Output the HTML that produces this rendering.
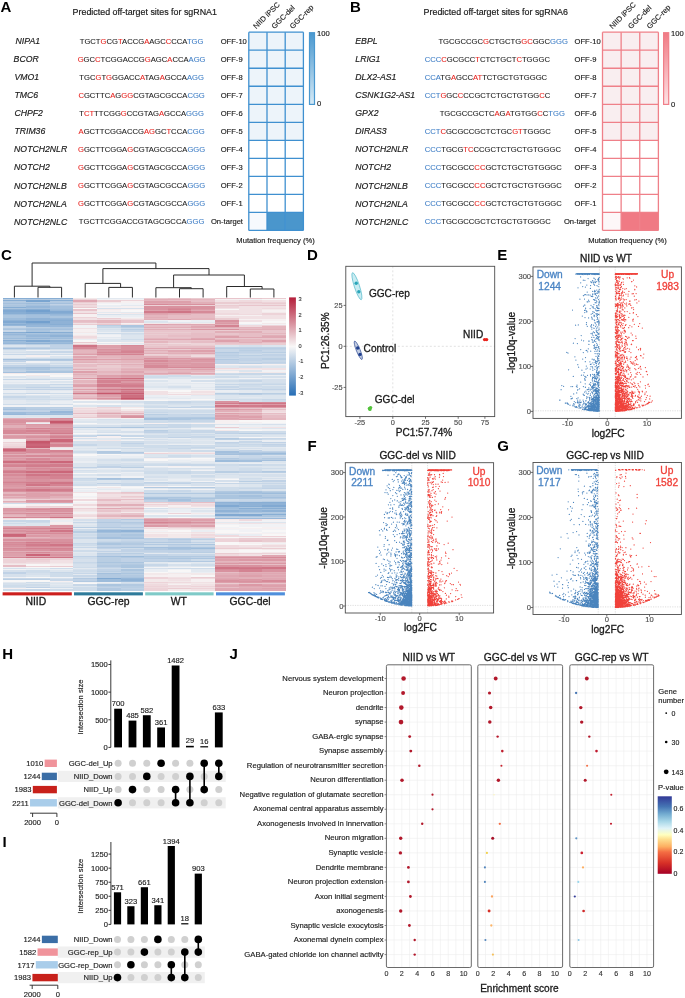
<!DOCTYPE html>
<html><head><meta charset="utf-8"><style>
html,body{margin:0;padding:0;background:#fff;}
svg{display:block;filter:blur(0.3px);font-family:"Liberation Sans", sans-serif;}
</style></head><body>
<svg width="685" height="998" viewBox="0 0 685 998">
<rect width="685" height="998" fill="#fff"/>
<text x="0.40" y="11.90" font-size="15.0" font-weight="bold" fill="#000">A</text>
<text x="72.60" y="14.84" font-size="8.9" fill="#1a1a1a" stroke="#1a1a1a" stroke-width="0.18">Predicted off-target sites for sgRNA1</text>
<text x="15.60" y="44.27" font-size="8.7" font-style="italic" fill="#1a1a1a" stroke="#1a1a1a" stroke-width="0.17">NIPA1</text>
<text x="141.60" y="43.89" font-size="7.65" stroke-width="0.09" text-anchor="middle"><tspan fill="#1a1a1a" stroke="#1a1a1a">TGCT</tspan><tspan fill="#e8231f" stroke="#e8231f">G</tspan><tspan fill="#1a1a1a" stroke="#1a1a1a">CG</tspan><tspan fill="#e8231f" stroke="#e8231f">T</tspan><tspan fill="#1a1a1a" stroke="#1a1a1a">ACCG</tspan><tspan fill="#e8231f" stroke="#e8231f">A</tspan><tspan fill="#1a1a1a" stroke="#1a1a1a">AGC</tspan><tspan fill="#e8231f" stroke="#e8231f">C</tspan><tspan fill="#1a1a1a" stroke="#1a1a1a">CCA</tspan><tspan fill="#3f7fc6" stroke="#3f7fc6">TGG</tspan></text>
<text x="220.70" y="43.87" font-size="7.6" fill="#1a1a1a" stroke="#1a1a1a" stroke-width="0.15">OFF-10</text>
<text x="13.60" y="62.30" font-size="8.7" font-style="italic" fill="#1a1a1a" stroke="#1a1a1a" stroke-width="0.17">BCOR</text>
<text x="141.60" y="61.92" font-size="7.65" stroke-width="0.09" text-anchor="middle"><tspan fill="#e8231f" stroke="#e8231f">G</tspan><tspan fill="#1a1a1a" stroke="#1a1a1a">GC</tspan><tspan fill="#e8231f" stroke="#e8231f">C</tspan><tspan fill="#1a1a1a" stroke="#1a1a1a">TCGGACCG</tspan><tspan fill="#e8231f" stroke="#e8231f">G</tspan><tspan fill="#1a1a1a" stroke="#1a1a1a">AGC</tspan><tspan fill="#e8231f" stroke="#e8231f">A</tspan><tspan fill="#1a1a1a" stroke="#1a1a1a">CCA</tspan><tspan fill="#3f7fc6" stroke="#3f7fc6">AGG</tspan></text>
<text x="220.70" y="61.90" font-size="7.6" fill="#1a1a1a" stroke="#1a1a1a" stroke-width="0.15">OFF-9</text>
<text x="14.40" y="80.33" font-size="8.7" font-style="italic" fill="#1a1a1a" stroke="#1a1a1a" stroke-width="0.17">VMO1</text>
<text x="141.60" y="79.95" font-size="7.65" stroke-width="0.09" text-anchor="middle"><tspan fill="#1a1a1a" stroke="#1a1a1a">TGC</tspan><tspan fill="#e8231f" stroke="#e8231f">G</tspan><tspan fill="#1a1a1a" stroke="#1a1a1a">T</tspan><tspan fill="#e8231f" stroke="#e8231f">G</tspan><tspan fill="#1a1a1a" stroke="#1a1a1a">GGACC</tspan><tspan fill="#e8231f" stroke="#e8231f">A</tspan><tspan fill="#1a1a1a" stroke="#1a1a1a">TAG</tspan><tspan fill="#e8231f" stroke="#e8231f">A</tspan><tspan fill="#1a1a1a" stroke="#1a1a1a">GCCA</tspan><tspan fill="#3f7fc6" stroke="#3f7fc6">AGG</tspan></text>
<text x="220.70" y="79.93" font-size="7.6" fill="#1a1a1a" stroke="#1a1a1a" stroke-width="0.15">OFF-8</text>
<text x="14.40" y="98.36" font-size="8.7" font-style="italic" fill="#1a1a1a" stroke="#1a1a1a" stroke-width="0.17">TMC6</text>
<text x="141.60" y="97.98" font-size="7.65" stroke-width="0.09" text-anchor="middle"><tspan fill="#e8231f" stroke="#e8231f">C</tspan><tspan fill="#1a1a1a" stroke="#1a1a1a">GCTTC</tspan><tspan fill="#e8231f" stroke="#e8231f">A</tspan><tspan fill="#1a1a1a" stroke="#1a1a1a">G</tspan><tspan fill="#e8231f" stroke="#e8231f">GG</tspan><tspan fill="#1a1a1a" stroke="#1a1a1a">CGTAGCGCCA</tspan><tspan fill="#3f7fc6" stroke="#3f7fc6">CGG</tspan></text>
<text x="220.70" y="97.96" font-size="7.6" fill="#1a1a1a" stroke="#1a1a1a" stroke-width="0.15">OFF-7</text>
<text x="14.40" y="116.39" font-size="8.7" font-style="italic" fill="#1a1a1a" stroke="#1a1a1a" stroke-width="0.17">CHPF2</text>
<text x="141.60" y="116.01" font-size="7.65" stroke-width="0.09" text-anchor="middle"><tspan fill="#1a1a1a" stroke="#1a1a1a">T</tspan><tspan fill="#e8231f" stroke="#e8231f">CT</tspan><tspan fill="#1a1a1a" stroke="#1a1a1a">TTCGG</tspan><tspan fill="#e8231f" stroke="#e8231f">G</tspan><tspan fill="#1a1a1a" stroke="#1a1a1a">CCGTAG</tspan><tspan fill="#e8231f" stroke="#e8231f">A</tspan><tspan fill="#1a1a1a" stroke="#1a1a1a">GCCA</tspan><tspan fill="#3f7fc6" stroke="#3f7fc6">GGG</tspan></text>
<text x="220.70" y="115.99" font-size="7.6" fill="#1a1a1a" stroke="#1a1a1a" stroke-width="0.15">OFF-6</text>
<text x="14.40" y="134.42" font-size="8.7" font-style="italic" fill="#1a1a1a" stroke="#1a1a1a" stroke-width="0.17">TRIM36</text>
<text x="141.60" y="134.04" font-size="7.65" stroke-width="0.09" text-anchor="middle"><tspan fill="#e8231f" stroke="#e8231f">A</tspan><tspan fill="#1a1a1a" stroke="#1a1a1a">GCTTCGGACCG</tspan><tspan fill="#e8231f" stroke="#e8231f">AG</tspan><tspan fill="#1a1a1a" stroke="#1a1a1a">GC</tspan><tspan fill="#e8231f" stroke="#e8231f">T</tspan><tspan fill="#1a1a1a" stroke="#1a1a1a">CCA</tspan><tspan fill="#3f7fc6" stroke="#3f7fc6">CGG</tspan></text>
<text x="220.70" y="134.02" font-size="7.6" fill="#1a1a1a" stroke="#1a1a1a" stroke-width="0.15">OFF-5</text>
<text x="14.10" y="152.45" font-size="8.7" font-style="italic" fill="#1a1a1a" stroke="#1a1a1a" stroke-width="0.17">NOTCH2NLR</text>
<text x="141.60" y="152.07" font-size="7.65" stroke-width="0.09" text-anchor="middle"><tspan fill="#e8231f" stroke="#e8231f">G</tspan><tspan fill="#1a1a1a" stroke="#1a1a1a">GCTTCGGA</tspan><tspan fill="#e8231f" stroke="#e8231f">G</tspan><tspan fill="#1a1a1a" stroke="#1a1a1a">CGTAGCGCCA</tspan><tspan fill="#3f7fc6" stroke="#3f7fc6">GGG</tspan></text>
<text x="220.70" y="152.05" font-size="7.6" fill="#1a1a1a" stroke="#1a1a1a" stroke-width="0.15">OFF-4</text>
<text x="14.10" y="170.48" font-size="8.7" font-style="italic" fill="#1a1a1a" stroke="#1a1a1a" stroke-width="0.17">NOTCH2</text>
<text x="141.60" y="170.10" font-size="7.65" stroke-width="0.09" text-anchor="middle"><tspan fill="#e8231f" stroke="#e8231f">G</tspan><tspan fill="#1a1a1a" stroke="#1a1a1a">GCTTCGGA</tspan><tspan fill="#e8231f" stroke="#e8231f">G</tspan><tspan fill="#1a1a1a" stroke="#1a1a1a">CGTAGCGCCA</tspan><tspan fill="#3f7fc6" stroke="#3f7fc6">GGG</tspan></text>
<text x="220.70" y="170.08" font-size="7.6" fill="#1a1a1a" stroke="#1a1a1a" stroke-width="0.15">OFF-3</text>
<text x="14.10" y="188.51" font-size="8.7" font-style="italic" fill="#1a1a1a" stroke="#1a1a1a" stroke-width="0.17">NOTCH2NLB</text>
<text x="141.60" y="188.13" font-size="7.65" stroke-width="0.09" text-anchor="middle"><tspan fill="#e8231f" stroke="#e8231f">G</tspan><tspan fill="#1a1a1a" stroke="#1a1a1a">GCTTCGGA</tspan><tspan fill="#e8231f" stroke="#e8231f">G</tspan><tspan fill="#1a1a1a" stroke="#1a1a1a">CGTAGCGCCA</tspan><tspan fill="#3f7fc6" stroke="#3f7fc6">GGG</tspan></text>
<text x="220.70" y="188.11" font-size="7.6" fill="#1a1a1a" stroke="#1a1a1a" stroke-width="0.15">OFF-2</text>
<text x="14.10" y="206.54" font-size="8.7" font-style="italic" fill="#1a1a1a" stroke="#1a1a1a" stroke-width="0.17">NOTCH2NLA</text>
<text x="141.60" y="206.16" font-size="7.65" stroke-width="0.09" text-anchor="middle"><tspan fill="#e8231f" stroke="#e8231f">G</tspan><tspan fill="#1a1a1a" stroke="#1a1a1a">GCTTCGGA</tspan><tspan fill="#e8231f" stroke="#e8231f">G</tspan><tspan fill="#1a1a1a" stroke="#1a1a1a">CGTAGCGCCA</tspan><tspan fill="#3f7fc6" stroke="#3f7fc6">GGG</tspan></text>
<text x="220.70" y="206.14" font-size="7.6" fill="#1a1a1a" stroke="#1a1a1a" stroke-width="0.15">OFF-1</text>
<text x="14.10" y="224.57" font-size="8.7" font-style="italic" fill="#1a1a1a" stroke="#1a1a1a" stroke-width="0.17">NOTCH2NLC</text>
<text x="141.60" y="224.19" font-size="7.65" stroke-width="0.09" text-anchor="middle"><tspan fill="#1a1a1a" stroke="#1a1a1a">TGCTTCGGACCGTAGCGCCA</tspan><tspan fill="#3f7fc6" stroke="#3f7fc6">GGG</tspan></text>
<text x="210.90" y="224.17" font-size="7.6" fill="#1a1a1a" stroke="#1a1a1a" stroke-width="0.15">On-target</text>
<rect x="248.80" y="32.20" width="18.20" height="18.02" fill="#edf4fa"/>
<rect x="267.00" y="32.20" width="18.20" height="18.02" fill="#edf4fa"/>
<rect x="285.20" y="32.20" width="18.20" height="18.02" fill="#edf4fa"/>
<rect x="248.80" y="50.22" width="18.20" height="18.02" fill="#edf4fa"/>
<rect x="267.00" y="50.22" width="18.20" height="18.02" fill="#edf4fa"/>
<rect x="285.20" y="50.22" width="18.20" height="18.02" fill="#edf4fa"/>
<rect x="248.80" y="68.24" width="18.20" height="18.02" fill="#edf4fa"/>
<rect x="267.00" y="68.24" width="18.20" height="18.02" fill="#edf4fa"/>
<rect x="285.20" y="68.24" width="18.20" height="18.02" fill="#edf4fa"/>
<rect x="248.80" y="86.26" width="18.20" height="18.02" fill="#edf4fa"/>
<rect x="267.00" y="86.26" width="18.20" height="18.02" fill="#edf4fa"/>
<rect x="285.20" y="86.26" width="18.20" height="18.02" fill="#edf4fa"/>
<rect x="248.80" y="104.28" width="18.20" height="18.02" fill="#edf4fa"/>
<rect x="267.00" y="104.28" width="18.20" height="18.02" fill="#edf4fa"/>
<rect x="285.20" y="104.28" width="18.20" height="18.02" fill="#edf4fa"/>
<rect x="248.80" y="122.30" width="18.20" height="18.02" fill="#edf4fa"/>
<rect x="267.00" y="122.30" width="18.20" height="18.02" fill="#edf4fa"/>
<rect x="285.20" y="122.30" width="18.20" height="18.02" fill="#edf4fa"/>
<rect x="248.80" y="140.32" width="18.20" height="18.02" fill="#ffffff"/>
<rect x="267.00" y="140.32" width="18.20" height="18.02" fill="#ffffff"/>
<rect x="285.20" y="140.32" width="18.20" height="18.02" fill="#ffffff"/>
<rect x="248.80" y="158.34" width="18.20" height="18.02" fill="#ffffff"/>
<rect x="267.00" y="158.34" width="18.20" height="18.02" fill="#ffffff"/>
<rect x="285.20" y="158.34" width="18.20" height="18.02" fill="#ffffff"/>
<rect x="248.80" y="176.36" width="18.20" height="18.02" fill="#ffffff"/>
<rect x="267.00" y="176.36" width="18.20" height="18.02" fill="#ffffff"/>
<rect x="285.20" y="176.36" width="18.20" height="18.02" fill="#ffffff"/>
<rect x="248.80" y="194.38" width="18.20" height="18.02" fill="#ffffff"/>
<rect x="267.00" y="194.38" width="18.20" height="18.02" fill="#ffffff"/>
<rect x="285.20" y="194.38" width="18.20" height="18.02" fill="#ffffff"/>
<rect x="248.80" y="212.40" width="18.20" height="18.02" fill="#f6f9fd"/>
<rect x="267.00" y="212.40" width="18.20" height="18.02" fill="#4a96cc"/>
<rect x="285.20" y="212.40" width="18.20" height="18.02" fill="#4a96cc"/>
<line x1="248.80" y1="32.20" x2="303.40" y2="32.20" stroke="#3f90d0" stroke-width="1.3"/>
<line x1="248.80" y1="50.22" x2="303.40" y2="50.22" stroke="#3f90d0" stroke-width="1.3"/>
<line x1="248.80" y1="68.24" x2="303.40" y2="68.24" stroke="#3f90d0" stroke-width="1.3"/>
<line x1="248.80" y1="86.26" x2="303.40" y2="86.26" stroke="#3f90d0" stroke-width="1.3"/>
<line x1="248.80" y1="104.28" x2="303.40" y2="104.28" stroke="#3f90d0" stroke-width="1.3"/>
<line x1="248.80" y1="122.30" x2="303.40" y2="122.30" stroke="#3f90d0" stroke-width="1.3"/>
<line x1="248.80" y1="140.32" x2="303.40" y2="140.32" stroke="#3f90d0" stroke-width="1.3"/>
<line x1="248.80" y1="158.34" x2="303.40" y2="158.34" stroke="#3f90d0" stroke-width="1.3"/>
<line x1="248.80" y1="176.36" x2="303.40" y2="176.36" stroke="#3f90d0" stroke-width="1.3"/>
<line x1="248.80" y1="194.38" x2="303.40" y2="194.38" stroke="#3f90d0" stroke-width="1.3"/>
<line x1="248.80" y1="212.40" x2="303.40" y2="212.40" stroke="#3f90d0" stroke-width="1.3"/>
<line x1="248.80" y1="230.42" x2="303.40" y2="230.42" stroke="#3f90d0" stroke-width="1.3"/>
<line x1="248.80" y1="32.20" x2="248.80" y2="230.42" stroke="#3f90d0" stroke-width="1.3"/>
<line x1="267.00" y1="32.20" x2="267.00" y2="230.42" stroke="#3f90d0" stroke-width="1.3"/>
<line x1="285.20" y1="32.20" x2="285.20" y2="230.42" stroke="#3f90d0" stroke-width="1.3"/>
<line x1="303.40" y1="32.20" x2="303.40" y2="230.42" stroke="#3f90d0" stroke-width="1.3"/>
<text x="0" y="0" font-size="7.45" fill="#222" stroke="#222" stroke-width="0.15" transform="translate(256.30,29.20) rotate(-45)">NIID iPSC</text>
<text x="0" y="0" font-size="7.45" fill="#222" stroke="#222" stroke-width="0.15" transform="translate(274.50,29.20) rotate(-45)">GGC-del</text>
<text x="0" y="0" font-size="7.45" fill="#222" stroke="#222" stroke-width="0.15" transform="translate(292.70,29.20) rotate(-45)">GGC-rep</text>
<defs><linearGradient id="cbA" x1="0" y1="0" x2="0" y2="1"><stop offset="0" stop-color="#4a98cf"/><stop offset="1" stop-color="#d6eaf6"/></linearGradient></defs>
<rect x="309.50" y="32.70" width="5.00" height="71.70" fill="url(#cbA)" stroke="#4a98cf" stroke-width="1.2"/>
<text x="317.00" y="35.57" font-size="7.6" fill="#1a1a1a" stroke="#1a1a1a" stroke-width="0.15">100</text>
<text x="317.00" y="106.07" font-size="7.6" fill="#1a1a1a" stroke="#1a1a1a" stroke-width="0.15">0</text>
<text x="275.60" y="243.37" font-size="7.6" text-anchor="middle" fill="#1a1a1a" stroke="#1a1a1a" stroke-width="0.15">Mutation frequency (%)</text>
<text x="350.00" y="11.80" font-size="15.0" font-weight="bold" fill="#000">B</text>
<text x="423.60" y="15.24" font-size="8.9" fill="#1a1a1a" stroke="#1a1a1a" stroke-width="0.18">Predicted off-target sites for sgRNA6</text>
<text x="355.30" y="44.27" font-size="8.7" font-style="italic" fill="#1a1a1a" stroke="#1a1a1a" stroke-width="0.17">EBPL</text>
<text x="438.40" y="43.89" font-size="7.65" stroke-width="0.09"><tspan fill="#1a1a1a" stroke="#1a1a1a">TGCGCCGC</tspan><tspan fill="#e8231f" stroke="#e8231f">G</tspan><tspan fill="#1a1a1a" stroke="#1a1a1a">CTGCTG</tspan><tspan fill="#e8231f" stroke="#e8231f">GC</tspan><tspan fill="#1a1a1a" stroke="#1a1a1a">GGC</tspan><tspan fill="#3f7fc6" stroke="#3f7fc6">GGG</tspan></text>
<text x="574.50" y="43.87" font-size="7.6" fill="#1a1a1a" stroke="#1a1a1a" stroke-width="0.15">OFF-10</text>
<text x="355.30" y="62.30" font-size="8.7" font-style="italic" fill="#1a1a1a" stroke="#1a1a1a" stroke-width="0.17">LRIG1</text>
<text x="424.70" y="61.92" font-size="7.65" stroke-width="0.09"><tspan fill="#3f7fc6" stroke="#3f7fc6">CCC</tspan><tspan fill="#e8231f" stroke="#e8231f">C</tspan><tspan fill="#1a1a1a" stroke="#1a1a1a">GCGCC</tspan><tspan fill="#e8231f" stroke="#e8231f">T</tspan><tspan fill="#1a1a1a" stroke="#1a1a1a">CTCTGCT</tspan><tspan fill="#e8231f" stroke="#e8231f">C</tspan><tspan fill="#1a1a1a" stroke="#1a1a1a">TGGGC</tspan></text>
<text x="574.50" y="61.90" font-size="7.6" fill="#1a1a1a" stroke="#1a1a1a" stroke-width="0.15">OFF-9</text>
<text x="355.30" y="80.33" font-size="8.7" font-style="italic" fill="#1a1a1a" stroke="#1a1a1a" stroke-width="0.17">DLX2-AS1</text>
<text x="424.70" y="79.95" font-size="7.65" stroke-width="0.09"><tspan fill="#3f7fc6" stroke="#3f7fc6">CCA</tspan><tspan fill="#1a1a1a" stroke="#1a1a1a">TG</tspan><tspan fill="#e8231f" stroke="#e8231f">A</tspan><tspan fill="#1a1a1a" stroke="#1a1a1a">GCC</tspan><tspan fill="#e8231f" stroke="#e8231f">AT</tspan><tspan fill="#1a1a1a" stroke="#1a1a1a">TCTGCTGTGGGC</tspan></text>
<text x="574.50" y="79.93" font-size="7.6" fill="#1a1a1a" stroke="#1a1a1a" stroke-width="0.15">OFF-8</text>
<text x="355.30" y="98.36" font-size="8.7" font-style="italic" fill="#1a1a1a" stroke="#1a1a1a" stroke-width="0.17">CSNK1G2-AS1</text>
<text x="424.70" y="97.98" font-size="7.65" stroke-width="0.09"><tspan fill="#3f7fc6" stroke="#3f7fc6">CCT</tspan><tspan fill="#e8231f" stroke="#e8231f">G</tspan><tspan fill="#1a1a1a" stroke="#1a1a1a">GC</tspan><tspan fill="#e8231f" stroke="#e8231f">C</tspan><tspan fill="#1a1a1a" stroke="#1a1a1a">CCGCTCTGCTGTGG</tspan><tspan fill="#e8231f" stroke="#e8231f">C</tspan><tspan fill="#1a1a1a" stroke="#1a1a1a">C</tspan></text>
<text x="574.50" y="97.96" font-size="7.6" fill="#1a1a1a" stroke="#1a1a1a" stroke-width="0.15">OFF-7</text>
<text x="355.30" y="116.39" font-size="8.7" font-style="italic" fill="#1a1a1a" stroke="#1a1a1a" stroke-width="0.17">GPX2</text>
<text x="439.70" y="116.01" font-size="7.65" stroke-width="0.09"><tspan fill="#1a1a1a" stroke="#1a1a1a">TGCGCCGCTC</tspan><tspan fill="#e8231f" stroke="#e8231f">A</tspan><tspan fill="#1a1a1a" stroke="#1a1a1a">G</tspan><tspan fill="#e8231f" stroke="#e8231f">A</tspan><tspan fill="#1a1a1a" stroke="#1a1a1a">TGTGG</tspan><tspan fill="#e8231f" stroke="#e8231f">C</tspan><tspan fill="#1a1a1a" stroke="#1a1a1a">C</tspan><tspan fill="#3f7fc6" stroke="#3f7fc6">TGG</tspan></text>
<text x="574.50" y="115.99" font-size="7.6" fill="#1a1a1a" stroke="#1a1a1a" stroke-width="0.15">OFF-6</text>
<text x="355.30" y="134.42" font-size="8.7" font-style="italic" fill="#1a1a1a" stroke="#1a1a1a" stroke-width="0.17">DIRAS3</text>
<text x="424.70" y="134.04" font-size="7.65" stroke-width="0.09"><tspan fill="#3f7fc6" stroke="#3f7fc6">CCT</tspan><tspan fill="#e8231f" stroke="#e8231f">C</tspan><tspan fill="#1a1a1a" stroke="#1a1a1a">GCGCCGCTCTGC</tspan><tspan fill="#e8231f" stroke="#e8231f">GT</tspan><tspan fill="#1a1a1a" stroke="#1a1a1a">TGGGC</tspan></text>
<text x="574.50" y="134.02" font-size="7.6" fill="#1a1a1a" stroke="#1a1a1a" stroke-width="0.15">OFF-5</text>
<text x="355.30" y="152.45" font-size="8.7" font-style="italic" fill="#1a1a1a" stroke="#1a1a1a" stroke-width="0.17">NOTCH2NLR</text>
<text x="424.70" y="152.07" font-size="7.65" stroke-width="0.09"><tspan fill="#3f7fc6" stroke="#3f7fc6">CCC</tspan><tspan fill="#1a1a1a" stroke="#1a1a1a">TGCG</tspan><tspan fill="#e8231f" stroke="#e8231f">TC</tspan><tspan fill="#1a1a1a" stroke="#1a1a1a">CCGCTCTGCTGTGGGC</tspan></text>
<text x="574.50" y="152.05" font-size="7.6" fill="#1a1a1a" stroke="#1a1a1a" stroke-width="0.15">OFF-4</text>
<text x="355.30" y="170.48" font-size="8.7" font-style="italic" fill="#1a1a1a" stroke="#1a1a1a" stroke-width="0.17">NOTCH2</text>
<text x="424.70" y="170.10" font-size="7.65" stroke-width="0.09"><tspan fill="#3f7fc6" stroke="#3f7fc6">CCC</tspan><tspan fill="#1a1a1a" stroke="#1a1a1a">TGCGCC</tspan><tspan fill="#e8231f" stroke="#e8231f">CC</tspan><tspan fill="#1a1a1a" stroke="#1a1a1a">GCTCTGCTGTGGGC</tspan></text>
<text x="574.50" y="170.08" font-size="7.6" fill="#1a1a1a" stroke="#1a1a1a" stroke-width="0.15">OFF-3</text>
<text x="355.30" y="188.51" font-size="8.7" font-style="italic" fill="#1a1a1a" stroke="#1a1a1a" stroke-width="0.17">NOTCH2NLB</text>
<text x="424.70" y="188.13" font-size="7.65" stroke-width="0.09"><tspan fill="#3f7fc6" stroke="#3f7fc6">CCC</tspan><tspan fill="#1a1a1a" stroke="#1a1a1a">TGCGCC</tspan><tspan fill="#e8231f" stroke="#e8231f">CC</tspan><tspan fill="#1a1a1a" stroke="#1a1a1a">GCTCTGCTGTGGGC</tspan></text>
<text x="574.50" y="188.11" font-size="7.6" fill="#1a1a1a" stroke="#1a1a1a" stroke-width="0.15">OFF-2</text>
<text x="355.30" y="206.54" font-size="8.7" font-style="italic" fill="#1a1a1a" stroke="#1a1a1a" stroke-width="0.17">NOTCH2NLA</text>
<text x="424.70" y="206.16" font-size="7.65" stroke-width="0.09"><tspan fill="#3f7fc6" stroke="#3f7fc6">CCC</tspan><tspan fill="#1a1a1a" stroke="#1a1a1a">TGCGCC</tspan><tspan fill="#e8231f" stroke="#e8231f">CC</tspan><tspan fill="#1a1a1a" stroke="#1a1a1a">GCTCTGCTGTGGGC</tspan></text>
<text x="574.50" y="206.14" font-size="7.6" fill="#1a1a1a" stroke="#1a1a1a" stroke-width="0.15">OFF-1</text>
<text x="355.30" y="224.57" font-size="8.7" font-style="italic" fill="#1a1a1a" stroke="#1a1a1a" stroke-width="0.17">NOTCH2NLC</text>
<text x="424.70" y="224.19" font-size="7.65" stroke-width="0.09"><tspan fill="#3f7fc6" stroke="#3f7fc6">CCC</tspan><tspan fill="#1a1a1a" stroke="#1a1a1a">TGCGCCGCTCTGCTGTGGGC</tspan></text>
<text x="563.90" y="224.17" font-size="7.6" fill="#1a1a1a" stroke="#1a1a1a" stroke-width="0.15">On-target</text>
<rect x="602.50" y="32.20" width="18.63" height="18.02" fill="#f9eef0"/>
<rect x="621.13" y="32.20" width="18.63" height="18.02" fill="#f9eef0"/>
<rect x="639.76" y="32.20" width="18.63" height="18.02" fill="#f9eef0"/>
<rect x="602.50" y="50.22" width="18.63" height="18.02" fill="#f9eef0"/>
<rect x="621.13" y="50.22" width="18.63" height="18.02" fill="#f9eef0"/>
<rect x="639.76" y="50.22" width="18.63" height="18.02" fill="#f9eef0"/>
<rect x="602.50" y="68.24" width="18.63" height="18.02" fill="#f9eef0"/>
<rect x="621.13" y="68.24" width="18.63" height="18.02" fill="#f9eef0"/>
<rect x="639.76" y="68.24" width="18.63" height="18.02" fill="#f9eef0"/>
<rect x="602.50" y="86.26" width="18.63" height="18.02" fill="#f9eef0"/>
<rect x="621.13" y="86.26" width="18.63" height="18.02" fill="#f9eef0"/>
<rect x="639.76" y="86.26" width="18.63" height="18.02" fill="#f9eef0"/>
<rect x="602.50" y="104.28" width="18.63" height="18.02" fill="#f9eef0"/>
<rect x="621.13" y="104.28" width="18.63" height="18.02" fill="#f9eef0"/>
<rect x="639.76" y="104.28" width="18.63" height="18.02" fill="#f9eef0"/>
<rect x="602.50" y="122.30" width="18.63" height="18.02" fill="#f9eef0"/>
<rect x="621.13" y="122.30" width="18.63" height="18.02" fill="#f9eef0"/>
<rect x="639.76" y="122.30" width="18.63" height="18.02" fill="#f9eef0"/>
<rect x="602.50" y="140.32" width="18.63" height="18.02" fill="#ffffff"/>
<rect x="621.13" y="140.32" width="18.63" height="18.02" fill="#ffffff"/>
<rect x="639.76" y="140.32" width="18.63" height="18.02" fill="#ffffff"/>
<rect x="602.50" y="158.34" width="18.63" height="18.02" fill="#ffffff"/>
<rect x="621.13" y="158.34" width="18.63" height="18.02" fill="#ffffff"/>
<rect x="639.76" y="158.34" width="18.63" height="18.02" fill="#ffffff"/>
<rect x="602.50" y="176.36" width="18.63" height="18.02" fill="#ffffff"/>
<rect x="621.13" y="176.36" width="18.63" height="18.02" fill="#ffffff"/>
<rect x="639.76" y="176.36" width="18.63" height="18.02" fill="#ffffff"/>
<rect x="602.50" y="194.38" width="18.63" height="18.02" fill="#ffffff"/>
<rect x="621.13" y="194.38" width="18.63" height="18.02" fill="#ffffff"/>
<rect x="639.76" y="194.38" width="18.63" height="18.02" fill="#ffffff"/>
<rect x="602.50" y="212.40" width="18.63" height="18.02" fill="#fdf7f8"/>
<rect x="621.13" y="212.40" width="18.63" height="18.02" fill="#f07a84"/>
<rect x="639.76" y="212.40" width="18.63" height="18.02" fill="#f07a84"/>
<line x1="602.50" y1="32.20" x2="658.39" y2="32.20" stroke="#ef8089" stroke-width="1.3"/>
<line x1="602.50" y1="50.22" x2="658.39" y2="50.22" stroke="#ef8089" stroke-width="1.3"/>
<line x1="602.50" y1="68.24" x2="658.39" y2="68.24" stroke="#ef8089" stroke-width="1.3"/>
<line x1="602.50" y1="86.26" x2="658.39" y2="86.26" stroke="#ef8089" stroke-width="1.3"/>
<line x1="602.50" y1="104.28" x2="658.39" y2="104.28" stroke="#ef8089" stroke-width="1.3"/>
<line x1="602.50" y1="122.30" x2="658.39" y2="122.30" stroke="#ef8089" stroke-width="1.3"/>
<line x1="602.50" y1="140.32" x2="658.39" y2="140.32" stroke="#ef8089" stroke-width="1.3"/>
<line x1="602.50" y1="158.34" x2="658.39" y2="158.34" stroke="#ef8089" stroke-width="1.3"/>
<line x1="602.50" y1="176.36" x2="658.39" y2="176.36" stroke="#ef8089" stroke-width="1.3"/>
<line x1="602.50" y1="194.38" x2="658.39" y2="194.38" stroke="#ef8089" stroke-width="1.3"/>
<line x1="602.50" y1="212.40" x2="658.39" y2="212.40" stroke="#ef8089" stroke-width="1.3"/>
<line x1="602.50" y1="230.42" x2="658.39" y2="230.42" stroke="#ef8089" stroke-width="1.3"/>
<line x1="602.50" y1="32.20" x2="602.50" y2="230.42" stroke="#ef8089" stroke-width="1.3"/>
<line x1="621.13" y1="32.20" x2="621.13" y2="230.42" stroke="#ef8089" stroke-width="1.3"/>
<line x1="639.76" y1="32.20" x2="639.76" y2="230.42" stroke="#ef8089" stroke-width="1.3"/>
<line x1="658.39" y1="32.20" x2="658.39" y2="230.42" stroke="#ef8089" stroke-width="1.3"/>
<text x="0" y="0" font-size="7.45" fill="#222" stroke="#222" stroke-width="0.15" transform="translate(612.42,29.20) rotate(-45)">NIID iPSC</text>
<text x="0" y="0" font-size="7.45" fill="#222" stroke="#222" stroke-width="0.15" transform="translate(631.05,29.20) rotate(-45)">GGC-del</text>
<text x="0" y="0" font-size="7.45" fill="#222" stroke="#222" stroke-width="0.15" transform="translate(649.68,29.20) rotate(-45)">GGC-rep</text>
<defs><linearGradient id="cbB" x1="0" y1="0" x2="0" y2="1"><stop offset="0" stop-color="#f07a84"/><stop offset="1" stop-color="#fde3e6"/></linearGradient></defs>
<rect x="663.60" y="32.70" width="5.10" height="71.70" fill="url(#cbB)" stroke="#f07f89" stroke-width="1.2"/>
<text x="671.10" y="36.07" font-size="7.6" fill="#1a1a1a" stroke="#1a1a1a" stroke-width="0.15">100</text>
<text x="671.10" y="107.27" font-size="7.6" fill="#1a1a1a" stroke="#1a1a1a" stroke-width="0.15">0</text>
<text x="627.50" y="243.37" font-size="7.6" text-anchor="middle" fill="#1a1a1a" stroke="#1a1a1a" stroke-width="0.15">Mutation frequency (%)</text>
<text x="1.00" y="260.00" font-size="15.0" font-weight="bold" fill="#000">C</text>
<g shape-rendering="crispEdges">
<path fill="#88aed4" d="M2.6 297.50h70.8v1.55h-70.8zM2.6 300.00h23.6v1.55h-23.6zM49.8 300.00h23.6v1.55h-23.6zM2.6 306.26h23.6v1.55h-23.6zM26.2 308.77h23.6v1.55h-23.6zM2.6 311.27h23.6v1.55h-23.6zM2.6 312.52h23.6v1.55h-23.6zM49.8 312.52h23.6v1.55h-23.6zM49.8 320.03h23.6v1.55h-23.6zM26.2 322.53h23.6v1.55h-23.6zM2.6 323.79h23.6v1.55h-23.6zM49.8 323.79h23.6v1.55h-23.6zM2.6 331.30h23.6v1.55h-23.6zM49.8 331.30h23.6v1.55h-23.6zM2.6 340.06h23.6v1.55h-23.6zM238.5 501.53h47.2v1.55h-47.2zM238.5 505.28h23.6v1.55h-23.6zM238.5 507.79h47.2v1.55h-47.2zM262.1 514.05h23.6v1.55h-23.6z"/>
<path fill="#f3e9ea" d="M73.4 297.50h23.6v1.55h-23.6zM97.0 301.26h23.6v1.55h-23.6zM97.0 308.77h23.6v1.55h-23.6zM262.1 308.77h23.6v1.55h-23.6zM262.1 311.27h23.6v1.55h-23.6zM120.6 312.52h23.6v1.55h-23.6zM120.6 317.53h23.6v1.55h-23.6zM144.1 322.53h23.6v1.55h-23.6zM191.3 322.53h23.6v1.55h-23.6zM262.1 322.53h23.6v1.55h-23.6zM73.4 331.30h23.6v1.55h-23.6zM73.4 335.05h23.6v1.55h-23.6zM73.4 342.56h23.6v1.55h-23.6zM214.9 368.85h47.2v1.55h-47.2zM238.5 371.35h47.2v1.55h-47.2zM2.6 372.60h23.6v1.55h-23.6zM26.2 375.11h23.6v1.55h-23.6zM167.7 391.38h23.6v1.55h-23.6zM191.3 392.63h23.6v1.55h-23.6zM73.4 406.40h23.6v1.55h-23.6zM120.6 406.40h23.6v1.55h-23.6zM120.6 408.90h23.6v1.55h-23.6zM120.6 410.15h23.6v1.55h-23.6zM238.5 426.43h23.6v1.55h-23.6zM214.9 430.18h23.6v1.55h-23.6zM97.0 440.19h23.6v1.55h-23.6zM49.8 448.96h23.6v1.55h-23.6zM167.7 451.46h47.2v1.55h-47.2zM97.0 486.51h23.6v1.55h-23.6zM144.1 502.78h23.6v1.55h-23.6zM2.6 506.54h23.6v1.55h-23.6zM167.7 506.54h23.6v1.55h-23.6zM73.4 510.29h23.6v1.55h-23.6zM120.6 511.54h23.6v1.55h-23.6zM191.3 512.79h23.6v1.55h-23.6zM26.2 517.80h23.6v1.55h-23.6zM73.4 517.80h23.6v1.55h-23.6zM2.6 519.05h23.6v1.55h-23.6zM49.8 519.05h23.6v1.55h-23.6zM214.9 519.05h23.6v1.55h-23.6zM262.1 519.05h23.6v1.55h-23.6zM214.9 522.81h23.6v1.55h-23.6zM262.1 522.81h23.6v1.55h-23.6zM49.8 524.06h23.6v1.55h-23.6zM167.7 529.07h47.2v1.55h-47.2zM144.1 531.57h47.2v1.55h-47.2zM191.3 532.82h23.6v1.55h-23.6zM167.7 534.07h23.6v1.55h-23.6zM167.7 535.32h23.6v1.55h-23.6zM144.1 536.58h47.2v1.55h-47.2zM262.1 541.58h23.6v1.55h-23.6zM262.1 544.09h23.6v1.55h-23.6zM262.1 546.59h23.6v1.55h-23.6zM214.9 549.09h23.6v1.55h-23.6zM262.1 549.09h23.6v1.55h-23.6zM262.1 551.60h23.6v1.55h-23.6zM262.1 554.10h23.6v1.55h-23.6zM49.8 562.86h23.6v1.55h-23.6zM2.6 564.11h23.6v1.55h-23.6zM144.1 572.88h70.8v1.55h-70.8zM144.1 574.13h23.6v1.55h-23.6zM191.3 574.13h23.6v1.55h-23.6zM144.1 579.13h23.6v1.55h-23.6zM144.1 580.39h47.2v1.55h-47.2zM167.7 582.89h47.2v1.55h-47.2zM167.7 589.15h23.6v1.55h-23.6z"/>
<path fill="#e3e9f0" d="M97.0 297.50h47.2v1.55h-47.2zM120.6 305.01h23.6v1.55h-23.6zM97.0 311.27h47.2v1.55h-47.2zM167.7 321.28h47.2v1.55h-47.2zM120.6 331.30h23.6v1.55h-23.6zM97.0 336.30h23.6v1.55h-23.6zM97.0 342.56h47.2v1.55h-47.2zM49.8 350.07h23.6v1.55h-23.6zM2.6 352.58h23.6v1.55h-23.6zM49.8 352.58h23.6v1.55h-23.6zM26.2 356.33h23.6v1.55h-23.6zM2.6 361.34h23.6v1.55h-23.6zM214.9 365.09h70.8v1.55h-70.8zM214.9 370.10h23.6v1.55h-23.6zM191.3 375.11h23.6v1.55h-23.6zM26.2 376.36h47.2v1.55h-47.2zM49.8 377.61h23.6v1.55h-23.6zM2.6 381.36h47.2v1.55h-47.2zM144.1 382.62h70.8v1.55h-70.8zM144.1 383.87h23.6v1.55h-23.6zM144.1 385.12h47.2v1.55h-47.2zM191.3 386.37h23.6v1.55h-23.6zM167.7 387.62h23.6v1.55h-23.6zM191.3 388.87h23.6v1.55h-23.6zM26.2 390.13h47.2v1.55h-47.2zM238.5 390.13h23.6v1.55h-23.6zM26.2 391.38h23.6v1.55h-23.6zM214.9 391.38h47.2v1.55h-47.2zM2.6 393.88h23.6v1.55h-23.6zM191.3 395.13h23.6v1.55h-23.6zM144.1 396.39h23.6v1.55h-23.6zM238.5 396.39h23.6v1.55h-23.6zM167.7 397.64h23.6v1.55h-23.6zM2.6 400.14h23.6v1.55h-23.6zM49.8 400.14h23.6v1.55h-23.6zM214.9 400.14h23.6v1.55h-23.6zM2.6 401.39h47.2v1.55h-47.2zM2.6 402.64h23.6v1.55h-23.6zM120.6 402.64h23.6v1.55h-23.6zM26.2 416.41h23.6v1.55h-23.6zM73.4 418.92h23.6v1.55h-23.6zM73.4 420.17h23.6v1.55h-23.6zM97.0 422.67h23.6v1.55h-23.6zM120.6 423.92h23.6v1.55h-23.6zM73.4 427.68h70.8v1.55h-70.8zM167.7 427.68h23.6v1.55h-23.6zM238.5 427.68h23.6v1.55h-23.6zM97.0 428.93h23.6v1.55h-23.6zM191.3 428.93h23.6v1.55h-23.6zM73.4 431.43h23.6v1.55h-23.6zM214.9 436.44h23.6v1.55h-23.6zM97.0 437.69h23.6v1.55h-23.6zM144.1 437.69h23.6v1.55h-23.6zM97.0 438.94h47.2v1.55h-47.2zM144.1 440.19h23.6v1.55h-23.6zM191.3 440.19h23.6v1.55h-23.6zM238.5 440.19h23.6v1.55h-23.6zM144.1 443.95h23.6v1.55h-23.6zM73.4 446.45h23.6v1.55h-23.6zM120.6 446.45h23.6v1.55h-23.6zM214.9 446.45h70.8v1.55h-70.8zM73.4 448.96h23.6v1.55h-23.6zM238.5 448.96h23.6v1.55h-23.6zM97.0 450.21h23.6v1.55h-23.6zM73.4 452.71h23.6v1.55h-23.6zM191.3 453.96h23.6v1.55h-23.6zM120.6 455.22h23.6v1.55h-23.6zM191.3 456.47h23.6v1.55h-23.6zM73.4 457.72h47.2v1.55h-47.2zM73.4 458.97h23.6v1.55h-23.6zM73.4 460.22h23.6v1.55h-23.6zM144.1 460.22h23.6v1.55h-23.6zM191.3 460.22h23.6v1.55h-23.6zM120.6 461.47h141.5v1.55h-141.5zM214.9 462.73h23.6v1.55h-23.6zM262.1 462.73h23.6v1.55h-23.6zM97.0 465.23h23.6v1.55h-23.6zM214.9 465.23h23.6v1.55h-23.6zM144.1 466.48h23.6v1.55h-23.6zM120.6 467.73h23.6v1.55h-23.6zM97.0 468.98h47.2v1.55h-47.2zM191.3 468.98h23.6v1.55h-23.6zM97.0 471.49h23.6v1.55h-23.6zM120.6 472.74h23.6v1.55h-23.6zM238.5 472.74h47.2v1.55h-47.2zM120.6 473.99h23.6v1.55h-23.6zM191.3 473.99h23.6v1.55h-23.6zM97.0 475.24h47.2v1.55h-47.2zM73.4 476.49h23.6v1.55h-23.6zM262.1 476.49h23.6v1.55h-23.6zM144.1 477.75h70.8v1.55h-70.8zM262.1 479.00h23.6v1.55h-23.6zM167.7 480.25h23.6v1.55h-23.6zM214.9 484.00h23.6v1.55h-23.6zM214.9 485.26h23.6v1.55h-23.6zM73.4 487.76h23.6v1.55h-23.6zM144.1 487.76h23.6v1.55h-23.6zM97.0 489.01h23.6v1.55h-23.6zM120.6 490.26h23.6v1.55h-23.6zM167.7 507.79h23.6v1.55h-23.6zM73.4 520.30h23.6v1.55h-23.6zM214.9 521.56h23.6v1.55h-23.6zM73.4 524.06h23.6v1.55h-23.6zM214.9 534.07h23.6v1.55h-23.6zM73.4 547.84h23.6v1.55h-23.6zM73.4 549.09h23.6v1.55h-23.6zM73.4 551.60h23.6v1.55h-23.6zM144.1 552.85h23.6v1.55h-23.6zM144.1 561.61h70.8v1.55h-70.8zM167.7 565.37h23.6v1.55h-23.6zM73.4 567.87h23.6v1.55h-23.6zM191.3 569.12h23.6v1.55h-23.6zM191.3 570.37h23.6v1.55h-23.6zM73.4 574.13h23.6v1.55h-23.6zM2.6 581.64h23.6v1.55h-23.6zM49.8 581.64h23.6v1.55h-23.6zM49.8 584.14h23.6v1.55h-23.6z"/>
<path fill="#eaccd1" d="M144.1 297.50h23.6v1.55h-23.6zM191.3 297.50h23.6v1.55h-23.6zM262.1 297.50h23.6v1.55h-23.6zM97.0 300.00h23.6v1.55h-23.6zM73.4 301.26h23.6v1.55h-23.6zM214.9 301.26h47.2v1.55h-47.2zM214.9 302.51h23.6v1.55h-23.6zM262.1 302.51h23.6v1.55h-23.6zM73.4 303.76h23.6v1.55h-23.6zM167.7 305.01h23.6v1.55h-23.6zM214.9 305.01h23.6v1.55h-23.6zM73.4 306.26h23.6v1.55h-23.6zM97.0 317.53h23.6v1.55h-23.6zM214.9 317.53h23.6v1.55h-23.6zM214.9 318.78h23.6v1.55h-23.6zM73.4 323.79h23.6v1.55h-23.6zM167.7 327.54h23.6v1.55h-23.6zM214.9 330.04h23.6v1.55h-23.6zM144.1 331.30h47.2v1.55h-47.2zM144.1 333.80h23.6v1.55h-23.6zM73.4 341.31h23.6v1.55h-23.6zM262.1 342.56h23.6v1.55h-23.6zM73.4 343.81h23.6v1.55h-23.6zM167.7 343.81h23.6v1.55h-23.6zM214.9 343.81h70.8v1.55h-70.8zM144.1 345.06h70.8v1.55h-70.8zM167.7 348.82h23.6v1.55h-23.6zM191.3 353.83h23.6v1.55h-23.6zM73.4 355.08h23.6v1.55h-23.6zM144.1 355.08h47.2v1.55h-47.2zM97.0 362.59h23.6v1.55h-23.6zM97.0 365.09h23.6v1.55h-23.6zM73.4 366.34h47.2v1.55h-47.2zM73.4 370.10h23.6v1.55h-23.6zM214.9 411.41h47.2v1.55h-47.2zM97.0 413.91h23.6v1.55h-23.6zM262.1 413.91h23.6v1.55h-23.6zM73.4 416.41h23.6v1.55h-23.6zM214.9 426.43h23.6v1.55h-23.6zM120.6 492.77h23.6v1.55h-23.6zM120.6 495.27h23.6v1.55h-23.6zM26.2 499.03h23.6v1.55h-23.6zM144.1 501.53h47.2v1.55h-47.2zM97.0 505.28h23.6v1.55h-23.6zM120.6 506.54h23.6v1.55h-23.6zM97.0 509.04h47.2v1.55h-47.2zM97.0 517.80h23.6v1.55h-23.6zM167.7 526.56h47.2v1.55h-47.2zM238.5 537.83h47.2v1.55h-47.2zM238.5 539.08h47.2v1.55h-47.2zM262.1 540.33h23.6v1.55h-23.6zM214.9 547.84h70.8v1.55h-70.8zM214.9 552.85h23.6v1.55h-23.6zM26.2 559.11h23.6v1.55h-23.6zM49.8 565.37h23.6v1.55h-23.6zM191.3 576.63h23.6v1.55h-23.6zM214.9 582.89h23.6v1.55h-23.6zM167.7 587.90h23.6v1.55h-23.6z"/>
<path fill="#e8c4cb" d="M167.7 297.50h23.6v1.55h-23.6zM214.9 297.50h47.2v1.55h-47.2zM238.5 305.01h47.2v1.55h-47.2zM73.4 308.77h23.6v1.55h-23.6zM73.4 310.02h23.6v1.55h-23.6zM73.4 312.52h23.6v1.55h-23.6zM120.6 320.03h23.6v1.55h-23.6zM73.4 321.28h23.6v1.55h-23.6zM120.6 321.28h23.6v1.55h-23.6zM97.0 323.79h23.6v1.55h-23.6zM144.1 327.54h23.6v1.55h-23.6zM144.1 330.04h70.8v1.55h-70.8zM238.5 330.04h47.2v1.55h-47.2zM191.3 331.30h23.6v1.55h-23.6zM262.1 331.30h23.6v1.55h-23.6zM144.1 332.55h47.2v1.55h-47.2zM214.9 332.55h23.6v1.55h-23.6zM167.7 333.80h23.6v1.55h-23.6zM214.9 333.80h23.6v1.55h-23.6zM262.1 333.80h23.6v1.55h-23.6zM144.1 335.05h23.6v1.55h-23.6zM144.1 336.30h47.2v1.55h-47.2zM214.9 337.55h70.8v1.55h-70.8zM144.1 340.06h70.8v1.55h-70.8zM167.7 341.31h23.6v1.55h-23.6zM214.9 342.56h47.2v1.55h-47.2zM144.1 343.81h23.6v1.55h-23.6zM144.1 346.32h23.6v1.55h-23.6zM144.1 348.82h23.6v1.55h-23.6zM167.7 353.83h23.6v1.55h-23.6zM120.6 362.59h23.6v1.55h-23.6zM120.6 366.34h23.6v1.55h-23.6zM73.4 367.60h47.2v1.55h-47.2zM97.0 368.85h23.6v1.55h-23.6zM97.0 370.10h23.6v1.55h-23.6zM191.3 371.35h23.6v1.55h-23.6zM167.7 373.85h23.6v1.55h-23.6zM73.4 376.36h23.6v1.55h-23.6zM73.4 382.62h23.6v1.55h-23.6zM73.4 386.37h23.6v1.55h-23.6zM73.4 387.62h23.6v1.55h-23.6zM73.4 390.13h23.6v1.55h-23.6zM73.4 395.13h23.6v1.55h-23.6zM238.5 407.65h23.6v1.55h-23.6zM97.0 411.41h23.6v1.55h-23.6zM97.0 416.41h23.6v1.55h-23.6zM120.6 491.51h23.6v1.55h-23.6zM49.8 499.03h23.6v1.55h-23.6zM2.6 501.53h23.6v1.55h-23.6zM97.0 510.29h23.6v1.55h-23.6zM120.6 512.79h23.6v1.55h-23.6zM97.0 514.05h47.2v1.55h-47.2zM238.5 540.33h23.6v1.55h-23.6zM238.5 582.89h47.2v1.55h-47.2z"/>
<path fill="#b9cee3" d="M2.6 298.75h23.6v1.55h-23.6zM49.8 298.75h23.6v1.55h-23.6zM97.0 325.04h23.6v1.55h-23.6zM26.2 326.29h23.6v1.55h-23.6zM120.6 326.29h23.6v1.55h-23.6zM120.6 328.79h23.6v1.55h-23.6zM49.8 330.04h23.6v1.55h-23.6zM26.2 343.81h47.2v1.55h-47.2zM49.8 347.57h23.6v1.55h-23.6zM214.9 347.57h70.8v1.55h-70.8zM238.5 350.07h23.6v1.55h-23.6zM262.1 351.32h23.6v1.55h-23.6zM214.9 355.08h47.2v1.55h-47.2zM262.1 357.58h23.6v1.55h-23.6zM262.1 358.83h23.6v1.55h-23.6zM26.2 360.09h23.6v1.55h-23.6zM238.5 362.59h23.6v1.55h-23.6zM49.8 367.60h23.6v1.55h-23.6zM2.6 368.85h23.6v1.55h-23.6zM26.2 370.10h47.2v1.55h-47.2zM214.9 392.63h23.6v1.55h-23.6zM262.1 392.63h23.6v1.55h-23.6zM238.5 393.88h23.6v1.55h-23.6zM26.2 406.40h47.2v1.55h-47.2zM26.2 407.65h23.6v1.55h-23.6zM49.8 410.15h23.6v1.55h-23.6zM144.1 413.91h23.6v1.55h-23.6zM144.1 416.41h23.6v1.55h-23.6zM191.3 418.92h23.6v1.55h-23.6zM73.4 426.43h23.6v1.55h-23.6zM144.1 430.18h23.6v1.55h-23.6zM238.5 432.68h23.6v1.55h-23.6zM97.0 435.19h23.6v1.55h-23.6zM214.9 438.94h23.6v1.55h-23.6zM97.0 452.71h23.6v1.55h-23.6zM214.9 458.97h70.8v1.55h-70.8zM120.6 466.48h23.6v1.55h-23.6zM214.9 470.24h23.6v1.55h-23.6zM214.9 471.49h23.6v1.55h-23.6zM262.1 471.49h23.6v1.55h-23.6zM238.5 480.25h23.6v1.55h-23.6zM262.1 490.26h23.6v1.55h-23.6zM214.9 494.02h70.8v1.55h-70.8zM191.3 496.52h23.6v1.55h-23.6zM191.3 499.03h23.6v1.55h-23.6zM191.3 500.28h23.6v1.55h-23.6zM262.1 500.28h23.6v1.55h-23.6zM238.5 512.79h23.6v1.55h-23.6zM120.6 522.81h23.6v1.55h-23.6zM73.4 526.56h23.6v1.55h-23.6zM120.6 529.07h23.6v1.55h-23.6zM73.4 530.32h23.6v1.55h-23.6zM73.4 531.57h23.6v1.55h-23.6zM97.0 532.82h47.2v1.55h-47.2zM191.3 539.08h23.6v1.55h-23.6zM97.0 541.58h47.2v1.55h-47.2zM191.3 549.09h23.6v1.55h-23.6zM191.3 551.60h23.6v1.55h-23.6zM97.0 552.85h47.2v1.55h-47.2zM97.0 556.60h23.6v1.55h-23.6zM144.1 556.60h47.2v1.55h-47.2zM97.0 557.86h23.6v1.55h-23.6zM97.0 559.11h23.6v1.55h-23.6zM97.0 560.36h23.6v1.55h-23.6zM144.1 560.36h23.6v1.55h-23.6zM97.0 562.86h47.2v1.55h-47.2zM97.0 564.11h23.6v1.55h-23.6zM97.0 570.37h47.2v1.55h-47.2zM120.6 571.62h23.6v1.55h-23.6zM120.6 574.13h23.6v1.55h-23.6zM2.6 579.13h47.2v1.55h-47.2zM97.0 585.39h47.2v1.55h-47.2zM120.6 586.64h23.6v1.55h-23.6zM120.6 589.15h23.6v1.55h-23.6z"/>
<path fill="#b2c9e1" d="M26.2 298.75h23.6v1.55h-23.6zM2.6 301.26h70.8v1.55h-70.8zM2.6 303.76h23.6v1.55h-23.6zM49.8 305.01h23.6v1.55h-23.6zM49.8 326.29h23.6v1.55h-23.6zM2.6 327.54h23.6v1.55h-23.6zM2.6 338.81h23.6v1.55h-23.6zM49.8 338.81h23.6v1.55h-23.6zM26.2 347.57h23.6v1.55h-23.6zM214.9 351.32h23.6v1.55h-23.6zM214.9 358.83h23.6v1.55h-23.6zM49.8 360.09h23.6v1.55h-23.6zM2.6 367.60h23.6v1.55h-23.6zM238.5 392.63h23.6v1.55h-23.6zM2.6 406.40h23.6v1.55h-23.6zM2.6 407.65h23.6v1.55h-23.6zM26.2 408.90h47.2v1.55h-47.2zM167.7 416.41h47.2v1.55h-47.2zM97.0 426.43h23.6v1.55h-23.6zM214.9 437.69h23.6v1.55h-23.6zM214.9 450.21h23.6v1.55h-23.6zM97.0 451.46h47.2v1.55h-47.2zM238.5 451.46h47.2v1.55h-47.2zM214.9 457.72h23.6v1.55h-23.6zM262.1 457.72h23.6v1.55h-23.6zM262.1 470.24h23.6v1.55h-23.6zM120.6 479.00h23.6v1.55h-23.6zM144.1 486.51h70.8v1.55h-70.8zM214.9 490.26h23.6v1.55h-23.6zM144.1 492.77h70.8v1.55h-70.8zM262.1 495.27h23.6v1.55h-23.6zM167.7 497.77h23.6v1.55h-23.6zM262.1 497.77h23.6v1.55h-23.6zM144.1 499.03h23.6v1.55h-23.6zM167.7 500.28h23.6v1.55h-23.6zM262.1 511.54h23.6v1.55h-23.6zM214.9 512.79h23.6v1.55h-23.6zM214.9 515.30h23.6v1.55h-23.6zM120.6 519.05h23.6v1.55h-23.6zM97.0 521.56h47.2v1.55h-47.2zM97.0 526.56h47.2v1.55h-47.2zM97.0 529.07h23.6v1.55h-23.6zM97.0 534.07h23.6v1.55h-23.6zM97.0 535.32h47.2v1.55h-47.2zM167.7 539.08h23.6v1.55h-23.6zM144.1 541.58h47.2v1.55h-47.2zM120.6 542.84h23.6v1.55h-23.6zM120.6 544.09h70.8v1.55h-70.8zM97.0 546.59h23.6v1.55h-23.6zM144.1 547.84h23.6v1.55h-23.6zM144.1 549.09h23.6v1.55h-23.6zM144.1 555.35h70.8v1.55h-70.8zM120.6 556.60h23.6v1.55h-23.6zM144.1 557.86h23.6v1.55h-23.6zM167.7 560.36h47.2v1.55h-47.2zM120.6 564.11h23.6v1.55h-23.6zM97.0 565.37h23.6v1.55h-23.6zM97.0 574.13h23.6v1.55h-23.6zM97.0 575.38h47.2v1.55h-47.2zM97.0 576.63h23.6v1.55h-23.6zM73.4 577.88h23.6v1.55h-23.6zM73.4 580.39h23.6v1.55h-23.6zM120.6 584.14h23.6v1.55h-23.6zM97.0 587.90h23.6v1.55h-23.6zM97.0 589.15h23.6v1.55h-23.6z"/>
<path fill="#edd3d8" d="M73.4 298.75h23.6v1.55h-23.6zM120.6 300.00h23.6v1.55h-23.6zM262.1 301.26h23.6v1.55h-23.6zM238.5 302.51h23.6v1.55h-23.6zM144.1 305.01h23.6v1.55h-23.6zM191.3 305.01h23.6v1.55h-23.6zM214.9 306.26h23.6v1.55h-23.6zM262.1 312.52h23.6v1.55h-23.6zM262.1 313.77h23.6v1.55h-23.6zM73.4 316.28h23.6v1.55h-23.6zM97.0 322.53h23.6v1.55h-23.6zM262.1 325.04h23.6v1.55h-23.6zM144.1 342.56h23.6v1.55h-23.6zM191.3 342.56h23.6v1.55h-23.6zM191.3 343.81h23.6v1.55h-23.6zM144.1 353.83h23.6v1.55h-23.6zM73.4 362.59h23.6v1.55h-23.6zM73.4 378.86h23.6v1.55h-23.6zM73.4 398.89h23.6v1.55h-23.6zM97.0 406.40h23.6v1.55h-23.6zM262.1 407.65h23.6v1.55h-23.6zM97.0 410.15h23.6v1.55h-23.6zM120.6 411.41h23.6v1.55h-23.6zM120.6 413.91h23.6v1.55h-23.6zM2.6 441.45h23.6v1.55h-23.6zM2.6 445.20h23.6v1.55h-23.6zM2.6 446.45h23.6v1.55h-23.6zM144.1 452.71h23.6v1.55h-23.6zM97.0 491.51h23.6v1.55h-23.6zM97.0 492.77h23.6v1.55h-23.6zM120.6 496.52h23.6v1.55h-23.6zM97.0 500.28h23.6v1.55h-23.6zM97.0 501.53h47.2v1.55h-47.2zM97.0 502.78h47.2v1.55h-47.2zM144.1 504.03h47.2v1.55h-47.2zM26.2 505.28h47.2v1.55h-47.2zM120.6 505.28h23.6v1.55h-23.6zM73.4 507.79h23.6v1.55h-23.6zM120.6 510.29h23.6v1.55h-23.6zM97.0 512.79h23.6v1.55h-23.6zM167.7 512.79h23.6v1.55h-23.6zM97.0 516.55h47.2v1.55h-47.2zM120.6 517.80h23.6v1.55h-23.6zM262.1 535.32h23.6v1.55h-23.6zM214.9 539.08h23.6v1.55h-23.6zM214.9 540.33h23.6v1.55h-23.6zM238.5 552.85h47.2v1.55h-47.2zM26.2 557.86h47.2v1.55h-47.2zM2.6 559.11h23.6v1.55h-23.6zM49.8 559.11h23.6v1.55h-23.6zM2.6 560.36h47.2v1.55h-47.2zM2.6 561.61h23.6v1.55h-23.6zM26.2 565.37h23.6v1.55h-23.6zM144.1 576.63h23.6v1.55h-23.6zM144.1 577.88h23.6v1.55h-23.6zM144.1 581.64h23.6v1.55h-23.6zM144.1 585.39h23.6v1.55h-23.6zM191.3 585.39h23.6v1.55h-23.6zM144.1 587.90h23.6v1.55h-23.6zM191.3 587.90h23.6v1.55h-23.6zM144.1 589.15h23.6v1.55h-23.6z"/>
<path fill="#f1f2f5" d="M97.0 298.75h47.2v1.55h-47.2zM238.5 298.75h23.6v1.55h-23.6zM97.0 302.51h47.2v1.55h-47.2zM120.6 303.76h23.6v1.55h-23.6zM97.0 316.28h47.2v1.55h-47.2zM167.7 320.03h23.6v1.55h-23.6zM262.1 323.79h23.6v1.55h-23.6zM73.4 325.04h23.6v1.55h-23.6zM73.4 326.29h23.6v1.55h-23.6zM73.4 332.55h23.6v1.55h-23.6zM97.0 335.05h23.6v1.55h-23.6zM26.2 350.07h23.6v1.55h-23.6zM49.8 355.08h23.6v1.55h-23.6zM26.2 361.34h23.6v1.55h-23.6zM262.1 370.10h23.6v1.55h-23.6zM49.8 373.85h23.6v1.55h-23.6zM238.5 377.61h23.6v1.55h-23.6zM144.1 378.86h23.6v1.55h-23.6zM191.3 378.86h23.6v1.55h-23.6zM49.8 380.11h23.6v1.55h-23.6zM191.3 381.36h23.6v1.55h-23.6zM26.2 382.62h23.6v1.55h-23.6zM26.2 393.88h23.6v1.55h-23.6zM167.7 395.13h23.6v1.55h-23.6zM144.1 398.89h47.2v1.55h-47.2zM97.0 400.14h47.2v1.55h-47.2zM167.7 400.14h23.6v1.55h-23.6zM97.0 402.64h23.6v1.55h-23.6zM73.4 403.90h23.6v1.55h-23.6zM2.6 405.15h70.8v1.55h-70.8zM167.7 407.65h47.2v1.55h-47.2zM73.4 417.66h47.2v1.55h-47.2zM238.5 422.67h47.2v1.55h-47.2zM214.9 425.17h23.6v1.55h-23.6zM191.3 427.68h23.6v1.55h-23.6zM238.5 428.93h47.2v1.55h-47.2zM262.1 430.18h23.6v1.55h-23.6zM97.0 432.68h23.6v1.55h-23.6zM262.1 436.44h23.6v1.55h-23.6zM120.6 440.19h23.6v1.55h-23.6zM120.6 453.96h23.6v1.55h-23.6zM73.4 455.22h23.6v1.55h-23.6zM167.7 458.97h47.2v1.55h-47.2zM144.1 465.23h23.6v1.55h-23.6zM167.7 466.48h47.2v1.55h-47.2zM144.1 470.24h23.6v1.55h-23.6zM191.3 470.24h23.6v1.55h-23.6zM97.0 472.74h23.6v1.55h-23.6zM120.6 476.49h23.6v1.55h-23.6zM191.3 480.25h23.6v1.55h-23.6zM214.9 481.50h23.6v1.55h-23.6zM73.4 485.26h23.6v1.55h-23.6zM120.6 485.26h23.6v1.55h-23.6zM191.3 485.26h23.6v1.55h-23.6zM120.6 487.76h23.6v1.55h-23.6zM73.4 489.01h23.6v1.55h-23.6zM144.1 489.01h23.6v1.55h-23.6zM191.3 489.01h23.6v1.55h-23.6zM97.0 490.26h23.6v1.55h-23.6zM73.4 495.27h23.6v1.55h-23.6zM73.4 501.53h23.6v1.55h-23.6zM73.4 511.54h23.6v1.55h-23.6zM167.7 511.54h23.6v1.55h-23.6zM191.3 514.05h23.6v1.55h-23.6zM191.3 516.55h23.6v1.55h-23.6zM238.5 520.30h47.2v1.55h-47.2zM214.9 524.06h70.8v1.55h-70.8zM238.5 525.31h47.2v1.55h-47.2zM214.9 526.56h23.6v1.55h-23.6zM214.9 529.07h70.8v1.55h-70.8zM144.1 530.32h23.6v1.55h-23.6zM238.5 530.32h23.6v1.55h-23.6zM262.1 531.57h23.6v1.55h-23.6zM262.1 542.84h23.6v1.55h-23.6zM2.6 566.62h23.6v1.55h-23.6zM144.1 566.62h47.2v1.55h-47.2zM2.6 569.12h23.6v1.55h-23.6zM167.7 569.12h23.6v1.55h-23.6zM167.7 571.62h23.6v1.55h-23.6zM2.6 576.63h23.6v1.55h-23.6zM49.8 576.63h23.6v1.55h-23.6zM73.4 581.64h23.6v1.55h-23.6z"/>
<path fill="#e1afb8" d="M144.1 298.75h47.2v1.55h-47.2zM191.3 301.26h23.6v1.55h-23.6zM191.3 302.51h23.6v1.55h-23.6zM167.7 313.77h23.6v1.55h-23.6zM144.1 316.28h23.6v1.55h-23.6zM144.1 318.78h23.6v1.55h-23.6zM214.9 323.79h23.6v1.55h-23.6zM144.1 326.29h47.2v1.55h-47.2zM214.9 326.29h23.6v1.55h-23.6zM144.1 328.79h47.2v1.55h-47.2zM238.5 328.79h47.2v1.55h-47.2zM214.9 331.30h47.2v1.55h-47.2zM262.1 335.05h23.6v1.55h-23.6zM238.5 341.31h23.6v1.55h-23.6zM144.1 350.07h23.6v1.55h-23.6zM73.4 352.58h23.6v1.55h-23.6zM144.1 352.58h47.2v1.55h-47.2zM97.0 355.08h47.2v1.55h-47.2zM120.6 356.33h47.2v1.55h-47.2zM120.6 357.58h23.6v1.55h-23.6zM73.4 361.34h23.6v1.55h-23.6zM120.6 363.84h23.6v1.55h-23.6zM144.1 367.60h23.6v1.55h-23.6zM191.3 367.60h23.6v1.55h-23.6zM73.4 368.85h23.6v1.55h-23.6zM120.6 368.85h47.2v1.55h-47.2zM167.7 371.35h23.6v1.55h-23.6zM73.4 373.85h23.6v1.55h-23.6zM73.4 391.38h23.6v1.55h-23.6zM97.0 396.39h23.6v1.55h-23.6zM97.0 398.89h23.6v1.55h-23.6zM214.9 403.90h23.6v1.55h-23.6zM214.9 410.15h23.6v1.55h-23.6zM238.5 415.16h23.6v1.55h-23.6zM2.6 417.66h23.6v1.55h-23.6zM238.5 417.66h23.6v1.55h-23.6zM2.6 425.17h23.6v1.55h-23.6zM2.6 426.43h23.6v1.55h-23.6zM2.6 453.96h47.2v1.55h-47.2zM26.2 456.47h23.6v1.55h-23.6zM49.8 491.51h23.6v1.55h-23.6zM49.8 492.77h23.6v1.55h-23.6zM49.8 495.27h23.6v1.55h-23.6zM49.8 496.52h23.6v1.55h-23.6zM26.2 497.77h23.6v1.55h-23.6zM2.6 500.28h23.6v1.55h-23.6zM97.0 504.03h47.2v1.55h-47.2zM120.6 507.79h23.6v1.55h-23.6zM26.2 511.54h23.6v1.55h-23.6zM2.6 514.05h23.6v1.55h-23.6zM120.6 515.30h23.6v1.55h-23.6zM191.3 520.30h23.6v1.55h-23.6zM144.1 524.06h47.2v1.55h-47.2zM2.6 537.83h23.6v1.55h-23.6zM2.6 550.35h70.8v1.55h-70.8zM214.9 561.61h23.6v1.55h-23.6zM262.1 561.61h23.6v1.55h-23.6zM238.5 571.62h47.2v1.55h-47.2zM214.9 572.88h23.6v1.55h-23.6zM214.9 574.13h23.6v1.55h-23.6zM262.1 574.13h23.6v1.55h-23.6zM214.9 576.63h70.8v1.55h-70.8zM238.5 577.88h23.6v1.55h-23.6zM214.9 584.14h23.6v1.55h-23.6zM238.5 586.64h47.2v1.55h-47.2z"/>
<path fill="#e4b6be" d="M191.3 298.75h23.6v1.55h-23.6zM144.1 300.00h23.6v1.55h-23.6zM144.1 315.02h23.6v1.55h-23.6zM144.1 317.53h23.6v1.55h-23.6zM191.3 317.53h23.6v1.55h-23.6zM191.3 318.78h23.6v1.55h-23.6zM97.0 320.03h23.6v1.55h-23.6zM97.0 321.28h23.6v1.55h-23.6zM191.3 325.04h23.6v1.55h-23.6zM238.5 326.29h47.2v1.55h-47.2zM262.1 327.54h23.6v1.55h-23.6zM262.1 332.55h23.6v1.55h-23.6zM214.9 335.05h23.6v1.55h-23.6zM144.1 337.55h23.6v1.55h-23.6zM214.9 338.81h47.2v1.55h-47.2zM238.5 340.06h23.6v1.55h-23.6zM144.1 341.31h23.6v1.55h-23.6zM73.4 350.07h23.6v1.55h-23.6zM73.4 351.32h23.6v1.55h-23.6zM167.7 351.32h47.2v1.55h-47.2zM97.0 356.33h23.6v1.55h-23.6zM73.4 357.58h23.6v1.55h-23.6zM73.4 360.09h23.6v1.55h-23.6zM120.6 360.09h23.6v1.55h-23.6zM97.0 361.34h47.2v1.55h-47.2zM97.0 363.84h23.6v1.55h-23.6zM120.6 367.60h23.6v1.55h-23.6zM120.6 370.10h94.4v1.55h-94.4zM97.0 371.35h23.6v1.55h-23.6zM120.6 372.60h23.6v1.55h-23.6zM120.6 373.85h47.2v1.55h-47.2zM191.3 373.85h23.6v1.55h-23.6zM73.4 380.11h23.6v1.55h-23.6zM73.4 381.36h23.6v1.55h-23.6zM73.4 393.88h23.6v1.55h-23.6zM238.5 410.15h23.6v1.55h-23.6zM120.6 412.66h23.6v1.55h-23.6zM214.9 413.91h47.2v1.55h-47.2zM262.1 417.66h23.6v1.55h-23.6zM262.1 418.92h23.6v1.55h-23.6zM26.2 447.71h23.6v1.55h-23.6zM2.6 491.51h23.6v1.55h-23.6zM2.6 492.77h23.6v1.55h-23.6zM2.6 495.27h23.6v1.55h-23.6zM2.6 515.30h23.6v1.55h-23.6zM97.0 515.30h23.6v1.55h-23.6zM144.1 517.80h47.2v1.55h-47.2zM191.3 524.06h23.6v1.55h-23.6zM2.6 536.58h47.2v1.55h-47.2zM214.9 560.36h23.6v1.55h-23.6zM262.1 560.36h23.6v1.55h-23.6zM214.9 564.11h23.6v1.55h-23.6z"/>
<path fill="#f6f0f1" d="M214.9 298.75h23.6v1.55h-23.6zM120.6 301.26h23.6v1.55h-23.6zM97.0 306.26h47.2v1.55h-47.2zM120.6 308.77h23.6v1.55h-23.6zM97.0 310.02h23.6v1.55h-23.6zM262.1 310.02h23.6v1.55h-23.6zM97.0 312.52h23.6v1.55h-23.6zM73.4 313.77h23.6v1.55h-23.6zM73.4 315.02h23.6v1.55h-23.6zM214.9 315.02h47.2v1.55h-47.2zM238.5 318.78h47.2v1.55h-47.2zM262.1 320.03h23.6v1.55h-23.6zM120.6 322.53h23.6v1.55h-23.6zM73.4 328.79h23.6v1.55h-23.6zM73.4 330.04h23.6v1.55h-23.6zM73.4 333.80h23.6v1.55h-23.6zM120.6 341.31h23.6v1.55h-23.6zM97.0 343.81h23.6v1.55h-23.6zM26.2 355.08h23.6v1.55h-23.6zM214.9 363.84h70.8v1.55h-70.8zM214.9 371.35h23.6v1.55h-23.6zM26.2 372.60h47.2v1.55h-47.2zM191.3 390.13h23.6v1.55h-23.6zM167.7 392.63h23.6v1.55h-23.6zM120.6 417.66h23.6v1.55h-23.6zM214.9 420.17h23.6v1.55h-23.6zM214.9 421.42h47.2v1.55h-47.2zM144.1 422.67h23.6v1.55h-23.6zM191.3 422.67h47.2v1.55h-47.2zM73.4 436.44h47.2v1.55h-47.2zM2.6 438.94h23.6v1.55h-23.6zM2.6 440.19h23.6v1.55h-23.6zM73.4 440.19h23.6v1.55h-23.6zM144.1 451.46h23.6v1.55h-23.6zM144.1 457.72h23.6v1.55h-23.6zM167.7 465.23h23.6v1.55h-23.6zM144.1 485.26h23.6v1.55h-23.6zM73.4 496.52h23.6v1.55h-23.6zM73.4 502.78h23.6v1.55h-23.6zM26.2 504.03h23.6v1.55h-23.6zM2.6 505.28h23.6v1.55h-23.6zM73.4 505.28h23.6v1.55h-23.6zM167.7 505.28h23.6v1.55h-23.6zM73.4 506.54h23.6v1.55h-23.6zM191.3 506.54h23.6v1.55h-23.6zM73.4 512.79h23.6v1.55h-23.6zM144.1 512.79h23.6v1.55h-23.6zM73.4 516.55h23.6v1.55h-23.6zM214.9 520.30h23.6v1.55h-23.6zM49.8 521.56h23.6v1.55h-23.6zM49.8 522.81h23.6v1.55h-23.6zM262.1 526.56h23.6v1.55h-23.6zM214.9 527.81h70.8v1.55h-70.8zM144.1 529.07h23.6v1.55h-23.6zM144.1 532.82h47.2v1.55h-47.2zM214.9 532.82h70.8v1.55h-70.8zM238.5 536.58h47.2v1.55h-47.2zM238.5 541.58h23.6v1.55h-23.6zM238.5 542.84h23.6v1.55h-23.6zM238.5 549.09h23.6v1.55h-23.6zM214.9 550.35h23.6v1.55h-23.6zM214.9 551.60h47.2v1.55h-47.2zM49.8 564.11h23.6v1.55h-23.6zM167.7 574.13h23.6v1.55h-23.6zM144.1 575.38h47.2v1.55h-47.2zM191.3 579.13h23.6v1.55h-23.6zM49.8 580.39h23.6v1.55h-23.6zM191.3 580.39h23.6v1.55h-23.6zM167.7 584.14h23.6v1.55h-23.6zM2.6 587.90h23.6v1.55h-23.6z"/>
<path fill="#f8f7f7" d="M262.1 298.75h23.6v1.55h-23.6zM97.0 303.76h23.6v1.55h-23.6zM73.4 307.51h23.6v1.55h-23.6zM214.9 308.77h23.6v1.55h-23.6zM120.6 310.02h23.6v1.55h-23.6zM238.5 321.28h47.2v1.55h-47.2zM238.5 322.53h23.6v1.55h-23.6zM73.4 340.06h23.6v1.55h-23.6zM97.0 341.31h23.6v1.55h-23.6zM2.6 373.85h47.2v1.55h-47.2zM2.6 375.11h23.6v1.55h-23.6zM49.8 375.11h23.6v1.55h-23.6zM144.1 390.13h47.2v1.55h-47.2zM191.3 398.89h23.6v1.55h-23.6zM73.4 400.14h23.6v1.55h-23.6zM144.1 400.14h23.6v1.55h-23.6zM73.4 402.64h23.6v1.55h-23.6zM97.0 403.90h23.6v1.55h-23.6zM120.6 407.65h23.6v1.55h-23.6zM238.5 420.17h47.2v1.55h-47.2zM262.1 421.42h23.6v1.55h-23.6zM73.4 422.67h23.6v1.55h-23.6zM214.9 428.93h23.6v1.55h-23.6zM238.5 430.18h23.6v1.55h-23.6zM73.4 432.68h23.6v1.55h-23.6zM120.6 436.44h23.6v1.55h-23.6zM238.5 436.44h23.6v1.55h-23.6zM73.4 453.96h47.2v1.55h-47.2zM167.7 457.72h47.2v1.55h-47.2zM144.1 458.97h23.6v1.55h-23.6zM73.4 472.74h23.6v1.55h-23.6zM214.9 479.00h23.6v1.55h-23.6zM97.0 485.26h23.6v1.55h-23.6zM167.7 485.26h23.6v1.55h-23.6zM73.4 486.51h23.6v1.55h-23.6zM120.6 486.51h23.6v1.55h-23.6zM73.4 492.77h23.6v1.55h-23.6zM73.4 494.02h23.6v1.55h-23.6zM73.4 497.77h23.6v1.55h-23.6zM73.4 500.28h23.6v1.55h-23.6zM2.6 504.03h23.6v1.55h-23.6zM49.8 504.03h23.6v1.55h-23.6zM144.1 506.54h23.6v1.55h-23.6zM144.1 514.05h47.2v1.55h-47.2zM167.7 516.55h23.6v1.55h-23.6zM26.2 519.05h23.6v1.55h-23.6zM214.9 525.31h23.6v1.55h-23.6zM238.5 526.56h23.6v1.55h-23.6zM167.7 530.32h23.6v1.55h-23.6zM214.9 530.32h23.6v1.55h-23.6zM262.1 530.32h23.6v1.55h-23.6zM214.9 531.57h47.2v1.55h-47.2zM262.1 534.07h23.6v1.55h-23.6zM214.9 536.58h23.6v1.55h-23.6zM214.9 541.58h23.6v1.55h-23.6zM214.9 542.84h23.6v1.55h-23.6zM214.9 544.09h47.2v1.55h-47.2zM238.5 550.35h47.2v1.55h-47.2zM26.2 564.11h23.6v1.55h-23.6zM26.2 566.62h47.2v1.55h-47.2zM191.3 566.62h23.6v1.55h-23.6zM167.7 570.37h23.6v1.55h-23.6zM144.1 571.62h23.6v1.55h-23.6zM191.3 575.38h23.6v1.55h-23.6zM26.2 576.63h23.6v1.55h-23.6zM2.6 580.39h47.2v1.55h-47.2zM73.4 582.89h23.6v1.55h-23.6zM26.2 587.90h23.6v1.55h-23.6z"/>
<path fill="#7aa5d0" d="M26.2 300.00h23.6v1.55h-23.6zM26.2 331.30h23.6v1.55h-23.6z"/>
<path fill="#dfa7b2" d="M73.4 300.00h23.6v1.55h-23.6zM144.1 302.51h47.2v1.55h-47.2zM191.3 310.02h23.6v1.55h-23.6zM167.7 312.52h47.2v1.55h-47.2zM144.1 313.77h23.6v1.55h-23.6zM167.7 318.78h23.6v1.55h-23.6zM167.7 323.79h47.2v1.55h-47.2zM191.3 326.29h23.6v1.55h-23.6zM238.5 336.30h47.2v1.55h-47.2zM191.3 337.55h23.6v1.55h-23.6zM144.1 338.81h47.2v1.55h-47.2zM97.0 347.57h23.6v1.55h-23.6zM144.1 347.57h70.8v1.55h-70.8zM73.4 348.82h23.6v1.55h-23.6zM167.7 350.07h23.6v1.55h-23.6zM191.3 352.58h23.6v1.55h-23.6zM73.4 356.33h23.6v1.55h-23.6zM167.7 358.83h23.6v1.55h-23.6zM191.3 361.34h23.6v1.55h-23.6zM167.7 368.85h23.6v1.55h-23.6zM120.6 371.35h23.6v1.55h-23.6zM144.1 372.60h23.6v1.55h-23.6zM191.3 372.60h23.6v1.55h-23.6zM97.0 376.36h23.6v1.55h-23.6zM73.4 383.87h23.6v1.55h-23.6zM73.4 397.64h23.6v1.55h-23.6zM97.0 412.66h23.6v1.55h-23.6zM238.5 412.66h23.6v1.55h-23.6zM214.9 416.41h23.6v1.55h-23.6zM26.2 417.66h23.6v1.55h-23.6zM214.9 418.92h23.6v1.55h-23.6zM26.2 426.43h23.6v1.55h-23.6zM49.8 433.94h23.6v1.55h-23.6zM2.6 437.69h47.2v1.55h-47.2zM26.2 452.71h23.6v1.55h-23.6zM2.6 456.47h23.6v1.55h-23.6zM49.8 456.47h23.6v1.55h-23.6zM2.6 466.48h23.6v1.55h-23.6zM2.6 475.24h23.6v1.55h-23.6zM49.8 475.24h23.6v1.55h-23.6zM26.2 485.26h47.2v1.55h-47.2zM26.2 491.51h23.6v1.55h-23.6zM2.6 496.52h47.2v1.55h-47.2zM26.2 501.53h23.6v1.55h-23.6zM97.0 507.79h23.6v1.55h-23.6zM2.6 511.54h23.6v1.55h-23.6zM49.8 511.54h23.6v1.55h-23.6zM49.8 514.05h23.6v1.55h-23.6zM26.2 515.30h23.6v1.55h-23.6zM191.3 522.81h23.6v1.55h-23.6zM2.6 525.31h23.6v1.55h-23.6zM167.7 525.31h23.6v1.55h-23.6zM26.2 534.07h23.6v1.55h-23.6zM49.8 536.58h23.6v1.55h-23.6zM26.2 537.83h47.2v1.55h-47.2zM2.6 540.33h23.6v1.55h-23.6zM2.6 555.35h47.2v1.55h-47.2zM214.9 555.35h70.8v1.55h-70.8zM214.9 557.86h70.8v1.55h-70.8zM238.5 561.61h23.6v1.55h-23.6zM238.5 572.88h47.2v1.55h-47.2zM238.5 574.13h23.6v1.55h-23.6zM214.9 575.38h23.6v1.55h-23.6zM262.1 575.38h23.6v1.55h-23.6zM214.9 577.88h23.6v1.55h-23.6zM262.1 577.88h23.6v1.55h-23.6zM262.1 579.13h23.6v1.55h-23.6zM262.1 584.14h23.6v1.55h-23.6zM214.9 585.39h47.2v1.55h-47.2zM214.9 587.90h47.2v1.55h-47.2zM214.9 589.15h70.8v1.55h-70.8z"/>
<path fill="#e6bdc5" d="M167.7 300.00h47.2v1.55h-47.2zM191.3 313.77h23.6v1.55h-23.6zM167.7 315.02h47.2v1.55h-47.2zM167.7 316.28h47.2v1.55h-47.2zM167.7 317.53h23.6v1.55h-23.6zM73.4 320.03h23.6v1.55h-23.6zM144.1 325.04h47.2v1.55h-47.2zM191.3 327.54h70.8v1.55h-70.8zM191.3 332.55h23.6v1.55h-23.6zM238.5 332.55h23.6v1.55h-23.6zM191.3 333.80h23.6v1.55h-23.6zM238.5 333.80h23.6v1.55h-23.6zM167.7 335.05h47.2v1.55h-47.2zM238.5 335.05h23.6v1.55h-23.6zM191.3 336.30h23.6v1.55h-23.6zM167.7 337.55h23.6v1.55h-23.6zM262.1 338.81h23.6v1.55h-23.6zM191.3 341.31h47.2v1.55h-47.2zM262.1 341.31h23.6v1.55h-23.6zM167.7 346.32h47.2v1.55h-47.2zM191.3 348.82h23.6v1.55h-23.6zM144.1 351.32h23.6v1.55h-23.6zM167.7 356.33h47.2v1.55h-47.2zM97.0 357.58h23.6v1.55h-23.6zM97.0 360.09h23.6v1.55h-23.6zM73.4 363.84h23.6v1.55h-23.6zM73.4 365.09h23.6v1.55h-23.6zM120.6 365.09h23.6v1.55h-23.6zM167.7 367.60h23.6v1.55h-23.6zM144.1 371.35h23.6v1.55h-23.6zM73.4 372.60h47.2v1.55h-47.2zM97.0 373.85h23.6v1.55h-23.6zM73.4 375.11h23.6v1.55h-23.6zM73.4 396.39h23.6v1.55h-23.6zM214.9 407.65h23.6v1.55h-23.6zM262.1 408.90h23.6v1.55h-23.6zM73.4 412.66h23.6v1.55h-23.6zM262.1 412.66h23.6v1.55h-23.6zM97.0 415.16h23.6v1.55h-23.6zM262.1 415.16h23.6v1.55h-23.6zM262.1 416.41h23.6v1.55h-23.6zM2.6 433.94h47.2v1.55h-47.2zM2.6 497.77h23.6v1.55h-23.6zM49.8 497.77h23.6v1.55h-23.6zM97.0 499.03h47.2v1.55h-47.2zM191.3 501.53h23.6v1.55h-23.6zM191.3 517.80h23.6v1.55h-23.6zM238.5 560.36h23.6v1.55h-23.6zM238.5 564.11h47.2v1.55h-47.2zM2.6 565.37h23.6v1.55h-23.6zM214.9 571.62h23.6v1.55h-23.6zM214.9 586.64h23.6v1.55h-23.6z"/>
<path fill="#f1e1e4" d="M214.9 300.00h23.6v1.55h-23.6zM262.1 300.00h23.6v1.55h-23.6zM214.9 303.76h23.6v1.55h-23.6zM238.5 306.26h47.2v1.55h-47.2zM214.9 307.51h47.2v1.55h-47.2zM238.5 308.77h23.6v1.55h-23.6zM214.9 310.02h47.2v1.55h-47.2zM73.4 311.27h23.6v1.55h-23.6zM214.9 311.27h47.2v1.55h-47.2zM238.5 312.52h23.6v1.55h-23.6zM262.1 315.02h23.6v1.55h-23.6zM214.9 316.28h70.8v1.55h-70.8zM73.4 317.53h23.6v1.55h-23.6zM238.5 317.53h47.2v1.55h-47.2zM73.4 318.78h23.6v1.55h-23.6zM238.5 320.03h23.6v1.55h-23.6zM73.4 322.53h23.6v1.55h-23.6zM167.7 322.53h23.6v1.55h-23.6zM120.6 323.79h23.6v1.55h-23.6zM73.4 327.54h23.6v1.55h-23.6zM73.4 337.55h23.6v1.55h-23.6zM238.5 367.60h47.2v1.55h-47.2zM262.1 368.85h23.6v1.55h-23.6zM144.1 391.38h23.6v1.55h-23.6zM191.3 391.38h23.6v1.55h-23.6zM144.1 392.63h23.6v1.55h-23.6zM144.1 393.88h23.6v1.55h-23.6zM191.3 393.88h23.6v1.55h-23.6zM97.0 407.65h23.6v1.55h-23.6zM73.4 408.90h23.6v1.55h-23.6zM262.1 411.41h23.6v1.55h-23.6zM73.4 413.91h23.6v1.55h-23.6zM262.1 426.43h23.6v1.55h-23.6zM2.6 442.70h23.6v1.55h-23.6zM49.8 446.45h23.6v1.55h-23.6zM73.4 491.51h23.6v1.55h-23.6zM97.0 494.02h47.2v1.55h-47.2zM97.0 495.27h23.6v1.55h-23.6zM120.6 497.77h23.6v1.55h-23.6zM191.3 502.78h23.6v1.55h-23.6zM144.1 505.28h23.6v1.55h-23.6zM191.3 505.28h23.6v1.55h-23.6zM73.4 509.04h23.6v1.55h-23.6zM73.4 514.05h23.6v1.55h-23.6zM238.5 522.81h23.6v1.55h-23.6zM144.1 526.56h23.6v1.55h-23.6zM167.7 527.81h23.6v1.55h-23.6zM191.3 531.57h23.6v1.55h-23.6zM144.1 534.07h23.6v1.55h-23.6zM144.1 535.32h23.6v1.55h-23.6zM191.3 535.32h23.6v1.55h-23.6zM238.5 545.34h23.6v1.55h-23.6zM238.5 554.10h23.6v1.55h-23.6zM49.8 560.36h23.6v1.55h-23.6zM49.8 561.61h23.6v1.55h-23.6zM2.6 562.86h47.2v1.55h-47.2zM167.7 576.63h23.6v1.55h-23.6zM167.7 579.13h23.6v1.55h-23.6zM191.3 581.64h23.6v1.55h-23.6zM144.1 582.89h23.6v1.55h-23.6zM191.3 584.14h23.6v1.55h-23.6zM167.7 586.64h47.2v1.55h-47.2zM191.3 589.15h23.6v1.55h-23.6z"/>
<path fill="#efdade" d="M238.5 300.00h23.6v1.55h-23.6zM73.4 302.51h23.6v1.55h-23.6zM238.5 303.76h47.2v1.55h-47.2zM73.4 305.01h23.6v1.55h-23.6zM262.1 307.51h23.6v1.55h-23.6zM214.9 312.52h23.6v1.55h-23.6zM214.9 313.77h47.2v1.55h-47.2zM97.0 318.78h47.2v1.55h-47.2zM238.5 325.04h23.6v1.55h-23.6zM73.4 336.30h23.6v1.55h-23.6zM167.7 342.56h23.6v1.55h-23.6zM191.3 355.08h23.6v1.55h-23.6zM214.9 367.60h23.6v1.55h-23.6zM167.7 393.88h23.6v1.55h-23.6zM73.4 407.65h23.6v1.55h-23.6zM97.0 408.90h23.6v1.55h-23.6zM73.4 410.15h23.6v1.55h-23.6zM262.1 410.15h23.6v1.55h-23.6zM73.4 411.41h23.6v1.55h-23.6zM73.4 415.16h23.6v1.55h-23.6zM26.2 421.42h23.6v1.55h-23.6zM2.6 443.95h23.6v1.55h-23.6zM167.7 452.71h47.2v1.55h-47.2zM97.0 496.52h23.6v1.55h-23.6zM97.0 497.77h23.6v1.55h-23.6zM2.6 499.03h23.6v1.55h-23.6zM73.4 499.03h23.6v1.55h-23.6zM120.6 500.28h23.6v1.55h-23.6zM167.7 502.78h23.6v1.55h-23.6zM73.4 504.03h23.6v1.55h-23.6zM191.3 504.03h23.6v1.55h-23.6zM26.2 506.54h47.2v1.55h-47.2zM97.0 506.54h23.6v1.55h-23.6zM97.0 511.54h23.6v1.55h-23.6zM73.4 515.30h23.6v1.55h-23.6zM2.6 517.80h23.6v1.55h-23.6zM49.8 517.80h23.6v1.55h-23.6zM238.5 519.05h23.6v1.55h-23.6zM144.1 527.81h23.6v1.55h-23.6zM191.3 527.81h23.6v1.55h-23.6zM191.3 534.07h23.6v1.55h-23.6zM214.9 535.32h47.2v1.55h-47.2zM191.3 536.58h23.6v1.55h-23.6zM214.9 537.83h23.6v1.55h-23.6zM214.9 545.34h23.6v1.55h-23.6zM262.1 545.34h23.6v1.55h-23.6zM214.9 546.59h47.2v1.55h-47.2zM214.9 554.10h23.6v1.55h-23.6zM2.6 557.86h23.6v1.55h-23.6zM26.2 561.61h23.6v1.55h-23.6zM167.7 577.88h47.2v1.55h-47.2zM167.7 581.64h23.6v1.55h-23.6zM144.1 584.14h23.6v1.55h-23.6zM167.7 585.39h23.6v1.55h-23.6zM144.1 586.64h23.6v1.55h-23.6z"/>
<path fill="#dda0ab" d="M144.1 301.26h47.2v1.55h-47.2zM144.1 310.02h23.6v1.55h-23.6zM144.1 312.52h23.6v1.55h-23.6zM214.9 321.28h23.6v1.55h-23.6zM144.1 323.79h23.6v1.55h-23.6zM214.9 336.30h23.6v1.55h-23.6zM191.3 338.81h23.6v1.55h-23.6zM214.9 340.06h23.6v1.55h-23.6zM262.1 340.06h23.6v1.55h-23.6zM97.0 345.06h23.6v1.55h-23.6zM97.0 346.32h23.6v1.55h-23.6zM191.3 350.07h23.6v1.55h-23.6zM73.4 353.83h23.6v1.55h-23.6zM191.3 357.58h23.6v1.55h-23.6zM97.0 358.83h70.8v1.55h-70.8zM144.1 361.34h47.2v1.55h-47.2zM167.7 363.84h23.6v1.55h-23.6zM191.3 368.85h23.6v1.55h-23.6zM73.4 371.35h23.6v1.55h-23.6zM167.7 372.60h23.6v1.55h-23.6zM97.0 375.11h23.6v1.55h-23.6zM120.6 376.36h23.6v1.55h-23.6zM73.4 385.12h23.6v1.55h-23.6zM97.0 386.37h23.6v1.55h-23.6zM97.0 387.62h47.2v1.55h-47.2zM73.4 388.87h23.6v1.55h-23.6zM97.0 395.13h23.6v1.55h-23.6zM238.5 403.90h23.6v1.55h-23.6zM214.9 406.40h47.2v1.55h-47.2zM238.5 408.90h23.6v1.55h-23.6zM214.9 412.66h23.6v1.55h-23.6zM120.6 415.16h23.6v1.55h-23.6zM214.9 415.16h23.6v1.55h-23.6zM238.5 416.41h23.6v1.55h-23.6zM214.9 417.66h23.6v1.55h-23.6zM26.2 418.92h23.6v1.55h-23.6zM238.5 418.92h23.6v1.55h-23.6zM2.6 422.67h23.6v1.55h-23.6zM26.2 425.17h23.6v1.55h-23.6zM49.8 426.43h23.6v1.55h-23.6zM2.6 435.19h47.2v1.55h-47.2zM26.2 438.94h23.6v1.55h-23.6zM49.8 452.71h23.6v1.55h-23.6zM49.8 453.96h23.6v1.55h-23.6zM2.6 458.97h23.6v1.55h-23.6zM49.8 466.48h23.6v1.55h-23.6zM2.6 467.73h23.6v1.55h-23.6zM2.6 468.98h23.6v1.55h-23.6zM26.2 475.24h23.6v1.55h-23.6zM2.6 486.51h23.6v1.55h-23.6zM26.2 492.77h23.6v1.55h-23.6zM2.6 494.02h70.8v1.55h-70.8zM26.2 495.27h23.6v1.55h-23.6zM49.8 501.53h23.6v1.55h-23.6zM2.6 510.29h23.6v1.55h-23.6zM26.2 514.05h23.6v1.55h-23.6zM49.8 515.30h23.6v1.55h-23.6zM167.7 519.05h47.2v1.55h-47.2zM144.1 520.30h47.2v1.55h-47.2zM167.7 522.81h23.6v1.55h-23.6zM26.2 525.31h23.6v1.55h-23.6zM191.3 525.31h23.6v1.55h-23.6zM49.8 526.56h23.6v1.55h-23.6zM2.6 529.07h23.6v1.55h-23.6zM2.6 531.57h23.6v1.55h-23.6zM49.8 534.07h23.6v1.55h-23.6zM49.8 535.32h23.6v1.55h-23.6zM26.2 540.33h23.6v1.55h-23.6zM2.6 546.59h23.6v1.55h-23.6zM2.6 552.85h70.8v1.55h-70.8zM2.6 554.10h23.6v1.55h-23.6zM49.8 555.35h23.6v1.55h-23.6zM214.9 559.11h23.6v1.55h-23.6zM238.5 575.38h23.6v1.55h-23.6zM214.9 579.13h23.6v1.55h-23.6zM214.9 581.64h23.6v1.55h-23.6zM262.1 581.64h23.6v1.55h-23.6zM262.1 585.39h23.6v1.55h-23.6zM262.1 587.90h23.6v1.55h-23.6z"/>
<path fill="#a4c0dd" d="M2.6 302.51h23.6v1.55h-23.6zM49.8 302.51h23.6v1.55h-23.6zM26.2 305.01h23.6v1.55h-23.6zM49.8 306.26h23.6v1.55h-23.6zM26.2 307.51h47.2v1.55h-47.2zM26.2 315.02h23.6v1.55h-23.6zM26.2 316.28h23.6v1.55h-23.6zM26.2 328.79h47.2v1.55h-47.2zM2.6 332.55h23.6v1.55h-23.6zM49.8 332.55h23.6v1.55h-23.6zM2.6 335.05h23.6v1.55h-23.6zM26.2 336.30h47.2v1.55h-47.2zM26.2 341.31h23.6v1.55h-23.6zM2.6 347.57h23.6v1.55h-23.6zM2.6 358.83h23.6v1.55h-23.6zM26.2 366.34h23.6v1.55h-23.6zM2.6 371.35h47.2v1.55h-47.2zM2.6 408.90h23.6v1.55h-23.6zM26.2 411.41h23.6v1.55h-23.6zM49.8 412.66h23.6v1.55h-23.6zM144.1 417.66h23.6v1.55h-23.6zM144.1 418.92h23.6v1.55h-23.6zM214.9 451.46h23.6v1.55h-23.6zM238.5 452.71h23.6v1.55h-23.6zM214.9 453.96h47.2v1.55h-47.2zM238.5 460.22h47.2v1.55h-47.2zM97.0 477.75h23.6v1.55h-23.6zM238.5 491.51h23.6v1.55h-23.6zM214.9 492.77h47.2v1.55h-47.2zM238.5 495.27h23.6v1.55h-23.6zM262.1 496.52h23.6v1.55h-23.6zM144.1 497.77h23.6v1.55h-23.6zM167.7 499.03h23.6v1.55h-23.6zM214.9 509.04h23.6v1.55h-23.6zM262.1 509.04h23.6v1.55h-23.6zM214.9 511.54h23.6v1.55h-23.6zM97.0 531.57h23.6v1.55h-23.6zM97.0 536.58h23.6v1.55h-23.6zM97.0 537.83h47.2v1.55h-47.2zM144.1 546.59h47.2v1.55h-47.2zM167.7 547.84h23.6v1.55h-23.6zM97.0 555.35h23.6v1.55h-23.6zM97.0 572.88h23.6v1.55h-23.6z"/>
<path fill="#9dbcdb" d="M26.2 302.51h23.6v1.55h-23.6zM49.8 308.77h23.6v1.55h-23.6zM2.6 313.77h47.2v1.55h-47.2zM49.8 315.02h23.6v1.55h-23.6zM2.6 317.53h23.6v1.55h-23.6zM2.6 318.78h23.6v1.55h-23.6zM26.2 333.80h47.2v1.55h-47.2zM2.6 337.55h23.6v1.55h-23.6zM49.8 337.55h23.6v1.55h-23.6zM2.6 341.31h23.6v1.55h-23.6zM49.8 341.31h23.6v1.55h-23.6zM2.6 411.41h23.6v1.55h-23.6zM2.6 412.66h23.6v1.55h-23.6zM26.2 413.91h47.2v1.55h-47.2zM262.1 452.71h23.6v1.55h-23.6zM214.9 460.22h23.6v1.55h-23.6zM262.1 492.77h23.6v1.55h-23.6zM214.9 506.54h23.6v1.55h-23.6zM262.1 506.54h23.6v1.55h-23.6zM214.9 507.79h23.6v1.55h-23.6zM238.5 509.04h23.6v1.55h-23.6zM238.5 517.80h23.6v1.55h-23.6zM191.3 547.84h23.6v1.55h-23.6zM120.6 555.35h23.6v1.55h-23.6zM97.0 579.13h23.6v1.55h-23.6zM97.0 580.39h47.2v1.55h-47.2z"/>
<path fill="#abc5df" d="M26.2 303.76h23.6v1.55h-23.6zM2.6 305.01h23.6v1.55h-23.6zM2.6 307.51h23.6v1.55h-23.6zM2.6 315.02h23.6v1.55h-23.6zM2.6 316.28h23.6v1.55h-23.6zM49.8 316.28h23.6v1.55h-23.6zM120.6 325.04h23.6v1.55h-23.6zM26.2 327.54h47.2v1.55h-47.2zM2.6 328.79h23.6v1.55h-23.6zM26.2 330.04h23.6v1.55h-23.6zM26.2 332.55h23.6v1.55h-23.6zM2.6 336.30h23.6v1.55h-23.6zM26.2 338.81h23.6v1.55h-23.6zM26.2 358.83h47.2v1.55h-47.2zM2.6 366.34h23.6v1.55h-23.6zM49.8 366.34h23.6v1.55h-23.6zM26.2 367.60h23.6v1.55h-23.6zM26.2 368.85h23.6v1.55h-23.6zM49.8 371.35h23.6v1.55h-23.6zM26.2 412.66h23.6v1.55h-23.6zM167.7 417.66h47.2v1.55h-47.2zM167.7 418.92h23.6v1.55h-23.6zM120.6 426.43h23.6v1.55h-23.6zM214.9 452.71h23.6v1.55h-23.6zM262.1 453.96h23.6v1.55h-23.6zM238.5 470.24h23.6v1.55h-23.6zM120.6 477.75h23.6v1.55h-23.6zM97.0 479.00h23.6v1.55h-23.6zM238.5 490.26h23.6v1.55h-23.6zM214.9 491.51h23.6v1.55h-23.6zM262.1 491.51h23.6v1.55h-23.6zM214.9 495.27h23.6v1.55h-23.6zM144.1 496.52h47.2v1.55h-47.2zM214.9 496.52h47.2v1.55h-47.2zM191.3 497.77h70.8v1.55h-70.8zM238.5 506.54h23.6v1.55h-23.6zM238.5 511.54h23.6v1.55h-23.6zM262.1 512.79h23.6v1.55h-23.6zM238.5 515.30h47.2v1.55h-47.2zM120.6 531.57h23.6v1.55h-23.6zM120.6 534.07h23.6v1.55h-23.6zM120.6 536.58h23.6v1.55h-23.6zM97.0 542.84h23.6v1.55h-23.6zM97.0 544.09h23.6v1.55h-23.6zM191.3 544.09h23.6v1.55h-23.6zM120.6 546.59h23.6v1.55h-23.6zM191.3 546.59h23.6v1.55h-23.6zM167.7 549.09h23.6v1.55h-23.6zM167.7 557.86h47.2v1.55h-47.2zM97.0 561.61h47.2v1.55h-47.2zM120.6 565.37h23.6v1.55h-23.6zM120.6 566.62h23.6v1.55h-23.6zM120.6 569.12h23.6v1.55h-23.6zM120.6 572.88h23.6v1.55h-23.6zM120.6 576.63h23.6v1.55h-23.6zM97.0 584.14h23.6v1.55h-23.6z"/>
<path fill="#c0d2e6" d="M49.8 303.76h23.6v1.55h-23.6zM2.6 343.81h23.6v1.55h-23.6zM49.8 345.06h23.6v1.55h-23.6zM2.6 346.32h70.8v1.55h-70.8zM214.9 346.32h70.8v1.55h-70.8zM238.5 348.82h47.2v1.55h-47.2zM238.5 351.32h23.6v1.55h-23.6zM214.9 352.58h23.6v1.55h-23.6zM214.9 353.83h23.6v1.55h-23.6zM262.1 353.83h23.6v1.55h-23.6zM262.1 355.08h23.6v1.55h-23.6zM214.9 356.33h23.6v1.55h-23.6zM238.5 357.58h23.6v1.55h-23.6zM238.5 358.83h23.6v1.55h-23.6zM2.6 360.09h23.6v1.55h-23.6zM214.9 360.09h47.2v1.55h-47.2zM214.9 361.34h23.6v1.55h-23.6zM262.1 361.34h23.6v1.55h-23.6zM214.9 362.59h23.6v1.55h-23.6zM2.6 365.09h47.2v1.55h-47.2zM49.8 368.85h23.6v1.55h-23.6zM2.6 370.10h23.6v1.55h-23.6zM26.2 386.37h47.2v1.55h-47.2zM2.6 388.87h70.8v1.55h-70.8zM214.9 388.87h23.6v1.55h-23.6zM262.1 388.87h23.6v1.55h-23.6zM167.7 406.40h23.6v1.55h-23.6zM49.8 407.65h23.6v1.55h-23.6zM2.6 410.15h47.2v1.55h-47.2zM191.3 413.91h23.6v1.55h-23.6zM144.1 426.43h23.6v1.55h-23.6zM144.1 431.43h23.6v1.55h-23.6zM214.9 432.68h23.6v1.55h-23.6zM262.1 432.68h23.6v1.55h-23.6zM167.7 436.44h23.6v1.55h-23.6zM238.5 438.94h23.6v1.55h-23.6zM214.9 441.45h23.6v1.55h-23.6zM262.1 441.45h23.6v1.55h-23.6zM120.6 442.70h23.6v1.55h-23.6zM262.1 443.95h23.6v1.55h-23.6zM238.5 450.21h47.2v1.55h-47.2zM120.6 452.71h23.6v1.55h-23.6zM238.5 457.72h23.6v1.55h-23.6zM73.4 466.48h47.2v1.55h-47.2zM238.5 471.49h23.6v1.55h-23.6zM262.1 480.25h23.6v1.55h-23.6zM144.1 481.50h23.6v1.55h-23.6zM97.0 482.75h23.6v1.55h-23.6zM167.7 482.75h23.6v1.55h-23.6zM262.1 487.76h23.6v1.55h-23.6zM144.1 500.28h23.6v1.55h-23.6zM214.9 500.28h47.2v1.55h-47.2zM214.9 516.55h70.8v1.55h-70.8zM97.0 519.05h23.6v1.55h-23.6zM97.0 520.30h23.6v1.55h-23.6zM97.0 522.81h23.6v1.55h-23.6zM97.0 524.06h47.2v1.55h-47.2zM97.0 525.31h23.6v1.55h-23.6zM144.1 537.83h47.2v1.55h-47.2zM144.1 539.08h23.6v1.55h-23.6zM120.6 540.33h23.6v1.55h-23.6zM167.7 540.33h23.6v1.55h-23.6zM191.3 541.58h23.6v1.55h-23.6zM97.0 545.34h47.2v1.55h-47.2zM167.7 545.34h23.6v1.55h-23.6zM97.0 547.84h23.6v1.55h-23.6zM120.6 549.09h23.6v1.55h-23.6zM97.0 550.35h118.0v1.55h-118.0zM167.7 551.60h23.6v1.55h-23.6zM97.0 554.10h23.6v1.55h-23.6zM144.1 554.10h23.6v1.55h-23.6zM73.4 555.35h23.6v1.55h-23.6zM191.3 556.60h23.6v1.55h-23.6zM120.6 557.86h23.6v1.55h-23.6zM120.6 559.11h70.8v1.55h-70.8zM120.6 560.36h23.6v1.55h-23.6zM97.0 566.62h23.6v1.55h-23.6zM97.0 569.12h23.6v1.55h-23.6zM2.6 571.62h23.6v1.55h-23.6zM2.6 572.88h23.6v1.55h-23.6zM73.4 579.13h23.6v1.55h-23.6zM26.2 586.64h23.6v1.55h-23.6zM97.0 586.64h23.6v1.55h-23.6zM120.6 587.90h23.6v1.55h-23.6z"/>
<path fill="#d68a98" d="M144.1 303.76h23.6v1.55h-23.6zM167.7 307.51h23.6v1.55h-23.6zM191.3 311.27h23.6v1.55h-23.6zM120.6 345.06h23.6v1.55h-23.6zM73.4 346.32h23.6v1.55h-23.6zM73.4 347.57h23.6v1.55h-23.6zM120.6 350.07h23.6v1.55h-23.6zM97.0 351.32h23.6v1.55h-23.6zM97.0 353.83h23.6v1.55h-23.6zM144.1 360.09h23.6v1.55h-23.6zM144.1 365.09h23.6v1.55h-23.6zM144.1 366.34h70.8v1.55h-70.8zM120.6 382.62h23.6v1.55h-23.6zM120.6 390.13h23.6v1.55h-23.6zM97.0 391.38h23.6v1.55h-23.6zM238.5 401.39h47.2v1.55h-47.2zM49.8 417.66h23.6v1.55h-23.6zM49.8 427.68h23.6v1.55h-23.6zM2.6 430.18h23.6v1.55h-23.6zM49.8 430.18h23.6v1.55h-23.6zM2.6 431.43h23.6v1.55h-23.6zM49.8 431.43h23.6v1.55h-23.6zM2.6 432.68h47.2v1.55h-47.2zM49.8 441.45h23.6v1.55h-23.6zM49.8 445.20h23.6v1.55h-23.6zM2.6 447.71h23.6v1.55h-23.6zM26.2 448.96h23.6v1.55h-23.6zM26.2 450.21h23.6v1.55h-23.6zM26.2 451.46h23.6v1.55h-23.6zM26.2 455.22h47.2v1.55h-47.2zM26.2 457.72h23.6v1.55h-23.6zM26.2 458.97h23.6v1.55h-23.6zM49.8 460.22h23.6v1.55h-23.6zM2.6 463.98h23.6v1.55h-23.6zM26.2 467.73h47.2v1.55h-47.2zM49.8 468.98h23.6v1.55h-23.6zM2.6 470.24h47.2v1.55h-47.2zM2.6 473.99h23.6v1.55h-23.6zM26.2 476.49h23.6v1.55h-23.6zM26.2 477.75h23.6v1.55h-23.6zM26.2 490.26h47.2v1.55h-47.2zM49.8 507.79h23.6v1.55h-23.6zM26.2 509.04h23.6v1.55h-23.6zM26.2 512.79h47.2v1.55h-47.2zM26.2 516.55h23.6v1.55h-23.6zM167.7 521.56h23.6v1.55h-23.6zM26.2 530.32h23.6v1.55h-23.6zM26.2 532.82h47.2v1.55h-47.2zM2.6 541.58h23.6v1.55h-23.6zM49.8 541.58h23.6v1.55h-23.6zM26.2 542.84h23.6v1.55h-23.6zM2.6 544.09h23.6v1.55h-23.6zM26.2 545.34h47.2v1.55h-47.2zM2.6 547.84h23.6v1.55h-23.6zM49.8 549.09h23.6v1.55h-23.6zM26.2 551.60h23.6v1.55h-23.6zM262.1 556.60h23.6v1.55h-23.6zM214.9 569.12h23.6v1.55h-23.6zM262.1 580.39h23.6v1.55h-23.6z"/>
<path fill="#d8929f" d="M167.7 303.76h47.2v1.55h-47.2zM144.1 306.26h70.8v1.55h-70.8zM144.1 307.51h23.6v1.55h-23.6zM191.3 307.51h23.6v1.55h-23.6zM144.1 308.77h23.6v1.55h-23.6zM167.7 310.02h23.6v1.55h-23.6zM214.9 320.03h23.6v1.55h-23.6zM214.9 328.79h23.6v1.55h-23.6zM120.6 346.32h23.6v1.55h-23.6zM120.6 347.57h23.6v1.55h-23.6zM97.0 348.82h47.2v1.55h-47.2zM144.1 357.58h23.6v1.55h-23.6zM191.3 358.83h23.6v1.55h-23.6zM144.1 362.59h23.6v1.55h-23.6zM120.6 386.37h23.6v1.55h-23.6zM97.0 393.88h23.6v1.55h-23.6zM97.0 397.64h23.6v1.55h-23.6zM214.9 401.39h23.6v1.55h-23.6zM120.6 416.41h23.6v1.55h-23.6zM49.8 418.92h23.6v1.55h-23.6zM2.6 420.17h47.2v1.55h-47.2zM2.6 421.42h23.6v1.55h-23.6zM49.8 423.92h23.6v1.55h-23.6zM49.8 428.93h23.6v1.55h-23.6zM26.2 431.43h23.6v1.55h-23.6zM49.8 435.19h23.6v1.55h-23.6zM26.2 436.44h23.6v1.55h-23.6zM26.2 440.19h23.6v1.55h-23.6zM49.8 451.46h23.6v1.55h-23.6zM2.6 452.71h23.6v1.55h-23.6zM2.6 455.22h23.6v1.55h-23.6zM2.6 460.22h47.2v1.55h-47.2zM26.2 462.73h47.2v1.55h-47.2zM26.2 468.98h23.6v1.55h-23.6zM26.2 472.74h47.2v1.55h-47.2zM2.6 477.75h23.6v1.55h-23.6zM26.2 479.00h23.6v1.55h-23.6zM2.6 480.25h70.8v1.55h-70.8zM2.6 482.75h23.6v1.55h-23.6zM2.6 484.00h23.6v1.55h-23.6zM26.2 486.51h23.6v1.55h-23.6zM26.2 487.76h47.2v1.55h-47.2zM2.6 490.26h23.6v1.55h-23.6zM49.8 500.28h23.6v1.55h-23.6zM49.8 509.04h23.6v1.55h-23.6zM49.8 510.29h23.6v1.55h-23.6zM2.6 512.79h23.6v1.55h-23.6zM191.3 521.56h23.6v1.55h-23.6zM2.6 530.32h23.6v1.55h-23.6zM2.6 532.82h23.6v1.55h-23.6zM2.6 539.08h70.8v1.55h-70.8zM49.8 540.33h23.6v1.55h-23.6zM2.6 542.84h23.6v1.55h-23.6zM49.8 542.84h23.6v1.55h-23.6zM2.6 545.34h23.6v1.55h-23.6zM2.6 549.09h47.2v1.55h-47.2zM49.8 554.10h23.6v1.55h-23.6zM214.9 556.60h47.2v1.55h-47.2zM214.9 565.37h47.2v1.55h-47.2zM262.1 569.12h23.6v1.55h-23.6zM214.9 570.37h23.6v1.55h-23.6zM262.1 570.37h23.6v1.55h-23.6zM214.9 580.39h47.2v1.55h-47.2z"/>
<path fill="#eaeef3" d="M97.0 305.01h23.6v1.55h-23.6zM97.0 315.02h47.2v1.55h-47.2zM144.1 320.03h23.6v1.55h-23.6zM191.3 320.03h23.6v1.55h-23.6zM238.5 323.79h23.6v1.55h-23.6zM97.0 331.30h23.6v1.55h-23.6zM97.0 333.80h23.6v1.55h-23.6zM97.0 337.55h23.6v1.55h-23.6zM73.4 338.81h23.6v1.55h-23.6zM120.6 343.81h23.6v1.55h-23.6zM2.6 355.08h23.6v1.55h-23.6zM2.6 356.33h23.6v1.55h-23.6zM262.1 375.11h23.6v1.55h-23.6zM2.6 377.61h23.6v1.55h-23.6zM214.9 377.61h23.6v1.55h-23.6zM262.1 377.61h23.6v1.55h-23.6zM167.7 378.86h23.6v1.55h-23.6zM2.6 380.11h47.2v1.55h-47.2zM167.7 380.11h23.6v1.55h-23.6zM144.1 381.36h47.2v1.55h-47.2zM2.6 382.62h23.6v1.55h-23.6zM49.8 382.62h23.6v1.55h-23.6zM167.7 383.87h47.2v1.55h-47.2zM191.3 385.12h23.6v1.55h-23.6zM144.1 387.62h23.6v1.55h-23.6zM191.3 387.62h23.6v1.55h-23.6zM144.1 388.87h47.2v1.55h-47.2zM2.6 390.13h23.6v1.55h-23.6zM214.9 390.13h23.6v1.55h-23.6zM2.6 391.38h23.6v1.55h-23.6zM49.8 391.38h23.6v1.55h-23.6zM49.8 393.88h23.6v1.55h-23.6zM144.1 395.13h23.6v1.55h-23.6zM167.7 396.39h47.2v1.55h-47.2zM144.1 397.64h23.6v1.55h-23.6zM191.3 397.64h23.6v1.55h-23.6zM191.3 400.14h23.6v1.55h-23.6zM49.8 401.39h23.6v1.55h-23.6zM49.8 402.64h23.6v1.55h-23.6zM120.6 403.90h23.6v1.55h-23.6zM144.1 407.65h23.6v1.55h-23.6zM26.2 422.67h23.6v1.55h-23.6zM120.6 422.67h23.6v1.55h-23.6zM167.7 422.67h23.6v1.55h-23.6zM73.4 423.92h47.2v1.55h-47.2zM238.5 425.17h47.2v1.55h-47.2zM214.9 427.68h23.6v1.55h-23.6zM120.6 428.93h23.6v1.55h-23.6zM73.4 430.18h23.6v1.55h-23.6zM120.6 430.18h23.6v1.55h-23.6zM120.6 432.68h23.6v1.55h-23.6zM73.4 433.94h23.6v1.55h-23.6zM120.6 433.94h23.6v1.55h-23.6zM167.7 437.69h23.6v1.55h-23.6zM73.4 438.94h23.6v1.55h-23.6zM214.9 440.19h23.6v1.55h-23.6zM262.1 440.19h23.6v1.55h-23.6zM167.7 443.95h47.2v1.55h-47.2zM49.8 447.71h23.6v1.55h-23.6zM97.0 448.96h23.6v1.55h-23.6zM191.3 448.96h23.6v1.55h-23.6zM97.0 455.22h23.6v1.55h-23.6zM73.4 456.47h70.8v1.55h-70.8zM97.0 460.22h23.6v1.55h-23.6zM167.7 460.22h23.6v1.55h-23.6zM73.4 461.47h23.6v1.55h-23.6zM238.5 462.73h23.6v1.55h-23.6zM191.3 465.23h23.6v1.55h-23.6zM97.0 467.73h23.6v1.55h-23.6zM73.4 468.98h23.6v1.55h-23.6zM167.7 470.24h23.6v1.55h-23.6zM120.6 471.49h23.6v1.55h-23.6zM73.4 475.24h23.6v1.55h-23.6zM97.0 476.49h23.6v1.55h-23.6zM214.9 477.75h23.6v1.55h-23.6zM167.7 479.00h23.6v1.55h-23.6zM144.1 480.25h23.6v1.55h-23.6zM97.0 487.76h23.6v1.55h-23.6zM120.6 489.01h23.6v1.55h-23.6zM167.7 489.01h23.6v1.55h-23.6zM73.4 490.26h23.6v1.55h-23.6zM144.1 509.04h70.8v1.55h-70.8zM167.7 510.29h23.6v1.55h-23.6zM144.1 511.54h23.6v1.55h-23.6zM191.3 511.54h23.6v1.55h-23.6zM144.1 516.55h23.6v1.55h-23.6zM49.8 520.30h23.6v1.55h-23.6zM73.4 527.81h23.6v1.55h-23.6zM191.3 530.32h23.6v1.55h-23.6zM238.5 534.07h23.6v1.55h-23.6zM167.7 562.86h23.6v1.55h-23.6zM26.2 569.12h47.2v1.55h-47.2zM144.1 569.12h23.6v1.55h-23.6zM144.1 570.37h23.6v1.55h-23.6zM191.3 571.62h23.6v1.55h-23.6zM97.0 581.64h23.6v1.55h-23.6zM49.8 587.90h23.6v1.55h-23.6z"/>
<path fill="#96b7d9" d="M26.2 306.26h23.6v1.55h-23.6zM49.8 310.02h23.6v1.55h-23.6zM49.8 313.77h23.6v1.55h-23.6zM49.8 317.53h23.6v1.55h-23.6zM2.6 322.53h23.6v1.55h-23.6zM2.6 325.04h70.8v1.55h-70.8zM2.6 333.80h23.6v1.55h-23.6zM26.2 335.05h23.6v1.55h-23.6zM26.2 337.55h23.6v1.55h-23.6zM2.6 342.56h23.6v1.55h-23.6zM49.8 342.56h23.6v1.55h-23.6zM49.8 411.41h23.6v1.55h-23.6zM2.6 413.91h23.6v1.55h-23.6zM214.9 502.78h23.6v1.55h-23.6zM214.9 504.03h23.6v1.55h-23.6zM238.5 510.29h23.6v1.55h-23.6zM214.9 517.80h23.6v1.55h-23.6zM262.1 517.80h23.6v1.55h-23.6zM97.0 530.32h23.6v1.55h-23.6zM120.6 577.88h23.6v1.55h-23.6z"/>
<path fill="#d5e0ec" d="M97.0 307.51h47.2v1.55h-47.2zM97.0 313.77h23.6v1.55h-23.6zM97.0 328.79h23.6v1.55h-23.6zM120.6 333.80h23.6v1.55h-23.6zM26.2 345.06h23.6v1.55h-23.6zM238.5 345.06h23.6v1.55h-23.6zM49.8 348.82h23.6v1.55h-23.6zM2.6 351.32h47.2v1.55h-47.2zM2.6 357.58h23.6v1.55h-23.6zM26.2 362.59h23.6v1.55h-23.6zM238.5 366.34h23.6v1.55h-23.6zM144.1 375.11h23.6v1.55h-23.6zM191.3 376.36h23.6v1.55h-23.6zM238.5 376.36h47.2v1.55h-47.2zM238.5 378.86h47.2v1.55h-47.2zM191.3 380.11h23.6v1.55h-23.6zM262.1 380.11h23.6v1.55h-23.6zM262.1 381.36h23.6v1.55h-23.6zM238.5 382.62h23.6v1.55h-23.6zM2.6 383.87h23.6v1.55h-23.6zM167.7 386.37h23.6v1.55h-23.6zM238.5 386.37h23.6v1.55h-23.6zM26.2 387.62h47.2v1.55h-47.2zM214.9 387.62h23.6v1.55h-23.6zM262.1 390.13h23.6v1.55h-23.6zM49.8 396.39h23.6v1.55h-23.6zM2.6 397.64h47.2v1.55h-47.2zM2.6 398.89h23.6v1.55h-23.6zM238.5 400.14h23.6v1.55h-23.6zM120.6 401.39h23.6v1.55h-23.6zM191.3 402.64h23.6v1.55h-23.6zM49.8 403.90h23.6v1.55h-23.6zM167.7 403.90h47.2v1.55h-47.2zM97.0 405.15h23.6v1.55h-23.6zM144.1 405.15h23.6v1.55h-23.6zM144.1 408.90h23.6v1.55h-23.6zM144.1 412.66h47.2v1.55h-47.2zM97.0 418.92h23.6v1.55h-23.6zM120.6 421.42h23.6v1.55h-23.6zM167.7 421.42h47.2v1.55h-47.2zM262.1 423.92h23.6v1.55h-23.6zM73.4 425.17h47.2v1.55h-47.2zM167.7 428.93h23.6v1.55h-23.6zM97.0 431.43h47.2v1.55h-47.2zM144.1 432.68h47.2v1.55h-47.2zM262.1 433.94h23.6v1.55h-23.6zM191.3 435.19h70.8v1.55h-70.8zM73.4 437.69h23.6v1.55h-23.6zM144.1 438.94h23.6v1.55h-23.6zM73.4 441.45h47.2v1.55h-47.2zM144.1 441.45h47.2v1.55h-47.2zM73.4 442.70h47.2v1.55h-47.2zM144.1 442.70h23.6v1.55h-23.6zM238.5 442.70h47.2v1.55h-47.2zM97.0 443.95h23.6v1.55h-23.6zM97.0 445.20h23.6v1.55h-23.6zM144.1 447.71h23.6v1.55h-23.6zM238.5 447.71h23.6v1.55h-23.6zM144.1 448.96h47.2v1.55h-47.2zM120.6 450.21h70.8v1.55h-70.8zM191.3 455.22h47.2v1.55h-47.2zM262.1 455.22h23.6v1.55h-23.6zM144.1 456.47h47.2v1.55h-47.2zM97.0 458.97h23.6v1.55h-23.6zM120.6 462.73h70.8v1.55h-70.8zM120.6 463.98h23.6v1.55h-23.6zM214.9 466.48h47.2v1.55h-47.2zM144.1 467.73h94.4v1.55h-94.4zM144.1 468.98h23.6v1.55h-23.6zM214.9 468.98h23.6v1.55h-23.6zM73.4 470.24h23.6v1.55h-23.6zM120.6 470.24h23.6v1.55h-23.6zM97.0 473.99h23.6v1.55h-23.6zM214.9 473.99h70.8v1.55h-70.8zM144.1 475.24h47.2v1.55h-47.2zM238.5 475.24h47.2v1.55h-47.2zM144.1 476.49h23.6v1.55h-23.6zM191.3 476.49h23.6v1.55h-23.6zM262.1 477.75h23.6v1.55h-23.6zM238.5 479.00h23.6v1.55h-23.6zM120.6 480.25h23.6v1.55h-23.6zM214.9 480.25h23.6v1.55h-23.6zM73.4 481.50h23.6v1.55h-23.6zM120.6 481.50h23.6v1.55h-23.6zM262.1 481.50h23.6v1.55h-23.6zM73.4 482.75h23.6v1.55h-23.6zM191.3 482.75h23.6v1.55h-23.6zM97.0 484.00h23.6v1.55h-23.6zM144.1 484.00h23.6v1.55h-23.6zM191.3 484.00h23.6v1.55h-23.6zM262.1 484.00h23.6v1.55h-23.6zM167.7 487.76h47.2v1.55h-47.2zM238.5 489.01h23.6v1.55h-23.6zM191.3 490.26h23.6v1.55h-23.6zM26.2 502.78h47.2v1.55h-47.2zM144.1 507.79h23.6v1.55h-23.6zM73.4 519.05h23.6v1.55h-23.6zM73.4 532.82h23.6v1.55h-23.6zM73.4 535.32h23.6v1.55h-23.6zM191.3 540.33h23.6v1.55h-23.6zM191.3 542.84h23.6v1.55h-23.6zM97.0 549.09h23.6v1.55h-23.6zM97.0 551.60h23.6v1.55h-23.6zM73.4 559.11h23.6v1.55h-23.6zM73.4 560.36h23.6v1.55h-23.6zM73.4 564.11h23.6v1.55h-23.6zM167.7 564.11h23.6v1.55h-23.6zM73.4 565.37h23.6v1.55h-23.6zM144.1 565.37h23.6v1.55h-23.6zM2.6 567.87h23.6v1.55h-23.6zM144.1 567.87h23.6v1.55h-23.6zM73.4 569.12h23.6v1.55h-23.6zM2.6 570.37h23.6v1.55h-23.6zM73.4 571.62h23.6v1.55h-23.6zM26.2 572.88h23.6v1.55h-23.6zM2.6 574.13h47.2v1.55h-47.2zM2.6 575.38h23.6v1.55h-23.6zM73.4 576.63h23.6v1.55h-23.6zM49.8 577.88h23.6v1.55h-23.6zM120.6 581.64h23.6v1.55h-23.6zM2.6 582.89h23.6v1.55h-23.6zM2.6 584.14h23.6v1.55h-23.6zM26.2 585.39h23.6v1.55h-23.6zM2.6 586.64h23.6v1.55h-23.6z"/>
<path fill="#8fb2d6" d="M2.6 308.77h23.6v1.55h-23.6zM26.2 317.53h23.6v1.55h-23.6zM26.2 318.78h47.2v1.55h-47.2zM2.6 320.03h47.2v1.55h-47.2zM49.8 321.28h23.6v1.55h-23.6zM49.8 322.53h23.6v1.55h-23.6zM26.2 323.79h23.6v1.55h-23.6zM49.8 335.05h23.6v1.55h-23.6zM49.8 340.06h23.6v1.55h-23.6zM26.2 342.56h23.6v1.55h-23.6zM214.9 501.53h23.6v1.55h-23.6zM238.5 502.78h47.2v1.55h-47.2zM238.5 504.03h47.2v1.55h-47.2zM214.9 510.29h23.6v1.55h-23.6zM262.1 510.29h23.6v1.55h-23.6zM120.6 530.32h23.6v1.55h-23.6zM120.6 579.13h23.6v1.55h-23.6z"/>
<path fill="#d48392" d="M167.7 308.77h23.6v1.55h-23.6zM214.9 325.04h23.6v1.55h-23.6zM120.6 351.32h23.6v1.55h-23.6zM120.6 353.83h23.6v1.55h-23.6zM97.0 380.11h47.2v1.55h-47.2zM97.0 381.36h23.6v1.55h-23.6zM120.6 383.87h23.6v1.55h-23.6zM120.6 398.89h23.6v1.55h-23.6zM49.8 420.17h23.6v1.55h-23.6zM26.2 427.68h23.6v1.55h-23.6zM26.2 430.18h23.6v1.55h-23.6zM49.8 436.44h23.6v1.55h-23.6zM49.8 443.95h23.6v1.55h-23.6zM49.8 450.21h23.6v1.55h-23.6zM26.2 463.98h23.6v1.55h-23.6zM2.6 465.23h23.6v1.55h-23.6zM49.8 470.24h23.6v1.55h-23.6zM49.8 476.49h23.6v1.55h-23.6zM49.8 477.75h23.6v1.55h-23.6zM2.6 481.50h23.6v1.55h-23.6zM26.2 482.75h23.6v1.55h-23.6zM49.8 484.00h23.6v1.55h-23.6zM2.6 489.01h23.6v1.55h-23.6zM2.6 516.55h23.6v1.55h-23.6zM144.1 521.56h23.6v1.55h-23.6zM2.6 527.81h47.2v1.55h-47.2zM26.2 547.84h47.2v1.55h-47.2zM2.6 556.60h23.6v1.55h-23.6zM238.5 569.12h23.6v1.55h-23.6zM238.5 570.37h23.6v1.55h-23.6z"/>
<path fill="#db99a5" d="M191.3 308.77h23.6v1.55h-23.6zM214.9 322.53h23.6v1.55h-23.6zM191.3 328.79h23.6v1.55h-23.6zM97.0 350.07h23.6v1.55h-23.6zM97.0 352.58h47.2v1.55h-47.2zM167.7 357.58h23.6v1.55h-23.6zM73.4 358.83h23.6v1.55h-23.6zM167.7 360.09h47.2v1.55h-47.2zM167.7 362.59h47.2v1.55h-47.2zM144.1 363.84h23.6v1.55h-23.6zM191.3 363.84h23.6v1.55h-23.6zM167.7 365.09h47.2v1.55h-47.2zM120.6 375.11h23.6v1.55h-23.6zM73.4 377.61h23.6v1.55h-23.6zM97.0 378.86h47.2v1.55h-47.2zM120.6 381.36h23.6v1.55h-23.6zM97.0 382.62h23.6v1.55h-23.6zM97.0 390.13h23.6v1.55h-23.6zM262.1 403.90h23.6v1.55h-23.6zM262.1 406.40h23.6v1.55h-23.6zM214.9 408.90h23.6v1.55h-23.6zM2.6 418.92h23.6v1.55h-23.6zM2.6 423.92h47.2v1.55h-47.2zM49.8 425.17h23.6v1.55h-23.6zM2.6 427.68h23.6v1.55h-23.6zM2.6 428.93h47.2v1.55h-47.2zM2.6 436.44h23.6v1.55h-23.6zM49.8 437.69h23.6v1.55h-23.6zM49.8 442.70h23.6v1.55h-23.6zM2.6 451.46h23.6v1.55h-23.6zM2.6 457.72h23.6v1.55h-23.6zM49.8 457.72h23.6v1.55h-23.6zM49.8 458.97h23.6v1.55h-23.6zM2.6 462.73h23.6v1.55h-23.6zM26.2 466.48h23.6v1.55h-23.6zM2.6 472.74h23.6v1.55h-23.6zM2.6 476.49h23.6v1.55h-23.6zM2.6 479.00h23.6v1.55h-23.6zM49.8 479.00h23.6v1.55h-23.6zM2.6 485.26h23.6v1.55h-23.6zM49.8 486.51h23.6v1.55h-23.6zM2.6 487.76h23.6v1.55h-23.6zM26.2 500.28h23.6v1.55h-23.6zM2.6 507.79h47.2v1.55h-47.2zM2.6 509.04h23.6v1.55h-23.6zM26.2 510.29h23.6v1.55h-23.6zM144.1 519.05h23.6v1.55h-23.6zM144.1 522.81h23.6v1.55h-23.6zM49.8 525.31h23.6v1.55h-23.6zM144.1 525.31h23.6v1.55h-23.6zM2.6 526.56h47.2v1.55h-47.2zM26.2 529.07h47.2v1.55h-47.2zM26.2 531.57h47.2v1.55h-47.2zM26.2 535.32h23.6v1.55h-23.6zM26.2 546.59h47.2v1.55h-47.2zM2.6 551.60h23.6v1.55h-23.6zM49.8 551.60h23.6v1.55h-23.6zM238.5 559.11h47.2v1.55h-47.2zM214.9 562.86h70.8v1.55h-70.8zM262.1 565.37h23.6v1.55h-23.6zM238.5 579.13h23.6v1.55h-23.6zM238.5 581.64h23.6v1.55h-23.6zM238.5 584.14h23.6v1.55h-23.6z"/>
<path fill="#81a9d2" d="M2.6 310.02h23.6v1.55h-23.6zM26.2 311.27h47.2v1.55h-47.2zM26.2 312.52h23.6v1.55h-23.6zM2.6 321.28h23.6v1.55h-23.6zM26.2 340.06h23.6v1.55h-23.6zM214.9 505.28h23.6v1.55h-23.6zM262.1 505.28h23.6v1.55h-23.6zM214.9 514.05h47.2v1.55h-47.2zM97.0 577.88h23.6v1.55h-23.6z"/>
<path fill="#73a0ce" d="M26.2 310.02h23.6v1.55h-23.6zM26.2 321.28h23.6v1.55h-23.6z"/>
<path fill="#d17c8c" d="M144.1 311.27h23.6v1.55h-23.6zM97.0 383.87h23.6v1.55h-23.6zM97.0 385.12h47.2v1.55h-47.2zM97.0 388.87h23.6v1.55h-23.6zM120.6 391.38h23.6v1.55h-23.6zM73.4 392.63h23.6v1.55h-23.6zM120.6 393.88h23.6v1.55h-23.6zM214.9 402.64h23.6v1.55h-23.6zM238.5 405.15h23.6v1.55h-23.6zM49.8 432.68h23.6v1.55h-23.6zM2.6 450.21h23.6v1.55h-23.6zM49.8 463.98h23.6v1.55h-23.6zM26.2 465.23h47.2v1.55h-47.2zM2.6 471.49h23.6v1.55h-23.6zM49.8 473.99h23.6v1.55h-23.6zM26.2 481.50h23.6v1.55h-23.6zM49.8 489.01h23.6v1.55h-23.6zM49.8 527.81h23.6v1.55h-23.6zM26.2 541.58h23.6v1.55h-23.6zM26.2 544.09h23.6v1.55h-23.6zM238.5 566.62h23.6v1.55h-23.6z"/>
<path fill="#cf7586" d="M167.7 311.27h23.6v1.55h-23.6zM73.4 345.06h23.6v1.55h-23.6zM97.0 377.61h23.6v1.55h-23.6zM262.1 402.64h23.6v1.55h-23.6zM214.9 405.15h23.6v1.55h-23.6zM262.1 405.15h23.6v1.55h-23.6zM49.8 422.67h23.6v1.55h-23.6zM26.2 461.47h23.6v1.55h-23.6zM26.2 473.99h23.6v1.55h-23.6zM49.8 481.50h23.6v1.55h-23.6zM49.8 482.75h23.6v1.55h-23.6zM26.2 484.00h23.6v1.55h-23.6zM26.2 489.01h23.6v1.55h-23.6zM49.8 516.55h23.6v1.55h-23.6zM49.8 530.32h23.6v1.55h-23.6zM49.8 544.09h23.6v1.55h-23.6zM26.2 556.60h47.2v1.55h-47.2zM214.9 566.62h23.6v1.55h-23.6zM262.1 566.62h23.6v1.55h-23.6zM214.9 567.87h70.8v1.55h-70.8z"/>
<path fill="#dce5ee" d="M120.6 313.77h23.6v1.55h-23.6zM144.1 321.28h23.6v1.55h-23.6zM97.0 327.54h23.6v1.55h-23.6zM97.0 330.04h23.6v1.55h-23.6zM120.6 335.05h23.6v1.55h-23.6zM120.6 336.30h23.6v1.55h-23.6zM120.6 337.55h23.6v1.55h-23.6zM97.0 338.81h23.6v1.55h-23.6zM97.0 340.06h47.2v1.55h-47.2zM2.6 345.06h23.6v1.55h-23.6zM214.9 345.06h23.6v1.55h-23.6zM262.1 345.06h23.6v1.55h-23.6zM2.6 350.07h23.6v1.55h-23.6zM26.2 352.58h23.6v1.55h-23.6zM49.8 356.33h23.6v1.55h-23.6zM49.8 361.34h23.6v1.55h-23.6zM2.6 363.84h23.6v1.55h-23.6zM49.8 363.84h23.6v1.55h-23.6zM214.9 366.34h23.6v1.55h-23.6zM262.1 366.34h23.6v1.55h-23.6zM238.5 370.10h23.6v1.55h-23.6zM214.9 375.11h47.2v1.55h-47.2zM2.6 376.36h23.6v1.55h-23.6zM167.7 376.36h23.6v1.55h-23.6zM26.2 377.61h23.6v1.55h-23.6zM144.1 377.61h70.8v1.55h-70.8zM214.9 378.86h23.6v1.55h-23.6zM144.1 380.11h23.6v1.55h-23.6zM49.8 381.36h23.6v1.55h-23.6zM214.9 381.36h47.2v1.55h-47.2zM214.9 382.62h23.6v1.55h-23.6zM49.8 385.12h23.6v1.55h-23.6zM214.9 385.12h23.6v1.55h-23.6zM262.1 385.12h23.6v1.55h-23.6zM144.1 386.37h23.6v1.55h-23.6zM2.6 387.62h23.6v1.55h-23.6zM262.1 391.38h23.6v1.55h-23.6zM2.6 395.13h70.8v1.55h-70.8zM214.9 395.13h70.8v1.55h-70.8zM214.9 396.39h23.6v1.55h-23.6zM262.1 396.39h23.6v1.55h-23.6zM49.8 397.64h23.6v1.55h-23.6zM214.9 397.64h70.8v1.55h-70.8zM26.2 400.14h23.6v1.55h-23.6zM73.4 401.39h47.2v1.55h-47.2zM26.2 402.64h23.6v1.55h-23.6zM144.1 403.90h23.6v1.55h-23.6zM73.4 405.15h23.6v1.55h-23.6zM120.6 405.15h23.6v1.55h-23.6zM167.7 405.15h47.2v1.55h-47.2zM167.7 408.90h47.2v1.55h-47.2zM191.3 412.66h23.6v1.55h-23.6zM2.6 415.16h70.8v1.55h-70.8zM2.6 416.41h23.6v1.55h-23.6zM49.8 416.41h23.6v1.55h-23.6zM120.6 418.92h23.6v1.55h-23.6zM97.0 420.17h47.2v1.55h-47.2zM73.4 421.42h47.2v1.55h-47.2zM214.9 423.92h47.2v1.55h-47.2zM191.3 426.43h23.6v1.55h-23.6zM144.1 427.68h23.6v1.55h-23.6zM262.1 427.68h23.6v1.55h-23.6zM73.4 428.93h23.6v1.55h-23.6zM144.1 428.93h23.6v1.55h-23.6zM97.0 430.18h23.6v1.55h-23.6zM191.3 432.68h23.6v1.55h-23.6zM97.0 433.94h23.6v1.55h-23.6zM144.1 433.94h23.6v1.55h-23.6zM214.9 433.94h47.2v1.55h-47.2zM262.1 435.19h23.6v1.55h-23.6zM191.3 437.69h23.6v1.55h-23.6zM167.7 438.94h47.2v1.55h-47.2zM167.7 440.19h23.6v1.55h-23.6zM191.3 441.45h23.6v1.55h-23.6zM167.7 442.70h47.2v1.55h-47.2zM73.4 445.20h23.6v1.55h-23.6zM97.0 446.45h23.6v1.55h-23.6zM73.4 447.71h23.6v1.55h-23.6zM214.9 447.71h23.6v1.55h-23.6zM262.1 447.71h23.6v1.55h-23.6zM120.6 448.96h23.6v1.55h-23.6zM262.1 448.96h23.6v1.55h-23.6zM73.4 450.21h23.6v1.55h-23.6zM144.1 453.96h47.2v1.55h-47.2zM144.1 455.22h23.6v1.55h-23.6zM120.6 457.72h23.6v1.55h-23.6zM120.6 460.22h23.6v1.55h-23.6zM97.0 461.47h23.6v1.55h-23.6zM262.1 461.47h23.6v1.55h-23.6zM73.4 462.73h47.2v1.55h-47.2zM191.3 462.73h23.6v1.55h-23.6zM73.4 463.98h23.6v1.55h-23.6zM73.4 465.23h23.6v1.55h-23.6zM238.5 465.23h47.2v1.55h-47.2zM262.1 466.48h23.6v1.55h-23.6zM73.4 467.73h23.6v1.55h-23.6zM167.7 468.98h23.6v1.55h-23.6zM262.1 468.98h23.6v1.55h-23.6zM97.0 470.24h23.6v1.55h-23.6zM73.4 471.49h23.6v1.55h-23.6zM214.9 472.74h23.6v1.55h-23.6zM73.4 473.99h23.6v1.55h-23.6zM144.1 473.99h47.2v1.55h-47.2zM214.9 475.24h23.6v1.55h-23.6zM167.7 476.49h23.6v1.55h-23.6zM214.9 476.49h47.2v1.55h-47.2zM144.1 479.00h23.6v1.55h-23.6zM191.3 479.00h23.6v1.55h-23.6zM73.4 480.25h47.2v1.55h-47.2zM97.0 481.50h23.6v1.55h-23.6zM238.5 481.50h23.6v1.55h-23.6zM167.7 484.00h23.6v1.55h-23.6zM238.5 484.00h23.6v1.55h-23.6zM238.5 485.26h23.6v1.55h-23.6zM262.1 489.01h23.6v1.55h-23.6zM191.3 507.79h23.6v1.55h-23.6zM144.1 510.29h23.6v1.55h-23.6zM191.3 510.29h23.6v1.55h-23.6zM144.1 515.30h70.8v1.55h-70.8zM2.6 521.56h23.6v1.55h-23.6zM238.5 521.56h47.2v1.55h-47.2zM26.2 522.81h23.6v1.55h-23.6zM73.4 522.81h23.6v1.55h-23.6zM2.6 524.06h47.2v1.55h-47.2zM73.4 525.31h23.6v1.55h-23.6zM73.4 539.08h23.6v1.55h-23.6zM73.4 540.33h23.6v1.55h-23.6zM73.4 541.58h23.6v1.55h-23.6zM73.4 545.34h23.6v1.55h-23.6zM73.4 552.85h23.6v1.55h-23.6zM167.7 552.85h47.2v1.55h-47.2zM73.4 554.10h23.6v1.55h-23.6zM144.1 562.86h23.6v1.55h-23.6zM191.3 562.86h23.6v1.55h-23.6zM191.3 565.37h23.6v1.55h-23.6zM26.2 567.87h23.6v1.55h-23.6zM49.8 570.37h23.6v1.55h-23.6zM26.2 575.38h23.6v1.55h-23.6zM26.2 582.89h47.2v1.55h-47.2zM97.0 582.89h23.6v1.55h-23.6zM49.8 585.39h47.2v1.55h-47.2z"/>
<path fill="#c7d7e8" d="M2.6 326.29h23.6v1.55h-23.6zM97.0 326.29h23.6v1.55h-23.6zM2.6 330.04h23.6v1.55h-23.6zM120.6 330.04h23.6v1.55h-23.6zM2.6 348.82h23.6v1.55h-23.6zM214.9 348.82h23.6v1.55h-23.6zM214.9 350.07h23.6v1.55h-23.6zM262.1 350.07h23.6v1.55h-23.6zM49.8 351.32h23.6v1.55h-23.6zM238.5 352.58h23.6v1.55h-23.6zM2.6 353.83h47.2v1.55h-47.2zM238.5 356.33h47.2v1.55h-47.2zM214.9 357.58h23.6v1.55h-23.6zM262.1 360.09h23.6v1.55h-23.6zM238.5 361.34h23.6v1.55h-23.6zM262.1 362.59h23.6v1.55h-23.6zM49.8 365.09h23.6v1.55h-23.6zM238.5 372.60h47.2v1.55h-47.2zM214.9 373.85h70.8v1.55h-70.8zM2.6 378.86h47.2v1.55h-47.2zM238.5 380.11h23.6v1.55h-23.6zM49.8 383.87h23.6v1.55h-23.6zM214.9 383.87h70.8v1.55h-70.8zM214.9 386.37h23.6v1.55h-23.6zM238.5 387.62h23.6v1.55h-23.6zM238.5 388.87h23.6v1.55h-23.6zM26.2 392.63h23.6v1.55h-23.6zM214.9 393.88h23.6v1.55h-23.6zM262.1 393.88h23.6v1.55h-23.6zM2.6 396.39h23.6v1.55h-23.6zM262.1 398.89h23.6v1.55h-23.6zM167.7 401.39h23.6v1.55h-23.6zM191.3 406.40h23.6v1.55h-23.6zM144.1 411.41h23.6v1.55h-23.6zM167.7 413.91h23.6v1.55h-23.6zM144.1 415.16h70.8v1.55h-70.8zM167.7 420.17h47.2v1.55h-47.2zM144.1 423.92h47.2v1.55h-47.2zM167.7 425.17h23.6v1.55h-23.6zM167.7 426.43h23.6v1.55h-23.6zM191.3 430.18h23.6v1.55h-23.6zM167.7 431.43h70.8v1.55h-70.8zM73.4 435.19h23.6v1.55h-23.6zM120.6 435.19h23.6v1.55h-23.6zM191.3 436.44h23.6v1.55h-23.6zM238.5 437.69h47.2v1.55h-47.2zM238.5 441.45h23.6v1.55h-23.6zM214.9 442.70h23.6v1.55h-23.6zM73.4 443.95h23.6v1.55h-23.6zM238.5 443.95h23.6v1.55h-23.6zM167.7 445.20h23.6v1.55h-23.6zM214.9 445.20h23.6v1.55h-23.6zM262.1 445.20h23.6v1.55h-23.6zM191.3 446.45h23.6v1.55h-23.6zM167.7 447.71h23.6v1.55h-23.6zM238.5 455.22h23.6v1.55h-23.6zM238.5 456.47h47.2v1.55h-47.2zM167.7 463.98h47.2v1.55h-47.2zM238.5 463.98h23.6v1.55h-23.6zM167.7 471.49h23.6v1.55h-23.6zM167.7 472.74h23.6v1.55h-23.6zM73.4 477.75h23.6v1.55h-23.6zM167.7 481.50h47.2v1.55h-47.2zM120.6 482.75h47.2v1.55h-47.2zM214.9 482.75h70.8v1.55h-70.8zM120.6 484.00h23.6v1.55h-23.6zM262.1 485.26h23.6v1.55h-23.6zM262.1 486.51h23.6v1.55h-23.6zM238.5 487.76h23.6v1.55h-23.6zM167.7 490.26h23.6v1.55h-23.6zM144.1 495.27h47.2v1.55h-47.2zM238.5 499.03h47.2v1.55h-47.2zM2.6 520.30h47.2v1.55h-47.2zM120.6 520.30h23.6v1.55h-23.6zM73.4 521.56h23.6v1.55h-23.6zM120.6 525.31h23.6v1.55h-23.6zM120.6 527.81h23.6v1.55h-23.6zM73.4 536.58h23.6v1.55h-23.6zM73.4 537.83h23.6v1.55h-23.6zM191.3 537.83h23.6v1.55h-23.6zM120.6 539.08h23.6v1.55h-23.6zM97.0 540.33h23.6v1.55h-23.6zM144.1 540.33h23.6v1.55h-23.6zM73.4 542.84h23.6v1.55h-23.6zM191.3 545.34h23.6v1.55h-23.6zM73.4 546.59h23.6v1.55h-23.6zM144.1 551.60h23.6v1.55h-23.6zM120.6 554.10h23.6v1.55h-23.6zM167.7 554.10h47.2v1.55h-47.2zM73.4 561.61h23.6v1.55h-23.6zM144.1 564.11h23.6v1.55h-23.6zM49.8 571.62h23.6v1.55h-23.6zM97.0 571.62h23.6v1.55h-23.6zM73.4 572.88h23.6v1.55h-23.6zM73.4 575.38h23.6v1.55h-23.6zM2.6 577.88h47.2v1.55h-47.2zM49.8 579.13h23.6v1.55h-23.6zM73.4 584.14h23.6v1.55h-23.6zM26.2 589.15h23.6v1.55h-23.6z"/>
<path fill="#cedcea" d="M120.6 327.54h23.6v1.55h-23.6zM97.0 332.55h47.2v1.55h-47.2zM120.6 338.81h23.6v1.55h-23.6zM26.2 348.82h23.6v1.55h-23.6zM262.1 352.58h23.6v1.55h-23.6zM49.8 353.83h23.6v1.55h-23.6zM238.5 353.83h23.6v1.55h-23.6zM26.2 357.58h47.2v1.55h-47.2zM2.6 362.59h23.6v1.55h-23.6zM49.8 362.59h23.6v1.55h-23.6zM26.2 363.84h23.6v1.55h-23.6zM214.9 372.60h23.6v1.55h-23.6zM167.7 375.11h23.6v1.55h-23.6zM144.1 376.36h23.6v1.55h-23.6zM214.9 376.36h23.6v1.55h-23.6zM49.8 378.86h23.6v1.55h-23.6zM214.9 380.11h23.6v1.55h-23.6zM262.1 382.62h23.6v1.55h-23.6zM26.2 383.87h23.6v1.55h-23.6zM2.6 385.12h47.2v1.55h-47.2zM238.5 385.12h23.6v1.55h-23.6zM2.6 386.37h23.6v1.55h-23.6zM262.1 386.37h23.6v1.55h-23.6zM262.1 387.62h23.6v1.55h-23.6zM2.6 392.63h23.6v1.55h-23.6zM49.8 392.63h23.6v1.55h-23.6zM26.2 396.39h23.6v1.55h-23.6zM26.2 398.89h47.2v1.55h-47.2zM214.9 398.89h47.2v1.55h-47.2zM262.1 400.14h23.6v1.55h-23.6zM144.1 401.39h23.6v1.55h-23.6zM191.3 401.39h23.6v1.55h-23.6zM144.1 402.64h47.2v1.55h-47.2zM2.6 403.90h47.2v1.55h-47.2zM144.1 406.40h23.6v1.55h-23.6zM144.1 410.15h70.8v1.55h-70.8zM167.7 411.41h47.2v1.55h-47.2zM144.1 420.17h23.6v1.55h-23.6zM144.1 421.42h23.6v1.55h-23.6zM191.3 423.92h23.6v1.55h-23.6zM120.6 425.17h47.2v1.55h-47.2zM191.3 425.17h23.6v1.55h-23.6zM167.7 430.18h23.6v1.55h-23.6zM238.5 431.43h47.2v1.55h-47.2zM167.7 433.94h47.2v1.55h-47.2zM144.1 435.19h47.2v1.55h-47.2zM144.1 436.44h23.6v1.55h-23.6zM120.6 437.69h23.6v1.55h-23.6zM262.1 438.94h23.6v1.55h-23.6zM120.6 441.45h23.6v1.55h-23.6zM120.6 443.95h23.6v1.55h-23.6zM214.9 443.95h23.6v1.55h-23.6zM120.6 445.20h47.2v1.55h-47.2zM191.3 445.20h23.6v1.55h-23.6zM238.5 445.20h23.6v1.55h-23.6zM144.1 446.45h47.2v1.55h-47.2zM97.0 447.71h47.2v1.55h-47.2zM191.3 447.71h23.6v1.55h-23.6zM214.9 448.96h23.6v1.55h-23.6zM191.3 450.21h23.6v1.55h-23.6zM73.4 451.46h23.6v1.55h-23.6zM167.7 455.22h23.6v1.55h-23.6zM214.9 456.47h23.6v1.55h-23.6zM120.6 458.97h23.6v1.55h-23.6zM97.0 463.98h23.6v1.55h-23.6zM144.1 463.98h23.6v1.55h-23.6zM214.9 463.98h23.6v1.55h-23.6zM262.1 463.98h23.6v1.55h-23.6zM120.6 465.23h23.6v1.55h-23.6zM238.5 467.73h47.2v1.55h-47.2zM238.5 468.98h23.6v1.55h-23.6zM144.1 471.49h23.6v1.55h-23.6zM191.3 471.49h23.6v1.55h-23.6zM144.1 472.74h23.6v1.55h-23.6zM191.3 472.74h23.6v1.55h-23.6zM191.3 475.24h23.6v1.55h-23.6zM238.5 477.75h23.6v1.55h-23.6zM73.4 479.00h23.6v1.55h-23.6zM73.4 484.00h23.6v1.55h-23.6zM214.9 486.51h47.2v1.55h-47.2zM214.9 487.76h23.6v1.55h-23.6zM214.9 489.01h23.6v1.55h-23.6zM144.1 490.26h23.6v1.55h-23.6zM144.1 491.51h70.8v1.55h-70.8zM144.1 494.02h70.8v1.55h-70.8zM191.3 495.27h23.6v1.55h-23.6zM214.9 499.03h23.6v1.55h-23.6zM2.6 502.78h23.6v1.55h-23.6zM26.2 521.56h23.6v1.55h-23.6zM2.6 522.81h23.6v1.55h-23.6zM97.0 527.81h23.6v1.55h-23.6zM73.4 529.07h23.6v1.55h-23.6zM73.4 534.07h23.6v1.55h-23.6zM97.0 539.08h23.6v1.55h-23.6zM144.1 542.84h47.2v1.55h-47.2zM73.4 544.09h23.6v1.55h-23.6zM144.1 545.34h23.6v1.55h-23.6zM120.6 547.84h23.6v1.55h-23.6zM73.4 550.35h23.6v1.55h-23.6zM120.6 551.60h23.6v1.55h-23.6zM73.4 556.60h23.6v1.55h-23.6zM73.4 557.86h23.6v1.55h-23.6zM191.3 559.11h23.6v1.55h-23.6zM73.4 562.86h23.6v1.55h-23.6zM191.3 564.11h23.6v1.55h-23.6zM73.4 566.62h23.6v1.55h-23.6zM49.8 567.87h23.6v1.55h-23.6zM97.0 567.87h47.2v1.55h-47.2zM167.7 567.87h47.2v1.55h-47.2zM26.2 570.37h23.6v1.55h-23.6zM73.4 570.37h23.6v1.55h-23.6zM26.2 571.62h23.6v1.55h-23.6zM49.8 572.88h23.6v1.55h-23.6zM49.8 574.13h23.6v1.55h-23.6zM49.8 575.38h23.6v1.55h-23.6zM26.2 581.64h23.6v1.55h-23.6zM120.6 582.89h23.6v1.55h-23.6zM26.2 584.14h23.6v1.55h-23.6zM2.6 585.39h23.6v1.55h-23.6zM49.8 586.64h47.2v1.55h-47.2zM73.4 587.90h23.6v1.55h-23.6zM2.6 589.15h23.6v1.55h-23.6zM49.8 589.15h47.2v1.55h-47.2z"/>
<path fill="#cd6e7f" d="M120.6 377.61h23.6v1.55h-23.6zM120.6 388.87h23.6v1.55h-23.6zM120.6 395.13h23.6v1.55h-23.6zM120.6 396.39h23.6v1.55h-23.6zM238.5 402.64h23.6v1.55h-23.6zM2.6 461.47h23.6v1.55h-23.6zM26.2 471.49h23.6v1.55h-23.6zM2.6 535.32h23.6v1.55h-23.6z"/>
<path fill="#c6586c" d="M97.0 392.63h23.6v1.55h-23.6zM120.6 397.64h23.6v1.55h-23.6zM49.8 421.42h23.6v1.55h-23.6zM26.2 441.45h23.6v1.55h-23.6z"/>
<path fill="#c85f73" d="M120.6 392.63h23.6v1.55h-23.6zM26.2 442.70h23.6v1.55h-23.6zM26.2 445.20h23.6v1.55h-23.6zM26.2 446.45h23.6v1.55h-23.6z"/>
<path fill="#cb6679" d="M49.8 438.94h23.6v1.55h-23.6zM49.8 440.19h23.6v1.55h-23.6zM26.2 443.95h23.6v1.55h-23.6zM2.6 448.96h23.6v1.55h-23.6zM49.8 461.47h23.6v1.55h-23.6zM49.8 471.49h23.6v1.55h-23.6zM2.6 534.07h23.6v1.55h-23.6zM26.2 554.10h23.6v1.55h-23.6z"/>
</g>
<defs><linearGradient id="hmcb" x1="0" y1="0" x2="0" y2="1"><stop offset="0" stop-color="#b41e3a"/><stop offset="0.5" stop-color="#f8f7f7"/><stop offset="1" stop-color="#266eb6"/></linearGradient></defs>
<rect x="289.10" y="297.40" width="6.80" height="98.20" fill="url(#hmcb)"/>
<text x="298.40" y="301.04" font-size="5.6" fill="#333" stroke="#333" stroke-width="0.11">3</text>
<text x="298.40" y="316.64" font-size="5.6" fill="#333" stroke="#333" stroke-width="0.11">2</text>
<text x="298.40" y="332.24" font-size="5.6" fill="#333" stroke="#333" stroke-width="0.11">1</text>
<text x="298.40" y="347.84" font-size="5.6" fill="#333" stroke="#333" stroke-width="0.11">0</text>
<text x="298.40" y="363.44" font-size="5.6" fill="#333" stroke="#333" stroke-width="0.11">-1</text>
<text x="298.40" y="379.04" font-size="5.6" fill="#333" stroke="#333" stroke-width="0.11">-2</text>
<text x="298.40" y="394.64" font-size="5.6" fill="#333" stroke="#333" stroke-width="0.11">-3</text>
<path d="M38.0,297.5V287.3H61.6V297.5 M14.4,297.5V286.2H49.8V287.3 M108.8,297.5V287.4H132.4V297.5 M85.2,297.5V283.4H120.6V287.4 M179.5,297.5V288.7H203.1V297.5 M155.9,297.5V287.7H191.3V288.7 M250.3,297.5V289.0H273.9V297.5 M226.7,297.5V286.5H262.1V289.0 M173.6,287.7V275.0H244.4V286.5 M102.9,283.4V268.6H209.0V275.0 M32.1,286.2V263.0H155.9V268.6" fill="none" stroke="#2a2a2a" stroke-width="1.0"/>
<rect x="2.60" y="592.30" width="69.20" height="3.10" fill="#cc1f1d"/>
<rect x="74.00" y="592.30" width="68.90" height="3.10" fill="#2e7b9b"/>
<rect x="145.20" y="592.30" width="68.40" height="3.10" fill="#7fcac8"/>
<rect x="216.00" y="592.30" width="68.90" height="3.10" fill="#4f8fdc"/>
<text x="35.80" y="604.69" font-size="10.4" text-anchor="middle" fill="#1a1a1a" stroke="#1a1a1a" stroke-width="0.31">NIID</text>
<text x="108.50" y="604.69" font-size="10.4" text-anchor="middle" fill="#1a1a1a" stroke="#1a1a1a" stroke-width="0.31">GGC-rep</text>
<text x="178.80" y="604.69" font-size="10.4" text-anchor="middle" fill="#1a1a1a" stroke="#1a1a1a" stroke-width="0.31">WT</text>
<text x="250.00" y="604.69" font-size="10.4" text-anchor="middle" fill="#1a1a1a" stroke="#1a1a1a" stroke-width="0.31">GGC-del</text>
<text x="307.00" y="259.90" font-size="15.0" font-weight="bold" fill="#000">D</text>
<line x1="392.8" y1="266.3" x2="392.8" y2="416.6" stroke="#d9d9d9" stroke-width="0.8" stroke-dasharray="2,2"/>
<line x1="345.8" y1="346.3" x2="494.7" y2="346.3" stroke="#d9d9d9" stroke-width="0.8" stroke-dasharray="2,2"/>
<ellipse cx="356.9" cy="286.2" rx="2.6" ry="14.2" transform="rotate(-18 356.9 286.2)" fill="#c9ecf2" stroke="#46b3c6" stroke-width="0.6"/>
<ellipse cx="358.3" cy="350.3" rx="1.9" ry="9.9" transform="rotate(-22 358.3 350.3)" fill="#c3cde2" stroke="#23408f" stroke-width="0.6"/>
<circle cx="356.2" cy="283.3" r="1.7" fill="#2aa5b9"/>
<circle cx="358.8" cy="291.8" r="1.7" fill="#2aa5b9"/>
<circle cx="357.7" cy="348.0" r="1.7" fill="#1d3e8e"/>
<circle cx="360.0" cy="354.4" r="1.7" fill="#1d3e8e"/>
<circle cx="484.6" cy="339.6" r="1.7" fill="#e8221b"/>
<circle cx="486.6" cy="339.6" r="1.7" fill="#e8221b"/>
<circle cx="369.4" cy="408.4" r="1.7" fill="#53c23c"/>
<circle cx="370.6" cy="407.6" r="1.7" fill="#53c23c"/>
<circle cx="369.9" cy="409.4" r="1.7" fill="#53c23c"/>
<rect x="345.8" y="266.3" width="148.9" height="150.3" fill="none" stroke="#4d4d4d" stroke-width="0.9"/>
<line x1="343.60" y1="305.40" x2="345.80" y2="305.40" stroke="#4d4d4d" stroke-width="0.8"/>
<text x="342.60" y="308.10" font-size="7.4" text-anchor="end" fill="#4d4d4d" stroke="#4d4d4d" stroke-width="0.15">25</text>
<line x1="343.60" y1="346.30" x2="345.80" y2="346.30" stroke="#4d4d4d" stroke-width="0.8"/>
<text x="342.60" y="349.00" font-size="7.4" text-anchor="end" fill="#4d4d4d" stroke="#4d4d4d" stroke-width="0.15">0</text>
<line x1="343.60" y1="387.40" x2="345.80" y2="387.40" stroke="#4d4d4d" stroke-width="0.8"/>
<text x="342.60" y="390.10" font-size="7.4" text-anchor="end" fill="#4d4d4d" stroke="#4d4d4d" stroke-width="0.15">-25</text>
<line x1="359.90" y1="416.60" x2="359.90" y2="418.80" stroke="#4d4d4d" stroke-width="0.8"/>
<text x="359.90" y="425.30" font-size="7.4" text-anchor="middle" fill="#4d4d4d" stroke="#4d4d4d" stroke-width="0.15">-25</text>
<line x1="392.80" y1="416.60" x2="392.80" y2="418.80" stroke="#4d4d4d" stroke-width="0.8"/>
<text x="392.80" y="425.30" font-size="7.4" text-anchor="middle" fill="#4d4d4d" stroke="#4d4d4d" stroke-width="0.15">0</text>
<line x1="425.50" y1="416.60" x2="425.50" y2="418.80" stroke="#4d4d4d" stroke-width="0.8"/>
<text x="425.50" y="425.30" font-size="7.4" text-anchor="middle" fill="#4d4d4d" stroke="#4d4d4d" stroke-width="0.15">25</text>
<line x1="458.20" y1="416.60" x2="458.20" y2="418.80" stroke="#4d4d4d" stroke-width="0.8"/>
<text x="458.20" y="425.30" font-size="7.4" text-anchor="middle" fill="#4d4d4d" stroke="#4d4d4d" stroke-width="0.15">50</text>
<line x1="484.90" y1="416.60" x2="484.90" y2="418.80" stroke="#4d4d4d" stroke-width="0.8"/>
<text x="484.90" y="425.30" font-size="7.4" text-anchor="middle" fill="#4d4d4d" stroke="#4d4d4d" stroke-width="0.15">75</text>
<text x="424.00" y="436.48" font-size="10.1" text-anchor="middle" fill="#1a1a1a" stroke="#1a1a1a" stroke-width="0.30">PC1:57.74%</text>
<text x="0" y="0" font-size="10.1" text-anchor="middle" fill="#1a1a1a" stroke="#1a1a1a" stroke-width="0.3" transform="translate(328.5,340.7) rotate(-90)">PC1:26.35%</text>
<text x="368.90" y="297.08" font-size="10.1" fill="#1a1a1a" stroke="#1a1a1a" stroke-width="0.30">GGC-rep</text>
<text x="363.60" y="352.28" font-size="10.1" fill="#1a1a1a" stroke="#1a1a1a" stroke-width="0.30">Control</text>
<text x="463.00" y="337.88" font-size="10.1" fill="#1a1a1a" stroke="#1a1a1a" stroke-width="0.30">NIID</text>
<text x="374.70" y="402.88" font-size="10.1" fill="#1a1a1a" stroke="#1a1a1a" stroke-width="0.30">GGC-del</text>
<text x="497.20" y="260.00" font-size="15.0" font-weight="bold" fill="#000">E</text>
<text x="606.00" y="261.52" font-size="10.2" text-anchor="middle" fill="#1a1a1a" stroke="#1a1a1a" stroke-width="0.31">NIID vs WT</text>
<line x1="599.4" y1="266.9" x2="599.4" y2="418.4" stroke="#c8c8c8" stroke-width="0.6" stroke-dasharray="1.2,1.2"/>
<line x1="615.2" y1="266.9" x2="615.2" y2="418.4" stroke="#c8c8c8" stroke-width="0.6" stroke-dasharray="1.2,1.2"/>
<line x1="533.0" y1="410.8" x2="681.4" y2="410.8" stroke="#c8c8c8" stroke-width="0.6" stroke-dasharray="1.2,1.2"/>
<path d="M592.9 281.1h0M595.1 381.5h0M599.0 410.7h0M595.7 347.7h0M598.9 353.3h0M594.2 400.6h0M599.3 406.3h0M595.0 407.2h0M588.0 274.1h0M585.9 391.0h0M591.9 405.0h0M599.3 399.8h0M577.8 364.7h0M582.3 316.1h0M585.5 387.3h0M588.1 389.6h0M595.2 402.3h0M598.4 373.8h0M585.2 383.8h0M576.8 398.5h0M586.2 274.1h0M596.5 403.1h0M597.9 403.4h0M594.1 319.8h0M596.0 274.1h0M595.5 361.5h0M591.1 406.9h0M585.7 407.6h0M599.2 405.4h0M575.8 274.1h0M594.9 400.5h0M573.0 405.2h0M591.8 274.3h0M598.7 310.5h0M575.6 325.2h0M593.8 409.8h0M598.3 382.1h0M590.2 390.1h0M598.6 405.5h0M598.4 386.6h0M575.2 407.1h0M599.2 410.0h0M585.3 361.7h0M584.1 372.5h0M596.4 313.8h0M571.0 386.5h0M592.8 370.2h0M590.1 389.2h0M594.0 397.4h0M597.9 411.1h0M594.6 401.2h0M579.8 401.9h0M585.2 273.9h0M598.9 410.9h0M599.3 274.0h0M597.2 393.5h0M586.7 398.5h0M594.3 408.1h0M592.4 386.4h0M588.9 274.2h0M597.8 326.9h0M599.1 393.0h0M591.6 410.4h0M599.1 393.8h0M592.0 392.4h0M598.8 397.2h0M594.9 411.2h0M591.8 408.0h0M598.8 398.4h0M596.9 410.1h0M593.7 390.0h0M595.4 410.6h0M593.9 274.1h0M596.4 314.2h0M597.8 307.1h0M598.1 407.6h0M590.5 374.7h0M591.6 396.8h0M596.9 351.3h0M577.7 400.1h0M596.9 274.0h0M589.5 406.2h0M579.0 408.0h0M597.0 362.1h0M598.8 399.6h0M588.9 344.4h0M597.3 407.6h0M593.6 325.2h0M593.7 377.4h0M592.7 374.3h0M593.9 404.2h0M599.1 409.9h0M596.4 407.7h0M596.7 404.4h0M596.6 361.3h0M598.5 279.9h0M595.0 409.0h0M597.9 333.1h0M595.1 406.6h0M594.1 408.4h0M598.9 408.7h0M594.4 340.4h0M578.9 405.2h0M594.4 380.0h0M592.9 399.1h0M598.8 281.0h0M597.0 274.4h0M597.0 384.9h0M597.7 358.7h0M584.4 395.3h0M595.4 403.8h0M597.2 408.5h0M586.8 350.5h0M578.1 274.2h0M594.2 274.4h0M589.6 410.1h0M593.1 403.3h0M598.1 397.0h0M582.0 273.9h0M599.1 392.9h0M594.2 398.9h0M598.7 404.1h0M598.2 410.2h0M597.9 407.4h0M598.8 382.2h0M591.2 398.0h0M597.0 305.7h0M598.2 410.2h0M595.2 406.1h0M597.5 409.4h0M575.7 402.6h0M599.0 408.5h0M594.9 385.7h0M598.2 409.5h0M583.7 395.1h0M598.8 397.1h0M598.3 409.4h0M595.1 274.5h0M597.0 377.0h0M596.0 409.8h0M589.4 403.2h0M587.8 409.5h0M593.4 391.5h0M594.6 346.8h0M597.9 398.9h0M593.6 410.1h0M597.4 391.9h0M598.9 407.8h0M598.7 274.3h0M592.5 378.5h0M592.9 403.6h0M592.9 274.0h0M598.7 409.7h0M594.4 407.6h0M598.1 406.3h0M598.6 346.5h0M581.9 273.9h0M593.4 331.9h0M592.3 334.1h0M595.2 393.4h0M596.0 410.9h0M583.3 280.2h0M599.1 406.0h0M597.2 402.1h0M588.7 407.9h0M598.3 374.7h0M599.2 403.9h0M593.6 410.9h0M599.1 281.8h0M593.5 407.3h0M595.8 378.4h0M597.0 388.4h0M598.9 400.8h0M598.9 363.8h0M594.8 389.5h0M597.0 285.5h0M594.7 274.3h0M593.0 402.0h0M598.3 405.5h0M599.2 398.0h0M582.7 359.1h0M584.8 312.6h0M584.6 392.0h0M598.1 400.7h0M596.5 397.5h0M592.6 409.4h0M584.8 409.5h0M596.4 401.5h0M595.9 341.8h0M590.2 406.5h0M597.6 310.5h0M588.3 408.5h0M590.5 384.8h0M585.0 408.0h0M597.8 410.5h0M594.9 375.9h0M596.7 396.5h0M591.0 305.3h0M587.2 368.1h0M598.0 383.0h0M597.1 403.3h0M599.3 399.6h0M596.7 307.3h0M589.0 406.5h0M592.0 408.5h0M582.0 407.8h0M598.2 410.7h0M598.7 404.7h0M596.8 404.5h0M595.1 404.3h0M592.4 398.7h0M591.8 403.9h0M583.4 375.1h0M595.5 395.8h0M577.1 407.6h0M599.3 410.6h0M595.2 396.8h0M597.1 374.9h0M581.2 402.2h0M594.9 351.3h0M595.3 403.9h0M598.9 389.5h0M587.1 274.0h0M596.2 330.0h0M598.4 408.2h0M590.7 351.2h0M598.7 407.6h0M590.3 395.4h0M594.8 407.1h0M584.1 409.5h0M599.2 400.2h0M598.7 406.7h0M583.9 409.5h0M590.6 403.6h0M596.6 397.1h0M596.7 374.1h0M598.6 279.1h0M598.9 302.9h0M571.7 398.7h0M577.4 343.6h0M597.7 391.4h0M594.0 396.0h0M592.5 366.8h0M567.5 403.8h0M559.7 400.2h0M598.3 407.5h0M598.9 411.2h0M596.5 371.0h0M596.1 376.0h0M593.7 407.5h0M597.4 406.9h0M592.3 333.0h0M572.5 310.1h0M585.9 409.4h0M599.0 403.2h0M597.6 318.8h0M594.2 274.1h0M598.9 383.1h0M586.3 393.0h0M597.1 410.8h0M594.3 406.9h0M598.8 409.5h0M596.2 409.3h0M595.2 377.5h0M596.5 305.8h0M596.9 409.8h0M597.5 344.9h0M587.2 405.7h0M596.7 397.5h0M595.9 409.5h0M591.1 407.8h0M598.9 400.5h0M595.4 406.2h0M594.0 348.2h0M588.7 341.0h0M586.3 366.1h0M598.4 398.6h0M590.4 408.9h0M588.4 408.0h0M598.3 308.4h0M593.5 282.7h0M593.2 306.9h0M592.2 406.9h0M597.4 393.9h0M594.8 341.3h0M598.8 405.8h0M599.0 308.5h0M591.0 405.6h0M586.7 311.9h0M595.3 397.0h0M591.2 314.2h0M587.9 407.0h0M596.2 274.2h0M590.0 409.9h0M588.0 403.1h0M591.8 409.8h0M594.6 381.2h0M599.2 289.5h0M587.5 375.3h0M598.7 407.2h0M572.9 405.8h0M596.9 403.6h0M597.4 399.5h0M593.1 281.0h0M595.7 411.2h0M590.8 406.6h0M594.0 315.0h0M596.2 330.8h0M585.7 400.9h0M598.9 321.4h0M598.5 392.1h0M593.2 274.0h0M595.0 362.3h0M598.8 290.9h0M598.5 295.9h0M590.2 295.0h0M593.3 404.6h0M598.4 397.7h0M595.3 294.4h0M585.3 407.7h0M597.4 411.1h0M594.0 402.5h0M586.4 324.6h0M593.6 274.1h0M594.7 274.1h0M593.8 284.2h0M560.0 400.0h0M593.4 407.7h0M588.3 273.9h0M596.1 391.9h0M587.8 409.7h0M574.2 404.2h0M598.0 391.5h0M595.6 393.3h0M596.2 391.8h0M596.7 407.8h0M596.4 411.0h0M597.9 409.3h0M598.9 329.2h0M592.2 399.9h0M589.7 403.5h0M592.8 296.6h0M598.8 410.8h0M582.2 406.2h0M596.7 403.0h0M592.4 407.0h0M597.0 405.0h0M593.6 385.9h0M592.7 401.1h0M593.1 403.1h0M592.9 406.0h0M594.2 316.5h0M596.7 410.9h0M597.1 378.3h0M595.8 401.4h0M589.8 410.2h0M586.6 396.9h0M598.8 284.1h0M598.4 399.4h0M599.2 410.0h0M597.1 298.2h0M593.7 405.7h0M596.0 409.5h0M595.1 400.8h0M594.1 404.5h0M596.1 302.8h0M583.1 400.0h0M598.4 409.5h0M595.8 399.2h0M594.3 312.3h0M591.6 410.3h0M596.0 356.3h0M596.2 398.2h0M593.8 405.5h0M596.0 409.9h0M597.7 410.3h0M596.7 410.5h0M592.8 408.6h0M570.9 396.3h0M598.7 408.8h0M598.6 397.1h0M591.6 317.0h0M590.4 409.4h0M587.2 389.5h0M583.4 295.7h0M595.2 366.7h0M593.1 377.7h0M588.3 410.4h0M580.7 282.8h0M599.2 302.1h0M576.0 407.2h0M596.7 338.7h0M598.0 314.3h0M597.6 410.3h0M597.8 405.5h0M598.9 404.1h0M598.9 396.1h0M598.5 373.6h0M598.4 402.4h0M598.7 402.1h0M598.2 280.2h0M597.7 408.8h0M577.0 385.2h0M581.0 274.0h0M589.8 409.4h0M598.2 372.2h0M597.9 410.5h0M590.6 285.5h0M592.9 274.2h0M595.3 410.1h0M594.7 293.8h0M592.2 306.8h0M590.7 403.4h0M593.1 311.8h0M587.0 294.9h0M597.5 399.7h0M588.8 274.2h0M591.3 403.4h0M598.3 390.2h0M586.8 285.0h0M594.5 410.5h0M599.2 372.8h0M566.8 352.4h0M586.0 369.1h0M598.0 409.4h0M594.2 400.1h0M584.6 305.0h0M595.6 384.5h0M590.1 308.5h0M598.1 402.0h0M596.9 408.3h0M595.1 387.1h0M598.1 356.3h0M578.9 402.7h0M593.7 359.9h0M598.0 334.5h0M596.4 404.4h0M579.8 404.2h0M598.6 278.4h0M585.4 376.9h0M598.2 398.8h0M596.9 311.0h0M598.4 409.4h0M593.1 409.7h0M596.8 310.3h0M578.3 324.9h0M575.1 338.6h0M598.0 384.7h0M583.5 401.5h0M577.9 389.6h0M597.8 291.5h0M595.3 279.3h0M598.6 402.2h0M595.9 407.2h0M598.5 404.1h0M596.2 324.9h0M592.8 368.0h0M581.5 340.1h0M593.0 405.5h0M597.5 390.3h0M590.8 326.5h0M590.6 404.0h0M595.2 403.1h0M588.5 408.0h0M597.7 373.4h0M598.9 410.0h0M599.0 398.2h0M586.0 377.2h0M594.6 384.8h0M598.6 320.0h0M596.5 365.5h0M598.5 401.7h0M594.2 403.8h0M593.6 406.8h0M576.4 273.9h0M596.2 403.0h0M598.7 274.2h0M582.7 286.6h0M594.5 390.0h0M597.4 393.6h0M593.6 399.3h0M589.8 400.3h0M597.7 338.5h0M592.4 342.0h0M591.3 296.4h0M598.9 408.7h0M587.9 397.2h0M593.5 406.9h0M595.5 397.9h0M597.2 332.4h0M596.2 390.9h0M591.8 401.2h0M589.0 406.4h0M589.0 274.2h0M596.6 274.0h0M593.3 404.3h0M597.4 402.5h0M593.9 328.2h0M598.1 405.2h0M567.6 403.7h0M597.2 388.2h0M599.2 378.8h0M590.2 369.0h0M584.5 299.1h0M596.9 345.8h0M599.2 397.7h0M584.8 379.9h0M598.3 337.6h0M594.2 410.8h0M585.5 357.5h0M595.7 293.8h0M599.3 301.0h0M583.1 274.5h0M597.5 361.1h0M579.9 299.2h0M598.9 405.2h0M597.4 313.9h0M595.1 408.9h0M588.2 406.3h0M598.1 397.3h0M595.3 323.2h0M599.0 348.4h0M593.4 405.7h0M580.7 407.5h0M598.7 304.6h0M597.2 388.7h0M598.3 409.4h0M595.4 410.1h0M596.4 396.0h0M583.0 404.7h0M598.0 373.9h0M563.6 386.3h0M595.7 293.5h0M597.8 382.1h0M596.8 290.1h0M596.7 407.4h0M599.1 407.4h0M595.2 390.7h0M595.0 381.6h0M597.6 407.6h0M573.3 376.4h0M592.1 399.3h0M596.4 388.9h0M597.1 408.3h0M599.0 405.7h0M593.5 395.9h0M598.4 410.0h0M599.1 350.1h0M596.9 367.1h0M599.2 274.0h0M593.9 410.0h0M597.3 397.4h0M586.0 310.5h0M597.8 408.8h0M568.4 404.2h0M599.2 397.8h0M595.1 383.4h0M598.9 314.4h0M599.2 395.1h0M598.0 330.6h0M573.7 393.9h0M597.8 408.0h0M599.0 323.2h0M589.0 409.4h0M591.7 389.2h0M593.2 390.2h0M598.0 400.7h0M597.6 359.0h0M596.4 335.4h0M598.9 399.4h0M594.4 315.5h0M595.0 399.5h0M597.9 409.7h0M598.1 405.8h0M595.9 389.2h0M598.6 410.6h0M592.9 404.3h0M598.8 356.1h0M586.7 274.2h0M588.4 389.3h0M597.4 391.5h0M595.1 407.6h0M595.3 409.8h0M597.2 399.1h0M593.5 408.9h0M594.8 408.7h0M595.5 349.6h0M598.2 404.8h0M599.4 397.2h0M581.8 273.8h0M598.8 407.4h0M598.0 322.1h0M591.8 329.1h0M598.2 395.5h0M589.4 410.5h0M599.2 409.8h0M598.2 407.5h0M593.8 406.8h0M591.6 387.3h0M599.3 400.3h0M595.6 389.2h0M597.2 391.3h0M596.9 401.8h0M591.9 274.2h0M578.0 403.0h0M598.7 403.7h0M596.8 301.7h0M597.6 357.7h0M598.1 408.4h0M599.0 407.6h0M598.1 407.6h0M593.9 410.9h0M593.1 383.1h0M578.9 406.3h0M579.4 406.8h0M596.1 381.3h0M596.7 395.6h0M585.0 408.7h0M598.7 409.4h0M596.1 403.5h0M598.4 356.3h0M590.7 382.7h0M588.8 410.4h0M587.1 301.8h0M596.3 379.8h0M599.1 402.7h0M582.2 274.3h0M580.5 402.6h0M597.7 404.5h0M598.0 403.4h0M591.8 408.5h0M581.9 370.2h0M585.8 408.4h0M596.7 405.7h0M594.8 282.1h0M599.2 397.4h0M592.2 406.3h0M595.2 407.4h0M595.7 406.4h0M595.8 403.8h0M593.5 411.1h0M591.1 325.6h0M595.1 274.2h0M598.9 410.2h0M588.9 404.0h0M593.2 410.4h0M599.2 402.4h0M583.3 352.5h0M590.4 410.2h0M597.5 409.8h0M595.0 399.6h0M591.8 391.8h0M594.8 290.4h0M594.8 408.0h0M597.4 406.4h0M574.9 356.8h0M590.5 375.9h0M596.2 397.3h0M597.6 274.2h0M598.8 323.9h0M598.5 401.5h0M592.3 409.7h0M598.5 403.6h0M582.5 409.3h0M598.7 410.5h0M598.2 347.4h0M578.8 274.0h0M565.9 403.0h0M591.4 404.5h0M596.4 401.5h0M598.7 404.4h0M592.6 403.2h0M596.6 399.2h0M598.5 407.8h0M583.2 394.2h0M594.9 348.1h0M597.3 407.0h0M584.6 310.4h0M594.4 409.0h0M594.6 344.9h0M596.7 409.8h0M587.8 406.1h0M599.2 411.2h0M593.9 410.1h0M596.2 409.2h0M595.6 411.0h0M598.9 404.9h0M596.7 343.5h0M577.6 390.1h0M593.9 278.2h0M597.9 408.5h0M596.6 395.8h0M598.5 274.1h0M575.9 360.1h0M598.2 373.8h0M597.4 409.3h0M597.4 398.7h0M595.3 397.7h0M599.1 387.5h0M582.0 274.3h0M597.5 394.5h0M584.1 273.8h0M590.4 393.8h0M586.8 409.9h0M599.0 410.6h0M592.5 280.6h0M593.3 308.0h0M588.5 402.4h0M597.6 401.4h0M597.8 321.5h0M597.1 410.6h0M580.7 349.5h0M598.4 333.7h0M584.7 378.6h0M579.9 274.2h0M592.2 319.2h0M568.6 369.8h0M594.9 410.6h0M594.3 404.4h0M599.0 410.7h0M576.0 406.7h0M593.4 398.3h0M592.2 359.2h0M598.5 334.0h0M597.8 409.3h0M594.5 408.8h0M595.6 326.6h0M597.9 377.0h0M592.5 410.6h0M598.4 409.7h0M591.5 399.5h0M598.6 411.0h0M597.3 338.8h0M598.3 408.9h0M598.0 360.5h0M585.6 308.0h0M597.3 369.7h0M597.1 394.2h0M583.4 386.6h0M598.5 299.6h0M590.0 407.1h0M594.8 400.6h0M561.1 389.7h0M598.3 404.9h0M586.7 406.2h0M593.7 401.0h0M596.4 392.4h0M592.7 294.6h0M597.8 407.9h0M597.2 410.8h0M590.9 410.7h0M599.2 406.2h0M589.6 274.3h0M594.5 332.7h0M592.7 409.5h0M588.1 278.5h0M593.3 400.6h0M572.6 386.5h0M599.2 375.8h0M589.7 399.9h0M598.3 401.6h0M589.6 397.6h0M590.4 288.4h0M597.6 406.2h0M593.9 359.8h0M596.3 295.6h0M595.6 402.8h0M599.2 410.6h0M597.4 374.8h0M593.4 388.2h0M590.4 364.4h0M593.0 402.9h0M592.7 393.7h0M593.9 375.0h0M592.6 404.1h0M593.2 405.0h0M594.0 408.2h0M596.9 370.4h0M589.5 274.4h0M592.1 407.4h0M588.7 294.9h0M597.7 297.1h0M585.3 387.0h0M597.9 279.4h0M597.6 274.1h0M596.8 402.1h0M595.2 291.4h0M599.3 302.7h0M586.5 404.2h0M599.0 402.3h0M583.6 340.8h0M593.8 395.8h0M596.3 405.8h0M598.3 406.7h0M588.6 405.2h0M598.1 400.9h0M578.6 367.2h0M589.6 409.4h0M592.5 408.5h0M598.4 396.5h0M592.5 386.0h0M584.3 274.3h0M598.4 274.2h0M595.0 397.5h0M590.5 408.8h0M596.8 403.7h0M598.2 395.3h0M598.2 401.5h0M593.9 304.5h0M594.8 369.3h0M589.4 384.2h0M597.1 319.3h0M597.5 308.3h0M589.9 361.8h0M596.5 381.9h0M590.7 402.4h0M597.1 353.5h0M595.6 362.9h0M579.6 274.3h0M584.6 403.0h0M598.5 410.4h0M599.3 277.5h0M599.3 400.1h0M593.0 387.6h0M598.4 389.4h0M593.6 384.4h0M585.0 317.6h0M588.4 410.4h0M594.1 405.3h0M589.3 274.4h0M599.1 402.5h0M599.0 399.4h0M598.5 402.7h0M599.2 406.5h0M598.8 339.4h0M596.9 409.7h0M597.2 401.2h0M593.0 335.6h0M595.2 405.0h0M598.8 310.4h0M585.9 403.6h0M598.5 380.3h0M594.5 408.3h0M596.8 401.8h0M586.5 407.5h0M596.1 409.9h0M594.8 407.7h0M584.7 408.2h0M577.6 274.1h0M594.3 405.8h0M597.3 405.6h0M592.5 340.0h0M589.9 408.0h0M596.7 400.0h0M594.7 378.4h0M567.2 402.9h0M597.7 405.4h0M596.4 372.3h0M599.3 354.2h0M595.2 291.5h0M591.2 364.0h0M598.1 409.7h0M597.1 409.8h0M598.7 407.5h0M591.1 281.9h0M598.8 305.1h0M595.0 391.5h0M597.2 401.9h0M598.9 404.0h0M597.4 395.1h0M583.5 403.2h0M598.9 292.6h0M591.4 407.7h0M592.7 407.9h0M577.1 274.1h0M570.0 405.2h0M573.7 403.7h0M597.2 407.1h0M598.2 410.2h0M594.0 410.5h0M592.6 313.3h0M595.5 297.9h0M597.2 405.6h0M598.6 409.2h0M595.0 393.8h0M591.7 410.3h0M588.7 401.6h0M589.8 397.3h0M588.2 409.9h0M589.1 301.5h0M588.2 393.6h0M589.2 341.0h0M594.5 291.8h0M591.7 410.6h0M598.4 364.1h0M571.0 398.8h0M583.4 407.8h0M589.8 399.8h0M599.3 404.5h0M597.5 410.5h0M596.1 335.2h0M598.3 391.4h0M599.1 371.5h0M599.0 407.9h0M597.6 388.3h0M596.4 316.1h0M599.1 291.8h0M570.0 405.2h0M594.1 359.4h0M593.5 299.5h0M581.0 274.1h0M588.9 408.2h0M585.4 274.2h0M598.2 406.8h0M599.4 274.1h0M597.4 382.3h0M592.3 392.4h0M574.3 406.1h0M588.6 317.9h0M590.1 405.0h0M598.7 399.9h0M587.2 292.0h0M592.1 318.0h0M598.3 403.7h0M597.9 409.3h0M584.9 376.4h0M587.8 402.3h0M585.6 308.8h0M599.1 407.5h0M584.8 274.1h0M581.2 335.5h0M598.8 410.1h0M596.6 407.9h0M595.8 390.0h0M597.9 403.0h0M592.5 388.5h0M591.9 408.8h0M594.8 409.1h0M597.8 293.0h0M590.8 410.7h0M599.3 379.5h0M599.0 360.7h0M595.5 403.1h0M596.7 328.2h0M595.0 391.1h0M577.5 402.4h0M592.8 293.9h0M593.9 337.4h0M596.1 300.3h0M596.4 363.7h0M598.5 274.3h0M598.5 406.3h0M595.9 393.6h0M593.1 410.3h0M591.2 409.3h0M596.0 409.3h0M599.2 322.0h0M565.3 403.1h0M597.9 405.6h0M593.2 407.1h0M598.4 401.9h0M598.3 278.9h0M598.9 281.9h0M598.4 411.1h0M588.8 387.8h0M592.9 311.6h0M597.0 406.9h0M585.8 409.5h0M578.0 287.8h0M580.1 405.2h0M599.1 393.5h0M596.7 411.1h0M599.1 404.6h0M598.1 410.3h0M580.3 408.1h0M599.2 404.8h0M584.9 305.0h0M593.9 402.2h0M589.6 410.0h0M599.0 372.7h0M583.5 306.2h0M596.1 399.4h0M587.4 274.5h0M593.9 384.0h0M590.2 410.7h0M595.1 281.0h0M585.4 405.1h0M597.8 399.6h0M591.0 333.6h0M593.4 387.4h0M598.5 410.5h0M592.3 274.2h0M598.6 337.8h0M593.9 397.3h0M598.5 410.0h0M598.2 366.8h0M596.2 397.8h0M595.5 408.6h0M576.7 392.9h0M592.2 405.4h0M586.2 350.4h0M591.0 406.0h0M597.9 406.4h0M577.8 401.4h0M579.6 388.8h0M595.3 383.7h0M589.8 273.9h0M597.4 408.9h0M596.6 407.0h0M598.2 286.6h0M594.6 387.5h0M596.7 281.6h0M597.8 392.2h0M596.4 388.9h0M593.4 342.1h0M594.0 364.5h0M587.7 351.8h0M597.3 388.6h0M595.6 310.0h0M597.1 409.5h0M598.8 394.0h0M595.3 339.0h0M596.4 393.3h0M596.9 293.0h0M595.1 353.5h0M595.8 400.5h0M584.5 294.8h0M598.1 404.4h0M597.1 411.1h0M598.5 401.6h0M596.0 410.5h0M598.3 402.0h0M597.6 367.9h0M599.0 404.8h0M598.8 274.0h0M597.0 321.9h0M585.1 274.1h0M596.3 378.9h0M594.7 300.3h0M586.5 404.4h0M595.0 274.2h0M598.1 406.5h0M597.1 400.6h0M596.2 388.3h0M595.2 411.1h0M576.5 406.7h0M598.3 373.1h0M577.3 274.1h0M598.9 410.6h0M598.7 364.0h0M595.0 408.8h0M599.3 390.5h0M584.9 280.3h0M585.4 287.0h0M592.7 291.4h0M597.2 407.3h0M599.3 404.3h0M591.8 386.7h0M591.0 366.7h0M594.1 328.3h0M592.4 408.3h0M597.7 336.5h0M598.1 409.7h0M596.9 372.3h0M590.7 281.8h0M592.9 362.8h0M595.1 410.0h0M594.0 408.4h0M598.5 403.3h0M597.4 317.6h0M593.0 385.5h0M591.9 339.7h0M594.0 409.3h0M574.3 401.5h0M586.9 311.3h0M598.5 358.8h0M599.3 400.5h0M598.9 384.9h0M593.8 407.8h0M597.2 397.3h0M594.1 345.3h0M591.8 282.7h0M593.2 398.0h0M593.3 403.3h0M591.6 405.8h0M588.3 274.1h0M590.1 406.7h0M576.9 273.9h0M595.2 302.7h0M593.0 401.8h0M596.5 409.6h0M596.7 337.5h0M592.5 377.1h0M578.1 397.8h0M591.8 327.3h0M598.4 375.1h0M595.5 282.6h0M595.3 404.1h0M591.6 406.2h0M599.4 362.6h0M598.1 386.3h0M587.4 410.1h0M598.2 355.6h0M596.8 399.3h0M594.1 316.0h0M587.3 409.6h0M589.8 409.0h0M592.2 379.9h0M597.4 400.0h0M581.4 375.2h0M573.4 343.2h0M577.3 387.0h0M598.8 410.4h0M588.2 274.1h0M589.3 410.1h0M585.0 406.7h0M588.2 405.9h0M595.0 308.5h0M598.5 274.1h0M586.5 322.7h0M599.3 410.5h0M587.8 406.0h0M591.5 407.4h0M594.6 376.6h0M596.9 408.9h0M596.5 402.2h0M592.7 387.5h0M585.4 274.3h0M593.3 399.4h0M597.4 408.6h0M594.6 374.4h0M597.3 353.9h0M594.2 278.3h0M588.6 300.2h0M598.8 366.5h0M589.6 274.3h0M594.3 274.2h0M599.0 340.4h0M599.1 336.7h0M585.4 294.5h0M591.7 405.7h0M598.8 406.1h0M576.8 407.1h0M597.4 410.3h0M594.3 394.5h0M591.4 402.0h0M599.0 389.4h0M585.4 380.0h0M591.9 408.0h0M596.7 347.5h0M586.0 400.7h0M594.2 410.3h0M584.4 274.1h0M588.8 402.4h0M594.6 320.6h0M599.1 329.1h0M598.7 397.6h0M597.5 383.3h0M594.7 299.7h0M596.3 387.8h0M596.4 408.2h0M599.1 333.8h0M587.1 406.5h0M599.1 399.7h0M595.0 322.6h0M598.5 385.3h0M594.6 285.2h0M596.8 411.3h0M598.9 404.3h0M594.5 291.3h0M598.5 395.7h0M596.3 379.6h0M590.5 385.5h0M598.8 372.2h0M594.9 397.0h0M596.4 397.5h0M597.3 336.3h0M597.6 357.6h0M597.4 315.6h0M597.7 381.8h0M596.0 313.6h0M598.3 411.0h0M595.3 398.1h0M595.3 360.5h0M580.0 400.0h0M598.5 385.6h0M589.2 406.1h0M594.2 405.0h0M599.4 351.4h0M595.5 400.4h0M585.3 404.3h0M588.8 391.5h0M596.8 409.1h0M589.6 398.6h0M595.3 405.2h0M582.5 274.4h0M596.9 368.5h0M591.7 337.3h0M594.6 409.7h0M595.8 411.2h0M591.0 410.0h0M593.8 345.5h0M599.0 392.4h0M596.6 409.7h0M568.0 353.0h0M597.6 391.5h0M592.8 401.1h0M596.3 409.0h0M593.4 398.7h0M597.7 403.8h0M597.9 274.4h0M598.8 325.0h0M561.8 385.5h0M587.7 394.1h0M592.3 296.0h0M580.7 382.0h0M596.7 331.9h0M594.3 410.8h0M597.0 409.9h0M580.6 276.9h0M599.2 407.9h0M599.1 397.3h0M596.2 410.1h0M597.3 349.9h0M595.6 400.5h0M595.5 335.2h0M596.5 404.4h0M592.7 408.9h0M592.8 405.4h0M593.7 384.7h0M584.8 274.1h0M572.4 398.0h0M588.3 348.8h0M590.8 405.9h0M576.4 386.6h0M598.4 407.0h0M591.6 324.6h0M592.7 381.1h0M591.7 410.6h0M594.3 407.9h0M587.7 301.9h0M597.5 411.3h0M596.8 390.3h0M587.3 326.3h0" stroke="#4a84bd" stroke-width="1.25" stroke-linecap="round" fill="none"/>
<path d="M631.0 357.2h0M616.5 392.9h0M618.2 405.0h0M621.7 335.9h0M619.5 274.0h0M620.5 409.8h0M622.9 406.5h0M619.8 398.6h0M624.3 410.8h0M618.5 319.5h0M616.6 387.9h0M615.5 402.5h0M618.0 398.8h0M636.6 407.8h0M617.8 383.2h0M619.6 295.2h0M617.5 407.5h0M619.4 391.5h0M619.3 298.7h0M616.5 341.2h0M619.9 320.8h0M645.5 388.1h0M622.9 405.8h0M616.4 304.9h0M624.2 330.2h0M622.1 370.8h0M616.1 299.1h0M625.9 391.0h0M617.4 407.8h0M616.8 290.1h0M617.4 372.2h0M617.4 396.3h0M622.2 401.4h0M625.5 407.0h0M619.3 376.9h0M638.6 405.1h0M616.4 278.7h0M617.1 403.8h0M620.2 363.4h0M620.7 339.8h0M628.1 294.1h0M622.3 332.0h0M626.1 340.4h0M616.4 285.0h0M617.7 376.5h0M631.3 363.2h0M615.5 382.0h0M615.3 274.5h0M627.7 391.3h0M616.6 393.6h0M617.0 387.5h0M617.0 392.6h0M617.0 409.9h0M620.9 299.5h0M620.8 332.0h0M639.5 405.0h0M620.5 407.6h0M615.3 385.5h0M619.3 397.9h0M616.2 391.7h0M622.1 406.0h0M618.0 407.5h0M624.0 333.2h0M620.3 284.3h0M616.7 389.0h0M617.6 403.6h0M632.2 395.0h0M634.9 392.1h0M617.4 411.2h0M615.8 381.5h0M616.4 407.5h0M640.3 348.3h0M625.6 410.2h0M635.6 401.8h0M619.7 278.9h0M616.7 411.0h0M617.7 401.7h0M618.7 305.0h0M621.6 389.2h0M615.5 315.2h0M627.8 402.7h0M618.0 331.9h0M636.1 338.4h0M619.7 406.2h0M618.1 408.8h0M621.8 292.7h0M622.1 293.4h0M615.5 367.9h0M621.3 404.4h0M615.8 407.9h0M616.0 383.1h0M624.4 317.7h0M616.4 322.4h0M620.3 406.0h0M617.3 410.6h0M627.6 381.0h0M619.4 314.9h0M617.6 394.9h0M623.5 403.2h0M620.7 410.8h0M619.2 399.2h0M619.0 403.0h0M622.8 389.8h0M621.6 410.6h0M617.9 285.7h0M627.4 394.8h0M616.2 282.3h0M617.4 277.3h0M627.5 398.3h0M620.2 403.6h0M615.4 383.4h0M623.3 367.9h0M635.5 395.3h0M625.0 339.4h0M618.8 324.0h0M618.1 356.8h0M618.8 372.1h0M615.4 327.1h0M624.5 391.1h0M622.2 307.9h0M616.8 402.3h0M616.6 320.3h0M624.4 407.8h0M624.5 400.0h0M628.8 337.2h0M618.5 379.8h0M645.6 404.8h0M618.4 398.1h0M618.2 399.5h0M623.3 274.4h0M619.7 365.5h0M622.6 409.2h0M616.4 287.5h0M621.9 390.4h0M629.3 408.1h0M617.0 331.1h0M616.0 398.8h0M632.1 293.8h0M623.2 409.5h0M646.7 371.7h0M618.1 394.1h0M626.0 342.6h0M627.5 407.0h0M615.9 408.6h0M628.6 409.8h0M620.5 325.7h0M616.6 390.8h0M620.8 390.2h0M616.3 382.0h0M615.8 273.8h0M621.8 410.4h0M624.7 410.3h0M636.9 302.9h0M625.4 361.0h0M631.9 391.2h0M617.7 381.6h0M622.9 278.5h0M621.9 393.1h0M618.3 399.8h0M616.0 274.1h0M627.7 400.4h0M620.1 394.9h0M619.5 390.6h0M625.9 385.9h0M616.6 399.9h0M622.8 391.0h0M616.5 377.1h0M618.6 400.9h0M625.4 274.1h0M631.8 408.4h0M618.5 348.0h0M623.9 349.2h0M615.8 343.5h0M616.8 285.0h0M622.3 274.1h0M616.0 397.5h0M615.5 306.0h0M620.7 385.6h0M624.4 327.4h0M617.5 303.4h0M621.0 403.6h0M624.2 400.0h0M622.1 354.4h0M616.4 385.5h0M617.4 406.5h0M619.2 322.7h0M616.0 321.0h0M619.3 409.5h0M637.9 316.5h0M617.4 274.2h0M615.6 408.1h0M615.8 299.3h0M618.2 410.0h0M615.9 391.2h0M618.6 277.9h0M634.2 363.8h0M617.7 385.0h0M620.0 300.4h0M621.7 370.7h0M616.2 394.3h0M630.0 368.1h0M635.6 402.8h0M626.2 392.5h0M622.5 406.7h0M616.6 407.8h0M615.5 387.7h0M627.9 378.3h0M631.5 405.5h0M628.7 404.2h0M625.6 377.4h0M620.9 398.4h0M649.8 402.3h0M629.1 274.1h0M616.9 359.8h0M622.6 389.4h0M623.2 386.9h0M616.1 339.1h0M615.4 403.8h0M619.8 392.0h0M617.6 328.9h0M620.6 317.4h0M627.2 311.6h0M638.9 405.1h0M628.7 394.3h0M615.8 274.1h0M617.9 403.0h0M621.1 380.9h0M617.0 359.1h0M618.3 405.0h0M622.5 410.6h0M626.3 399.1h0M620.6 374.7h0M617.8 406.1h0M616.0 297.1h0M633.4 404.5h0M627.2 408.7h0M616.4 274.3h0M625.4 408.2h0M619.3 314.9h0M624.5 396.7h0M648.4 403.1h0M618.6 298.2h0M616.0 403.9h0M616.2 274.1h0M622.4 395.5h0M617.7 407.8h0M616.4 409.3h0M615.5 333.2h0M618.4 408.2h0M618.4 410.4h0M618.4 406.7h0M640.7 374.3h0M616.3 336.6h0M615.5 407.1h0M617.8 406.7h0M624.1 410.6h0M616.5 400.5h0M616.0 409.7h0M621.5 355.1h0M623.6 378.6h0M626.3 288.6h0M627.0 409.8h0M617.3 274.3h0M626.8 274.1h0M619.9 381.1h0M621.3 274.3h0M626.7 406.4h0M623.1 282.1h0M619.9 396.1h0M615.5 313.7h0M624.3 405.8h0M616.1 342.4h0M629.0 404.1h0M628.9 404.7h0M616.8 387.6h0M615.8 401.7h0M615.7 404.6h0M617.4 350.0h0M623.1 410.6h0M624.6 394.2h0M617.8 341.7h0M639.8 386.9h0M619.8 387.3h0M615.5 401.1h0M616.6 407.7h0M628.3 274.3h0M623.3 407.0h0M631.9 409.4h0M648.8 402.7h0M615.7 369.9h0M620.9 273.9h0M615.8 404.9h0M617.7 330.9h0M615.2 284.7h0M625.1 386.3h0M619.5 384.9h0M624.0 406.6h0M622.4 343.0h0M624.3 403.0h0M622.2 402.1h0M629.8 313.3h0M635.7 401.7h0M621.2 387.5h0M616.6 345.0h0M615.9 327.4h0M630.9 409.4h0M615.5 390.6h0M618.0 406.9h0M615.4 403.4h0M615.3 404.7h0M618.9 353.3h0M616.1 403.2h0M624.0 299.9h0M615.4 371.2h0M623.1 386.6h0M630.4 407.5h0M617.8 387.1h0M621.1 357.2h0M615.5 398.3h0M621.4 409.3h0M615.5 390.3h0M618.4 398.1h0M624.1 319.7h0M617.1 340.5h0M621.9 274.1h0M632.2 274.1h0M624.4 410.4h0M633.9 405.7h0M621.1 390.7h0M624.6 356.8h0M615.3 407.1h0M618.8 385.3h0M619.1 277.4h0M616.0 405.1h0M631.7 394.0h0M626.2 399.3h0M622.7 408.1h0M635.7 274.3h0M648.1 403.6h0M617.3 399.6h0M619.1 373.7h0M617.7 403.6h0M620.9 399.4h0M628.4 367.3h0M625.6 403.4h0M621.6 383.5h0M617.2 284.6h0M617.2 408.9h0M624.3 398.6h0M622.2 305.3h0M625.4 352.3h0M622.3 394.1h0M623.2 309.9h0M618.1 371.3h0M619.4 383.8h0M615.8 289.5h0M619.3 302.1h0M628.1 296.0h0M619.8 410.4h0M633.7 393.4h0M626.8 401.7h0M628.7 274.3h0M621.5 319.6h0M627.3 364.9h0M624.8 403.9h0M632.9 364.2h0M615.8 402.1h0M634.2 408.4h0M619.1 345.7h0M617.1 378.3h0M616.2 403.8h0M640.2 397.3h0M618.5 408.7h0M620.8 358.5h0M630.4 404.8h0M615.7 403.9h0M625.5 376.0h0M623.3 350.4h0M623.3 402.7h0M618.1 409.8h0M641.4 396.2h0M620.5 370.4h0M619.8 411.2h0M626.8 396.6h0M615.8 317.8h0M616.4 409.9h0M615.5 398.6h0M642.5 391.8h0M619.7 318.6h0M623.0 295.9h0M623.6 386.5h0M632.3 407.0h0M631.7 387.1h0M619.2 342.1h0M615.7 405.4h0M627.9 404.6h0M633.7 408.6h0M619.1 399.3h0M630.4 409.5h0M617.6 386.6h0M621.1 333.5h0M623.0 315.1h0M616.0 363.9h0M618.8 375.5h0M616.9 406.7h0M619.9 401.8h0M616.5 397.7h0M619.3 398.4h0M625.6 351.6h0M615.6 410.7h0M623.2 409.2h0M622.2 403.3h0M633.5 386.4h0M615.6 395.8h0M637.6 396.2h0M636.5 364.3h0M620.7 274.2h0M617.1 356.8h0M616.7 409.7h0M634.8 274.2h0M617.9 395.2h0M619.1 393.9h0M625.7 379.3h0M627.5 406.1h0M618.6 360.9h0M616.6 333.7h0M625.5 392.5h0M617.3 402.3h0M635.2 396.2h0M617.1 280.7h0M617.2 325.0h0M632.5 392.1h0M623.4 384.9h0M619.0 298.7h0M624.3 410.2h0M621.6 409.6h0M624.1 393.2h0M619.5 378.4h0M618.6 407.2h0M630.0 304.0h0M625.6 389.5h0M618.8 336.5h0M619.4 408.5h0M630.2 377.1h0M619.1 409.0h0M644.9 394.5h0M634.0 382.3h0M622.7 380.2h0M617.6 410.7h0M615.8 384.6h0M630.7 372.5h0M615.4 390.0h0M625.8 387.3h0M615.3 410.5h0M630.4 361.7h0M618.4 392.8h0M619.1 410.0h0M622.4 375.0h0M619.7 406.5h0M636.9 400.7h0M618.0 407.9h0M618.9 369.2h0M624.6 357.4h0M623.5 284.3h0M615.5 379.4h0M621.9 361.0h0M615.7 394.6h0M617.5 361.4h0M616.7 400.4h0M622.6 396.7h0M616.6 386.4h0M618.1 404.2h0M621.7 382.7h0M622.9 350.5h0M632.0 409.1h0M625.6 403.3h0M620.2 342.7h0M621.0 295.4h0M619.5 377.1h0M623.8 348.6h0M617.3 403.4h0M620.0 402.0h0M616.3 349.9h0M634.5 404.0h0M620.1 406.8h0M622.7 410.4h0M616.3 292.3h0M619.0 353.8h0M627.0 392.0h0M645.8 399.5h0M619.5 400.0h0M627.8 404.7h0M619.3 277.0h0M616.6 329.8h0M619.7 342.2h0M622.3 406.4h0M620.9 350.8h0M627.3 388.3h0M629.2 398.2h0M617.5 399.7h0M621.2 397.4h0M621.2 405.3h0M616.4 324.9h0M629.3 368.0h0M624.5 400.9h0M616.8 397.8h0M616.3 363.1h0M634.8 289.8h0M619.4 315.9h0M622.4 328.0h0M629.1 406.0h0M647.2 403.7h0M628.3 409.3h0M622.6 291.8h0M615.6 393.2h0M623.1 396.2h0M619.2 407.6h0M616.1 407.1h0M622.0 404.1h0M621.1 339.4h0M619.7 399.6h0M619.5 397.0h0M618.1 394.9h0M632.8 393.2h0M618.6 335.3h0M621.9 274.0h0M617.7 405.2h0M621.3 408.1h0M623.0 390.7h0M622.6 404.8h0M631.0 405.1h0M616.5 407.3h0M636.4 274.2h0M624.6 410.6h0M615.8 394.0h0M615.6 409.5h0M619.5 289.7h0M635.8 376.9h0M617.4 393.5h0M619.1 383.8h0M615.9 400.5h0M616.0 394.9h0M615.3 346.9h0M619.1 403.5h0M620.7 375.2h0M615.7 406.5h0M616.7 385.8h0M615.6 354.0h0M636.5 356.4h0M619.4 349.6h0M615.8 288.1h0M626.8 409.6h0M616.2 408.4h0M615.8 409.8h0M618.2 404.0h0M619.8 397.7h0M618.6 377.8h0M634.6 408.7h0M618.0 408.9h0M616.3 394.1h0M624.8 410.2h0M616.4 338.8h0M618.9 390.0h0M615.7 399.7h0M615.4 313.8h0M632.2 408.7h0M642.0 405.1h0M618.5 403.4h0M618.8 293.4h0M615.4 273.9h0M615.9 330.0h0M617.3 384.7h0M624.3 374.0h0M617.8 353.8h0M615.4 410.2h0M618.6 395.1h0M623.1 375.4h0M618.3 396.0h0M621.3 294.9h0M622.8 338.1h0M621.2 365.1h0M619.6 407.4h0M616.4 401.6h0M617.2 305.8h0M620.6 289.5h0M621.3 375.8h0M626.9 400.9h0M616.4 387.3h0M616.2 293.6h0M619.7 383.2h0M630.7 274.0h0M634.8 299.9h0M622.9 406.0h0M619.0 274.2h0M618.6 410.5h0M619.8 293.5h0M617.1 310.7h0M631.9 326.8h0M618.2 382.0h0M635.3 407.1h0M620.4 351.0h0M620.7 407.1h0M623.0 398.1h0M627.3 405.5h0M633.2 313.1h0M616.4 402.7h0M616.6 274.2h0M621.1 406.1h0M617.4 377.7h0M620.2 405.1h0M624.1 371.2h0M635.8 369.7h0M629.3 274.2h0M622.6 398.0h0M618.9 404.5h0M627.7 409.4h0M618.7 410.4h0M633.4 312.7h0M618.8 401.9h0M616.1 394.0h0M620.9 347.1h0M616.3 402.7h0M632.3 392.2h0M616.0 274.2h0M617.2 398.3h0M621.1 405.0h0M619.7 395.8h0M624.4 394.0h0M617.4 402.1h0M619.7 380.8h0M641.0 369.2h0M616.9 407.2h0M618.3 330.8h0M616.4 330.8h0M616.2 293.6h0M624.9 407.3h0M616.0 336.4h0M627.1 385.5h0M626.3 381.7h0M629.3 274.1h0M616.4 276.6h0M619.9 396.4h0M621.1 383.9h0M623.9 407.1h0M624.5 381.4h0M615.9 398.1h0M619.7 376.9h0M619.5 397.8h0M638.5 326.4h0M627.9 408.5h0M620.0 406.4h0M626.6 367.0h0M620.5 382.3h0M637.9 364.6h0M626.9 409.2h0M615.8 374.1h0M623.4 274.2h0M625.6 336.4h0M625.8 394.0h0M616.0 404.1h0M622.9 393.4h0M616.6 411.0h0M616.2 381.1h0M618.2 329.5h0M616.1 365.5h0M617.9 400.1h0M627.8 406.0h0M618.3 390.0h0M619.7 398.0h0M627.2 274.1h0M619.2 335.6h0M618.4 411.0h0M616.6 280.4h0M646.7 404.0h0M625.3 332.1h0M625.7 409.9h0M638.3 399.5h0M620.2 285.4h0M615.3 385.2h0M622.8 404.4h0M625.4 383.0h0M618.2 409.4h0M620.5 392.2h0M622.9 406.8h0M619.4 383.1h0M629.6 349.1h0M620.1 368.8h0M617.3 288.1h0M617.9 360.0h0M615.5 283.8h0M629.3 406.6h0M616.2 386.8h0M615.7 377.7h0M616.7 409.7h0M618.2 410.0h0M618.9 392.6h0M627.4 405.8h0M618.7 399.0h0M616.9 273.5h0M620.0 312.7h0M616.3 304.9h0M616.0 391.1h0M617.7 338.8h0M617.7 390.8h0M616.3 331.9h0M628.0 401.6h0M617.3 404.1h0M620.1 399.5h0M634.8 386.9h0M620.5 373.2h0M647.3 403.8h0M625.2 405.3h0M617.1 334.2h0M619.3 393.9h0M615.7 391.4h0M623.0 392.3h0M624.9 377.5h0M617.3 380.0h0M624.3 383.3h0M618.8 390.2h0M618.1 400.8h0M615.7 374.5h0M616.0 380.9h0M623.2 320.6h0M652.3 400.8h0M625.1 273.7h0M617.4 347.4h0M647.4 374.7h0M619.4 297.8h0M615.3 410.0h0M623.5 405.9h0M621.4 388.9h0M617.5 408.9h0M620.8 364.4h0M616.3 346.2h0M619.2 405.7h0M632.7 393.1h0M635.0 274.2h0M629.3 378.9h0M616.0 352.0h0M616.6 393.9h0M616.8 411.0h0M617.7 337.3h0M615.4 387.8h0M617.0 395.8h0M621.8 405.2h0M617.7 404.9h0M617.9 369.1h0M632.7 319.8h0M622.5 382.4h0M622.4 366.5h0M618.5 409.4h0M626.6 407.6h0M616.1 369.0h0M621.0 405.8h0M631.1 333.1h0M621.1 388.3h0M629.9 325.6h0M618.3 387.5h0M618.5 386.6h0M620.7 304.8h0M625.9 349.3h0M624.2 386.7h0M643.1 357.9h0M639.0 394.8h0M619.8 388.6h0M621.4 372.3h0M631.0 396.3h0M621.1 402.0h0M643.0 405.7h0M627.2 409.8h0M617.8 371.6h0M616.3 398.8h0M618.3 396.5h0M618.3 397.8h0M622.1 357.9h0M619.1 360.6h0M617.1 273.9h0M618.3 399.2h0M631.9 362.1h0M620.2 348.7h0M644.0 405.2h0M621.5 282.4h0M616.6 407.9h0M615.3 368.4h0M615.7 410.0h0M625.9 403.3h0M619.3 392.6h0M618.1 357.9h0M618.4 409.4h0M616.8 315.0h0M624.5 386.8h0M625.3 398.0h0M617.1 409.2h0M624.7 407.5h0M623.7 318.7h0M619.2 401.1h0M619.1 374.0h0M616.6 356.9h0M618.0 406.4h0M619.8 406.1h0M615.6 397.2h0M618.9 374.5h0M615.4 405.3h0M627.2 345.1h0M626.8 390.2h0M619.2 395.0h0M622.4 405.4h0M620.4 407.5h0M619.2 410.4h0M625.6 407.9h0M623.2 373.1h0M617.8 400.9h0M615.4 379.5h0M640.4 381.8h0M615.9 399.9h0M623.0 306.4h0M616.4 410.8h0M622.5 410.3h0M625.3 398.6h0M621.6 363.7h0M621.5 397.1h0M617.6 396.2h0M624.2 351.0h0M616.0 410.6h0M626.0 324.6h0M616.1 405.0h0M617.0 370.5h0M619.7 400.5h0M651.3 402.1h0M630.1 392.8h0M617.8 376.1h0M621.6 390.9h0M619.3 410.3h0M615.3 396.1h0M618.4 299.2h0M617.0 394.2h0M615.8 315.9h0M620.7 373.3h0M616.5 378.6h0M617.4 326.9h0M618.5 274.2h0M618.7 406.8h0M631.2 344.6h0M624.7 398.0h0M617.4 357.3h0M619.1 401.0h0M616.1 353.3h0M626.5 404.8h0M619.6 409.1h0M631.4 394.8h0M622.8 401.3h0M615.3 274.0h0M627.2 277.8h0M616.5 410.5h0M620.3 277.0h0M620.4 378.0h0M628.9 274.3h0M618.3 287.3h0M617.2 327.8h0M632.9 405.3h0M626.5 410.3h0M615.9 399.8h0M631.9 409.2h0M650.1 396.2h0M622.8 288.5h0M617.4 405.2h0M618.9 409.0h0M625.7 389.6h0M616.5 383.4h0M624.2 362.7h0M623.0 379.8h0M632.8 274.2h0M636.4 314.5h0M615.3 304.1h0M618.5 282.8h0M618.4 379.8h0M619.1 357.1h0M616.9 317.5h0M617.2 383.6h0M621.5 410.2h0M642.3 328.0h0M637.2 407.7h0M619.9 360.2h0M624.1 371.5h0M624.8 345.2h0M624.5 357.9h0M619.8 402.1h0M616.1 403.6h0M619.8 317.6h0M630.9 403.6h0M620.7 363.1h0M616.2 391.8h0M623.4 401.1h0M618.7 397.0h0M620.5 409.3h0M619.2 316.2h0M615.4 402.9h0M628.0 396.8h0M618.6 337.3h0M616.9 391.2h0M627.9 394.8h0M617.6 283.0h0M616.5 392.3h0M618.8 394.1h0M623.2 355.5h0M615.5 391.5h0M622.1 314.2h0M622.4 399.2h0M634.8 368.5h0M622.0 345.0h0M615.4 368.2h0M622.2 407.3h0M620.0 305.1h0M627.1 344.0h0M615.6 411.2h0M615.5 388.0h0M619.7 397.0h0M617.3 407.7h0M632.0 409.2h0M616.5 319.9h0M615.3 395.3h0M626.7 336.9h0M621.9 401.6h0M645.0 393.0h0M630.0 409.7h0M622.2 408.7h0M623.2 408.9h0M618.9 394.1h0M617.6 331.8h0M616.6 402.2h0M631.5 274.0h0M617.5 376.7h0M624.3 403.7h0M635.8 336.0h0M618.3 298.3h0M618.9 402.4h0M616.3 333.5h0M637.1 359.6h0M627.5 402.7h0M619.9 402.1h0M619.1 402.9h0M618.6 396.3h0M630.3 382.8h0M624.8 376.3h0M621.5 406.3h0M621.0 404.8h0M617.2 281.9h0M626.3 274.3h0M625.9 386.2h0M615.6 390.2h0M615.4 361.8h0M619.0 297.7h0M616.5 310.8h0M617.9 408.6h0M617.8 404.6h0M621.3 399.5h0M619.2 363.0h0M616.8 408.4h0M618.0 400.7h0M632.7 384.6h0M617.9 410.0h0M620.7 405.7h0M626.8 385.5h0M623.1 323.6h0M622.7 410.1h0M619.1 403.4h0M618.1 382.9h0M639.7 323.6h0M617.5 381.7h0M615.8 279.3h0M629.5 274.5h0M629.2 387.4h0M618.5 377.6h0M621.6 324.6h0M627.9 408.7h0M623.1 408.9h0M617.8 306.7h0M617.7 404.1h0M631.3 274.1h0M618.3 381.1h0M623.9 376.2h0M622.5 274.1h0M628.3 369.3h0M644.5 401.5h0M617.9 274.3h0M616.3 398.1h0M626.4 395.0h0M616.0 360.8h0M620.9 402.9h0M619.0 407.7h0M626.9 409.9h0M638.3 391.0h0M615.4 356.0h0M639.3 372.5h0M625.1 274.4h0M616.6 409.7h0M619.4 291.4h0M623.6 364.2h0M615.6 408.3h0M615.7 329.8h0M617.1 411.3h0M616.7 293.2h0M623.2 398.3h0M616.7 406.3h0M619.1 405.9h0M627.2 358.3h0M619.8 406.4h0M618.6 404.3h0M618.1 285.9h0M625.7 408.7h0M616.2 326.5h0M616.3 410.3h0M620.0 289.0h0M616.9 274.2h0M620.5 355.2h0M617.9 368.9h0M621.0 410.2h0M615.8 403.8h0M616.1 364.4h0M628.3 405.2h0M630.1 301.0h0M615.5 391.7h0M619.5 291.6h0M624.8 408.6h0M623.8 408.0h0M615.4 336.7h0M617.4 357.8h0M615.9 397.2h0M616.4 396.6h0M619.3 391.1h0M622.8 316.4h0M620.1 336.6h0M624.0 397.6h0M618.2 410.0h0M615.8 399.3h0M620.4 401.5h0M632.3 334.9h0M615.9 396.7h0M622.5 385.5h0M621.1 398.3h0M624.3 398.6h0M617.8 379.0h0M615.5 296.4h0M617.7 395.0h0M616.7 315.2h0M622.5 383.5h0M620.2 390.6h0M629.8 399.1h0M629.8 370.0h0M620.9 409.3h0M621.3 283.9h0M615.3 407.9h0M616.5 409.5h0M626.3 403.4h0M622.4 391.1h0M634.9 365.3h0M618.0 404.4h0M622.7 274.1h0M618.6 410.3h0M621.0 404.3h0M619.1 404.7h0M622.9 361.1h0M616.5 355.3h0M616.1 399.3h0M619.3 295.5h0M623.8 355.1h0M616.7 348.3h0M616.8 408.8h0M631.6 401.0h0M615.5 410.2h0M619.2 399.2h0M615.8 287.1h0M615.5 386.5h0M615.4 285.4h0M622.7 325.5h0M626.1 304.6h0M631.8 274.4h0M615.6 276.7h0M632.7 407.6h0M634.8 289.4h0M617.4 352.2h0M616.3 382.1h0M618.1 397.8h0M621.3 366.2h0M619.6 346.9h0M616.8 404.5h0M617.4 398.1h0M616.9 404.7h0M615.4 406.9h0M618.6 408.0h0M619.1 344.4h0M630.7 392.7h0M622.4 292.2h0M615.8 403.0h0M638.1 383.7h0M615.3 390.9h0M618.3 303.9h0M631.5 307.9h0M624.3 397.7h0M629.8 303.5h0M624.9 393.2h0M618.9 339.6h0M616.9 411.0h0M617.7 321.9h0M615.4 404.0h0M617.7 305.9h0M619.9 379.6h0M620.1 409.4h0M634.9 377.1h0M623.7 328.4h0M618.3 372.7h0M615.7 298.3h0M618.9 377.1h0M630.0 274.0h0M624.4 406.4h0M622.4 406.9h0M618.4 396.1h0M615.8 341.8h0M637.3 372.3h0M620.2 304.4h0M623.1 379.5h0M625.6 346.8h0M618.2 389.5h0M616.7 317.5h0M625.4 325.4h0M615.3 386.7h0M615.4 393.6h0M630.8 273.9h0M616.5 410.0h0M630.8 305.4h0M620.0 274.0h0M625.3 369.3h0M618.8 366.0h0M615.4 403.0h0M622.3 309.7h0M617.8 332.9h0M616.3 338.3h0M623.8 397.9h0M620.0 408.2h0M624.7 311.7h0M623.2 394.0h0M618.2 410.2h0M616.1 389.0h0M643.0 376.9h0M615.8 398.6h0M617.2 393.0h0M633.0 321.1h0M625.4 408.2h0M616.0 368.2h0M618.8 362.5h0M618.3 388.1h0M621.1 370.8h0M621.7 402.0h0M618.1 381.0h0M624.9 386.4h0M620.3 383.3h0M618.5 409.2h0M616.0 408.0h0M615.8 373.6h0M630.4 401.9h0M619.3 384.7h0M636.6 387.6h0M617.3 310.1h0M615.4 369.2h0M618.5 274.3h0M616.6 405.2h0M619.6 369.4h0M618.5 368.3h0M646.4 397.5h0M616.7 352.7h0M615.5 410.3h0M616.6 322.0h0M615.4 357.1h0M617.5 409.8h0M619.1 402.1h0M627.6 396.4h0M632.0 274.3h0M615.3 363.3h0M623.2 302.2h0M620.0 406.3h0M624.8 289.2h0M620.7 406.7h0M626.7 370.4h0M616.8 379.2h0M615.8 404.1h0M616.2 411.0h0M616.1 336.5h0M626.9 274.3h0M618.9 377.6h0M624.8 409.0h0M624.8 386.4h0M616.9 281.6h0M624.7 398.0h0M618.9 411.2h0M619.3 388.3h0M642.7 405.9h0M622.4 357.3h0M629.5 401.1h0M638.6 397.2h0M628.8 385.7h0M616.0 370.8h0M624.2 403.1h0M617.8 306.1h0M622.7 391.4h0M624.3 407.4h0M615.8 337.6h0M616.2 385.6h0M635.2 385.7h0M631.4 409.4h0M618.6 370.1h0M617.6 401.4h0M616.1 371.2h0M623.2 383.0h0M621.8 377.4h0M618.1 400.2h0M624.2 408.7h0M622.8 393.5h0M630.9 376.5h0M616.4 278.2h0M621.5 286.3h0M629.8 409.3h0M619.1 396.0h0M619.2 312.0h0M623.7 410.8h0M615.4 306.0h0M617.9 401.7h0M621.9 404.8h0M615.5 370.0h0M622.0 341.0h0M615.6 408.5h0M625.9 370.8h0M617.4 400.7h0M617.7 366.7h0M632.1 401.5h0M618.4 398.6h0M628.5 398.7h0M633.3 319.2h0M616.9 401.5h0M627.3 385.9h0M628.9 274.3h0M616.9 372.5h0M625.3 407.5h0M617.2 277.0h0M619.3 293.7h0M624.1 359.1h0M625.9 319.8h0M632.9 396.1h0M617.5 371.3h0M619.6 399.6h0M616.5 305.8h0M622.6 410.8h0M639.5 391.8h0M627.5 274.0h0M624.6 406.6h0M618.1 388.9h0M615.9 394.7h0M616.0 410.3h0M616.5 391.0h0M624.7 400.1h0M626.8 356.9h0M645.3 385.5h0M626.6 358.4h0M629.5 277.7h0M631.9 281.5h0M628.3 399.5h0M620.2 322.7h0M617.2 333.6h0M617.0 402.0h0M616.6 404.7h0M620.4 274.2h0M616.4 396.7h0M617.5 366.3h0M618.8 404.0h0M620.5 378.1h0M615.4 382.3h0M619.8 315.1h0M626.3 342.6h0M618.5 276.6h0M633.7 362.1h0M618.6 364.7h0M625.3 408.7h0M622.5 304.1h0M628.4 407.0h0M617.5 382.3h0M616.6 407.5h0M622.1 342.3h0M620.2 411.1h0M616.1 395.3h0M617.6 339.2h0M622.1 410.4h0M619.3 281.3h0M615.4 396.4h0M631.3 406.1h0M616.5 410.8h0M623.8 315.9h0M622.7 319.5h0M633.2 340.5h0M622.2 403.6h0M623.8 407.1h0M617.5 400.6h0M623.2 389.9h0M621.5 386.1h0M617.6 353.4h0M616.5 313.0h0M638.9 301.0h0M616.4 394.3h0M616.5 322.4h0M625.1 385.7h0M618.9 392.8h0M621.2 399.8h0M621.6 274.4h0M626.7 371.8h0M616.6 335.5h0M615.5 351.5h0M623.1 383.8h0M616.8 320.2h0M628.3 274.1h0M621.6 342.2h0M629.4 392.8h0M636.2 363.9h0M621.7 293.5h0M632.9 398.3h0M627.9 395.6h0M647.3 395.6h0M640.5 355.6h0M615.9 399.9h0M618.4 402.0h0M617.5 405.3h0M625.0 396.2h0M619.5 375.2h0M649.2 386.3h0M618.4 403.3h0M628.6 409.9h0M619.5 357.8h0M618.5 376.4h0M616.0 295.1h0M625.3 331.4h0M617.5 366.7h0M616.5 379.2h0M618.4 274.1h0M620.9 362.5h0M615.7 384.6h0M622.7 393.5h0M627.7 338.4h0M617.5 386.9h0M639.2 400.0h0M615.3 390.1h0M620.5 403.9h0M618.7 324.2h0M615.7 410.2h0M629.8 387.2h0M635.4 357.3h0M617.4 410.4h0M617.2 344.5h0M623.5 391.5h0M619.0 298.1h0M620.8 370.4h0M616.6 386.2h0M631.9 383.7h0M615.5 402.5h0M615.3 407.2h0M626.6 378.3h0M615.9 411.1h0M619.8 364.2h0M631.3 405.8h0M621.7 339.1h0M619.3 397.3h0M619.3 330.6h0M621.1 405.9h0M617.3 308.8h0M618.2 374.3h0M625.6 362.2h0M617.3 319.4h0M629.5 409.6h0M618.0 403.8h0M621.4 391.4h0M623.6 367.0h0M617.2 391.5h0M623.9 406.4h0M623.4 404.2h0M629.9 274.2h0M615.6 400.4h0M615.5 395.2h0M632.4 274.1h0M618.2 392.8h0M641.1 355.8h0M617.9 345.0h0M621.8 302.8h0M630.8 409.5h0M629.4 406.8h0M615.4 395.0h0M623.5 302.1h0M625.9 339.6h0M622.4 350.4h0M629.1 337.6h0M621.4 407.0h0M616.0 409.6h0M621.1 313.7h0M616.7 402.5h0M640.0 367.8h0M619.3 386.7h0M615.9 404.2h0M616.5 317.2h0M632.2 384.2h0M618.4 372.6h0M631.3 379.8h0M627.8 366.6h0M627.5 398.8h0M618.0 389.5h0M626.4 342.1h0M616.3 374.5h0M618.2 291.3h0M618.3 391.5h0M623.5 279.1h0M620.3 287.7h0M623.1 350.6h0M625.6 405.8h0M648.3 384.1h0M621.5 297.1h0M615.8 396.2h0M621.0 306.8h0M645.4 367.5h0M620.2 407.3h0M619.6 409.0h0M617.9 407.7h0M640.8 398.8h0M638.4 368.3h0M616.1 396.9h0M623.3 385.1h0M625.3 395.7h0M643.8 354.0h0M615.7 355.4h0M618.7 397.5h0M618.9 281.1h0M617.3 404.8h0M625.3 274.1h0M628.2 274.0h0M618.7 382.0h0M615.7 328.8h0M631.3 274.2h0M621.5 406.2h0M618.6 404.4h0M633.3 274.2h0M615.9 406.4h0M622.3 404.7h0M619.1 351.1h0M619.0 285.1h0M615.5 394.6h0M623.7 395.9h0M636.1 293.6h0M619.4 407.3h0M624.4 406.3h0M616.1 300.1h0M618.1 341.0h0M620.5 340.0h0M622.5 404.5h0M617.0 293.7h0M629.9 404.3h0M616.1 376.5h0M624.8 303.5h0M617.2 393.2h0M621.6 385.3h0M626.3 393.5h0M627.2 378.4h0M618.6 410.1h0M620.7 362.0h0M618.9 296.9h0M649.7 398.9h0M620.6 407.7h0M615.5 409.3h0M617.8 409.6h0M615.5 274.3h0M630.0 359.0h0M617.0 392.9h0M636.1 373.7h0M627.9 379.1h0M615.9 369.0h0M621.5 333.9h0M621.9 408.4h0M636.6 286.9h0M627.7 401.8h0M628.4 409.1h0M622.1 396.3h0M618.9 380.1h0M616.8 408.6h0M632.7 363.3h0M615.7 403.0h0M616.4 373.5h0M615.8 370.7h0M615.6 326.9h0M620.1 369.5h0M625.5 376.8h0M634.3 273.9h0M616.9 395.3h0M621.2 398.5h0M615.4 316.7h0M615.7 385.5h0M618.5 408.2h0M622.5 368.6h0M615.9 409.6h0M619.4 304.8h0M619.6 392.0h0M616.2 408.0h0M625.8 409.7h0M622.4 400.4h0M619.3 274.4h0M639.3 398.0h0M618.4 398.4h0M621.4 322.9h0M633.6 309.5h0M617.8 405.3h0M625.2 274.2h0M628.9 394.8h0M625.9 348.8h0M623.4 370.1h0M634.2 408.7h0M626.6 303.1h0M634.2 274.1h0M624.5 343.7h0M620.1 408.1h0M618.4 391.4h0M617.0 316.3h0M616.6 399.1h0M623.3 380.4h0M618.9 410.4h0M625.1 403.6h0M627.1 274.1h0M615.9 401.0h0M634.8 285.8h0M617.8 314.1h0M629.4 406.8h0M620.8 305.9h0M619.8 409.2h0M617.1 311.2h0M621.1 274.3h0M626.6 407.8h0M616.9 369.0h0M616.3 304.2h0M620.1 407.0h0M621.5 405.4h0M619.8 396.4h0M620.9 317.8h0M618.2 407.0h0M615.4 355.1h0M623.8 406.7h0M634.3 296.2h0M626.5 394.8h0M646.3 391.8h0M616.1 410.0h0M640.6 348.8h0M624.9 393.7h0M640.8 400.9h0M636.3 299.6h0M616.0 330.4h0M626.7 402.4h0M617.6 389.6h0M622.2 366.4h0M621.3 407.7h0M625.2 319.5h0M618.3 283.5h0M624.5 407.2h0M628.2 366.0h0M616.1 388.9h0M617.3 384.2h0M617.3 387.3h0M615.3 410.3h0M619.1 320.6h0M625.9 294.0h0M620.8 303.1h0M619.7 394.2h0M617.9 305.9h0M615.6 408.9h0M617.5 280.8h0M620.4 289.5h0M615.5 306.6h0M617.2 387.0h0M623.5 295.0h0M627.7 348.3h0M615.5 376.9h0M638.9 392.0h0M619.3 316.6h0M616.5 397.7h0M622.6 291.0h0M621.8 369.2h0M616.3 342.5h0M617.3 408.8h0M615.7 395.7h0M631.6 344.2h0M617.6 408.4h0M631.1 399.7h0M621.9 409.0h0M634.3 324.3h0M617.7 410.2h0M615.6 377.2h0M617.4 397.9h0M621.0 404.1h0M615.7 382.2h0M634.4 274.2h0M623.7 388.8h0M631.1 409.6h0M628.1 274.1h0M616.9 394.3h0M627.5 274.4h0M617.9 332.1h0M618.8 365.3h0M616.1 372.9h0M622.1 361.4h0M623.8 405.0h0M616.4 292.4h0M630.8 409.6h0M620.1 308.2h0M637.6 402.3h0M625.1 375.7h0M620.0 402.6h0M621.2 402.5h0M631.8 393.1h0M615.3 404.2h0M622.4 368.4h0M625.3 410.5h0M631.9 395.6h0M625.0 406.6h0M616.4 391.9h0M622.6 389.8h0M617.8 405.2h0M616.8 387.1h0M617.2 338.4h0M618.6 324.7h0M620.4 361.9h0M618.5 381.9h0M618.2 372.8h0M626.1 401.3h0M616.9 356.1h0M617.7 403.4h0M615.8 312.9h0M616.6 408.0h0M616.6 349.7h0M618.4 397.9h0M622.4 408.6h0M619.1 409.8h0M620.9 392.7h0M616.5 324.2h0M621.9 411.1h0M626.6 406.2h0M617.6 355.0h0M617.6 274.3h0M616.8 403.6h0M616.6 367.8h0M620.8 404.9h0M618.4 379.1h0M615.7 397.5h0M617.6 305.1h0M622.7 389.1h0M620.0 410.3h0M631.4 409.1h0M621.6 387.9h0M640.4 366.4h0M617.7 306.9h0M635.2 274.0h0M617.0 395.0h0M615.8 410.4h0M630.9 409.5h0M620.2 398.9h0M616.5 408.8h0M620.4 411.1h0M626.6 401.8h0M617.3 404.0h0M616.8 388.7h0M628.9 291.4h0M620.3 307.9h0M622.6 410.9h0M621.4 378.3h0M620.0 388.6h0M616.4 343.6h0M616.7 403.5h0M629.0 395.0h0M621.4 382.9h0M623.7 274.3h0M630.7 406.9h0M617.8 397.6h0M615.7 354.0h0M618.1 398.4h0M630.4 409.1h0M626.6 409.7h0M625.5 405.2h0M615.3 332.6h0M620.5 382.9h0M618.0 388.6h0M626.8 305.9h0M626.2 299.5h0M639.5 392.9h0M626.0 396.8h0M628.5 401.8h0M633.1 307.7h0M617.1 399.8h0M616.1 389.6h0M616.2 393.3h0M642.2 391.2h0M615.3 404.8h0M617.7 335.6h0M619.3 348.1h0M623.2 373.2h0M627.8 386.6h0M634.5 408.1h0M618.6 404.7h0M623.6 395.9h0M615.7 369.1h0M622.9 407.0h0M620.9 380.6h0M640.0 406.9h0M617.9 358.7h0M621.1 364.9h0M617.5 316.6h0M618.4 288.6h0M616.6 409.5h0M616.5 411.2h0M615.3 319.7h0M624.6 399.1h0M621.5 400.7h0M625.3 407.3h0M615.8 410.9h0M616.5 398.1h0M620.0 408.9h0M639.1 407.1h0M632.1 396.9h0M619.1 378.4h0M630.9 401.7h0M620.4 402.6h0M618.4 411.1h0M617.5 364.6h0M618.0 292.8h0M620.3 379.6h0M617.9 293.0h0M618.5 327.3h0M615.4 277.8h0M628.3 374.1h0M617.4 359.1h0M616.0 343.6h0M615.5 407.1h0M622.3 394.5h0M617.3 391.9h0M626.0 343.9h0M622.0 406.7h0M621.1 298.9h0M632.7 274.0h0M618.2 397.5h0M621.1 287.2h0M634.1 408.2h0M622.6 405.3h0M629.8 400.1h0M617.5 377.1h0M620.6 372.7h0M618.4 283.8h0M619.2 401.8h0M618.8 274.0h0M625.9 402.8h0M615.3 351.9h0M633.6 403.9h0M633.3 293.7h0M620.8 326.9h0M616.9 394.2h0M617.5 346.2h0M617.0 409.9h0M632.1 407.8h0M625.1 341.9h0M620.8 332.2h0M633.4 408.6h0M624.1 397.8h0M621.6 392.2h0M616.8 383.1h0M616.4 401.4h0M637.0 274.2h0M615.9 291.4h0M623.4 391.6h0M616.8 406.0h0M616.2 274.5h0M629.6 409.7h0M616.7 332.3h0M620.9 406.4h0M637.7 389.3h0M616.1 411.4h0M621.6 389.6h0M619.2 274.3h0M647.9 384.7h0M624.4 347.4h0M621.2 381.1h0M615.6 368.1h0M616.5 407.3h0M615.4 274.0h0M622.9 356.8h0M636.0 357.6h0M617.2 403.5h0M620.3 337.5h0M625.7 407.1h0M615.3 397.2h0M619.1 334.3h0M616.2 354.4h0M617.0 365.5h0M622.4 346.2h0M616.7 367.2h0M616.3 396.9h0M628.4 407.4h0M636.8 358.8h0M617.9 398.9h0M615.7 274.2h0M629.8 278.2h0M621.0 395.0h0M620.3 409.0h0M620.8 394.5h0M619.0 409.9h0M620.7 410.7h0M621.3 406.3h0M624.7 315.1h0M628.7 327.7h0M619.6 390.4h0M637.1 374.3h0M617.5 304.0h0M620.3 335.5h0M629.5 301.2h0M620.1 400.6h0M622.3 409.9h0M627.6 393.0h0M625.2 389.0h0M620.2 379.5h0M617.5 310.0h0M617.0 311.6h0M624.1 403.9h0M621.9 399.0h0M643.2 405.4h0M627.7 360.0h0M648.8 402.2h0M624.0 370.8h0M631.7 281.7h0M626.5 397.6h0M624.5 401.7h0M615.7 399.7h0M621.9 409.0h0M622.1 410.1h0M628.8 304.2h0M621.7 338.4h0M615.7 396.9h0M626.5 380.5h0M619.4 311.2h0M620.8 311.2h0M631.7 409.3h0M624.6 299.8h0M618.1 409.7h0M628.5 409.5h0M618.3 411.3h0M621.0 410.0h0M617.3 410.9h0M619.0 404.6h0M628.2 382.5h0M623.3 404.6h0M638.6 385.7h0M622.6 404.4h0M621.3 409.5h0M619.1 406.9h0M617.2 382.9h0M636.5 347.1h0M615.9 326.6h0M630.1 274.2h0M618.6 409.4h0M616.6 403.9h0M617.2 383.8h0M616.9 408.7h0M616.1 370.8h0M622.0 410.5h0M628.8 317.3h0M615.7 410.9h0M629.1 274.4h0M642.9 405.8h0M622.6 395.3h0M616.0 408.4h0M629.0 407.3h0M627.1 408.6h0M615.3 410.5h0M624.3 395.0h0M625.0 330.6h0M638.5 349.7h0M615.8 298.7h0M621.5 366.5h0M621.5 372.6h0M619.8 359.6h0M619.6 289.4h0M617.2 380.8h0M616.8 393.8h0M615.7 406.4h0M630.9 352.5h0M629.1 351.3h0M616.6 344.2h0M616.6 273.8h0M619.1 408.0h0M617.4 381.5h0M618.8 409.6h0M625.0 315.3h0M615.8 346.9h0M624.8 307.9h0M620.7 401.4h0M615.3 373.7h0M615.7 401.1h0M618.5 342.4h0M617.7 346.1h0M615.7 323.1h0M617.5 410.3h0M616.3 406.8h0M619.6 406.2h0M624.7 321.2h0M624.7 409.8h0M620.8 404.9h0M633.5 280.1h0M622.0 320.1h0M633.2 378.8h0M615.7 316.7h0M632.4 397.5h0M628.4 403.2h0M616.5 407.3h0M622.0 359.2h0M616.9 404.4h0M615.9 396.5h0M626.3 383.7h0M621.8 403.0h0M615.9 410.2h0M615.5 395.1h0M631.5 374.9h0M620.5 400.5h0M648.1 403.1h0M628.0 399.3h0M632.5 340.6h0M615.3 409.1h0M620.1 367.4h0M623.7 392.1h0M623.1 298.8h0M635.2 360.6h0M615.8 381.9h0M622.3 386.1h0M616.1 391.5h0M633.0 392.0h0M617.5 311.5h0M619.3 374.6h0M626.2 403.7h0M618.2 385.8h0M618.8 274.0h0M624.2 331.1h0M619.1 406.7h0M616.4 322.6h0M619.1 366.0h0M624.4 352.2h0M619.9 387.4h0M618.1 358.1h0M623.1 401.9h0M620.5 385.2h0M620.3 403.7h0M646.3 371.4h0M616.5 410.5h0M617.8 336.7h0M625.3 274.2h0M626.3 385.8h0M623.9 403.6h0M618.0 307.7h0M640.5 349.9h0M616.7 378.7h0M620.8 403.3h0M629.7 274.2h0M638.1 396.9h0M616.0 402.2h0M615.7 395.3h0M616.9 408.2h0M621.5 315.9h0M615.8 361.9h0M624.5 375.9h0M619.8 298.1h0M624.2 292.4h0M615.8 397.5h0M616.8 410.1h0M634.8 383.6h0M622.9 305.1h0M620.0 355.8h0M618.9 408.0h0M619.1 324.9h0M618.3 323.8h0M628.7 386.0h0M619.6 274.3h0" stroke="#f0413a" stroke-width="1.25" stroke-linecap="round" fill="none"/>
<line x1="576.6" y1="273.7" x2="598.8" y2="273.7" stroke="#4a84bd" stroke-width="1.3"/>
<line x1="615.2" y1="273.7" x2="638.0" y2="273.7" stroke="#f0413a" stroke-width="1.3"/>
<rect x="533.0" y="266.9" width="148.4" height="151.5" fill="none" stroke="#4d4d4d" stroke-width="0.9"/>
<line x1="530.80" y1="411.40" x2="533.00" y2="411.40" stroke="#4d4d4d" stroke-width="0.8"/>
<text x="531.10" y="414.17" font-size="7.6" text-anchor="end" fill="#4d4d4d" stroke="#4d4d4d" stroke-width="0.15">0</text>
<line x1="530.80" y1="366.40" x2="533.00" y2="366.40" stroke="#4d4d4d" stroke-width="0.8"/>
<text x="531.10" y="369.17" font-size="7.6" text-anchor="end" fill="#4d4d4d" stroke="#4d4d4d" stroke-width="0.15">100</text>
<line x1="530.80" y1="321.40" x2="533.00" y2="321.40" stroke="#4d4d4d" stroke-width="0.8"/>
<text x="531.10" y="324.17" font-size="7.6" text-anchor="end" fill="#4d4d4d" stroke="#4d4d4d" stroke-width="0.15">200</text>
<line x1="530.80" y1="276.40" x2="533.00" y2="276.40" stroke="#4d4d4d" stroke-width="0.8"/>
<text x="531.10" y="279.17" font-size="7.6" text-anchor="end" fill="#4d4d4d" stroke="#4d4d4d" stroke-width="0.15">300</text>
<line x1="567.60" y1="418.40" x2="567.60" y2="420.60" stroke="#4d4d4d" stroke-width="0.8"/>
<text x="567.60" y="426.27" font-size="7.6" text-anchor="middle" fill="#4d4d4d" stroke="#4d4d4d" stroke-width="0.15">-10</text>
<line x1="607.30" y1="418.40" x2="607.30" y2="420.60" stroke="#4d4d4d" stroke-width="0.8"/>
<text x="607.30" y="426.27" font-size="7.6" text-anchor="middle" fill="#4d4d4d" stroke="#4d4d4d" stroke-width="0.15">0</text>
<line x1="647.00" y1="418.40" x2="647.00" y2="420.60" stroke="#4d4d4d" stroke-width="0.8"/>
<text x="647.00" y="426.27" font-size="7.6" text-anchor="middle" fill="#4d4d4d" stroke="#4d4d4d" stroke-width="0.15">10</text>
<text x="608.10" y="436.72" font-size="10.2" text-anchor="middle" fill="#1a1a1a" stroke="#1a1a1a" stroke-width="0.31">log2FC</text>
<text x="0" y="0" font-size="10.2" text-anchor="middle" fill="#1a1a1a" stroke="#1a1a1a" stroke-width="0.3" transform="translate(515.2,342.6) rotate(-90)">-log10q-value</text>
<text x="549.70" y="278.42" font-size="10.2" text-anchor="middle" fill="#4a84c4" stroke="#4a84c4" stroke-width="0.31">Down</text>
<text x="549.70" y="289.52" font-size="10.2" text-anchor="middle" fill="#4a84c4" stroke="#4a84c4" stroke-width="0.31">1244</text>
<text x="667.60" y="278.42" font-size="10.2" text-anchor="middle" fill="#f0413a" stroke="#f0413a" stroke-width="0.31">Up</text>
<text x="667.60" y="289.52" font-size="10.2" text-anchor="middle" fill="#f0413a" stroke="#f0413a" stroke-width="0.31">1983</text>
<text x="307.40" y="451.10" font-size="15.0" font-weight="bold" fill="#000">F</text>
<text x="417.60" y="458.52" font-size="10.2" text-anchor="middle" fill="#1a1a1a" stroke="#1a1a1a" stroke-width="0.31">GGC-del vs NIID</text>
<line x1="411.8" y1="462.7" x2="411.8" y2="613.0" stroke="#c8c8c8" stroke-width="0.6" stroke-dasharray="1.2,1.2"/>
<line x1="427.6" y1="462.7" x2="427.6" y2="613.0" stroke="#c8c8c8" stroke-width="0.6" stroke-dasharray="1.2,1.2"/>
<line x1="345.3" y1="605.4" x2="493.6" y2="605.4" stroke="#c8c8c8" stroke-width="0.6" stroke-dasharray="1.2,1.2"/>
<path d="M406.9 599.0h0M408.5 492.5h0M401.9 593.4h0M394.9 588.9h0M409.0 572.8h0M384.5 599.9h0M401.1 571.2h0M408.8 576.6h0M410.3 519.3h0M411.5 602.3h0M406.0 536.5h0M396.1 600.3h0M405.2 478.3h0M403.1 483.4h0M373.9 595.5h0M409.9 598.7h0M411.3 593.6h0M407.2 604.3h0M406.8 605.6h0M408.4 543.6h0M407.0 585.5h0M398.8 604.7h0M402.3 470.1h0M395.9 596.6h0M402.8 489.4h0M401.4 580.6h0M407.9 599.5h0M387.1 601.2h0M405.7 578.0h0M401.0 605.1h0M400.0 594.5h0M410.9 603.1h0M389.3 512.5h0M402.0 477.5h0M405.6 470.5h0M411.6 587.4h0M410.3 515.6h0M405.8 513.4h0M400.8 512.0h0M385.0 492.6h0M406.0 595.5h0M406.4 589.2h0M405.3 603.6h0M401.4 477.2h0M370.6 593.7h0M410.6 603.4h0M410.9 605.9h0M395.8 584.6h0M411.7 603.0h0M410.0 589.0h0M408.9 596.5h0M411.3 605.8h0M401.1 577.5h0M409.9 601.3h0M408.9 478.3h0M411.0 470.5h0M403.1 596.1h0M409.9 604.2h0M411.2 585.7h0M409.2 597.3h0M406.0 604.5h0M409.7 605.0h0M407.9 549.7h0M373.0 595.3h0M411.0 537.9h0M407.9 592.7h0M410.5 508.7h0M399.8 591.8h0M394.2 570.7h0M404.1 599.5h0M406.9 586.1h0M396.3 470.2h0M409.0 542.8h0M401.3 543.4h0M406.7 557.6h0M387.3 601.3h0M393.3 470.5h0M410.5 604.4h0M393.1 598.1h0M408.4 552.3h0M408.7 584.5h0M403.0 594.6h0M411.1 602.7h0M402.1 523.4h0M405.0 566.1h0M398.1 593.4h0M402.1 603.7h0M397.5 598.1h0M384.1 598.8h0M407.6 591.8h0M404.5 557.4h0M399.0 603.7h0M410.4 585.9h0M405.3 600.6h0M395.0 584.1h0M405.3 593.9h0M388.5 596.4h0M388.8 597.3h0M408.4 605.3h0M411.6 545.2h0M390.2 565.2h0M408.7 563.0h0M407.0 605.6h0M406.5 601.8h0M405.3 508.1h0M378.0 585.4h0M410.2 603.3h0M408.3 599.6h0M398.6 488.0h0M408.3 586.2h0M411.7 539.5h0M403.9 470.1h0M411.0 562.7h0M380.9 582.5h0M410.4 574.9h0M409.1 518.5h0M406.1 566.8h0M410.0 598.1h0M406.1 600.7h0M407.8 560.1h0M409.2 594.8h0M407.9 565.2h0M406.8 595.5h0M409.8 522.2h0M404.0 482.6h0M410.9 568.7h0M410.1 601.2h0M411.0 605.4h0M411.3 501.7h0M404.2 568.8h0M407.2 600.2h0M395.0 588.8h0M408.2 590.6h0M409.5 555.1h0M410.4 511.2h0M409.9 540.0h0M409.5 561.0h0M410.6 603.5h0M408.4 601.8h0M400.9 470.4h0M409.9 480.4h0M405.6 597.5h0M408.9 576.3h0M408.9 601.4h0M406.8 590.7h0M388.8 572.7h0M409.8 561.2h0M400.9 600.9h0M400.9 586.9h0M409.7 557.3h0M402.8 580.5h0M411.8 470.2h0M392.8 495.6h0M410.4 592.1h0M402.0 470.1h0M410.8 597.7h0M407.4 580.9h0M394.5 561.0h0M405.0 601.9h0M411.0 601.7h0M409.7 601.3h0M409.8 594.9h0M407.7 603.7h0M407.4 598.2h0M407.0 567.5h0M403.5 596.6h0M411.6 601.4h0M404.7 479.1h0M410.4 553.5h0M393.1 599.4h0M408.0 533.7h0M408.6 596.7h0M406.3 564.4h0M408.8 603.3h0M406.7 547.9h0M406.8 600.8h0M391.9 569.6h0M390.2 470.4h0M410.5 605.9h0M392.3 479.4h0M411.7 600.5h0M410.8 605.7h0M400.6 576.5h0M407.2 543.6h0M401.6 597.8h0M407.7 572.9h0M403.9 600.0h0M403.0 596.0h0M401.6 553.7h0M409.1 521.1h0M409.7 504.1h0M407.7 593.5h0M411.4 570.6h0M400.0 600.2h0M410.8 526.2h0M410.8 589.5h0M406.6 547.1h0M411.2 595.7h0M394.6 600.6h0M406.3 508.3h0M403.0 545.0h0M411.2 597.5h0M410.0 590.3h0M404.3 544.7h0M388.5 601.9h0M408.9 541.9h0M410.1 604.3h0M410.5 596.2h0M404.2 595.9h0M411.7 506.5h0M411.2 600.9h0M403.9 595.8h0M408.6 516.9h0M405.4 470.6h0M407.2 553.2h0M390.0 602.5h0M407.7 605.0h0M400.9 476.4h0M385.3 600.4h0M400.4 470.1h0M410.2 598.2h0M406.4 580.5h0M396.7 579.9h0M408.0 563.9h0M411.0 563.7h0M410.3 554.9h0M407.9 605.1h0M384.1 470.2h0M409.0 596.5h0M406.0 602.5h0M410.6 550.6h0M403.2 601.1h0M406.0 602.0h0M399.5 589.4h0M393.5 531.4h0M411.1 605.8h0M387.7 594.9h0M396.7 493.7h0M408.3 603.6h0M405.6 600.3h0M411.1 489.2h0M402.6 518.7h0M405.0 573.2h0M387.3 595.2h0M381.8 563.9h0M407.1 529.7h0M394.7 499.9h0M409.2 496.3h0M410.1 598.0h0M394.6 595.1h0M410.7 578.4h0M392.3 470.6h0M403.3 571.3h0M407.9 605.6h0M405.9 581.5h0M397.0 603.7h0M392.1 590.2h0M402.8 586.7h0M409.8 550.1h0M411.0 603.1h0M408.9 479.1h0M407.4 599.3h0M400.7 567.4h0M409.9 570.8h0M410.3 572.3h0M409.5 549.1h0M404.3 481.0h0M408.7 571.7h0M409.5 594.7h0M403.3 551.2h0M408.0 602.6h0M410.8 560.0h0M392.8 518.2h0M394.7 540.7h0M410.3 510.8h0M387.9 540.1h0M396.5 549.0h0M402.9 581.7h0M407.3 586.5h0M383.4 591.6h0M385.8 592.2h0M398.3 600.4h0M381.6 577.3h0M393.7 584.2h0M388.4 504.8h0M409.3 474.8h0M410.9 593.7h0M402.8 603.3h0M410.3 586.4h0M410.6 479.4h0M407.6 569.5h0M388.9 563.6h0M393.6 597.0h0M408.7 594.5h0M401.4 587.2h0M388.3 487.5h0M401.9 572.4h0M404.5 591.9h0M399.8 604.0h0M401.3 582.3h0M401.9 557.7h0M405.7 595.8h0M411.0 476.6h0M409.0 570.1h0M398.5 529.5h0M410.6 605.8h0M373.0 594.7h0M406.8 594.4h0M402.5 509.3h0M398.9 576.8h0M376.0 576.3h0M382.8 591.2h0M404.5 484.7h0M411.5 597.0h0M408.6 598.4h0M406.2 581.9h0M411.2 562.5h0M380.5 598.9h0M379.6 588.0h0M399.9 583.3h0M394.0 587.6h0M402.9 557.9h0M406.3 485.1h0M405.9 514.2h0M399.2 470.5h0M410.8 583.6h0M385.3 580.7h0M406.5 553.4h0M411.2 514.8h0M407.5 605.0h0M403.2 601.3h0M401.4 470.4h0M409.1 584.4h0M411.2 491.7h0M404.8 479.2h0M379.4 530.7h0M401.8 569.2h0M397.5 595.7h0M408.8 550.7h0M395.6 531.0h0M406.9 586.2h0M410.3 600.2h0M408.4 511.1h0M374.6 595.8h0M402.2 470.2h0M409.6 582.3h0M407.3 506.4h0M405.7 583.5h0M399.6 590.5h0M411.4 531.1h0M404.7 605.2h0M378.8 566.5h0M401.4 602.7h0M405.6 501.2h0M407.6 603.1h0M404.2 475.5h0M395.8 472.7h0M411.4 581.8h0M399.4 470.5h0M410.9 599.7h0M392.5 500.9h0M407.7 596.5h0M404.5 594.9h0M396.2 595.5h0M399.9 604.8h0M385.1 470.4h0M385.0 549.5h0M392.7 470.5h0M410.8 588.7h0M411.4 552.9h0M411.4 517.1h0M380.7 590.5h0M400.9 583.4h0M405.5 597.8h0M406.3 581.8h0M410.6 585.0h0M410.6 534.4h0M411.4 605.0h0M408.2 593.5h0M407.6 601.1h0M404.4 574.8h0M390.2 511.3h0M395.4 527.6h0M400.3 537.8h0M408.7 569.9h0M407.2 597.9h0M396.1 582.3h0M411.8 595.9h0M402.2 605.0h0M400.8 598.9h0M409.0 601.5h0M409.3 517.0h0M398.2 599.0h0M409.7 493.7h0M372.4 587.2h0M401.5 470.1h0M400.8 601.8h0M407.1 555.8h0M404.6 593.9h0M393.9 603.4h0M401.6 586.6h0M411.7 573.8h0M411.3 594.8h0M409.4 520.1h0M385.6 601.0h0M410.2 601.8h0M387.6 550.0h0M409.5 598.3h0M402.8 601.1h0M404.5 599.7h0M410.5 564.8h0M394.9 591.1h0M408.8 599.7h0M404.3 600.0h0M389.4 593.5h0M410.7 572.3h0M410.8 556.0h0M405.9 525.8h0M407.1 593.0h0M411.1 602.7h0M405.8 562.9h0M395.5 492.7h0M404.5 498.6h0M405.7 602.5h0M407.6 598.0h0M408.2 598.0h0M410.9 603.2h0M406.7 578.1h0M410.6 575.0h0M406.5 550.4h0M411.8 598.2h0M406.9 598.0h0M406.6 600.7h0M407.9 600.9h0M372.0 594.6h0M410.4 535.4h0M406.7 536.1h0M400.4 587.9h0M406.5 587.8h0M397.2 554.9h0M381.4 529.3h0M393.2 481.6h0M411.4 486.5h0M405.8 591.7h0M409.6 539.8h0M410.8 559.3h0M405.0 521.7h0M396.9 470.3h0M406.5 594.3h0M409.5 593.5h0M407.6 489.5h0M408.7 505.1h0M410.9 546.9h0M408.4 590.3h0M409.9 601.5h0M409.2 548.5h0M391.6 603.0h0M405.0 598.1h0M388.2 594.9h0M406.3 494.1h0M406.6 560.0h0M410.1 595.7h0M410.7 484.4h0M408.3 597.7h0M384.0 546.3h0M405.3 583.6h0M399.3 491.6h0M385.6 598.5h0M406.0 569.5h0M410.8 604.2h0M411.3 605.4h0M407.7 605.3h0M404.1 553.4h0M407.4 507.5h0M404.4 496.6h0M411.1 504.2h0M409.7 596.7h0M397.8 479.7h0M403.6 523.5h0M410.9 544.8h0M409.8 596.7h0M409.5 586.4h0M411.6 512.1h0M406.2 598.5h0M387.1 513.2h0M396.5 602.7h0M403.3 576.7h0M395.2 594.9h0M407.9 598.1h0M397.4 603.8h0M399.5 533.5h0M406.4 597.5h0M410.9 604.8h0M405.8 478.2h0M406.3 603.2h0M394.1 602.8h0M410.7 599.3h0M407.8 509.2h0M377.1 556.7h0M400.7 602.7h0M383.0 592.5h0M404.4 496.2h0M403.2 591.7h0M381.4 581.1h0M389.4 601.9h0M405.6 584.3h0M383.1 470.5h0M406.7 605.4h0M403.9 562.1h0M407.2 470.2h0M368.6 592.6h0M408.6 575.2h0M408.8 593.7h0M402.1 470.3h0M403.2 603.1h0M406.8 597.2h0M404.2 601.0h0M402.6 604.0h0M407.0 591.5h0M409.5 598.9h0M395.9 510.5h0M410.1 540.4h0M411.0 481.1h0M408.9 591.2h0M406.0 599.3h0M404.6 517.8h0M405.7 548.9h0M410.2 580.4h0M410.6 512.0h0M386.5 595.4h0M403.8 597.7h0M390.1 561.9h0M409.1 559.5h0M407.7 591.6h0M409.1 470.3h0M400.0 572.5h0M404.5 596.7h0M408.6 598.2h0M408.9 605.9h0M401.1 595.1h0M406.2 528.8h0M386.1 601.3h0M387.1 470.3h0M399.1 474.5h0M406.6 584.8h0M380.0 534.9h0M411.8 605.1h0M411.1 588.7h0M407.6 601.1h0M385.8 512.0h0M401.6 571.3h0M410.0 604.1h0M411.7 491.5h0M410.2 605.2h0M404.3 602.5h0M385.8 600.8h0M406.4 508.9h0M411.3 485.5h0M404.5 479.8h0M396.2 576.3h0M406.0 591.3h0M403.5 601.5h0M408.8 559.5h0M410.9 480.5h0M410.2 521.3h0M396.1 574.8h0M408.7 597.9h0M411.0 576.3h0M406.8 566.7h0M396.4 524.8h0M410.4 585.7h0M405.6 599.4h0M400.5 585.7h0M406.7 548.5h0M396.9 582.9h0M409.1 589.9h0M398.9 604.2h0M411.5 569.0h0M405.3 601.4h0M389.6 470.4h0M411.7 576.1h0M408.9 475.1h0M399.7 513.8h0M411.5 601.2h0M394.3 471.0h0M411.5 604.0h0M409.9 598.6h0M397.0 582.5h0M409.6 550.9h0M404.7 601.2h0M387.2 601.5h0M404.6 535.9h0M411.3 597.2h0M405.8 561.5h0M404.4 605.1h0M411.0 541.8h0M388.0 475.2h0M406.8 524.1h0M404.5 470.8h0M407.6 537.2h0M384.6 579.8h0M389.6 470.3h0M386.0 523.6h0M408.1 587.7h0M408.5 545.9h0M397.1 534.6h0M409.4 519.9h0M408.7 581.4h0M390.1 576.1h0M401.6 593.0h0M391.4 577.2h0M406.5 601.3h0M382.7 470.3h0M400.9 593.2h0M402.7 563.1h0M388.8 561.1h0M411.1 567.4h0M411.0 509.8h0M411.5 603.8h0M409.2 604.0h0M402.2 508.7h0M408.4 603.3h0M410.7 484.8h0M371.5 593.9h0M396.1 551.9h0M389.7 488.5h0M407.7 570.0h0M411.7 494.2h0M410.2 590.2h0M398.3 601.2h0M397.1 528.1h0M409.9 511.0h0M411.6 589.7h0M400.1 598.8h0M397.6 470.4h0M409.1 565.9h0M403.8 598.0h0M396.1 470.6h0M406.6 602.0h0M401.9 515.5h0M408.2 590.2h0M397.6 603.9h0M403.4 470.3h0M392.6 588.2h0M389.9 577.3h0M406.3 600.2h0M402.6 586.1h0M406.9 515.4h0M405.0 470.4h0M392.9 489.5h0M409.5 473.1h0M387.5 577.4h0M387.9 590.7h0M411.2 587.7h0M375.8 596.5h0M406.4 603.2h0M405.7 592.8h0M411.8 569.6h0M411.5 596.6h0M410.1 605.2h0M407.1 530.7h0M407.3 585.4h0M409.1 571.0h0M410.4 605.7h0M410.4 572.5h0M410.6 502.6h0M411.2 575.2h0M375.6 596.4h0M409.3 596.3h0M387.1 553.3h0M410.3 605.2h0M388.2 494.2h0M407.8 545.4h0M409.1 593.2h0M390.0 602.0h0M404.0 586.5h0M403.1 482.1h0M408.5 575.6h0M405.9 602.4h0M384.6 596.0h0M371.8 594.6h0M395.0 603.1h0M409.5 594.8h0M411.1 595.4h0M411.2 590.1h0M401.5 557.2h0M408.6 591.1h0M409.7 498.0h0M400.5 580.5h0M404.9 470.3h0M410.7 571.3h0M407.6 605.2h0M411.8 596.9h0M403.7 560.5h0M411.2 473.3h0M382.3 585.8h0M404.5 596.2h0M406.4 599.9h0M411.0 565.0h0M405.9 574.1h0M410.9 605.3h0M411.4 605.4h0M401.8 577.5h0M406.8 605.4h0M410.3 599.6h0M386.3 599.4h0M411.4 473.7h0M405.7 554.5h0M407.0 604.0h0M388.1 579.6h0M408.4 565.2h0M382.7 530.9h0M409.2 517.9h0M410.5 605.0h0M401.7 571.5h0M402.0 505.4h0M404.1 529.0h0M392.5 548.0h0M409.4 579.0h0M410.3 605.4h0M391.4 601.6h0M410.4 596.5h0M388.5 577.5h0M407.1 586.7h0M397.9 474.5h0M400.3 515.4h0M403.4 598.1h0M391.8 600.8h0M398.7 470.1h0M411.7 525.2h0M387.4 560.1h0M409.3 599.1h0M403.4 542.0h0M386.5 601.1h0M411.0 504.8h0M382.6 470.5h0M409.4 599.7h0M408.5 604.2h0M402.2 604.9h0M404.8 509.6h0M408.5 603.7h0M402.7 544.2h0M399.5 485.4h0M397.0 600.7h0M409.8 578.8h0M405.8 600.2h0M411.3 597.4h0M386.0 489.8h0M410.5 556.9h0M406.0 470.5h0M395.0 555.2h0M391.0 591.7h0M407.7 605.0h0M404.2 602.4h0M411.2 604.0h0M387.1 485.8h0M408.9 484.7h0M391.7 565.5h0M411.6 501.3h0M411.1 598.4h0M411.8 595.3h0M399.4 555.7h0M409.1 531.2h0M411.1 594.7h0M405.8 493.2h0M409.4 565.8h0M393.6 592.9h0M411.3 588.2h0M408.9 596.8h0M408.9 604.4h0M398.1 470.0h0M398.3 599.1h0M409.7 503.9h0M392.6 507.9h0M398.7 578.4h0M410.1 515.9h0M409.5 505.9h0M408.6 549.9h0M406.7 590.3h0M408.5 605.6h0M410.9 489.4h0M410.9 490.2h0M407.5 600.0h0M402.4 588.1h0M410.3 580.1h0M409.0 601.1h0M403.9 597.6h0M411.4 596.8h0M401.1 580.2h0M392.0 602.7h0M407.4 557.8h0M405.3 599.3h0M407.9 515.1h0M399.4 514.2h0M385.3 538.3h0M376.2 557.2h0M407.6 514.1h0M410.9 597.3h0M392.5 511.7h0M411.2 548.3h0M401.2 567.2h0M409.6 534.5h0M410.7 521.4h0M410.8 570.2h0M394.0 474.7h0M410.1 556.2h0M411.7 590.5h0M409.7 481.4h0M405.0 550.6h0M406.2 570.3h0M404.7 599.2h0M407.3 600.9h0M408.4 585.6h0M386.2 601.0h0M397.8 549.4h0M403.1 588.8h0M406.4 605.2h0M407.6 470.5h0M407.2 567.1h0M391.5 517.4h0M378.7 597.7h0M405.6 605.7h0M409.3 601.1h0M385.0 586.4h0M398.8 590.7h0M407.3 570.8h0M411.8 587.8h0M409.8 540.1h0M410.8 573.2h0M409.8 597.0h0M410.7 496.1h0M387.4 470.5h0M392.1 573.2h0M395.1 597.3h0M410.5 523.9h0M409.4 552.2h0M407.0 604.4h0M398.8 473.8h0M399.3 562.6h0M407.4 599.7h0M405.8 605.2h0M409.0 604.7h0M410.7 598.6h0M394.6 602.0h0M411.2 484.5h0M407.3 605.2h0M380.9 585.8h0M399.1 470.6h0M386.7 554.8h0M402.9 567.9h0M402.1 604.5h0M409.6 566.2h0M398.1 592.9h0M410.6 581.9h0M400.5 603.4h0M411.6 557.4h0M410.0 583.8h0M380.8 572.4h0M407.1 558.9h0M411.6 602.5h0M410.9 506.4h0M411.7 594.1h0M409.5 605.3h0M408.7 598.6h0M394.6 530.1h0M409.0 577.7h0M384.1 571.0h0M409.4 574.2h0M387.6 581.6h0M410.1 578.5h0M410.9 485.4h0M406.6 598.4h0M405.4 549.5h0M408.7 599.9h0M410.2 583.2h0M411.5 596.6h0M411.3 511.4h0M394.5 603.4h0M404.2 499.5h0M403.5 524.4h0M403.8 576.1h0M384.1 470.4h0M405.9 536.2h0M406.1 537.2h0M408.7 472.6h0M390.1 566.2h0M399.7 470.4h0M409.9 605.9h0M409.5 536.9h0M410.4 475.7h0M407.5 522.2h0M410.3 554.3h0M411.4 586.4h0M407.1 470.5h0M400.9 571.2h0M410.5 485.7h0M410.4 577.7h0M406.8 605.1h0M411.5 602.0h0M398.9 470.2h0M404.2 547.7h0M408.8 585.0h0M410.6 604.2h0M401.0 603.3h0M405.4 600.3h0M394.1 594.7h0M402.1 593.1h0M409.0 604.9h0M397.2 522.0h0M377.8 547.1h0M407.1 565.2h0M405.7 592.6h0M408.4 527.3h0M411.6 593.7h0M397.9 598.5h0M380.5 598.6h0M410.7 505.8h0M404.6 600.1h0M407.4 597.6h0M410.5 599.9h0M408.7 470.5h0M410.9 605.4h0M411.3 579.2h0M408.7 571.2h0M408.1 556.5h0M402.8 470.5h0M407.0 605.6h0M408.5 587.4h0M409.1 600.4h0M390.5 570.8h0M410.3 543.2h0M406.4 590.5h0M401.7 601.9h0M405.8 600.1h0M402.1 580.8h0M408.2 598.8h0M400.1 594.0h0M407.6 599.6h0M410.7 586.9h0M411.7 604.6h0M411.7 569.7h0M409.7 603.6h0M410.5 596.3h0M406.3 593.7h0M411.5 532.8h0M401.8 603.8h0M398.6 470.4h0M406.6 601.3h0M410.1 470.2h0M406.8 597.1h0M398.7 507.0h0M410.1 546.9h0M369.5 592.3h0M407.2 506.4h0M394.8 513.0h0M411.5 593.2h0M375.4 595.7h0M409.8 483.1h0M409.2 598.2h0M411.6 597.8h0M402.9 547.7h0M410.5 600.1h0M400.9 501.7h0M407.3 600.5h0M409.2 591.0h0M400.9 505.4h0M409.7 493.7h0M409.4 593.4h0M401.8 566.4h0M405.7 583.1h0M409.5 591.1h0M409.2 604.7h0M405.3 600.9h0M383.5 565.6h0M404.3 577.6h0M402.2 470.1h0M405.2 599.5h0M403.5 603.6h0M407.4 585.3h0M411.2 522.7h0M396.4 470.4h0M394.7 536.6h0M411.0 603.3h0M408.6 572.7h0M410.1 598.2h0M391.0 592.4h0M410.0 504.0h0M403.2 595.5h0M409.0 597.8h0M407.7 595.5h0M405.1 588.2h0M411.6 524.3h0M397.9 567.1h0M406.1 553.1h0M407.3 589.1h0M405.2 602.5h0M408.7 604.7h0M410.1 540.0h0M411.0 598.7h0M401.0 470.5h0M402.9 601.5h0M389.4 527.3h0M410.3 603.3h0M409.6 576.2h0M400.0 504.0h0M399.8 592.6h0M410.5 591.7h0M411.4 581.4h0M411.1 492.8h0M409.9 595.3h0M411.5 543.7h0M407.0 599.8h0M408.9 601.1h0M407.7 594.3h0M385.4 536.6h0M406.7 470.2h0M395.6 598.8h0M408.7 602.4h0M406.5 563.1h0M407.1 576.4h0M409.8 499.1h0M404.2 603.5h0M403.8 589.8h0M409.6 571.1h0M410.3 559.6h0M410.7 604.5h0M406.3 598.6h0M411.6 600.3h0M410.9 601.8h0M405.9 598.6h0M409.7 599.6h0M390.0 565.1h0M384.8 470.4h0M408.9 603.2h0M407.3 591.8h0M411.4 553.7h0M396.5 542.4h0M407.1 575.2h0M393.4 522.2h0M409.5 512.5h0M403.2 470.5h0M397.3 496.3h0M409.9 604.8h0M409.6 604.3h0M401.1 567.4h0M404.1 543.9h0M394.6 553.8h0M409.7 575.0h0M410.7 580.7h0M408.2 598.8h0M403.1 590.8h0M393.3 534.6h0M406.9 554.7h0M404.7 596.7h0M408.9 599.6h0M408.0 591.5h0M398.0 562.5h0M386.6 592.5h0M410.8 601.4h0M375.0 595.7h0M411.8 486.1h0M409.3 603.6h0M400.0 513.9h0M386.5 594.8h0M398.0 591.9h0M410.4 601.9h0M411.7 599.5h0M410.0 564.1h0M408.5 507.5h0M398.7 580.2h0M411.1 591.7h0M398.6 588.4h0M402.8 594.2h0M396.7 514.3h0M387.1 492.7h0M404.3 600.3h0M404.6 520.4h0M407.5 534.5h0M407.6 601.6h0M390.9 556.1h0M390.3 470.2h0M394.6 603.7h0M406.2 533.0h0M374.8 596.2h0M399.6 487.6h0M374.0 592.6h0M382.9 470.5h0M402.9 563.7h0M403.7 601.8h0M410.3 585.6h0M410.9 571.0h0M408.8 585.1h0M406.2 596.0h0M406.3 540.0h0M403.3 594.0h0M411.1 598.1h0M394.0 591.1h0M408.6 593.8h0M409.3 561.5h0M411.7 598.3h0M410.3 600.1h0M410.5 520.8h0M410.3 591.4h0M402.4 581.2h0M385.8 570.2h0M395.7 554.7h0M408.5 500.9h0M393.9 597.7h0M402.7 532.5h0M405.5 597.6h0M396.3 514.6h0M400.9 594.7h0M398.5 601.6h0M396.6 604.1h0M395.9 580.4h0M407.9 587.6h0M387.7 598.3h0M405.4 502.6h0M408.2 532.0h0M408.7 604.7h0M399.0 587.2h0M408.8 508.3h0M411.8 596.3h0M409.0 509.4h0M398.8 600.2h0M398.5 569.8h0M409.6 547.4h0M411.7 588.9h0M403.3 499.7h0M403.5 598.9h0M411.7 601.9h0M406.4 477.2h0M411.1 476.0h0M376.1 596.6h0M409.5 530.8h0M409.1 503.6h0M407.3 603.2h0M408.0 548.4h0M404.1 533.4h0M390.2 569.5h0M408.2 573.2h0M408.1 530.5h0M390.2 470.5h0M407.4 602.9h0M411.6 496.3h0M410.3 604.1h0M402.1 588.9h0M402.3 537.2h0M409.0 595.1h0M411.0 504.3h0M405.7 499.4h0M410.6 570.7h0M407.9 484.9h0M411.4 568.3h0M403.5 597.9h0M407.3 597.7h0M406.2 552.9h0M402.2 602.3h0M409.6 500.8h0M406.5 595.5h0M410.8 600.4h0M394.5 602.0h0M410.6 579.4h0M393.8 603.3h0M405.6 586.7h0M400.5 599.6h0M394.6 581.8h0M381.4 599.4h0M407.9 493.0h0M409.3 597.4h0M405.6 477.1h0M398.6 589.9h0M389.6 517.8h0M394.6 603.5h0M389.4 592.9h0M409.7 598.5h0M389.2 470.7h0M397.5 567.6h0M407.4 537.0h0M407.2 604.4h0M378.5 597.9h0M410.3 558.4h0M409.5 572.0h0M405.5 599.2h0M409.5 478.4h0M409.6 605.0h0M411.4 601.4h0M405.8 546.5h0M410.6 594.9h0M403.9 521.5h0M401.2 604.4h0M408.6 598.4h0M399.6 542.2h0M410.9 580.7h0M410.9 599.8h0M410.9 600.6h0M407.3 604.6h0M401.7 488.1h0M387.4 601.1h0M407.4 568.7h0M393.5 602.8h0M411.3 597.8h0M410.9 553.5h0M391.7 600.1h0M395.9 596.7h0M411.0 598.0h0M397.1 573.1h0M384.6 517.7h0M411.5 605.9h0M411.6 505.3h0M404.7 603.2h0M405.0 561.4h0M410.4 520.1h0M410.0 504.0h0M409.1 599.2h0M395.1 600.5h0M410.7 533.5h0M389.3 484.5h0M406.8 537.5h0M393.6 470.5h0M394.6 536.4h0M406.2 604.7h0M388.9 602.1h0M406.5 470.1h0M407.1 602.4h0M408.3 596.3h0M389.1 544.7h0M387.1 513.7h0M409.9 605.0h0M402.6 595.2h0M409.0 605.8h0M411.6 507.2h0M403.3 596.3h0M409.7 605.4h0M393.7 598.8h0M411.5 554.9h0M401.5 601.0h0M400.4 512.9h0M410.9 487.9h0M403.7 604.5h0M402.1 594.3h0M407.7 469.9h0M403.9 582.5h0M410.9 583.5h0M409.3 572.2h0M378.2 585.5h0M405.3 603.8h0M407.1 576.3h0M402.5 605.1h0M408.4 603.6h0M409.4 594.4h0M397.3 500.8h0M404.6 470.6h0M408.7 594.9h0M382.5 470.3h0M407.7 602.7h0M407.0 567.5h0M377.5 596.8h0M403.6 600.2h0M401.6 481.1h0M389.3 587.9h0M404.5 484.0h0M397.6 470.4h0M407.7 594.4h0M394.8 602.6h0M410.2 601.4h0M409.7 602.0h0M385.9 564.5h0M401.3 585.4h0M409.2 481.4h0M410.6 573.0h0M399.6 602.6h0M384.1 569.2h0M406.8 554.6h0M394.4 603.7h0M394.6 587.7h0M406.6 598.1h0M406.4 596.8h0M407.6 580.2h0M391.2 602.6h0M405.6 509.9h0M380.7 592.1h0M402.8 586.8h0M407.5 593.4h0M404.4 531.1h0M409.9 578.2h0M403.6 494.8h0M376.6 594.4h0M402.8 479.9h0M395.0 470.2h0M398.9 507.2h0M400.2 518.0h0M410.3 587.4h0M409.3 603.4h0M407.5 522.9h0M409.1 498.9h0M411.5 528.4h0M405.6 537.2h0M406.2 603.6h0M393.8 470.5h0M405.6 549.8h0M404.4 546.9h0M410.6 601.1h0M392.0 595.9h0M406.2 537.0h0M411.2 584.4h0M410.8 503.5h0M406.4 595.2h0M411.1 599.5h0M409.6 556.7h0M410.6 561.6h0M408.1 603.3h0M411.7 580.5h0M399.3 522.2h0M404.7 542.5h0M398.3 551.5h0M402.1 470.4h0M409.0 491.8h0M403.5 603.4h0M388.1 470.7h0M410.4 572.6h0M410.7 578.9h0M407.2 599.9h0M403.6 580.3h0M399.3 470.2h0M407.0 586.2h0M410.4 470.4h0M411.5 575.2h0M397.0 575.9h0M389.1 589.7h0M410.2 557.6h0M399.2 505.6h0M400.0 470.4h0M411.7 596.6h0M408.6 556.4h0M408.0 562.6h0M404.4 492.7h0M411.2 593.4h0M410.6 581.2h0M398.0 587.8h0M402.2 533.5h0M410.9 582.9h0M396.4 470.8h0M391.7 596.6h0M399.1 589.5h0M404.6 470.5h0M407.8 581.2h0M381.6 598.7h0M410.1 581.5h0M403.2 598.9h0M406.7 603.3h0M395.6 595.3h0M403.7 481.0h0M388.2 517.9h0M392.3 602.2h0M409.8 548.4h0M396.7 603.9h0M409.1 552.3h0M411.3 594.1h0M388.6 602.1h0M392.7 603.1h0M404.1 603.2h0M409.8 564.1h0M410.5 601.9h0M410.1 591.6h0M405.3 589.9h0M409.3 604.8h0M402.4 595.7h0M407.9 523.9h0M402.1 569.3h0M396.9 490.4h0M395.5 556.5h0M404.5 470.3h0M405.2 593.4h0M411.8 596.1h0M403.8 505.5h0M389.2 597.6h0M407.7 535.3h0M397.2 500.9h0M410.8 587.1h0M404.4 603.5h0M390.7 597.1h0M408.4 567.8h0M410.9 595.3h0M403.2 535.5h0M406.2 601.4h0M384.4 599.3h0M396.2 591.5h0M410.6 530.5h0M407.4 585.3h0M407.3 470.2h0M407.1 540.8h0M409.3 555.8h0M389.6 568.3h0M407.4 595.9h0M402.9 568.5h0M402.5 603.7h0M392.2 603.2h0M410.7 561.6h0M404.6 482.6h0M407.2 595.1h0M406.9 507.3h0M385.5 595.7h0M410.1 528.2h0M407.1 603.6h0M404.4 605.3h0M411.5 571.3h0M407.2 604.7h0M407.8 531.0h0M409.8 470.3h0M399.1 604.0h0M407.2 530.8h0M409.1 604.3h0M409.9 500.4h0M405.0 576.7h0M386.6 529.4h0M406.8 602.2h0M410.6 599.7h0M393.4 585.0h0M386.5 584.5h0M393.8 487.4h0M406.4 560.3h0M401.0 494.9h0M408.5 593.2h0M392.7 509.2h0M404.3 605.6h0M376.0 596.5h0M389.8 470.4h0M403.5 554.1h0M382.9 597.7h0M409.2 598.7h0M408.6 571.2h0M387.2 601.2h0M397.5 589.5h0M390.1 470.2h0M410.0 497.1h0M386.1 525.6h0M394.1 603.0h0M402.7 531.4h0M407.1 605.6h0M408.8 511.2h0M403.9 592.3h0M385.9 588.6h0M397.1 586.4h0M405.1 600.0h0M401.6 561.3h0M407.0 599.8h0M410.9 566.8h0M406.8 601.0h0M387.6 512.9h0M411.2 595.1h0M392.0 587.7h0M405.1 470.2h0M388.0 549.2h0M392.3 597.5h0M405.8 514.2h0M394.2 593.8h0M409.1 604.3h0M410.0 602.4h0M398.7 587.9h0M411.4 576.8h0M405.4 480.2h0M403.0 500.4h0M411.0 590.3h0M410.4 574.8h0M409.2 604.2h0M393.5 602.1h0M406.3 601.5h0M407.0 470.5h0M381.1 555.0h0M409.8 601.4h0M400.3 470.1h0M400.8 598.9h0M403.0 538.6h0M386.0 566.3h0M402.6 600.6h0M410.9 574.9h0M407.3 599.4h0M409.5 593.9h0M408.8 602.5h0M407.1 603.4h0M411.1 577.1h0M411.0 502.1h0M396.8 603.8h0M409.5 584.8h0M409.7 604.6h0M410.9 519.8h0M395.1 603.9h0M411.5 492.5h0M405.6 551.5h0M408.3 591.9h0M399.5 551.3h0M406.9 549.9h0M390.1 508.4h0M411.8 585.2h0M393.9 470.4h0M396.6 526.0h0M408.5 601.7h0M409.1 585.7h0M401.4 533.5h0M409.6 605.9h0M411.5 517.6h0M398.3 481.9h0M385.4 470.2h0M395.7 597.8h0M406.9 470.2h0M410.2 596.7h0M410.8 598.2h0M411.4 603.1h0M411.1 584.7h0M405.0 483.4h0M410.1 587.8h0M385.4 600.9h0M397.8 600.9h0M377.5 575.1h0M410.5 470.4h0M410.9 562.4h0M411.5 595.4h0M377.7 597.5h0M407.6 588.9h0M405.6 555.9h0M409.9 573.5h0M403.1 577.2h0M403.2 593.2h0M409.2 585.0h0M392.1 588.5h0M395.4 594.6h0M376.9 597.1h0M377.1 597.3h0M411.2 585.6h0M411.7 543.9h0M402.6 593.9h0M405.9 470.6h0M409.7 601.9h0M378.3 597.7h0M408.2 566.0h0M409.7 602.9h0M410.0 545.3h0M395.4 586.0h0M383.6 522.5h0M409.3 588.5h0M410.7 596.8h0M407.9 574.1h0M401.6 574.7h0M406.4 595.4h0M380.5 578.2h0M411.7 592.1h0M391.9 601.9h0M396.0 470.3h0M407.3 577.9h0M407.3 605.4h0M407.4 591.8h0M393.3 531.4h0M409.4 575.0h0M398.6 603.2h0M410.0 496.9h0M402.7 595.2h0M406.5 584.4h0M407.6 573.2h0M397.5 579.6h0M408.8 590.8h0M373.1 595.1h0M398.9 552.2h0M408.3 603.5h0M399.0 502.2h0M400.5 602.9h0M405.7 597.5h0M411.4 566.0h0M395.5 592.7h0M404.7 591.6h0M398.9 604.7h0M404.9 582.8h0M410.2 601.5h0M411.6 502.8h0M411.4 585.2h0M405.3 560.8h0M401.2 477.7h0M406.7 552.8h0M399.5 470.5h0M410.7 576.4h0M383.5 597.1h0M398.6 567.1h0M407.9 598.7h0M410.7 601.7h0M403.4 602.5h0M374.3 594.0h0M384.4 528.9h0M410.2 593.7h0M400.5 592.7h0M381.8 580.9h0M408.4 494.2h0M374.8 595.3h0M375.2 593.8h0M406.3 554.5h0M407.3 564.0h0M405.6 601.7h0M409.2 572.2h0M393.9 470.2h0M408.5 508.7h0M406.7 575.6h0M397.8 593.6h0M408.2 599.4h0M394.7 603.7h0M387.0 530.4h0M410.2 584.4h0M410.4 602.9h0M407.9 580.6h0M405.4 601.4h0M394.9 578.3h0M405.2 599.6h0M401.8 470.4h0M398.6 597.5h0M411.6 550.6h0M408.4 539.6h0M403.0 533.7h0M388.2 573.4h0M395.2 604.0h0M410.8 598.2h0M409.7 530.5h0M396.6 582.3h0M410.6 594.0h0M374.2 588.5h0M411.0 534.2h0M400.4 603.1h0M407.6 597.7h0M395.3 518.0h0M389.9 502.3h0M390.8 498.5h0M407.3 595.1h0M410.3 589.6h0M392.7 597.0h0M411.6 470.1h0M409.1 601.1h0M403.1 582.0h0M408.7 520.9h0M402.5 579.3h0M409.1 603.7h0M401.4 601.9h0M409.1 599.7h0M408.3 598.1h0M408.2 598.1h0M410.3 525.8h0M409.5 483.1h0M401.6 505.0h0M406.2 521.1h0M388.5 592.3h0M411.8 563.2h0M405.8 581.9h0M409.6 532.7h0M388.0 549.5h0M403.7 503.2h0M398.8 490.0h0M410.0 563.5h0M409.5 529.2h0M399.0 604.7h0M400.6 536.8h0M411.1 603.0h0M379.4 550.3h0M405.8 518.5h0M401.7 592.7h0M409.6 601.3h0M411.5 562.9h0M405.1 494.9h0M404.3 498.9h0M411.6 470.2h0M407.2 475.1h0M384.2 470.3h0M410.1 569.0h0M382.1 599.1h0M408.0 605.4h0M399.0 587.2h0M403.4 592.4h0M409.2 603.3h0M405.1 488.8h0M383.3 592.0h0M409.1 593.1h0M409.7 517.9h0M407.6 580.5h0M406.2 603.5h0M395.5 603.8h0M393.2 470.1h0M411.4 588.9h0M409.1 591.9h0M407.0 470.4h0M403.7 575.7h0M409.2 602.7h0M411.0 499.2h0M394.1 470.5h0M404.9 580.5h0M409.9 595.5h0M385.9 470.7h0M389.0 470.2h0M406.8 577.3h0M403.8 498.1h0M388.8 484.0h0M402.4 500.4h0M402.6 603.9h0M376.9 597.1h0M408.1 599.3h0M388.9 552.1h0M369.9 593.2h0M383.1 580.1h0M411.7 603.3h0M388.9 470.4h0M406.1 470.2h0M410.6 600.9h0M406.3 556.8h0M410.5 598.9h0M406.1 586.4h0M411.5 548.6h0M407.6 489.4h0M382.8 599.6h0M409.7 535.9h0M404.3 600.3h0M380.0 593.3h0M405.1 596.3h0M406.2 602.9h0M411.1 605.5h0M410.1 470.1h0M403.1 470.2h0M411.2 539.7h0M408.2 521.9h0M406.3 539.2h0M389.6 601.9h0M406.4 600.0h0M409.8 601.0h0M396.9 596.0h0M405.2 563.6h0M405.0 530.1h0M396.2 513.0h0M409.5 600.8h0M410.7 566.3h0M411.0 605.8h0M396.3 577.3h0M407.0 590.4h0M399.2 585.7h0M402.3 498.4h0M406.6 594.3h0M387.3 597.4h0M408.8 588.9h0M411.7 594.8h0M405.4 514.7h0M404.9 597.2h0M411.7 485.8h0M407.6 598.1h0M394.3 599.8h0M409.4 597.6h0M411.4 605.0h0M403.8 602.8h0M409.9 599.1h0M410.8 603.4h0M381.6 582.0h0M389.3 582.4h0M400.4 560.4h0M402.1 600.5h0M407.5 579.7h0M406.4 604.2h0M396.4 476.7h0M410.1 586.3h0M389.0 518.1h0M400.3 490.7h0M404.7 587.3h0M402.2 601.4h0M410.8 598.2h0M411.6 472.7h0M411.2 539.6h0M406.4 561.4h0M411.0 582.3h0M399.8 595.9h0M410.4 600.3h0M390.2 589.0h0M410.4 602.7h0M400.7 488.0h0M410.8 593.7h0M404.4 601.6h0M380.5 552.1h0M374.3 595.7h0M400.5 475.3h0M407.3 604.9h0M398.1 561.6h0M403.0 602.9h0M410.3 545.6h0M394.5 597.9h0M396.5 586.8h0M406.3 605.7h0M409.7 572.4h0M407.4 590.6h0M392.0 603.1h0M405.3 489.0h0M410.8 592.5h0M411.5 599.4h0M386.1 601.0h0M402.8 566.8h0M409.6 571.8h0M411.0 588.6h0M409.1 485.3h0M394.3 587.0h0M408.9 596.3h0M409.1 572.7h0M407.9 579.1h0M376.3 596.7h0M402.9 524.8h0M410.5 593.4h0M410.3 522.3h0M397.4 476.0h0M409.9 604.2h0M408.2 528.9h0M411.2 543.4h0M410.9 544.4h0M391.0 554.7h0M398.5 596.9h0M411.3 603.8h0M403.0 545.4h0M406.5 538.6h0M411.6 588.6h0M410.6 589.9h0M383.4 576.8h0M405.4 604.0h0M392.3 578.7h0M409.5 523.6h0M406.6 584.1h0M392.1 587.0h0M407.6 530.1h0M409.5 575.4h0M410.6 593.0h0M375.8 584.7h0M393.3 588.0h0M410.9 593.1h0M410.6 584.9h0M404.2 530.9h0M409.2 474.2h0M409.7 490.5h0M411.2 566.2h0M397.8 591.0h0M411.0 579.3h0M409.5 592.8h0M410.3 599.7h0M403.4 470.4h0M408.4 506.1h0M390.8 595.8h0M409.4 596.4h0M398.9 603.4h0M408.8 601.6h0M406.2 503.1h0M411.1 594.3h0M409.8 605.3h0M407.4 480.3h0M410.2 516.3h0M407.0 584.6h0M404.2 470.2h0M385.1 470.4h0M411.0 486.4h0M410.7 598.3h0M405.2 595.3h0M390.6 600.8h0M410.9 534.2h0M406.4 554.7h0M407.9 541.4h0M409.3 564.6h0M411.8 600.1h0M410.7 602.9h0M398.3 589.4h0M411.3 588.2h0M411.8 589.1h0M403.2 552.6h0M390.9 553.2h0M402.1 508.4h0M392.1 583.3h0M411.7 594.3h0M409.1 590.1h0M409.0 604.8h0M411.5 595.5h0M406.7 470.4h0M411.4 569.2h0M409.5 577.7h0M404.3 602.3h0M405.0 507.7h0M411.6 582.9h0M401.6 593.4h0M407.6 550.1h0M407.2 598.8h0M406.9 551.9h0M394.1 504.6h0M402.8 594.3h0M386.6 601.4h0M406.3 598.1h0M410.2 552.3h0M410.4 585.7h0M405.6 497.8h0M372.2 594.7h0M410.6 591.4h0M411.0 548.1h0M389.2 597.7h0M407.6 590.6h0M409.3 557.1h0M409.1 511.4h0M406.9 470.4h0M386.9 600.2h0M392.0 600.4h0M404.1 604.6h0M411.1 601.8h0M410.5 489.5h0M408.1 555.0h0M391.6 524.1h0M411.8 525.0h0M406.4 476.7h0M388.0 601.2h0M407.1 470.3h0M402.2 590.8h0M397.4 604.2h0M409.5 590.4h0M394.5 470.4h0M409.3 563.9h0M409.2 470.1h0M410.6 603.3h0M385.4 592.5h0M409.8 532.3h0M404.3 604.3h0M387.0 470.2h0M408.0 502.8h0M404.1 601.1h0M410.2 547.7h0M408.0 587.6h0M404.9 586.4h0M411.3 576.7h0M406.1 593.6h0M402.0 498.7h0M400.9 603.3h0M389.3 593.7h0M407.8 510.6h0M408.8 575.0h0M406.4 601.4h0M405.6 599.3h0M391.6 550.1h0M392.8 580.8h0M398.8 597.2h0M386.5 599.8h0M408.6 558.1h0M398.5 601.1h0M398.2 470.4h0M408.9 600.6h0M382.3 575.3h0M408.7 567.8h0M411.7 594.2h0M409.2 601.5h0M410.8 498.3h0M401.5 516.7h0M406.1 564.1h0M390.8 504.9h0M410.4 602.7h0M402.5 504.9h0M402.8 577.0h0M400.5 604.0h0M410.4 588.6h0M411.5 588.0h0M407.8 507.0h0M406.1 470.2h0M409.4 533.7h0M410.1 470.1h0M407.7 584.9h0M411.3 582.8h0M400.3 597.3h0M410.9 566.6h0M404.6 524.1h0M409.9 496.5h0M395.9 579.3h0M389.9 470.2h0M408.2 565.7h0M410.7 512.4h0M410.3 570.2h0M407.7 582.5h0M384.5 528.1h0M411.7 597.5h0M400.1 486.6h0M384.2 544.6h0M392.5 470.3h0M388.0 592.3h0M398.7 552.0h0M386.6 581.6h0M409.7 600.8h0M411.4 568.9h0M407.0 578.1h0M410.8 604.5h0M394.2 480.3h0M403.1 602.7h0M392.0 597.6h0M407.8 582.5h0M393.0 580.5h0M410.4 579.4h0M407.2 569.7h0M398.9 599.7h0M399.1 585.7h0M406.9 599.6h0M404.5 535.5h0M400.2 604.9h0M409.3 563.7h0M397.0 558.3h0M410.5 554.1h0M409.8 493.9h0M411.2 481.5h0M395.5 555.6h0M402.8 560.6h0M405.3 598.3h0M390.0 594.1h0M403.6 511.5h0M411.5 580.9h0M405.9 470.0h0M411.3 596.9h0M407.2 492.1h0M411.3 520.1h0M408.7 595.4h0M411.5 595.3h0M402.2 599.0h0M408.2 583.3h0M410.0 569.1h0M391.4 601.7h0M410.2 604.5h0M411.7 525.5h0M408.7 602.8h0M410.2 595.3h0M409.6 537.1h0M404.0 470.2h0M410.7 470.3h0M411.8 580.8h0M406.2 470.6h0M410.1 590.5h0M410.1 599.3h0M411.7 599.4h0M406.4 564.7h0M404.3 605.4h0M411.4 575.3h0M384.5 559.5h0M406.1 567.2h0M410.4 596.2h0M411.8 470.0h0M402.2 483.2h0M411.6 599.2h0M379.6 569.7h0M387.4 540.4h0M408.6 605.5h0M395.6 562.5h0M408.9 603.0h0M405.7 596.9h0M396.4 586.6h0M408.8 539.1h0M410.7 604.8h0M408.6 470.4h0M410.7 591.0h0M408.1 594.8h0M410.2 496.7h0M379.7 553.6h0M409.4 590.4h0M406.3 581.8h0M407.2 503.1h0M403.4 568.1h0M370.3 593.1h0M401.6 514.2h0M383.1 470.3h0M407.3 587.8h0M408.7 605.3h0M400.4 503.9h0M404.6 504.2h0M387.2 524.6h0M410.4 604.0h0M408.7 582.3h0M408.6 597.6h0M411.3 605.6h0M408.6 494.1h0M409.9 586.8h0M388.1 470.2h0M410.5 572.7h0M410.0 519.3h0M409.1 602.0h0M403.3 564.9h0M409.1 604.4h0M409.5 520.7h0M406.4 531.9h0M411.6 568.2h0M407.7 602.9h0M390.5 570.9h0M403.4 470.0h0M411.5 602.9h0M411.7 585.4h0M406.7 589.3h0M406.3 590.7h0M403.4 599.4h0M410.9 605.2h0M407.2 495.0h0M410.4 605.0h0M411.0 582.8h0M410.7 601.7h0M406.0 605.1h0M399.5 601.2h0M409.4 571.8h0M406.3 601.0h0M408.2 591.3h0M407.4 604.6h0M397.5 599.9h0M404.1 583.5h0M411.5 591.1h0M409.8 588.3h0M407.3 574.9h0M402.7 574.1h0M404.6 487.2h0M402.5 565.7h0M393.8 592.6h0M397.7 470.4h0M408.1 546.8h0M395.3 597.5h0M409.2 604.9h0M408.6 564.0h0M411.5 604.5h0M411.7 606.0h0M411.5 586.3h0M407.1 605.0h0M406.0 602.0h0M386.3 601.0h0M409.9 599.4h0M400.2 597.4h0M402.7 589.9h0M403.3 589.7h0M399.0 470.4h0M398.9 595.0h0M411.4 555.5h0M393.6 470.4h0M402.8 599.4h0M404.1 582.3h0M398.1 589.4h0M410.4 605.7h0M403.0 595.4h0M405.0 522.6h0M404.8 537.9h0M410.2 592.4h0M410.2 502.3h0M405.9 605.6h0M405.2 580.4h0M406.4 588.9h0M410.4 579.7h0M408.6 597.7h0M387.3 470.2h0M402.1 588.1h0M399.2 564.8h0M368.7 592.6h0M410.7 570.2h0M404.5 569.2h0M410.7 576.7h0M409.4 483.4h0M406.0 605.1h0M410.3 580.7h0M408.0 550.1h0M411.2 599.6h0M407.3 587.8h0M398.1 479.7h0M402.5 601.6h0M403.7 593.1h0M401.9 605.2h0M408.8 603.5h0M410.8 596.1h0M400.8 574.5h0M410.6 479.4h0M411.8 582.5h0M408.7 582.4h0M398.9 604.6h0M403.1 600.8h0M410.9 604.1h0M411.5 538.1h0M408.4 590.7h0M384.7 600.7h0M394.8 572.8h0M407.4 549.1h0M380.1 597.8h0M400.3 516.8h0M390.3 490.7h0M405.7 579.0h0M410.1 581.9h0M406.3 567.2h0M395.8 564.0h0M410.3 601.3h0M383.3 559.0h0M401.7 602.9h0M403.3 541.1h0M387.0 525.1h0M384.4 514.4h0M378.7 597.1h0M386.9 600.9h0M385.4 600.3h0M411.2 494.2h0M400.3 598.9h0M409.0 509.4h0M410.0 549.9h0M396.5 602.7h0M376.1 563.4h0M406.2 604.6h0M409.9 591.4h0M408.4 605.8h0M406.9 603.1h0M402.4 593.1h0M381.6 592.0h0M408.3 604.1h0M388.2 599.4h0M405.0 554.0h0M411.6 567.6h0M406.3 483.0h0M390.7 587.1h0M404.2 541.2h0M410.2 535.9h0M390.3 593.5h0M403.8 604.4h0M403.6 536.9h0M403.2 578.0h0M409.0 519.8h0" stroke="#4a84bd" stroke-width="1.25" stroke-linecap="round" fill="none"/>
<path d="M436.5 591.1h0M427.8 605.6h0M439.8 596.0h0M428.1 514.5h0M433.3 479.0h0M431.5 585.6h0M434.4 600.5h0M436.7 515.7h0M435.8 591.8h0M437.4 603.8h0M428.4 574.3h0M437.6 605.1h0M433.7 605.1h0M430.8 603.3h0M428.0 526.1h0M429.5 588.6h0M458.6 598.8h0M430.7 600.3h0M438.5 470.6h0M428.7 586.5h0M442.0 470.4h0M430.0 507.5h0M432.5 550.9h0M432.3 560.1h0M437.4 470.3h0M433.5 558.4h0M446.4 595.2h0M433.1 587.5h0M427.7 598.9h0M428.3 511.7h0M444.9 603.3h0M427.9 597.0h0M428.0 597.1h0M430.8 589.4h0M427.8 602.7h0M433.1 584.0h0M428.0 587.8h0M430.8 600.2h0M435.4 491.7h0M428.2 597.4h0M433.9 585.8h0M435.0 591.2h0M433.9 563.2h0M448.9 470.6h0M445.4 593.4h0M433.0 603.8h0M432.9 600.1h0M460.5 585.1h0M433.6 539.9h0M440.7 509.5h0M430.6 604.2h0M434.8 603.9h0M429.7 601.6h0M428.8 517.3h0M430.4 603.7h0M429.0 605.3h0M430.4 600.9h0M431.7 514.7h0M428.2 597.3h0M438.7 604.9h0M448.9 597.3h0M428.9 478.0h0M439.9 595.8h0M430.5 585.9h0M448.2 543.2h0M458.5 582.0h0M430.1 537.4h0M429.4 528.8h0M431.9 567.8h0M433.5 579.6h0M436.4 582.3h0M429.2 601.8h0M428.7 479.6h0M441.8 564.5h0M440.8 603.8h0M430.8 509.1h0M428.7 605.8h0M432.6 575.5h0M437.4 593.6h0M441.0 584.8h0M432.5 511.3h0M437.7 470.7h0M427.9 563.5h0M429.2 605.6h0M432.3 470.0h0M428.5 552.1h0M429.6 597.7h0M431.1 530.5h0M432.0 597.8h0M431.3 604.5h0M433.6 534.5h0M428.4 590.4h0M447.7 493.0h0M428.8 597.6h0M431.4 597.5h0M445.1 603.2h0M437.2 591.3h0M434.6 598.7h0M432.9 599.8h0M457.6 599.3h0M428.4 604.0h0M429.6 592.5h0M433.5 595.4h0M428.4 565.7h0M437.2 578.4h0M436.1 548.7h0M436.6 541.2h0M430.8 525.7h0M433.1 596.9h0M446.7 575.7h0M431.1 589.7h0M433.3 579.9h0M440.0 491.1h0M428.9 479.8h0M441.4 602.9h0M431.7 594.5h0M428.6 475.3h0M428.6 595.1h0M429.3 495.4h0M430.3 573.0h0M429.7 472.8h0M429.7 537.2h0M430.8 595.8h0M428.6 595.3h0M440.9 470.5h0M435.9 593.5h0M432.9 604.0h0M428.2 494.4h0M433.3 484.5h0M432.6 602.6h0M439.9 562.9h0M431.8 600.8h0M436.2 595.0h0M436.7 470.6h0M435.9 470.2h0M434.2 603.1h0M432.4 497.4h0M429.0 536.8h0M427.9 480.6h0M438.4 488.7h0M428.3 601.2h0M428.0 557.5h0M429.6 500.4h0M437.2 470.8h0M436.6 470.7h0M431.7 474.5h0M428.2 598.2h0M429.1 470.4h0M429.0 547.5h0M431.6 470.2h0M432.3 567.3h0M431.5 531.9h0M430.9 515.7h0M429.9 546.2h0M439.0 595.8h0M428.9 536.8h0M429.6 531.1h0M442.4 482.3h0M431.0 597.0h0M428.9 597.9h0M436.3 603.7h0M427.7 569.0h0M429.4 526.0h0M428.9 595.5h0M427.8 605.0h0M436.5 557.9h0M444.1 544.6h0M433.2 574.5h0M431.4 554.7h0M436.1 592.3h0M431.5 573.1h0M436.8 559.9h0M428.3 592.5h0M438.9 570.5h0M429.0 598.1h0M428.9 473.6h0M433.9 593.4h0M427.7 526.5h0M429.6 589.6h0M438.8 589.3h0M429.2 594.2h0M438.4 503.9h0M431.2 546.7h0M430.9 588.1h0M436.8 605.4h0M434.4 548.8h0M431.5 587.2h0M430.4 503.3h0M430.2 605.3h0M432.4 593.3h0M427.7 605.3h0M427.9 478.9h0M437.7 542.8h0M442.0 470.5h0M430.4 525.9h0M429.5 601.0h0M433.8 584.6h0M428.5 598.7h0M428.2 596.1h0M430.6 602.8h0M434.3 604.9h0M435.3 605.5h0M440.0 580.6h0M427.9 591.8h0M427.7 477.6h0M427.8 595.0h0M436.6 596.8h0M430.3 604.7h0M429.9 600.2h0M431.8 602.0h0M434.5 602.1h0M432.6 478.9h0M441.2 481.9h0M428.6 528.2h0M429.4 562.2h0M438.4 564.0h0M430.1 605.6h0M432.7 601.6h0M431.0 581.9h0M428.5 604.2h0M433.8 599.6h0M429.9 517.5h0M436.9 545.9h0M439.8 512.0h0M428.1 470.5h0M441.9 470.4h0M428.2 562.0h0M435.4 470.3h0M428.8 490.6h0M429.4 605.1h0M441.1 581.8h0M439.2 604.7h0M429.0 599.6h0M449.6 574.7h0M443.0 574.3h0M431.1 599.4h0M429.7 603.8h0M431.1 573.1h0M433.7 589.2h0M433.7 530.4h0M436.1 469.9h0M434.1 527.3h0M427.7 594.8h0M427.6 507.1h0M444.4 470.2h0M431.1 573.4h0M427.6 605.5h0M427.7 565.8h0M431.8 602.7h0M429.7 577.6h0M445.4 602.1h0M429.9 572.7h0M446.9 470.5h0M430.5 593.7h0M428.0 604.6h0M428.7 597.5h0M429.8 595.1h0M435.3 584.9h0M432.0 595.1h0M437.3 600.5h0M428.7 595.1h0M429.5 548.1h0M434.8 594.8h0M430.0 598.3h0M429.3 559.3h0M428.3 598.6h0M428.0 596.0h0M434.1 478.1h0M437.2 604.2h0M441.6 470.6h0M433.5 605.5h0M432.5 595.1h0M427.8 585.3h0M429.2 489.6h0M429.3 580.5h0M432.6 605.0h0M443.3 470.1h0M436.7 512.9h0M427.9 485.4h0M433.1 602.8h0M433.0 540.7h0M436.9 527.8h0M451.5 573.1h0M428.2 568.4h0M430.9 599.4h0M429.8 575.9h0M433.7 595.8h0M431.5 483.8h0M431.8 504.8h0M428.1 495.8h0M429.8 584.9h0M430.6 604.6h0M429.5 588.8h0M428.0 604.2h0M427.7 536.6h0M427.9 562.3h0M442.9 470.3h0M428.3 599.1h0M429.9 605.7h0M429.7 605.9h0M434.7 510.4h0M434.4 599.3h0M438.7 587.3h0M443.5 476.5h0M427.9 601.3h0M428.6 588.7h0M434.8 470.6h0M429.9 505.4h0M430.2 579.7h0M451.8 600.9h0M428.5 580.5h0M429.6 601.7h0M441.6 604.2h0M448.8 596.2h0M430.4 601.5h0M430.6 497.2h0M460.0 584.3h0M429.0 539.8h0M429.1 603.6h0M428.7 605.0h0M430.0 596.7h0M435.8 470.4h0M427.7 584.3h0M444.3 603.4h0M436.2 586.1h0M430.9 535.7h0M434.7 581.4h0M427.9 600.9h0M430.7 586.1h0M429.7 470.6h0M429.2 604.7h0M441.6 600.5h0M439.4 601.6h0M444.7 603.8h0M435.4 596.8h0M440.4 600.7h0M428.9 572.2h0M429.1 503.6h0M432.4 602.0h0M432.5 478.7h0M435.8 579.5h0M431.2 514.8h0M440.0 598.7h0M430.9 583.2h0M439.8 470.5h0M438.0 578.6h0M429.7 470.2h0M429.6 598.6h0M429.1 587.4h0M427.7 580.7h0M431.7 561.1h0M428.7 600.3h0M430.3 585.7h0M428.3 568.2h0M430.1 584.6h0M435.1 470.3h0M445.7 555.9h0M430.9 470.2h0M430.2 603.7h0M432.0 592.8h0M439.2 543.3h0M428.6 590.2h0M433.4 487.0h0M440.9 598.2h0M431.2 576.7h0M431.6 588.0h0M427.9 485.1h0M433.4 577.9h0M430.5 588.6h0M429.3 601.7h0M431.0 605.1h0M435.4 541.9h0M428.8 569.3h0M429.7 585.1h0M428.7 551.7h0M429.9 591.0h0M430.3 603.4h0M431.4 470.3h0M431.4 585.5h0M427.8 584.3h0M438.4 594.9h0M436.2 516.4h0M429.9 557.4h0M429.9 595.9h0M431.0 605.4h0M432.3 470.1h0M435.8 575.7h0M430.3 575.3h0M429.8 577.4h0M437.3 522.0h0M457.7 590.6h0M434.8 500.0h0M432.9 601.2h0M430.4 589.0h0M437.7 604.8h0M430.5 585.1h0M430.3 512.7h0M428.4 561.5h0M428.9 490.1h0M430.6 584.0h0M434.1 470.1h0M453.0 549.7h0M430.1 584.6h0M429.8 594.1h0M431.5 588.0h0M429.9 510.2h0M432.5 470.4h0M432.5 537.1h0M431.5 557.6h0M427.9 591.7h0M429.1 570.3h0M427.7 605.6h0M427.9 555.1h0M439.9 589.4h0M428.4 603.7h0M427.8 562.3h0M445.1 482.4h0M429.1 604.3h0M436.0 494.1h0M438.3 600.1h0M435.0 580.8h0M432.3 604.4h0M430.1 601.8h0M431.3 601.8h0M439.5 474.4h0M427.9 600.0h0M427.6 518.2h0M428.1 591.0h0M429.4 597.1h0M433.2 489.5h0M438.3 604.5h0M428.9 605.2h0M433.9 470.5h0M433.5 470.3h0M442.9 591.6h0M440.7 470.2h0M428.1 602.8h0M430.3 600.0h0M442.3 601.6h0M427.8 470.3h0M441.7 470.3h0M432.0 591.4h0M431.8 537.2h0M429.3 594.9h0M428.2 601.7h0M444.8 601.8h0M430.9 579.5h0M445.4 603.2h0M431.2 600.6h0M429.0 602.7h0M434.8 519.5h0M431.5 599.0h0M445.0 601.0h0M428.9 592.5h0M438.9 597.2h0M435.9 572.9h0M428.3 515.6h0M427.8 596.0h0M433.6 591.9h0M428.7 544.7h0M431.7 592.0h0M432.8 572.2h0M432.1 604.7h0M427.9 602.6h0M432.0 470.5h0M432.7 592.9h0M439.7 561.4h0M429.3 578.3h0M433.0 595.2h0M429.4 519.2h0M433.2 605.6h0M437.9 470.5h0M432.8 557.5h0M432.3 511.9h0M429.5 581.6h0M434.5 548.9h0M430.0 470.1h0M431.2 521.4h0M429.8 576.4h0M435.9 573.0h0M427.7 483.5h0M430.6 470.7h0M430.0 504.7h0M438.1 484.2h0M431.3 593.3h0M431.9 533.1h0M443.2 601.8h0M431.5 571.2h0M443.2 473.4h0M435.2 476.7h0M433.2 594.9h0M429.1 592.0h0M444.6 601.2h0M431.0 563.9h0M428.3 602.5h0M432.0 490.7h0M449.6 602.0h0M429.2 552.7h0M435.3 597.3h0M427.6 593.3h0M428.9 501.9h0M427.9 491.3h0M428.5 596.9h0M441.9 601.8h0M436.4 596.5h0M431.5 533.6h0M431.5 605.8h0M432.1 585.4h0M428.3 603.6h0M433.1 585.1h0M439.3 486.3h0M451.7 601.5h0M428.9 586.4h0M428.3 588.5h0M427.6 600.1h0M429.1 597.2h0M439.7 590.4h0M431.0 570.8h0M429.4 497.2h0M445.5 552.0h0M428.9 490.1h0M429.0 587.1h0M434.7 602.7h0M440.2 600.9h0M429.1 544.3h0M434.4 493.2h0M431.2 575.5h0M427.7 517.1h0M433.0 605.1h0M437.7 542.7h0M461.9 597.3h0M428.5 595.8h0M435.6 583.5h0M431.5 602.4h0M432.7 542.4h0M438.3 470.4h0M443.6 470.7h0M441.4 513.2h0M429.6 597.5h0M435.7 584.2h0M429.9 474.8h0M434.1 602.8h0M431.1 579.5h0M432.0 470.4h0M448.8 558.4h0M438.0 598.9h0M430.2 532.4h0M428.3 600.6h0M439.7 512.8h0M434.4 600.8h0M430.0 602.5h0M459.1 598.5h0M433.0 596.8h0M434.9 510.0h0M430.8 470.4h0M431.3 538.8h0M428.5 573.4h0M432.7 593.6h0M447.7 563.0h0M427.8 564.4h0M437.1 591.8h0M428.7 474.7h0M436.7 556.1h0M430.4 584.4h0M429.5 587.4h0M428.0 575.3h0M437.7 600.8h0M430.7 474.9h0M430.8 605.5h0M431.9 596.7h0M452.0 517.0h0M433.7 578.1h0M433.1 602.5h0M441.3 512.5h0M431.0 507.9h0M431.6 574.2h0M430.6 596.9h0M433.2 555.6h0M436.8 576.1h0M427.7 601.5h0M454.1 568.3h0M429.0 502.7h0M433.5 600.4h0M431.6 552.5h0M435.9 578.3h0M428.0 544.7h0M427.8 563.5h0M430.6 521.7h0M428.0 576.4h0M429.7 590.3h0M428.5 589.1h0M429.1 584.9h0M430.0 588.5h0M431.1 605.1h0M428.8 596.2h0M435.8 603.7h0M439.7 474.9h0M430.0 585.2h0M437.0 583.3h0M436.1 501.3h0M448.8 470.3h0M433.7 585.2h0M442.8 581.1h0M432.9 505.6h0M435.3 556.7h0M431.5 572.6h0M431.9 528.9h0M428.5 550.5h0M427.7 592.3h0M440.4 601.9h0M456.2 588.6h0M431.5 566.8h0M444.6 583.5h0M438.1 603.6h0M430.2 602.5h0M428.9 518.5h0M432.2 546.6h0M442.0 571.5h0M435.2 598.9h0M428.0 603.2h0M431.3 558.3h0M446.2 470.6h0M430.4 470.5h0M430.9 587.0h0M442.7 480.1h0M428.3 565.0h0M428.3 470.3h0M433.3 580.3h0M445.6 470.3h0M429.0 576.4h0M434.6 601.5h0M428.2 602.6h0M430.2 514.7h0M431.1 601.8h0M428.7 603.8h0M427.7 552.8h0M432.7 482.5h0M438.2 588.7h0M445.9 553.4h0M432.0 605.5h0M435.3 591.1h0M434.1 492.8h0M455.6 599.9h0M431.3 577.4h0M432.2 587.7h0M439.9 470.6h0M430.6 572.7h0M428.3 559.8h0M428.5 559.6h0M448.6 509.8h0M439.9 563.8h0M433.3 595.7h0M428.5 603.7h0M433.0 600.4h0M429.5 603.2h0M431.1 601.7h0M429.6 504.4h0M428.4 531.1h0M428.4 552.8h0M435.6 470.5h0M436.5 598.3h0M430.1 537.8h0M429.7 572.0h0M429.8 512.4h0M431.4 591.3h0M429.2 595.7h0M429.2 526.0h0M438.8 604.1h0M445.5 497.7h0M435.7 550.2h0M428.2 551.3h0M427.9 546.1h0M430.0 603.0h0M429.2 566.1h0M431.4 588.9h0M448.1 482.1h0M435.8 539.8h0M427.9 542.4h0M428.6 582.0h0M429.1 541.9h0M440.1 600.8h0M430.5 588.6h0M431.4 595.6h0M429.7 591.8h0M432.9 470.2h0M431.2 602.2h0M433.7 572.6h0M437.0 605.0h0M431.7 505.4h0M435.8 604.3h0M439.4 477.2h0M432.8 593.1h0M432.0 605.3h0M436.2 512.2h0M432.6 600.7h0M430.4 590.7h0M428.9 544.4h0M429.4 545.1h0M436.9 602.0h0M430.6 601.4h0M429.3 593.0h0M427.8 594.4h0M441.5 600.2h0M430.1 595.6h0M430.1 482.3h0M432.1 590.7h0M446.5 580.7h0M434.5 598.1h0M428.2 596.3h0M438.5 470.8h0M430.3 588.2h0M428.3 578.1h0M429.3 600.3h0M427.7 589.7h0M430.8 596.0h0M429.6 470.2h0M429.3 572.4h0M430.6 585.7h0M428.0 595.6h0M427.7 470.4h0M436.0 470.5h0M435.8 605.4h0M428.7 604.1h0M430.1 532.8h0M435.8 603.2h0M436.8 550.5h0M433.9 594.1h0M428.8 576.5h0M429.7 589.6h0M447.2 521.1h0M435.2 598.9h0M432.9 603.8h0M428.0 482.4h0M438.4 548.9h0M428.2 495.2h0M431.7 529.9h0M431.4 603.1h0M428.0 554.7h0M435.4 599.5h0M437.0 601.9h0M452.3 601.6h0M429.8 491.9h0M429.3 564.3h0M435.3 604.8h0M430.2 595.3h0M429.6 474.9h0M428.7 470.3h0M435.0 598.8h0M428.6 586.4h0M433.8 577.0h0M430.6 599.0h0M429.3 513.5h0M429.3 604.8h0M431.6 592.6h0M431.1 596.5h0M435.1 504.5h0M429.3 583.5h0M430.8 512.1h0M441.5 557.8h0M431.1 581.2h0M430.8 597.8h0M428.1 535.2h0M444.0 603.0h0M449.3 573.5h0M430.7 470.6h0M433.2 586.0h0M427.7 592.8h0M441.0 560.1h0M430.5 604.1h0M444.5 470.5h0M431.4 510.2h0M450.6 593.6h0M428.2 532.9h0M449.2 470.4h0M431.2 517.8h0M431.4 541.6h0M433.6 605.3h0M429.3 587.9h0M440.7 602.6h0M428.4 560.0h0M429.9 494.7h0M427.7 599.5h0M436.1 590.1h0M427.9 605.0h0M436.5 548.9h0M429.7 588.6h0M437.1 599.2h0M434.2 597.6h0M435.0 510.1h0M428.3 492.2h0M432.6 527.7h0M436.1 600.0h0M429.8 589.9h0M429.6 600.6h0M434.5 593.9h0M434.1 604.4h0M428.5 601.1h0M430.1 482.7h0M455.9 590.6h0M432.4 598.9h0M429.1 592.6h0M433.6 587.9h0M427.7 601.5h0M437.1 593.5h0M432.5 599.6h0M428.8 602.7h0M437.4 601.9h0M432.9 599.6h0M428.5 591.0h0M447.8 470.5h0M428.8 494.9h0M445.6 602.5h0M432.5 509.7h0M429.8 602.5h0M429.0 582.2h0M445.5 581.2h0M430.6 602.6h0M429.7 475.0h0M435.6 594.3h0M427.9 563.0h0M427.7 538.9h0M431.1 600.5h0M432.1 537.0h0M429.5 496.1h0M427.8 601.0h0M430.8 598.6h0M434.5 524.5h0M441.2 601.0h0M427.8 592.8h0M429.7 506.6h0M435.1 595.1h0M436.0 470.0h0M442.8 506.8h0M428.6 596.3h0M441.8 470.3h0M428.0 601.2h0M427.9 524.7h0M427.9 600.0h0M434.1 598.3h0M429.8 470.4h0M431.7 563.9h0M430.2 600.7h0M427.6 595.7h0M432.1 598.6h0M431.1 587.8h0M430.1 477.1h0M428.1 558.4h0M435.3 582.9h0M435.9 486.6h0M444.4 587.8h0M428.5 578.9h0M439.8 581.8h0M428.4 604.3h0M441.6 598.9h0M435.2 586.1h0M431.9 557.3h0M438.5 599.6h0M428.8 592.6h0M438.4 595.0h0M429.5 601.9h0M434.4 601.9h0M432.5 487.3h0M434.1 596.0h0M461.2 594.8h0M428.8 559.1h0M431.3 604.1h0M430.1 549.9h0M433.1 604.9h0M429.3 600.9h0M431.2 567.1h0M427.7 547.1h0M429.6 470.4h0M429.9 605.2h0M428.9 583.9h0M433.4 605.4h0M430.5 581.5h0M428.3 602.0h0M431.9 482.0h0M432.0 604.0h0M428.7 589.3h0M433.6 595.7h0M451.8 584.6h0M436.9 470.6h0M433.9 583.0h0M440.8 602.4h0M455.7 596.5h0M429.6 604.5h0M430.2 583.0h0M428.0 516.9h0M430.3 515.5h0M431.9 603.9h0M437.4 470.2h0M432.6 605.0h0M431.4 605.1h0M430.5 561.7h0M428.0 577.6h0M428.9 475.0h0M438.9 598.0h0M431.4 555.8h0M428.5 600.3h0M446.3 598.9h0M431.0 495.5h0M427.7 564.0h0M445.1 582.8h0M427.7 594.9h0M431.7 506.4h0M428.1 602.0h0M434.2 470.3h0M448.6 601.8h0M427.8 561.8h0M429.9 520.7h0M431.0 493.3h0M429.6 597.3h0M428.5 486.8h0M436.5 601.7h0M428.9 489.4h0M442.2 603.5h0M432.1 603.0h0M432.7 538.3h0M428.7 519.4h0M430.9 597.6h0M428.3 546.0h0M435.6 594.1h0M431.2 501.7h0M431.3 603.6h0M429.0 480.4h0M431.6 593.6h0M433.3 481.7h0M441.6 511.7h0M431.8 596.0h0M448.2 576.5h0M435.8 484.2h0M428.0 597.3h0M431.9 599.0h0M437.7 600.2h0M428.9 596.0h0M436.3 585.1h0M438.4 594.7h0M429.4 554.7h0M444.9 499.2h0M429.8 500.7h0M436.0 520.7h0M431.4 592.5h0M457.0 570.5h0M430.1 521.2h0M452.1 589.8h0M432.5 550.1h0M436.2 603.8h0M437.3 595.8h0M431.0 514.8h0M433.5 591.8h0M429.8 522.4h0M430.1 595.4h0M444.4 470.2h0M429.1 603.5h0M431.9 604.0h0M428.2 540.9h0M428.2 603.8h0M446.8 470.3h0M429.7 583.7h0M430.3 604.6h0M432.7 525.3h0M441.2 590.3h0M428.3 571.0h0M440.2 604.4h0M432.6 597.1h0M428.6 604.1h0M434.5 474.7h0M436.2 595.9h0M429.7 599.6h0M453.4 584.7h0M429.8 602.7h0M432.8 575.9h0M431.7 549.2h0M448.1 470.1h0M433.3 470.4h0M433.2 588.1h0M450.3 583.6h0M432.9 587.5h0M439.1 598.1h0M446.7 603.1h0M435.5 591.5h0M435.3 479.0h0M430.1 599.5h0M428.9 603.5h0M429.5 602.6h0M428.5 602.2h0M441.1 603.4h0M433.0 515.7h0M430.0 603.1h0M431.7 470.7h0M429.7 605.3h0M429.1 600.8h0M429.1 604.8h0M433.7 470.3h0M435.1 496.7h0M439.5 584.9h0M435.2 591.4h0M428.9 501.7h0M440.1 598.0h0M452.7 601.2h0M429.7 605.0h0M440.9 579.0h0M436.0 538.9h0M430.7 570.9h0M436.0 584.9h0M443.6 602.0h0M432.9 599.9h0M430.0 602.9h0M430.8 592.0h0" stroke="#f0413a" stroke-width="1.25" stroke-linecap="round" fill="none"/>
<line x1="384.6" y1="469.9" x2="411.6" y2="469.9" stroke="#4a84bd" stroke-width="1.3"/>
<line x1="428.0" y1="469.9" x2="452.1" y2="469.9" stroke="#f0413a" stroke-width="1.3"/>
<rect x="345.3" y="462.7" width="148.3" height="150.3" fill="none" stroke="#4d4d4d" stroke-width="0.9"/>
<line x1="343.10" y1="606.00" x2="345.30" y2="606.00" stroke="#4d4d4d" stroke-width="0.8"/>
<text x="343.40" y="608.77" font-size="7.6" text-anchor="end" fill="#4d4d4d" stroke="#4d4d4d" stroke-width="0.15">0</text>
<line x1="343.10" y1="561.53" x2="345.30" y2="561.53" stroke="#4d4d4d" stroke-width="0.8"/>
<text x="343.40" y="564.30" font-size="7.6" text-anchor="end" fill="#4d4d4d" stroke="#4d4d4d" stroke-width="0.15">100</text>
<line x1="343.10" y1="517.06" x2="345.30" y2="517.06" stroke="#4d4d4d" stroke-width="0.8"/>
<text x="343.40" y="519.83" font-size="7.6" text-anchor="end" fill="#4d4d4d" stroke="#4d4d4d" stroke-width="0.15">200</text>
<line x1="343.10" y1="472.59" x2="345.30" y2="472.59" stroke="#4d4d4d" stroke-width="0.8"/>
<text x="343.40" y="475.36" font-size="7.6" text-anchor="end" fill="#4d4d4d" stroke="#4d4d4d" stroke-width="0.15">300</text>
<line x1="380.20" y1="613.00" x2="380.20" y2="615.20" stroke="#4d4d4d" stroke-width="0.8"/>
<text x="380.20" y="620.87" font-size="7.6" text-anchor="middle" fill="#4d4d4d" stroke="#4d4d4d" stroke-width="0.15">-10</text>
<line x1="419.70" y1="613.00" x2="419.70" y2="615.20" stroke="#4d4d4d" stroke-width="0.8"/>
<text x="419.70" y="620.87" font-size="7.6" text-anchor="middle" fill="#4d4d4d" stroke="#4d4d4d" stroke-width="0.15">0</text>
<line x1="459.20" y1="613.00" x2="459.20" y2="615.20" stroke="#4d4d4d" stroke-width="0.8"/>
<text x="459.20" y="620.87" font-size="7.6" text-anchor="middle" fill="#4d4d4d" stroke="#4d4d4d" stroke-width="0.15">10</text>
<text x="420.50" y="631.32" font-size="10.2" text-anchor="middle" fill="#1a1a1a" stroke="#1a1a1a" stroke-width="0.31">log2FC</text>
<text x="0" y="0" font-size="10.2" text-anchor="middle" fill="#1a1a1a" stroke="#1a1a1a" stroke-width="0.3" transform="translate(327.2,537.9) rotate(-90)">-log10q-value</text>
<text x="362.10" y="474.72" font-size="10.2" text-anchor="middle" fill="#4a84c4" stroke="#4a84c4" stroke-width="0.31">Down</text>
<text x="362.10" y="485.82" font-size="10.2" text-anchor="middle" fill="#4a84c4" stroke="#4a84c4" stroke-width="0.31">2211</text>
<text x="479.00" y="474.72" font-size="10.2" text-anchor="middle" fill="#f0413a" stroke="#f0413a" stroke-width="0.31">Up</text>
<text x="479.00" y="485.82" font-size="10.2" text-anchor="middle" fill="#f0413a" stroke="#f0413a" stroke-width="0.31">1010</text>
<text x="497.20" y="450.90" font-size="15.0" font-weight="bold" fill="#000">G</text>
<text x="605.00" y="458.72" font-size="10.2" text-anchor="middle" fill="#1a1a1a" stroke="#1a1a1a" stroke-width="0.31">GGC-rep vs NIID</text>
<line x1="598.2" y1="462.5" x2="598.2" y2="614.5" stroke="#c8c8c8" stroke-width="0.6" stroke-dasharray="1.2,1.2"/>
<line x1="615.3" y1="462.5" x2="615.3" y2="614.5" stroke="#c8c8c8" stroke-width="0.6" stroke-dasharray="1.2,1.2"/>
<line x1="533.0" y1="606.9" x2="681.4" y2="606.9" stroke="#c8c8c8" stroke-width="0.6" stroke-dasharray="1.2,1.2"/>
<path d="M560.6 598.8h0M594.4 587.8h0M596.1 596.1h0M594.0 585.7h0M594.4 581.0h0M584.7 585.4h0M560.3 548.8h0M596.5 586.4h0M589.5 594.5h0M554.0 581.2h0M597.7 605.0h0M592.9 604.1h0M597.0 606.1h0M594.4 501.0h0M590.0 590.3h0M597.4 480.7h0M595.7 571.9h0M593.7 602.3h0M597.9 603.1h0M594.8 605.3h0M596.2 603.8h0M585.7 588.6h0M591.3 548.1h0M593.5 603.8h0M587.5 602.6h0M597.0 537.8h0M573.0 574.6h0M595.7 578.2h0M594.1 521.9h0M589.9 591.7h0M598.0 576.5h0M594.8 602.5h0M592.1 586.0h0M597.6 599.6h0M598.2 517.3h0M586.5 606.2h0M597.9 600.6h0M592.1 572.7h0M592.9 603.9h0M593.2 606.6h0M595.1 593.4h0M587.6 603.5h0M591.5 586.5h0M596.0 594.7h0M595.6 582.6h0M562.9 594.5h0M596.9 607.0h0M591.2 605.8h0M595.2 586.3h0M559.1 581.7h0M597.0 593.4h0M595.0 571.8h0M595.4 600.9h0M590.3 522.7h0M596.2 606.7h0M591.2 491.4h0M598.1 583.4h0M597.7 607.3h0M598.1 603.9h0M594.7 578.1h0M596.4 591.2h0M595.1 582.1h0M595.5 607.3h0M596.2 570.1h0M597.8 607.4h0M596.2 597.3h0M588.4 603.6h0M596.7 599.0h0M593.7 579.1h0M597.5 586.0h0M590.7 588.7h0M597.0 542.7h0M597.1 538.9h0M593.7 489.0h0M583.0 599.9h0M597.0 602.8h0M595.4 596.7h0M594.9 600.6h0M596.3 592.8h0M590.9 583.4h0M591.8 606.4h0M591.6 548.7h0M575.9 596.8h0M560.3 597.8h0M577.0 555.3h0M597.2 593.0h0M598.2 599.2h0M591.5 603.5h0M585.6 603.0h0M595.1 599.2h0M597.5 593.2h0M591.1 595.4h0M584.5 589.4h0M595.9 508.9h0M585.0 605.0h0M593.3 607.3h0M596.1 604.5h0M597.3 600.7h0M594.9 547.0h0M588.5 588.3h0M590.4 593.3h0M593.8 603.8h0M595.8 602.9h0M593.1 526.8h0M583.9 592.8h0M595.8 543.0h0M595.1 556.0h0M597.8 597.0h0M592.5 605.0h0M557.0 584.0h0M597.7 596.8h0M593.1 606.9h0M595.1 504.7h0M597.0 573.7h0M591.3 595.7h0M574.6 598.8h0M594.4 599.4h0M584.9 595.6h0M595.0 604.6h0M580.8 582.7h0M595.3 606.8h0M595.1 607.1h0M586.9 473.2h0M584.6 603.9h0M595.5 604.9h0M590.1 565.5h0M571.3 519.3h0M592.4 603.8h0M593.1 603.9h0M591.3 476.3h0M584.6 604.4h0M595.3 531.5h0M576.0 602.7h0M594.5 559.5h0M587.6 602.1h0M597.8 595.8h0M596.7 603.8h0M562.6 584.6h0M589.2 578.2h0M595.7 607.1h0M591.5 586.4h0M591.1 556.9h0M588.5 502.5h0M594.2 604.7h0M596.1 602.0h0M598.1 474.3h0M575.2 595.9h0M597.8 606.3h0M596.9 596.2h0M597.7 602.3h0M590.1 576.3h0M591.3 582.6h0M591.3 596.3h0M588.5 590.8h0M593.7 607.1h0M595.6 496.6h0M594.3 603.9h0M585.5 601.2h0M597.1 553.7h0M557.9 596.8h0M593.7 599.7h0M593.6 532.2h0M588.5 605.1h0M593.7 607.0h0M596.6 595.4h0M593.5 579.3h0M589.7 594.0h0M584.6 606.1h0M595.8 495.2h0M590.9 583.2h0M572.5 603.3h0M588.1 590.9h0M590.0 486.5h0M594.8 558.2h0M590.2 583.9h0M597.1 594.8h0M594.8 558.2h0M588.8 598.1h0M597.4 531.7h0M592.7 542.1h0M595.1 605.3h0M598.0 587.3h0M592.9 593.8h0M591.5 594.3h0M573.8 603.4h0M594.7 598.4h0M595.9 598.1h0M598.1 545.9h0M590.0 557.0h0M595.5 573.4h0M597.3 605.8h0M598.2 600.7h0M598.1 532.5h0M597.4 556.4h0M597.5 602.1h0M584.8 574.9h0M595.4 604.8h0M576.4 474.6h0M595.7 604.5h0M592.8 544.9h0M597.8 593.7h0M588.6 597.9h0M597.6 604.5h0M591.8 601.7h0M593.8 604.6h0M584.0 600.3h0M598.1 605.5h0M595.2 598.1h0M597.1 607.2h0M581.4 595.4h0M594.1 583.2h0M594.6 582.5h0M596.1 599.4h0M592.9 604.8h0M598.0 587.6h0M594.3 546.2h0M597.4 607.1h0M592.9 563.5h0M597.6 602.0h0M595.4 586.2h0M592.1 605.5h0M594.5 589.6h0M595.0 601.7h0M580.5 570.0h0M591.6 591.2h0M586.5 470.1h0M595.0 580.0h0M597.8 602.7h0M576.5 604.3h0M595.6 506.9h0M562.7 584.7h0M567.8 585.5h0M596.8 589.1h0M594.5 568.8h0M578.1 489.0h0M590.1 521.3h0M588.9 574.4h0M575.8 470.2h0M597.3 601.5h0M559.6 595.4h0M597.7 605.3h0M575.3 474.6h0M590.4 521.8h0M587.3 536.6h0M596.9 604.3h0M597.5 588.1h0M596.4 607.3h0M596.4 592.8h0M596.3 605.4h0M564.7 599.8h0M588.5 519.9h0M596.6 604.6h0M597.5 566.6h0M592.8 594.9h0M595.3 495.8h0M589.5 595.1h0M592.2 541.5h0M596.4 601.2h0M571.9 602.2h0M595.9 544.5h0M593.3 592.4h0M597.3 607.0h0M598.1 604.3h0M595.4 598.7h0M596.6 580.4h0M589.2 606.4h0M595.9 598.3h0M589.5 568.0h0M594.9 502.0h0M595.4 568.4h0M595.6 586.1h0M585.4 604.3h0M593.1 578.6h0M598.1 607.3h0M598.0 597.5h0M593.4 605.6h0M593.3 605.1h0M592.3 596.4h0M592.6 505.1h0M594.7 603.7h0M594.5 605.8h0M593.7 563.5h0M584.9 592.1h0M596.3 538.2h0M589.8 592.3h0M595.6 601.9h0M586.6 598.0h0M593.7 573.6h0M581.7 605.7h0M589.2 606.5h0M584.5 606.1h0M597.5 601.2h0M596.0 606.5h0M591.4 558.2h0M597.0 526.5h0M585.8 582.2h0M595.2 602.3h0M591.4 604.5h0M584.3 568.3h0M591.8 602.2h0M583.9 564.3h0M591.0 599.9h0M593.0 602.9h0M597.9 601.6h0M597.8 574.7h0M598.2 601.5h0M594.7 598.4h0M596.4 590.4h0M594.4 602.3h0M594.6 523.1h0M598.2 604.0h0M587.3 588.5h0M594.5 604.1h0M588.9 476.5h0M597.0 591.1h0M592.9 603.8h0M586.5 605.8h0M591.4 568.0h0M597.3 472.7h0M597.3 604.3h0M591.1 492.5h0M594.7 602.1h0M575.5 604.1h0M558.4 597.2h0M591.7 578.7h0M590.4 606.2h0M597.3 529.9h0M595.5 588.8h0M585.3 595.8h0M590.0 569.2h0M594.5 513.0h0M597.7 564.5h0M597.6 605.1h0M597.2 579.3h0M595.6 601.9h0M597.2 487.4h0M591.0 604.0h0M595.4 576.8h0M593.9 606.9h0M596.6 523.5h0M598.2 482.5h0M596.4 602.4h0M598.0 598.1h0M592.2 602.4h0M591.1 600.4h0M595.2 570.1h0M595.4 588.4h0M590.6 590.0h0M591.7 596.9h0M590.4 545.0h0M596.3 514.1h0M575.1 551.1h0M594.6 595.3h0M549.7 592.0h0M596.9 604.9h0M587.5 603.0h0M574.7 603.6h0M596.3 553.7h0M594.0 586.8h0M597.1 603.1h0M563.9 599.7h0M596.8 584.1h0M588.0 583.4h0M579.4 524.7h0M593.5 600.5h0M595.0 597.5h0M593.9 566.7h0M580.1 600.9h0M597.8 585.3h0M597.6 525.9h0M594.6 506.5h0M588.8 601.3h0M594.2 595.6h0M585.8 566.6h0M593.0 596.1h0M586.0 561.6h0M583.1 504.7h0M592.4 589.0h0M598.0 599.4h0M598.2 607.4h0M591.4 511.7h0M575.3 603.7h0M594.0 607.2h0M591.7 570.7h0M582.2 604.9h0M597.6 605.2h0M597.8 586.3h0M598.2 586.5h0M594.8 596.3h0M580.5 577.5h0M595.2 589.6h0M589.8 606.6h0M596.9 601.5h0M571.8 470.2h0M595.3 600.4h0M598.1 605.1h0M596.7 604.3h0M583.8 605.7h0M598.2 509.1h0M597.2 598.2h0M587.5 604.6h0M596.6 573.4h0M592.6 606.5h0M596.1 601.6h0M568.4 582.6h0M585.1 583.4h0M588.9 593.1h0M578.3 550.1h0M587.6 604.6h0M594.6 592.2h0M569.9 602.3h0M592.9 594.3h0M595.1 470.2h0M584.0 470.2h0M595.6 587.6h0M591.9 604.1h0M591.3 580.7h0M590.4 598.3h0M584.3 606.1h0M576.4 580.6h0M598.0 604.0h0M590.3 575.7h0M596.9 550.4h0M597.8 607.2h0M593.8 580.3h0M584.6 469.9h0M596.9 597.9h0M591.6 585.5h0M597.0 605.7h0M588.1 593.7h0M597.6 484.6h0M577.7 598.8h0M594.9 588.7h0M596.7 601.4h0M595.0 600.1h0M586.7 577.7h0M589.9 606.0h0M573.0 599.7h0M593.5 547.7h0M583.2 581.9h0M596.7 598.1h0M584.6 605.4h0M597.7 603.8h0M585.2 603.5h0M594.7 602.3h0M596.9 592.9h0M594.0 569.4h0M584.3 516.6h0M573.3 596.9h0M595.9 605.2h0M585.9 606.5h0M595.9 594.6h0M597.2 536.3h0M594.0 575.1h0M596.7 605.5h0M596.3 513.3h0M584.0 592.6h0M585.2 598.1h0M593.7 606.4h0M572.1 601.7h0M591.2 580.4h0M597.6 594.0h0M585.9 606.5h0M597.8 605.9h0M592.5 607.3h0M595.8 481.0h0M594.5 596.8h0M578.9 477.1h0M592.1 602.2h0M596.4 550.2h0M595.1 589.8h0M594.7 597.5h0M595.0 501.2h0M596.1 604.5h0M591.3 596.7h0M592.5 515.1h0M588.7 606.8h0M595.9 583.4h0M594.4 516.1h0M589.5 606.4h0M593.0 533.6h0M595.1 604.5h0M596.0 519.4h0M595.7 515.2h0M592.8 606.0h0M597.6 602.4h0M595.0 564.7h0M597.7 490.0h0M598.1 601.2h0M595.9 588.0h0M590.3 602.5h0M583.5 605.9h0M595.1 591.7h0M592.8 585.0h0M592.1 598.8h0M588.0 586.6h0M590.3 561.1h0M596.3 591.5h0M594.2 476.1h0M597.2 576.4h0M596.5 605.3h0M591.2 588.4h0M597.1 493.3h0M596.2 512.0h0M589.7 595.2h0M594.3 606.0h0M585.4 603.1h0M597.5 528.7h0M595.0 571.9h0M596.3 589.6h0M580.5 470.5h0M598.1 601.6h0M592.6 525.0h0M596.8 544.0h0M596.5 600.1h0M596.9 584.6h0M595.3 605.8h0M577.8 594.7h0M591.2 549.9h0M585.1 562.7h0M594.1 605.6h0M590.6 589.6h0M598.0 596.4h0M594.1 592.1h0M582.8 576.1h0M595.2 592.7h0M592.4 530.7h0M591.6 598.9h0M597.7 594.2h0M594.8 542.4h0M597.2 604.1h0M596.4 606.7h0M579.2 552.8h0M594.1 551.3h0M586.0 602.5h0M594.4 603.2h0M593.0 549.9h0M589.8 600.2h0M596.2 535.2h0M597.1 490.7h0M596.2 603.6h0M583.1 604.5h0M550.0 592.7h0M593.8 506.7h0M597.4 568.2h0M572.2 470.4h0M591.9 470.1h0M573.5 502.4h0M597.5 498.7h0M583.3 598.0h0M591.5 602.8h0M583.6 604.9h0M595.4 584.3h0M595.3 590.4h0M596.6 533.9h0M590.9 594.4h0M590.3 551.0h0M592.7 604.8h0M592.5 585.6h0M596.5 599.4h0M594.0 607.2h0M595.4 505.5h0M598.2 607.4h0M595.2 603.4h0M589.0 546.4h0M586.4 592.7h0M575.7 590.3h0M556.5 596.6h0M594.5 605.1h0M593.7 607.1h0M596.5 597.3h0M596.5 603.5h0M598.0 518.5h0M585.7 524.4h0M557.5 597.2h0M594.7 581.8h0M590.2 605.2h0M577.4 599.5h0M592.1 606.3h0M597.8 513.2h0M595.4 483.9h0M583.1 598.7h0M595.6 607.2h0M584.0 604.5h0M577.6 470.6h0M585.7 602.4h0M575.3 593.2h0M596.4 544.9h0M598.1 592.4h0M595.6 601.7h0M589.8 600.4h0M589.6 591.9h0M596.5 472.5h0M590.1 599.0h0M597.3 546.3h0M582.9 521.4h0M595.3 605.0h0M596.0 484.3h0M585.7 561.5h0M573.5 603.7h0M597.4 605.6h0M597.5 585.5h0M595.4 605.7h0M586.8 582.6h0M587.5 596.6h0M594.3 606.9h0M596.4 562.9h0M597.4 511.1h0M594.3 592.4h0M590.0 589.9h0M596.9 592.8h0M585.7 593.5h0M591.3 595.0h0M587.0 588.8h0M598.0 593.4h0M588.8 605.0h0M595.2 490.6h0M594.8 592.9h0M596.6 587.2h0M592.9 485.7h0M591.2 565.0h0M591.8 541.1h0M570.2 564.1h0M598.1 558.0h0M596.1 603.8h0M584.2 567.8h0M595.1 603.6h0M588.8 584.4h0M596.2 601.0h0M593.7 605.1h0M595.2 602.8h0M585.0 601.0h0M550.4 593.0h0M591.8 595.8h0M596.3 500.3h0M597.8 599.9h0M593.0 596.0h0M595.6 572.0h0M594.2 588.8h0M589.0 552.0h0M594.4 507.3h0M593.8 498.8h0M592.0 563.3h0M588.1 602.9h0M596.9 524.4h0M597.1 604.9h0M593.7 562.1h0M593.5 496.1h0M592.5 593.9h0M597.8 600.3h0M590.7 594.1h0M593.4 605.7h0M555.8 595.4h0M586.9 600.2h0M596.6 470.1h0M597.8 585.0h0M571.1 556.3h0M580.6 470.2h0M594.2 593.1h0M590.6 596.0h0M575.0 597.9h0M592.5 566.5h0M593.9 592.4h0M597.5 599.3h0M594.4 553.9h0M589.9 606.4h0M559.6 598.2h0M588.6 601.6h0M574.6 600.9h0M593.7 571.2h0M593.0 606.1h0M585.5 554.9h0M580.9 589.6h0M563.0 599.3h0M587.1 601.1h0M594.4 535.0h0M591.8 600.8h0M592.1 588.8h0M592.3 595.6h0M597.4 577.9h0M597.3 578.5h0M589.9 602.3h0M558.1 557.5h0M597.7 572.2h0M596.9 594.1h0M595.2 582.9h0M596.3 607.2h0M597.0 588.4h0M595.7 519.3h0M598.2 599.5h0M596.1 604.7h0M582.5 493.8h0M598.0 572.3h0M596.6 470.2h0M571.8 594.8h0M596.5 579.0h0M597.9 600.8h0M597.2 596.0h0M591.7 581.9h0M598.1 576.3h0M597.6 596.2h0M594.6 588.8h0M596.1 564.3h0M590.8 599.1h0M597.8 562.6h0M584.4 604.1h0M597.0 604.1h0M596.2 582.9h0M588.8 524.8h0M597.6 487.0h0M576.1 604.5h0M592.5 586.8h0M596.7 565.2h0M573.1 571.9h0M593.6 600.8h0M589.4 536.1h0M578.8 481.1h0M594.9 592.9h0M588.7 597.1h0M593.0 596.9h0M596.5 588.4h0M572.8 560.1h0M589.7 599.9h0M598.2 593.1h0M593.1 606.5h0M596.6 601.1h0M597.4 495.8h0M595.7 605.9h0M597.1 606.6h0M596.7 561.8h0M590.3 602.1h0M595.9 591.6h0M591.5 605.9h0M595.6 526.0h0M594.6 602.3h0M592.0 606.1h0M598.2 601.8h0M597.7 547.3h0M575.0 552.6h0M592.9 606.7h0M597.1 599.3h0M585.9 569.5h0M597.0 566.6h0M594.3 570.8h0M593.1 599.9h0M590.1 535.4h0M578.3 491.6h0M595.1 551.6h0M598.2 525.6h0M597.1 607.2h0M590.8 525.9h0M554.5 586.1h0M589.7 583.3h0M569.0 596.5h0M596.7 602.7h0M597.6 599.6h0M592.8 550.6h0M595.0 604.8h0M598.2 589.0h0M589.9 535.2h0M591.9 601.9h0M591.9 532.1h0M596.0 604.8h0M590.7 486.9h0M587.1 577.8h0M596.4 602.9h0M577.5 604.7h0M595.3 605.4h0M574.8 600.7h0M591.1 589.5h0M594.2 600.2h0M589.4 516.4h0M578.5 604.7h0M594.0 597.0h0M595.8 596.8h0M596.4 594.0h0M571.2 578.4h0M576.6 580.7h0M597.3 590.3h0M586.9 493.1h0M595.4 470.4h0M596.5 510.9h0M598.1 587.5h0M592.3 588.5h0M598.1 607.5h0M597.5 587.9h0M592.6 598.6h0M592.9 605.6h0M595.7 606.2h0M591.8 586.7h0M593.8 596.1h0M590.6 500.9h0M594.9 603.8h0M595.3 574.5h0M594.2 481.9h0M587.4 580.1h0M593.7 594.5h0M598.1 584.8h0M591.9 569.7h0M595.8 553.3h0M597.9 605.6h0M593.3 605.6h0M590.7 601.3h0M594.9 602.2h0M593.6 528.6h0M597.4 506.5h0M592.0 596.9h0M594.6 544.8h0M593.1 561.5h0M598.0 597.2h0M597.1 605.8h0M596.1 588.9h0M595.6 602.4h0M577.7 550.9h0M596.1 470.1h0M596.8 591.5h0M594.2 586.3h0M581.8 601.1h0M594.8 601.4h0M590.8 596.4h0M590.5 605.6h0M593.7 474.2h0M568.3 587.7h0M593.2 599.6h0M595.8 596.1h0M591.1 592.7h0M591.1 516.0h0M597.0 601.1h0M597.4 521.0h0M596.4 570.3h0M588.4 598.0h0M590.0 594.6h0M597.7 595.1h0M588.9 583.2h0M572.1 602.6h0M597.4 488.4h0M596.2 470.5h0M592.8 606.5h0M587.0 588.4h0M594.5 602.7h0M597.8 603.3h0M597.9 597.8h0M579.1 571.7h0M590.9 605.5h0M597.4 603.4h0M596.9 491.5h0M589.1 589.6h0M571.7 602.2h0M588.8 597.4h0M594.6 598.1h0M593.1 603.9h0M596.6 603.6h0M585.9 595.9h0M598.1 598.9h0M597.6 604.9h0M587.0 578.3h0M597.1 597.9h0M575.5 598.5h0M572.0 555.2h0M586.4 602.6h0M594.5 603.7h0M582.6 601.4h0M587.2 533.3h0M590.2 530.8h0M588.4 602.1h0M588.7 586.7h0M587.2 582.9h0M597.8 586.1h0M595.2 600.9h0M593.2 595.0h0M597.4 596.5h0M596.4 560.3h0M590.3 599.6h0M577.0 602.4h0M595.8 543.3h0M577.5 602.1h0M591.7 601.3h0M578.1 604.5h0M594.2 607.3h0M591.6 588.2h0M557.8 587.1h0M593.3 478.3h0M593.1 607.3h0M584.1 601.5h0M595.4 601.5h0M590.5 606.0h0M595.9 602.7h0M574.8 603.4h0M597.2 571.7h0M596.0 604.1h0M596.0 470.0h0M563.8 593.3h0M593.4 600.6h0M593.8 589.4h0M595.4 577.4h0M592.6 588.4h0M577.5 594.4h0M561.0 537.0h0M595.0 570.6h0M595.9 599.8h0M585.0 606.0h0M591.8 564.8h0M591.6 603.1h0M590.7 602.7h0M597.5 605.6h0M593.9 603.9h0M562.5 588.2h0M588.5 596.6h0M591.6 469.9h0M597.2 602.8h0M594.3 493.8h0M598.2 511.0h0M592.0 603.7h0M591.8 593.3h0M578.2 602.6h0M598.0 598.3h0M583.7 491.7h0M596.3 602.6h0M575.7 592.2h0M591.2 597.8h0M588.7 477.1h0M596.1 604.2h0M597.1 597.4h0M593.1 597.0h0M597.9 565.0h0M593.1 604.6h0M591.8 605.5h0M592.8 483.3h0M594.8 546.6h0M596.7 597.4h0M590.4 605.2h0M591.1 510.7h0M562.3 599.5h0M597.9 603.7h0M589.1 470.3h0M578.9 518.4h0M586.9 470.5h0M597.0 588.6h0M596.7 605.1h0M597.0 563.9h0M596.0 594.4h0M598.1 596.8h0M587.2 573.5h0M568.3 592.0h0M593.2 581.3h0M596.1 598.0h0M596.5 604.9h0M556.9 574.3h0M579.0 603.2h0M596.1 607.5h0M594.0 597.4h0M590.0 581.2h0M597.8 576.3h0M578.6 563.6h0M593.0 591.7h0M587.0 593.2h0M567.6 601.1h0M567.9 601.6h0M596.8 603.4h0M597.9 603.2h0M572.8 470.0h0M598.1 604.6h0M587.1 606.4h0M598.0 607.5h0M594.2 556.7h0M594.5 607.0h0M591.8 601.0h0M593.7 606.5h0M589.8 603.4h0M597.3 607.0h0M598.2 606.4h0M582.9 605.9h0M594.2 597.4h0M590.4 580.4h0M595.4 487.7h0M596.2 591.5h0M597.3 590.7h0M585.7 606.2h0M579.3 597.8h0M582.6 601.8h0M595.0 601.0h0M594.7 581.8h0M594.0 530.0h0M593.4 601.7h0M593.6 599.7h0M594.0 596.2h0M593.6 607.1h0M594.1 592.9h0M591.2 594.8h0M593.6 599.0h0M577.4 599.2h0M597.8 590.2h0M552.5 593.4h0M596.8 538.7h0M595.1 599.1h0M595.9 589.4h0M588.5 600.3h0M594.6 606.7h0M585.6 600.2h0M591.9 600.9h0M596.7 602.5h0M576.8 547.5h0M591.1 606.5h0M597.7 556.7h0M595.3 605.5h0M592.9 531.8h0M570.5 506.7h0M593.6 596.9h0M597.7 591.9h0M592.5 537.6h0M595.6 596.4h0M597.9 593.0h0M591.2 580.4h0M596.8 583.2h0M595.4 563.7h0M594.6 490.0h0M597.0 593.0h0M597.2 533.2h0M595.9 530.4h0M596.6 603.4h0M589.2 597.1h0M593.4 539.5h0M572.4 603.3h0M596.6 602.3h0M598.1 605.3h0M595.6 476.2h0M579.5 470.3h0M595.5 599.8h0M582.4 492.2h0M571.0 601.0h0M597.0 601.9h0M592.8 604.8h0M596.3 596.7h0M596.9 592.4h0M596.8 579.3h0M586.4 600.9h0M578.6 495.7h0M594.0 606.0h0M596.9 563.0h0M594.5 601.2h0M597.2 605.1h0M593.6 598.3h0M596.5 481.5h0M587.3 600.5h0M588.4 601.6h0M593.9 575.9h0M597.1 606.9h0M598.2 562.2h0M591.6 562.0h0M589.0 490.7h0M587.1 601.3h0M582.0 509.7h0M591.1 570.5h0M594.4 605.4h0M595.9 588.5h0M598.0 501.9h0M597.1 597.5h0M596.4 596.3h0M597.6 602.2h0M587.4 593.0h0M587.8 605.5h0M591.4 578.3h0M597.5 596.4h0M577.3 598.4h0M596.2 600.9h0M591.0 591.2h0M598.0 523.4h0M578.9 575.6h0M597.8 582.9h0M597.6 600.6h0M583.9 579.4h0M567.1 533.5h0M595.1 597.4h0M592.4 574.5h0M594.0 535.0h0M594.2 532.5h0M593.8 583.1h0M594.9 542.2h0M597.4 589.6h0M587.6 605.3h0M595.7 605.7h0M595.2 606.9h0M578.2 567.8h0M587.2 470.1h0M598.0 584.3h0M595.2 599.6h0M594.3 497.7h0M598.1 589.7h0M582.2 591.9h0M596.0 600.8h0M595.8 604.2h0M585.9 601.3h0M597.4 589.3h0M592.9 580.1h0M596.6 605.9h0M597.7 590.0h0M586.2 593.3h0M597.6 597.2h0M576.7 601.6h0M568.2 501.8h0M596.9 556.9h0M580.1 604.8h0M593.1 597.4h0M595.4 523.4h0M593.5 551.7h0M593.0 537.2h0M582.4 603.7h0M579.9 604.4h0M564.4 600.2h0M596.8 546.6h0M595.6 600.7h0M582.2 595.6h0M590.1 582.3h0M578.3 603.2h0M593.9 599.8h0M597.5 545.0h0M580.9 575.3h0M597.2 597.7h0M579.7 605.1h0M593.2 585.5h0M597.5 525.1h0M595.1 603.0h0M578.0 558.7h0M598.2 605.7h0M593.4 603.7h0M587.9 605.9h0M595.8 587.5h0M595.5 589.9h0M590.4 594.3h0M596.1 553.8h0M597.2 606.3h0M593.6 566.2h0M595.9 597.4h0M596.9 603.5h0M596.3 545.0h0M597.7 537.8h0M597.8 475.2h0M595.3 584.1h0M597.5 594.0h0M598.1 545.4h0M590.7 598.0h0M595.6 590.8h0M597.8 607.2h0M594.8 606.0h0M576.0 602.8h0M597.5 515.0h0M587.4 605.2h0M591.2 592.3h0M597.7 604.6h0M590.0 505.8h0M590.5 603.9h0M596.0 601.6h0M591.9 605.5h0M593.1 548.0h0M594.1 578.5h0M597.3 569.4h0M597.4 597.9h0M595.5 600.4h0M589.2 588.1h0M584.3 498.4h0M590.9 547.6h0M598.0 532.0h0M598.0 595.7h0M591.9 605.6h0M595.7 576.4h0M589.5 490.2h0M594.8 595.6h0M592.6 590.4h0M578.3 593.6h0M592.1 604.2h0M596.0 573.3h0M594.5 567.7h0M575.4 575.3h0M590.1 602.3h0M592.3 601.7h0M594.9 598.4h0M594.4 558.5h0M586.0 600.6h0M575.1 597.0h0M585.6 581.1h0M590.2 601.1h0M597.5 604.1h0M588.0 563.8h0M590.8 533.8h0M594.9 605.3h0M579.9 591.1h0M585.9 585.5h0M581.5 602.6h0M598.1 589.5h0M598.1 599.8h0M589.1 605.0h0M582.1 587.5h0M595.8 571.6h0M576.5 600.8h0M574.8 593.7h0M597.7 607.4h0M587.9 594.2h0M582.4 605.2h0M589.1 543.8h0M597.5 604.7h0M561.4 577.8h0M567.0 571.0h0M590.8 579.8h0M596.0 580.0h0M597.2 598.1h0M592.5 607.3h0M572.8 600.9h0M596.8 475.2h0M594.9 579.6h0M597.4 599.6h0M595.3 585.8h0M588.0 575.3h0M597.2 595.1h0M595.0 603.8h0M597.1 598.3h0M587.1 573.5h0M594.7 582.4h0M587.3 499.4h0M590.0 576.6h0M586.5 604.4h0M589.3 600.8h0M596.9 518.8h0M597.0 592.6h0M595.2 583.9h0M596.7 588.9h0M590.9 476.6h0M596.3 583.6h0M591.6 605.9h0M593.4 576.5h0M590.1 572.9h0M571.3 602.7h0M596.4 503.2h0M591.1 605.3h0M595.2 581.5h0M587.2 579.0h0M583.1 604.6h0M592.6 580.6h0M597.0 598.2h0M592.8 573.5h0M595.1 521.3h0M596.3 606.2h0M596.7 602.6h0M592.4 597.8h0M594.2 605.7h0M590.7 576.1h0M596.6 584.6h0M590.9 602.8h0M594.4 600.1h0M596.3 595.1h0M595.5 477.3h0M594.9 584.0h0M581.8 470.4h0M567.0 580.0h0M598.2 604.7h0M583.7 577.5h0M587.7 600.1h0M595.1 605.8h0M596.9 574.2h0M594.1 547.2h0M574.0 596.5h0M595.6 606.7h0M594.0 602.2h0M586.5 601.9h0M596.0 578.6h0M595.3 569.4h0M584.4 486.2h0M594.7 585.5h0M597.3 503.4h0M589.1 545.5h0M592.1 523.9h0M595.8 595.0h0M596.8 606.5h0M595.2 581.8h0M592.1 492.8h0M595.4 605.8h0M570.8 579.4h0M573.7 589.1h0M597.5 470.1h0M591.2 594.5h0M582.7 606.0h0M597.0 579.3h0M568.1 538.0h0M590.0 599.5h0M596.3 604.6h0M596.8 606.4h0M594.0 583.7h0M585.9 599.8h0M596.9 604.6h0M592.3 577.1h0M595.7 555.1h0M593.6 585.1h0M587.2 533.4h0M595.9 588.2h0M583.1 598.0h0M595.4 607.2h0M594.1 549.6h0M596.6 591.4h0M580.5 603.1h0M598.1 602.7h0M597.5 604.6h0M598.1 601.6h0M592.8 598.3h0M597.0 535.2h0M595.3 591.0h0M593.9 595.7h0M598.0 607.4h0M595.8 593.2h0M572.9 580.8h0M592.7 584.1h0M584.5 594.9h0M594.6 606.4h0M593.7 601.8h0M589.2 538.2h0M592.1 549.7h0M592.3 560.3h0M578.3 574.7h0M597.2 548.2h0M595.9 602.7h0M589.8 584.9h0M594.3 604.8h0M596.6 605.7h0M597.4 597.9h0M592.7 603.9h0M595.3 605.9h0M583.7 604.4h0M584.8 605.3h0M595.4 598.4h0M589.5 603.9h0M589.7 584.5h0M595.6 495.5h0M574.7 603.8h0M584.6 592.5h0M573.8 470.0h0M591.5 492.4h0M588.6 601.9h0M590.6 597.8h0M594.3 591.7h0M594.1 577.9h0M571.5 511.0h0M594.0 587.9h0M593.1 595.2h0M590.4 530.4h0M598.0 595.6h0M595.4 568.2h0M597.6 535.1h0M596.8 556.5h0M596.6 604.6h0M598.2 606.6h0M590.0 595.0h0M590.6 564.8h0M594.3 602.6h0M597.2 602.0h0M591.3 501.3h0M593.9 589.1h0M592.6 491.0h0M583.8 599.5h0M594.6 529.0h0M573.5 602.9h0M583.4 573.4h0M597.4 584.8h0M597.4 604.5h0M585.0 600.0h0M592.6 579.7h0M591.2 605.5h0M587.9 553.1h0M581.5 470.0h0M587.2 606.6h0M589.9 574.3h0M573.7 603.1h0M596.8 579.9h0M567.8 601.7h0M596.0 577.7h0M588.7 470.4h0M598.1 601.6h0M594.4 499.4h0M598.0 605.4h0M578.5 602.8h0M579.0 534.9h0M596.8 599.6h0M592.7 602.4h0M572.2 508.2h0M596.2 519.8h0M590.5 544.4h0M595.5 580.8h0M596.3 605.9h0M596.7 502.3h0M595.8 505.9h0M594.4 597.4h0M581.1 604.8h0M595.1 606.6h0M595.8 474.7h0M595.0 606.8h0M597.5 599.0h0M596.7 606.8h0M595.7 553.8h0M592.4 573.1h0M586.4 579.6h0M591.5 606.8h0M598.0 607.2h0M596.7 606.1h0M597.0 598.6h0M591.3 580.4h0M595.1 575.0h0M595.5 508.3h0M590.1 600.6h0M588.5 545.0h0M581.2 514.5h0M595.1 603.3h0M597.0 558.4h0M587.7 605.9h0M595.0 601.3h0M587.7 603.9h0M594.1 601.2h0M569.8 602.3h0M595.1 595.4h0M595.7 605.1h0M596.8 573.1h0M595.6 604.9h0M579.4 597.1h0M594.5 602.1h0M595.0 596.3h0M589.5 552.3h0M591.4 607.0h0M565.5 594.8h0M596.5 558.9h0M596.1 579.4h0M595.9 549.4h0M596.8 578.5h0M567.7 600.7h0M581.5 568.9h0M583.5 605.2h0M598.0 602.4h0M597.6 526.9h0M563.6 596.7h0M577.9 594.8h0M589.4 598.8h0M588.5 545.8h0M591.1 601.9h0M581.5 605.1h0M569.3 514.4h0M592.1 527.5h0M564.2 600.0h0M568.8 469.8h0M594.8 587.9h0M576.1 603.1h0M597.0 585.5h0M596.9 597.5h0M597.6 600.8h0M596.5 583.1h0M579.0 470.4h0M560.9 598.8h0M594.0 594.1h0M597.3 595.9h0M563.3 599.9h0M593.4 499.2h0M594.3 549.5h0M593.2 594.0h0M584.3 572.3h0M594.3 576.7h0M592.5 490.4h0M594.6 473.3h0M580.7 578.8h0M552.1 575.0h0M592.4 600.4h0M580.2 605.2h0M583.4 593.5h0M594.1 589.6h0M598.1 470.5h0M597.9 584.0h0M592.2 606.1h0M598.1 606.8h0M590.9 604.3h0M576.6 567.4h0M594.9 606.5h0M592.2 607.2h0M596.3 504.1h0M595.1 579.0h0M597.7 592.2h0M579.3 597.8h0M596.7 593.4h0M596.5 598.5h0M581.4 600.2h0M578.7 600.4h0M574.0 524.6h0M596.4 572.4h0M587.1 604.2h0M589.8 596.3h0M565.6 599.7h0M594.5 591.9h0M590.1 603.2h0M595.5 561.0h0M578.7 591.6h0M594.3 601.2h0M588.3 582.9h0M594.2 579.0h0M598.1 600.9h0M593.0 595.8h0M594.7 596.0h0M587.7 603.0h0M591.3 558.9h0M598.0 602.5h0M595.5 580.2h0M590.9 599.4h0M593.3 547.5h0M598.0 476.1h0M591.5 512.4h0M595.8 579.1h0M581.1 605.4h0M597.2 584.3h0M598.0 576.4h0M593.6 489.8h0M573.1 532.5h0M590.7 524.3h0M598.0 600.7h0M591.0 470.1h0M597.6 598.8h0M590.0 599.6h0M587.5 572.3h0M584.5 603.9h0M597.2 603.9h0M593.7 598.7h0M594.6 594.4h0M598.1 594.3h0M583.5 606.0h0M585.1 597.7h0M596.6 602.7h0M596.1 593.8h0M593.2 505.0h0M592.9 597.7h0M591.9 593.0h0M596.0 527.9h0M577.6 592.3h0M598.2 605.0h0M597.5 605.2h0M596.6 528.2h0M597.9 601.7h0M595.9 601.4h0M598.1 585.2h0M592.4 605.7h0M577.8 601.8h0M583.9 600.3h0M596.7 598.7h0M596.9 594.2h0M593.2 591.5h0M594.7 521.6h0M581.6 572.1h0M594.5 591.2h0M574.0 601.0h0M594.5 516.7h0M597.7 603.0h0M592.7 606.0h0M595.5 487.3h0M589.0 586.0h0M578.9 599.9h0M552.0 593.6h0M586.5 595.0h0M596.9 598.5h0M597.0 579.6h0M593.2 601.1h0M594.5 502.6h0M596.7 585.1h0M595.5 595.2h0M590.5 584.6h0M593.7 571.0h0M589.1 470.2h0M590.3 591.6h0M598.1 605.1h0M589.9 596.1h0M596.5 603.4h0M586.2 598.1h0M596.6 601.8h0M596.2 527.5h0M596.8 595.8h0M585.4 470.2h0M596.5 584.2h0M597.1 598.8h0M590.0 573.4h0M596.9 607.3h0M596.5 584.3h0M590.2 606.9h0M591.6 596.8h0M598.1 584.0h0M595.9 601.5h0M596.0 602.9h0M576.2 604.3h0M570.7 570.5h0M596.4 584.9h0M594.9 607.2h0M596.1 560.3h0M594.5 602.0h0M596.1 590.4h0M594.5 595.1h0M596.8 531.2h0M596.1 584.3h0M588.1 596.8h0M585.9 605.9h0M563.3 599.2h0M595.9 602.8h0M597.8 594.4h0M574.1 575.4h0M590.9 596.1h0M581.5 559.3h0M571.5 602.6h0M594.3 586.5h0M595.9 561.6h0M589.4 553.3h0M593.7 587.7h0M549.8 592.9h0M596.5 523.1h0M594.7 601.4h0M591.4 593.9h0M593.6 604.3h0M592.7 585.5h0M597.3 601.9h0M596.3 572.2h0M592.7 600.9h0M593.3 592.6h0M593.3 553.6h0M594.3 564.9h0M555.4 596.0h0M590.6 593.2h0M585.7 578.3h0M592.2 592.8h0M590.3 552.6h0M596.0 489.2h0M593.7 541.3h0M591.4 576.9h0M596.1 478.7h0M570.2 602.2h0M583.9 578.0h0M593.6 588.6h0M596.0 599.9h0M586.6 605.4h0M593.4 606.4h0M593.9 607.0h0M598.0 539.3h0M595.6 602.8h0M597.7 547.6h0M594.7 574.3h0M594.9 589.3h0M589.2 599.9h0M585.2 593.5h0M587.2 599.3h0M591.9 505.9h0M598.2 601.5h0M596.9 601.5h0M597.9 590.0h0M591.9 590.0h0M597.7 503.6h0M593.5 580.5h0M576.6 531.6h0M594.0 591.6h0M587.8 582.5h0M592.4 575.7h0M586.1 541.1h0M596.4 502.7h0M597.1 602.8h0M588.3 556.6h0M586.3 596.1h0M588.6 603.5h0M595.1 590.1h0M592.5 592.0h0M597.5 543.6h0M595.7 588.1h0M597.5 604.9h0M595.6 588.2h0M587.7 594.5h0M594.3 598.6h0M587.8 606.5h0M590.2 529.9h0M578.6 475.3h0M558.7 597.6h0M591.1 606.5h0M597.6 599.3h0M594.9 605.6h0M595.4 502.5h0M595.3 605.2h0M595.7 599.4h0M595.1 601.0h0M587.7 561.2h0M596.0 511.4h0M592.0 555.5h0M594.7 596.3h0M567.7 508.8h0M598.2 592.5h0M587.4 552.8h0M597.4 599.9h0M571.1 590.9h0M581.2 605.4h0M588.7 602.8h0M595.3 594.3h0M580.1 586.9h0M591.1 604.0h0M598.2 575.5h0M593.8 583.7h0M585.5 598.3h0M591.6 542.7h0M596.9 590.4h0M590.3 595.8h0M598.0 600.8h0M594.5 577.8h0M596.8 579.9h0M582.3 590.1h0M596.7 603.4h0M580.5 593.8h0M596.6 603.4h0M590.1 586.8h0M585.8 577.4h0M596.6 606.9h0M570.3 520.6h0M587.4 504.5h0M593.2 489.6h0M597.1 604.7h0M597.5 590.3h0M584.7 553.0h0M591.5 603.6h0M596.6 603.6h0" stroke="#4a84bd" stroke-width="1.25" stroke-linecap="round" fill="none"/>
<path d="M622.6 598.7h0M638.2 585.7h0M647.4 600.8h0M620.9 591.1h0M659.0 595.5h0M618.0 599.6h0M617.5 598.0h0M624.1 588.6h0M620.8 578.0h0M616.8 606.5h0M616.9 531.6h0M620.0 470.2h0M618.0 599.4h0M651.0 581.6h0M615.5 594.6h0M622.0 603.9h0M617.0 582.4h0M618.1 502.6h0M629.4 602.7h0M616.8 606.4h0M638.6 470.1h0M617.8 598.8h0M624.6 600.6h0M617.5 600.7h0M618.4 494.9h0M618.4 607.3h0M616.7 577.7h0M615.4 596.6h0M622.9 564.5h0M617.4 595.2h0M617.5 602.1h0M621.0 602.3h0M618.9 605.6h0M629.7 589.4h0M615.7 598.3h0M627.0 470.0h0M618.6 592.8h0M616.9 602.9h0M624.5 560.5h0M617.0 604.9h0M641.0 589.8h0M627.2 604.4h0M619.3 605.7h0M617.6 604.9h0M646.1 584.2h0M616.2 606.4h0M626.4 576.0h0M617.5 604.1h0M616.0 606.0h0M634.8 600.8h0M617.2 600.3h0M621.9 578.7h0M616.0 492.9h0M615.9 536.1h0M616.8 576.7h0M640.4 603.2h0M655.1 593.9h0M620.0 600.2h0M620.6 562.2h0M615.5 582.2h0M619.8 595.2h0M616.0 590.1h0M624.5 600.2h0M629.6 604.6h0M622.2 587.3h0M622.2 579.5h0M627.7 606.4h0M621.6 606.6h0M615.9 595.1h0M636.5 591.8h0M618.3 597.5h0M620.8 605.7h0M618.9 595.5h0M618.6 551.5h0M619.1 485.5h0M615.6 595.9h0M633.0 514.0h0M620.2 597.2h0M616.8 563.2h0M634.6 600.2h0M625.0 578.2h0M616.4 598.1h0M617.4 602.1h0M645.6 601.1h0M616.5 606.3h0M623.0 601.0h0M626.2 603.1h0M617.5 605.6h0M622.2 588.8h0M623.9 580.3h0M633.1 568.6h0M626.3 599.8h0M619.4 594.9h0M619.1 605.2h0M617.0 606.1h0M617.7 587.7h0M616.6 607.4h0M619.6 604.8h0M624.8 597.3h0M637.0 604.4h0M617.1 602.8h0M616.0 552.3h0M618.8 605.0h0M631.7 587.1h0M620.7 587.3h0M628.2 605.9h0M616.8 477.5h0M623.3 584.5h0M619.0 533.3h0M621.2 599.6h0M623.9 592.9h0M616.4 599.3h0M615.6 607.4h0M617.0 595.7h0M616.3 589.3h0M618.0 584.1h0M618.9 548.8h0M626.8 587.8h0M617.6 605.8h0M621.9 593.1h0M617.3 605.7h0M617.1 598.4h0M626.3 585.6h0M615.5 596.2h0M622.8 565.6h0M621.9 602.9h0M616.7 594.1h0M620.0 604.2h0M616.1 589.7h0M624.9 603.6h0M647.4 591.3h0M616.9 604.0h0M639.3 600.2h0M617.5 554.2h0M615.5 558.4h0M617.0 595.0h0M618.7 604.1h0M635.0 596.9h0M648.4 599.5h0M615.9 602.1h0M616.0 541.1h0M621.7 592.2h0M615.4 578.3h0M646.6 601.2h0M617.5 581.9h0M645.2 595.2h0M625.3 582.8h0M632.2 537.8h0M636.1 595.6h0M620.8 604.1h0M620.8 603.7h0M617.2 575.5h0M615.6 470.3h0M628.8 606.0h0M629.6 592.4h0M637.1 564.2h0M615.5 602.9h0M620.5 579.4h0M616.5 584.5h0M618.4 595.1h0M620.5 601.3h0M619.0 584.4h0M615.9 602.1h0M625.8 601.4h0M618.3 601.1h0M616.2 575.5h0M617.6 592.2h0M617.2 606.9h0M616.9 575.3h0M623.4 592.7h0M617.3 606.8h0M618.0 578.2h0M625.8 602.2h0M620.2 598.3h0M615.9 588.8h0M620.2 605.9h0M616.9 597.5h0M617.0 589.4h0M622.3 586.9h0M615.7 601.8h0M633.7 596.0h0M617.0 587.3h0M619.7 603.3h0M619.3 606.6h0M634.5 605.1h0M621.0 602.1h0M622.3 595.2h0M619.4 576.8h0M633.9 575.0h0M615.6 593.7h0M620.5 593.0h0M620.0 599.3h0M623.2 607.0h0M625.7 603.3h0M620.5 576.0h0M619.5 586.3h0M620.6 546.2h0M646.5 600.4h0M616.3 606.0h0M618.1 592.4h0M628.9 603.8h0M616.8 595.2h0M618.7 593.3h0M617.9 578.9h0M623.5 590.1h0M616.4 555.9h0M615.8 605.6h0M616.8 510.4h0M616.5 595.0h0M620.1 601.9h0M616.1 580.9h0M620.6 607.3h0M619.1 553.2h0M621.4 574.7h0M639.9 600.8h0M622.3 592.6h0M616.2 607.1h0M615.6 599.6h0M651.2 595.1h0M637.9 604.3h0M617.1 576.1h0M618.5 570.9h0M618.3 589.1h0M616.6 537.0h0M622.2 606.7h0M615.6 605.3h0M618.0 595.1h0M646.2 520.7h0M635.2 600.8h0M630.8 603.1h0M618.3 601.6h0M620.6 606.6h0M633.1 593.2h0M626.6 574.0h0M619.4 605.2h0M637.4 604.4h0M624.1 552.5h0M627.0 588.7h0M619.1 595.2h0M617.9 569.5h0M616.8 590.2h0M617.8 593.0h0M615.6 593.7h0M658.5 595.7h0M636.5 594.0h0M624.1 594.3h0M624.5 601.0h0M624.3 602.1h0M620.3 508.7h0M617.8 586.5h0M618.8 583.2h0M621.8 597.2h0M617.4 605.5h0M624.1 606.2h0M616.0 604.4h0M636.9 470.2h0M619.8 588.4h0M617.3 607.0h0M617.1 537.1h0M616.0 601.8h0M621.4 603.4h0M620.5 593.6h0M623.1 570.7h0M618.4 602.7h0M620.1 576.9h0M625.0 531.4h0M618.7 599.7h0M621.2 591.6h0M631.5 603.6h0M621.0 596.9h0M618.9 605.7h0M633.1 588.3h0M634.1 544.9h0M635.5 599.6h0M628.7 508.7h0M618.2 582.8h0M618.1 586.0h0M626.0 473.1h0M619.2 601.7h0M628.7 598.9h0M621.5 602.6h0M626.0 602.0h0M645.4 523.8h0M632.9 595.7h0M622.6 604.6h0M621.0 603.5h0M638.1 601.9h0M622.1 547.5h0M615.7 592.7h0M615.4 606.6h0M635.8 599.1h0M615.8 571.0h0M617.0 605.1h0M622.2 605.1h0M616.3 606.3h0M618.4 595.5h0M626.5 590.6h0M619.1 512.3h0M618.0 607.5h0M616.7 593.5h0M615.8 595.8h0M619.8 580.6h0M621.4 606.6h0M615.7 550.1h0M622.5 606.7h0M651.2 599.2h0M620.1 591.5h0M618.2 596.9h0M631.1 591.9h0M617.5 603.1h0M615.5 607.0h0M615.9 599.4h0M629.9 605.4h0M618.3 599.9h0M622.7 604.1h0M620.1 474.9h0M615.6 601.9h0M617.6 598.9h0M616.3 591.9h0M638.7 585.4h0M620.2 587.0h0M626.3 595.9h0M625.0 606.1h0M615.5 585.7h0M626.1 597.3h0M622.8 575.3h0M621.7 602.3h0M621.6 591.9h0M624.5 575.3h0M636.3 555.4h0M618.6 599.5h0M618.2 585.4h0M618.6 487.0h0M616.1 602.9h0M639.0 588.0h0M631.0 605.6h0M617.9 606.7h0M621.1 589.8h0M620.0 564.8h0M619.6 583.2h0M615.7 589.0h0M619.4 586.9h0M618.8 600.3h0M619.6 586.6h0M620.1 583.5h0M623.6 597.3h0M615.7 589.3h0M622.7 588.0h0M615.6 603.4h0M621.0 606.2h0M619.3 590.8h0M618.7 601.5h0M619.8 477.6h0M621.5 599.7h0M615.9 573.2h0M620.9 599.1h0M647.8 599.9h0M621.4 605.0h0M620.9 599.0h0M619.6 584.1h0M617.2 499.2h0M621.6 602.2h0M619.2 593.4h0M621.4 562.6h0M636.7 586.0h0M620.8 604.1h0M619.9 552.7h0M625.9 583.0h0M615.9 571.6h0M615.4 601.2h0M618.5 576.9h0M618.1 598.9h0M637.8 584.9h0M644.4 582.1h0M625.8 478.1h0M626.7 562.5h0M616.3 582.6h0M619.6 603.4h0M625.6 605.0h0M629.3 589.4h0M616.9 600.3h0M620.9 591.4h0M656.2 597.1h0M625.3 606.5h0M618.7 581.1h0M618.6 597.3h0M622.1 606.9h0M615.9 595.9h0M616.1 604.1h0M621.7 599.7h0M627.9 603.8h0M641.0 602.9h0M618.2 585.0h0M624.3 606.9h0M623.7 593.0h0M618.8 604.3h0M619.2 570.2h0M616.1 599.5h0M626.9 595.4h0M654.2 576.6h0M618.9 605.7h0M621.2 593.5h0M618.2 552.1h0M616.7 527.0h0M615.6 598.9h0M623.0 582.3h0M631.0 605.4h0M616.3 579.3h0M621.8 580.0h0M627.2 595.5h0M623.1 603.3h0M625.4 595.3h0M633.5 569.6h0M619.1 598.5h0M639.3 470.1h0M636.6 601.3h0M619.7 604.9h0M617.3 601.4h0M639.8 602.7h0M619.1 594.2h0M617.4 589.5h0M621.5 601.8h0M616.0 607.5h0M630.1 605.1h0M618.5 605.6h0M657.8 596.2h0M636.6 508.2h0M618.3 578.0h0M618.7 604.9h0M616.7 602.3h0M617.7 590.8h0M618.5 596.7h0M619.9 604.5h0M618.4 595.0h0M619.3 605.6h0M620.5 588.3h0M631.2 571.3h0M617.1 605.8h0M633.0 539.1h0M628.3 577.2h0M617.0 601.6h0M615.9 594.4h0M616.2 518.6h0M619.7 594.6h0M627.5 599.7h0M627.5 596.2h0M627.6 594.1h0M618.1 599.8h0M618.7 606.9h0M616.7 572.9h0M624.8 581.9h0M620.8 596.5h0M622.5 604.2h0M626.2 596.4h0M619.4 607.0h0M622.6 603.7h0M616.8 592.9h0M628.1 598.9h0M616.5 561.0h0M622.9 600.5h0M617.5 597.5h0M624.9 571.4h0M618.0 590.9h0M618.9 583.0h0M616.0 524.4h0M615.4 604.2h0M619.0 522.0h0M641.4 592.5h0M619.8 594.6h0M619.8 599.8h0M619.1 587.2h0M616.0 606.4h0M618.9 599.4h0M632.2 586.6h0M618.4 590.0h0M617.1 580.5h0M617.6 593.3h0M616.2 549.2h0M630.1 605.2h0M618.2 549.4h0M624.0 586.6h0M616.2 601.2h0M619.2 603.0h0M624.0 539.1h0M633.7 598.0h0M615.7 595.9h0M643.3 600.5h0M629.7 561.6h0M615.9 606.0h0M618.0 582.6h0M623.5 589.1h0M633.4 595.1h0M619.8 587.8h0M639.5 581.3h0M646.5 601.2h0M617.7 589.6h0M627.8 596.0h0M623.0 603.8h0M619.0 583.9h0M617.4 537.5h0M621.4 581.1h0M621.3 586.8h0M618.7 602.2h0M620.1 599.7h0M634.2 592.9h0M616.8 597.3h0M616.6 542.1h0M616.9 576.4h0M619.5 601.3h0M617.6 605.6h0M616.6 483.5h0M622.7 602.3h0M615.6 594.3h0M615.6 601.9h0M627.8 604.6h0M618.7 594.5h0M617.0 601.9h0M623.4 555.1h0M618.6 604.0h0M623.3 595.7h0M633.0 597.3h0M615.5 595.1h0M615.8 580.5h0M618.8 602.5h0M618.1 559.2h0M648.7 599.8h0M615.8 596.8h0M628.4 579.0h0M621.8 588.6h0M616.6 592.6h0M615.7 605.0h0M620.6 592.4h0M622.8 592.1h0M616.0 602.7h0M637.1 494.4h0M620.1 591.6h0M616.5 588.9h0M621.8 576.4h0M620.5 500.2h0M623.3 606.4h0M621.2 600.4h0M618.8 572.0h0M617.1 598.1h0M625.8 605.6h0M625.5 571.6h0M622.0 589.3h0M640.4 603.1h0M622.4 602.9h0M616.9 603.7h0M616.6 601.7h0M618.8 538.5h0M628.6 597.2h0M623.6 598.1h0M620.7 601.1h0M628.7 596.9h0M616.8 607.0h0M625.5 574.4h0M615.6 599.8h0M615.8 571.1h0M621.7 604.3h0M622.8 589.7h0M628.0 604.1h0M615.9 583.5h0M615.7 580.9h0M620.1 601.9h0M621.6 590.1h0M615.5 574.5h0M633.8 605.3h0M616.9 592.8h0M625.5 606.1h0M615.4 582.1h0M616.1 507.7h0M655.5 597.1h0M634.0 592.5h0M622.2 606.4h0M621.5 604.6h0M617.6 596.1h0M615.5 604.5h0M620.2 602.0h0M631.9 579.1h0M618.0 597.0h0M631.6 596.5h0M627.2 605.8h0M656.8 596.5h0M617.3 602.6h0M625.6 603.0h0M628.2 594.4h0M616.0 594.8h0M618.0 586.7h0M628.4 604.3h0M627.7 599.4h0M616.5 606.4h0M637.6 603.7h0M651.0 599.1h0M617.8 590.5h0M623.0 605.2h0M629.5 598.9h0M649.4 593.2h0M617.2 596.8h0M615.8 607.2h0M615.8 584.7h0M630.9 599.3h0M615.9 602.3h0M624.9 580.8h0M617.6 565.8h0M617.5 606.4h0M624.6 571.8h0M616.6 603.7h0M616.8 606.9h0M625.1 600.9h0M623.4 591.5h0M626.0 591.8h0M620.1 595.9h0M618.2 604.7h0M616.6 589.6h0M624.7 573.6h0M628.1 574.6h0M616.5 525.6h0M637.3 563.8h0M615.7 604.0h0M619.4 591.4h0M621.2 602.5h0M628.0 567.9h0M637.8 604.3h0M654.6 590.6h0M617.7 597.5h0M616.7 603.5h0M631.1 591.9h0M622.1 476.9h0M619.7 607.0h0M618.2 601.6h0M650.5 542.5h0M615.8 591.5h0M638.7 588.8h0M619.2 602.3h0M616.6 600.6h0M619.1 597.3h0M621.2 594.5h0M618.1 592.2h0M616.9 606.5h0M615.4 601.5h0M627.6 606.5h0M618.8 606.6h0M626.5 584.5h0M619.3 597.6h0M618.6 583.2h0M615.9 607.0h0M625.6 606.8h0M617.6 607.0h0M615.7 602.8h0M621.9 606.0h0M616.0 598.5h0M615.8 539.1h0M616.5 598.7h0M617.0 589.8h0M623.3 591.4h0M616.2 600.9h0M625.8 600.7h0M649.6 600.0h0M618.8 605.9h0M617.8 589.3h0M615.9 595.6h0M617.5 604.7h0M616.1 606.3h0M616.0 595.8h0M622.1 600.6h0M616.5 571.8h0M640.1 601.5h0M628.4 602.0h0M624.3 606.2h0M628.4 599.0h0M638.1 593.5h0M621.0 605.4h0M622.4 605.1h0M618.8 582.0h0M619.0 602.7h0M626.0 600.9h0M617.1 594.5h0M628.4 599.7h0M621.1 601.7h0M623.6 598.5h0M644.4 470.0h0M629.8 604.3h0M615.6 593.1h0M617.5 602.9h0M622.3 605.4h0M629.9 606.0h0M618.4 580.9h0M618.1 562.0h0M617.1 606.2h0M617.5 574.4h0M618.2 589.7h0M617.4 593.1h0M627.5 578.2h0M617.7 597.6h0M628.4 562.1h0M616.4 603.6h0M619.8 581.6h0M617.7 601.2h0M623.5 602.7h0M618.8 599.2h0M617.8 559.5h0M623.7 569.9h0M618.8 596.8h0M616.5 590.1h0M617.9 607.2h0M618.6 590.0h0M619.1 600.0h0M628.3 590.8h0M630.3 602.7h0M624.1 590.6h0M633.4 596.8h0M622.9 607.1h0M652.9 596.9h0M616.5 594.3h0M618.4 601.2h0M620.6 600.2h0M618.2 566.9h0M619.7 606.7h0M619.5 565.7h0M619.1 595.2h0M618.3 598.6h0M629.9 605.0h0M623.0 572.9h0M615.6 606.9h0M625.9 601.0h0M617.5 604.6h0M616.8 577.4h0M618.5 567.1h0M619.5 588.3h0M626.9 574.0h0M617.3 588.7h0M616.2 605.6h0M620.2 601.0h0M615.9 600.8h0M618.3 572.4h0M615.4 604.1h0M618.0 606.8h0M616.8 564.0h0M626.9 584.3h0M619.4 606.9h0M624.0 582.6h0M621.4 593.9h0M615.9 584.5h0M620.2 606.6h0M625.1 597.8h0M615.6 604.2h0M619.2 597.7h0M619.8 591.3h0M632.1 599.5h0M619.6 607.0h0M631.0 599.2h0M615.5 562.9h0M626.2 601.4h0M620.9 592.3h0M618.0 598.7h0M617.8 582.9h0M627.5 569.9h0M637.4 597.2h0M633.5 597.4h0M618.5 591.0h0M616.3 602.2h0M618.0 585.5h0M622.9 550.6h0M616.5 606.9h0M615.7 602.6h0M620.2 603.9h0M622.9 592.7h0M622.9 606.7h0M617.3 586.1h0M625.0 602.6h0M619.6 592.5h0M618.6 598.1h0M615.8 604.3h0M622.4 602.6h0M622.0 591.3h0M617.4 602.2h0M619.7 538.8h0M619.7 599.1h0M618.7 584.7h0M616.0 556.5h0M617.6 599.9h0M619.6 526.1h0M616.7 582.4h0M616.1 585.6h0M616.8 603.7h0M617.0 560.2h0M620.3 602.9h0M616.5 574.3h0M625.5 597.2h0M615.5 584.5h0M618.6 589.4h0M617.1 592.9h0M625.7 606.4h0M617.4 602.1h0M617.1 605.8h0M623.9 591.9h0M621.8 606.4h0M626.1 554.4h0M621.5 596.2h0M620.8 590.9h0M615.5 601.5h0M627.5 605.3h0M620.5 542.1h0M615.4 589.1h0M618.0 603.0h0M622.5 581.5h0M637.7 604.1h0M635.3 599.7h0M618.2 607.1h0M623.1 577.3h0M619.2 591.3h0M627.6 589.0h0M626.6 602.4h0M622.4 575.5h0M620.9 578.2h0M634.4 602.7h0M628.2 600.8h0M627.2 601.4h0M621.7 589.4h0M615.7 598.7h0M616.2 599.6h0M619.8 505.0h0M627.2 585.4h0M620.3 590.2h0M658.2 594.6h0M619.7 601.1h0M619.7 581.8h0M625.5 604.9h0M622.6 606.1h0M621.3 596.9h0M615.7 595.4h0M616.2 598.5h0M627.1 597.1h0M617.3 586.9h0M620.3 602.8h0M616.3 607.2h0M623.7 535.1h0M615.7 591.8h0M618.5 605.7h0M615.5 593.5h0M618.1 601.7h0M625.2 583.8h0M622.5 601.4h0M616.1 606.4h0M616.9 605.8h0M628.0 600.2h0M624.3 604.5h0M624.5 481.2h0M627.0 597.0h0M619.3 500.5h0M631.9 567.7h0M620.2 598.9h0M616.2 591.9h0M619.3 600.9h0M629.1 594.3h0M618.6 576.0h0M633.9 596.6h0M624.6 599.5h0M622.7 572.7h0M626.2 606.6h0M623.9 593.1h0M615.9 596.0h0M619.2 591.4h0M619.1 577.7h0M626.1 589.3h0M634.5 605.1h0M631.7 588.8h0M624.3 605.8h0M618.9 604.0h0M619.4 597.4h0M640.4 581.8h0M615.4 542.2h0M619.2 507.6h0M615.7 577.6h0M633.4 604.9h0M622.2 581.6h0M625.9 602.5h0M627.4 595.0h0M617.8 580.8h0M615.4 582.1h0M618.4 596.9h0M621.9 598.1h0M616.3 601.8h0M616.6 579.8h0M618.5 586.9h0M616.3 603.8h0M619.1 576.8h0M620.5 591.4h0M645.7 600.5h0M628.8 602.3h0M617.3 581.1h0M619.9 605.9h0M618.3 597.2h0M615.5 594.5h0M616.4 548.7h0M636.0 602.4h0M616.0 607.4h0M617.8 600.4h0M618.1 585.8h0M620.5 598.0h0M626.0 595.1h0M623.4 559.3h0M618.0 605.1h0M644.9 590.5h0M622.1 599.0h0M631.7 603.3h0M618.7 592.0h0M620.3 590.6h0M618.2 593.8h0M617.6 575.7h0M620.3 595.0h0M617.2 594.8h0M620.1 605.5h0M619.8 601.2h0M619.8 570.6h0M630.2 592.7h0M618.6 595.9h0M622.3 606.1h0M634.2 604.7h0M639.5 598.8h0M616.7 607.2h0M615.5 583.3h0M616.4 602.0h0M616.0 587.3h0M616.4 592.4h0M622.5 593.8h0M617.2 600.1h0M622.5 603.4h0M616.6 569.5h0M615.5 596.4h0M623.9 603.9h0M621.2 605.7h0M616.5 601.1h0M616.2 604.0h0M615.6 607.2h0M616.2 605.2h0M617.6 607.2h0M615.7 581.4h0M615.5 600.2h0M631.7 587.3h0M625.0 599.8h0M615.4 607.4h0M621.8 602.9h0M622.5 583.8h0M616.2 564.0h0M629.2 584.9h0M616.1 598.4h0M637.3 603.4h0M622.0 597.0h0M622.8 594.9h0M621.6 606.8h0M623.7 600.6h0M618.0 599.4h0M633.1 570.5h0M621.5 531.6h0M623.9 577.2h0M620.5 595.4h0M623.2 598.9h0M620.8 579.4h0M621.2 600.3h0M629.5 598.6h0M624.0 579.1h0M622.8 586.0h0M621.4 582.8h0M615.4 531.0h0M620.9 607.1h0M631.7 589.9h0M633.4 575.5h0M619.8 595.6h0M623.1 606.1h0M615.7 596.9h0M656.0 594.2h0M621.2 585.6h0M617.4 567.7h0M620.2 568.5h0M618.0 600.3h0M623.1 598.1h0M638.7 590.8h0M620.3 592.0h0M635.5 605.0h0M622.6 596.7h0M631.6 555.5h0M618.9 606.5h0M622.6 606.9h0M621.4 596.0h0M617.8 602.7h0M615.6 605.8h0M628.1 594.2h0M617.1 606.5h0M629.5 606.0h0M616.3 535.7h0M616.2 606.8h0M616.1 597.0h0M616.5 606.4h0M617.3 562.1h0M617.4 607.2h0M616.8 607.3h0M625.4 597.6h0M618.9 604.1h0M637.4 604.3h0M618.0 605.3h0M618.5 602.0h0M618.8 604.8h0M648.3 600.4h0M619.9 597.0h0M615.6 589.0h0M615.7 603.9h0M621.3 590.6h0M617.4 582.6h0M618.0 601.4h0M623.1 568.4h0M620.4 574.2h0M616.3 589.8h0M624.7 605.8h0M615.6 606.8h0M615.5 606.9h0M621.1 510.2h0M617.0 605.4h0M619.1 598.6h0M616.4 590.5h0M616.4 606.9h0M617.3 599.6h0M615.8 592.4h0M622.4 602.9h0M616.0 585.5h0M620.9 604.3h0M616.8 605.3h0M615.4 597.8h0M620.7 549.7h0M618.6 546.7h0M627.0 605.6h0M617.0 606.6h0M625.5 600.2h0M617.7 606.6h0M619.0 526.0h0M620.8 478.5h0M620.7 510.3h0M617.5 604.6h0M640.2 603.7h0M623.0 581.8h0M619.9 600.4h0M617.7 513.8h0M626.1 595.5h0M622.4 603.1h0M618.7 596.6h0M619.2 607.1h0M619.1 594.9h0M626.1 589.1h0M616.6 606.6h0M622.0 594.5h0M617.8 592.3h0M624.0 603.8h0M620.8 579.4h0M629.2 561.5h0M616.3 604.9h0M617.1 516.6h0M622.8 585.1h0M625.4 602.6h0M616.9 601.5h0M618.2 600.2h0M619.7 597.1h0M630.6 565.5h0M624.8 603.8h0M619.7 604.5h0M615.6 551.9h0M618.3 601.1h0M621.5 600.5h0M633.3 584.2h0M630.6 577.3h0M616.2 593.8h0M619.5 604.6h0M620.1 562.0h0M622.3 577.6h0M620.7 602.7h0M638.6 567.0h0M618.9 598.4h0M636.5 594.9h0M616.7 600.1h0M622.2 606.9h0M615.9 605.2h0M616.9 476.5h0M621.4 595.2h0M616.0 605.5h0M651.8 595.3h0M622.1 594.2h0M624.6 602.0h0M631.4 587.2h0M618.1 587.4h0M616.7 604.0h0M617.0 606.9h0M620.7 605.5h0M617.2 588.5h0M622.9 599.3h0M628.9 598.9h0M622.1 588.3h0M623.3 600.0h0M621.4 599.9h0M622.9 602.4h0M617.5 597.7h0M619.7 602.8h0M625.8 577.8h0M621.9 584.7h0M618.0 599.5h0M622.3 583.3h0M627.9 591.9h0M617.9 586.3h0M618.3 601.0h0M621.0 597.5h0M617.4 582.2h0M630.4 556.2h0M619.6 600.3h0M639.4 596.5h0M616.5 562.3h0M622.6 606.5h0M624.3 567.3h0M623.4 567.1h0M619.0 483.1h0M624.6 603.2h0M624.5 599.7h0M618.6 602.1h0M617.7 593.8h0M649.0 597.5h0M617.8 570.8h0M617.8 600.1h0M628.1 579.5h0M617.1 516.6h0M622.5 606.7h0M621.3 474.5h0M616.9 596.0h0M616.6 596.6h0M631.2 592.4h0M625.7 589.2h0M626.3 603.2h0M623.3 554.3h0M615.4 587.1h0M617.5 600.9h0M636.5 588.3h0M616.8 575.1h0M618.5 571.1h0M631.3 605.4h0M615.6 603.6h0M624.2 596.1h0M623.6 605.8h0M616.5 597.2h0M619.4 603.7h0M616.5 580.7h0M619.9 590.5h0M616.0 606.2h0M629.9 555.1h0M651.6 571.1h0M622.2 559.1h0M622.8 603.9h0M649.8 599.6h0M615.9 602.6h0M620.9 588.3h0M617.8 595.2h0M628.9 606.2h0M627.0 594.9h0M631.6 590.8h0M619.3 591.9h0M617.2 598.4h0M619.0 603.0h0M615.6 596.7h0M616.9 578.5h0M616.9 595.9h0M618.4 600.3h0M624.2 602.3h0M620.7 526.4h0M624.2 597.5h0M617.5 542.7h0M621.7 577.5h0M618.7 605.1h0M620.0 596.6h0M624.0 584.8h0M626.5 598.5h0M623.9 486.6h0M625.8 604.5h0M616.8 591.3h0M617.9 605.4h0M617.8 589.4h0M616.7 599.2h0M618.1 602.8h0M618.7 593.9h0M616.3 573.2h0M619.9 559.6h0M617.8 579.1h0M616.8 592.3h0M619.0 606.6h0M630.3 485.7h0M621.0 603.4h0M615.5 604.0h0M622.4 604.2h0M626.5 602.0h0M625.9 576.5h0M618.4 604.5h0M645.8 600.3h0M619.0 603.9h0M619.1 603.9h0M618.2 596.8h0M617.7 602.3h0M622.7 602.3h0M616.5 605.1h0M623.9 593.1h0M616.6 596.9h0M647.2 600.7h0M618.8 592.1h0M620.6 602.4h0M615.9 600.9h0M616.2 601.5h0M620.8 590.5h0M616.8 592.5h0M617.2 587.4h0M618.7 600.3h0M618.3 598.0h0M618.8 600.6h0M616.0 599.4h0M629.7 578.4h0M617.3 606.1h0M615.9 599.5h0M627.3 600.8h0M622.7 564.0h0M654.2 597.9h0M624.5 606.9h0M620.1 585.0h0M622.7 604.2h0M618.5 586.9h0M620.6 590.0h0M633.2 605.1h0M616.8 602.9h0M619.8 594.9h0M628.7 594.3h0M618.3 586.0h0M619.0 605.7h0M617.7 603.1h0M638.6 599.3h0M616.3 577.3h0M630.3 604.8h0M618.2 568.7h0M620.1 591.5h0M615.5 586.1h0M621.3 601.7h0M615.6 585.3h0M620.1 606.7h0M616.4 555.4h0M620.7 580.1h0M622.0 603.3h0M618.3 606.4h0M616.0 504.0h0M629.2 592.4h0M624.9 582.4h0M616.9 575.2h0M616.7 601.6h0M615.9 594.8h0M619.9 586.1h0M615.5 594.1h0M620.0 594.6h0M617.0 604.3h0M632.6 587.3h0M616.9 607.2h0M620.4 588.7h0M618.0 605.7h0M645.4 597.2h0M620.1 597.7h0M630.8 549.1h0M618.8 561.5h0M622.1 594.9h0M635.8 604.1h0M618.9 605.8h0M622.1 606.2h0M623.1 602.7h0M621.0 594.4h0M615.6 606.2h0M620.6 605.1h0M625.3 593.3h0M621.8 601.0h0M633.2 604.6h0M616.2 586.4h0M621.5 604.9h0M615.9 590.0h0M621.2 560.5h0M618.6 595.3h0M618.8 604.2h0M631.0 592.9h0M615.7 574.5h0M619.3 596.3h0M617.1 607.3h0M642.5 573.9h0M622.6 597.4h0M619.1 598.2h0M640.5 599.6h0M618.2 540.1h0M620.8 606.8h0M620.0 603.6h0M628.0 596.9h0M617.9 568.1h0M644.6 587.1h0M632.9 470.1h0M623.5 597.3h0M624.5 603.9h0M640.4 533.3h0M615.4 583.0h0M616.0 593.6h0M627.8 606.3h0M627.0 599.3h0M617.1 595.9h0M617.0 606.7h0M617.9 598.8h0M616.9 591.4h0M621.9 606.8h0M641.9 566.8h0M619.4 605.5h0M616.2 599.8h0M622.5 589.7h0M617.8 605.5h0M616.5 578.4h0M635.0 591.1h0M615.8 470.2h0M649.4 600.3h0M618.1 584.1h0M619.1 589.7h0M624.3 600.7h0M623.0 604.4h0M636.8 589.7h0M643.5 602.5h0M617.4 601.5h0M623.5 598.8h0M642.0 599.3h0M620.5 600.5h0M619.3 605.8h0M620.7 578.4h0M618.8 602.5h0M616.9 573.5h0M619.0 582.2h0M625.1 575.9h0M628.7 599.5h0M617.9 599.1h0M632.6 590.2h0M616.3 582.7h0M617.4 602.6h0M615.5 529.8h0M615.9 565.9h0M624.8 593.9h0M618.6 579.2h0M617.2 602.8h0M619.8 561.6h0M617.7 562.0h0M621.4 594.6h0M625.6 595.9h0M617.8 588.3h0M623.9 606.8h0M629.8 605.2h0M615.5 585.7h0M621.2 607.0h0M629.6 605.1h0M620.0 582.4h0M616.7 602.0h0M616.6 600.7h0M617.8 574.2h0M622.0 604.5h0M621.6 606.0h0M617.0 555.8h0M627.3 600.1h0M645.5 600.5h0M626.4 593.9h0M619.5 599.5h0M620.0 573.8h0M615.4 602.8h0M629.0 599.9h0M615.9 605.8h0M618.8 598.9h0M617.2 599.1h0M624.0 595.4h0M615.6 605.5h0M626.4 594.6h0M615.4 583.2h0M616.2 590.0h0M625.9 547.7h0M656.0 576.6h0M625.7 606.3h0M618.7 603.5h0M615.6 559.1h0M618.2 595.5h0M628.9 604.7h0M615.5 606.9h0M621.7 589.0h0M620.2 600.9h0M615.4 563.5h0M625.1 599.9h0M616.3 571.8h0M628.3 602.5h0M629.7 605.1h0M624.9 587.5h0M617.0 591.8h0M620.8 600.3h0M617.5 602.2h0M617.2 586.4h0M618.4 592.6h0M622.5 596.0h0M616.1 604.0h0M620.8 603.2h0M616.9 602.8h0M620.3 593.3h0M617.6 595.2h0M615.5 603.9h0M624.9 606.6h0M622.6 606.7h0M633.5 570.8h0M618.4 607.4h0M616.5 597.9h0M639.9 533.3h0M637.2 497.7h0M617.0 600.3h0M618.8 604.3h0M623.8 601.4h0M617.0 508.7h0M623.9 582.6h0M629.2 587.7h0M622.0 604.1h0M619.8 596.7h0M623.2 591.6h0M625.7 591.2h0M629.1 604.7h0M621.3 605.7h0M628.5 593.5h0M620.7 607.0h0M620.4 547.7h0M620.9 595.8h0M630.8 557.1h0M621.5 593.6h0M637.8 579.6h0M619.3 577.7h0M624.5 593.5h0M616.5 582.1h0M617.8 603.8h0M624.2 591.7h0M648.9 566.4h0M615.4 594.2h0M622.5 565.4h0M658.6 595.9h0M654.8 597.1h0M640.6 583.7h0M620.3 603.9h0M617.0 601.2h0M625.3 552.0h0M616.6 575.4h0M624.1 580.5h0M619.0 597.9h0M622.3 580.8h0M615.8 600.7h0M625.1 595.5h0M621.2 597.8h0M629.1 599.2h0M620.2 596.4h0M616.1 598.8h0M625.5 476.4h0M634.4 596.4h0M623.3 521.1h0M618.3 601.4h0M616.4 601.9h0M650.6 597.0h0M618.3 603.0h0M620.4 606.7h0M620.1 588.1h0M615.6 600.0h0M615.7 590.6h0M622.4 604.2h0M617.0 593.8h0M620.2 604.3h0M621.2 607.2h0M615.8 603.8h0M642.8 602.0h0M618.2 559.3h0M618.2 599.6h0M618.5 603.4h0M626.9 603.0h0M623.3 602.7h0M620.6 578.4h0M623.9 605.5h0M619.4 606.4h0M656.9 596.0h0M630.8 605.8h0M626.3 470.3h0M617.3 596.4h0M616.0 587.7h0M626.6 588.6h0M615.9 605.5h0M620.7 582.7h0M621.5 603.8h0M617.4 606.5h0M623.2 606.1h0M622.4 598.1h0M616.9 587.9h0M616.5 604.5h0M620.2 592.0h0M617.8 587.8h0M623.0 600.4h0M628.3 592.2h0M622.2 604.0h0M624.1 576.5h0M617.7 592.3h0M619.6 605.1h0M640.0 596.6h0M617.2 604.9h0M628.2 606.3h0M621.5 595.9h0M626.6 595.0h0M622.6 606.6h0M615.4 569.3h0M617.9 583.7h0M616.1 571.9h0M622.5 600.7h0M615.7 601.1h0M627.0 595.6h0M617.8 561.2h0M627.3 583.5h0M616.3 603.1h0M623.9 598.9h0M619.9 603.7h0M615.6 582.2h0M627.8 585.7h0M622.2 607.2h0M632.6 522.1h0M619.0 495.7h0M617.1 605.7h0M616.5 600.1h0M618.1 604.2h0M616.7 582.5h0M643.0 594.2h0M619.6 596.4h0M616.6 606.4h0M627.1 606.1h0M619.3 591.9h0M621.3 577.1h0M626.4 604.6h0M623.1 587.0h0M615.6 606.4h0M619.4 511.8h0M619.0 604.6h0M641.4 590.8h0M617.6 605.8h0M616.8 518.6h0M620.2 606.1h0M618.9 581.9h0M620.6 603.6h0M621.5 605.1h0M643.1 548.0h0M641.4 600.0h0M632.7 603.6h0M620.9 607.1h0M617.0 605.3h0M621.6 590.8h0M617.7 509.7h0M634.8 602.8h0M644.8 602.1h0M615.4 574.1h0M615.7 605.6h0M615.9 605.0h0M624.0 603.1h0M617.6 601.1h0M626.4 604.9h0M617.6 601.6h0M616.6 605.3h0M615.5 593.7h0M623.2 603.2h0M618.1 587.5h0M626.4 606.2h0M617.6 606.7h0M617.4 601.9h0M616.6 602.4h0M616.9 598.9h0M630.2 596.2h0M619.4 602.5h0M629.9 584.1h0M616.2 605.4h0M618.3 603.7h0M615.8 603.0h0M617.8 588.6h0M617.8 599.3h0M617.5 603.8h0M615.8 595.7h0M621.8 593.2h0" stroke="#f0413a" stroke-width="1.25" stroke-linecap="round" fill="none"/>
<line x1="570.9" y1="469.7" x2="597.2" y2="469.7" stroke="#4a84bd" stroke-width="1.3"/>
<line x1="618.0" y1="469.7" x2="642.5" y2="469.7" stroke="#f0413a" stroke-width="1.3" stroke-dasharray="2.2,1.2"/>
<rect x="533.0" y="462.5" width="148.4" height="152.0" fill="none" stroke="#4d4d4d" stroke-width="0.9"/>
<line x1="530.80" y1="607.50" x2="533.00" y2="607.50" stroke="#4d4d4d" stroke-width="0.8"/>
<text x="531.10" y="610.27" font-size="7.6" text-anchor="end" fill="#4d4d4d" stroke="#4d4d4d" stroke-width="0.15">0</text>
<line x1="530.80" y1="562.47" x2="533.00" y2="562.47" stroke="#4d4d4d" stroke-width="0.8"/>
<text x="531.10" y="565.24" font-size="7.6" text-anchor="end" fill="#4d4d4d" stroke="#4d4d4d" stroke-width="0.15">100</text>
<line x1="530.80" y1="517.44" x2="533.00" y2="517.44" stroke="#4d4d4d" stroke-width="0.8"/>
<text x="531.10" y="520.21" font-size="7.6" text-anchor="end" fill="#4d4d4d" stroke="#4d4d4d" stroke-width="0.15">200</text>
<line x1="530.80" y1="472.41" x2="533.00" y2="472.41" stroke="#4d4d4d" stroke-width="0.8"/>
<text x="531.10" y="475.18" font-size="7.6" text-anchor="end" fill="#4d4d4d" stroke="#4d4d4d" stroke-width="0.15">300</text>
<line x1="564.05" y1="614.50" x2="564.05" y2="616.70" stroke="#4d4d4d" stroke-width="0.8"/>
<text x="564.05" y="622.37" font-size="7.6" text-anchor="middle" fill="#4d4d4d" stroke="#4d4d4d" stroke-width="0.15">-10</text>
<line x1="606.80" y1="614.50" x2="606.80" y2="616.70" stroke="#4d4d4d" stroke-width="0.8"/>
<text x="606.80" y="622.37" font-size="7.6" text-anchor="middle" fill="#4d4d4d" stroke="#4d4d4d" stroke-width="0.15">0</text>
<line x1="649.55" y1="614.50" x2="649.55" y2="616.70" stroke="#4d4d4d" stroke-width="0.8"/>
<text x="649.55" y="622.37" font-size="7.6" text-anchor="middle" fill="#4d4d4d" stroke="#4d4d4d" stroke-width="0.15">10</text>
<text x="607.60" y="632.82" font-size="10.2" text-anchor="middle" fill="#1a1a1a" stroke="#1a1a1a" stroke-width="0.31">log2FC</text>
<text x="0" y="0" font-size="10.2" text-anchor="middle" fill="#1a1a1a" stroke="#1a1a1a" stroke-width="0.3" transform="translate(515.2,538.5) rotate(-90)">-log10q-value</text>
<text x="549.30" y="474.42" font-size="10.2" text-anchor="middle" fill="#4a84c4" stroke="#4a84c4" stroke-width="0.31">Down</text>
<text x="549.30" y="485.52" font-size="10.2" text-anchor="middle" fill="#4a84c4" stroke="#4a84c4" stroke-width="0.31">1717</text>
<text x="666.80" y="474.42" font-size="10.2" text-anchor="middle" fill="#f0413a" stroke="#f0413a" stroke-width="0.31">Up</text>
<text x="666.80" y="485.52" font-size="10.2" text-anchor="middle" fill="#f0413a" stroke="#f0413a" stroke-width="0.31">1582</text>
<text x="2.20" y="658.60" font-size="15.0" font-weight="bold" fill="#000">H</text>
<line x1="110.80" y1="660.40" x2="110.80" y2="747.40" stroke="#222" stroke-width="0.9"/>
<line x1="108.40" y1="747.40" x2="110.80" y2="747.40" stroke="#222" stroke-width="0.9"/>
<text x="107.80" y="750.17" font-size="7.6" text-anchor="end" fill="#222" stroke="#222" stroke-width="0.15">0</text>
<line x1="108.40" y1="719.77" x2="110.80" y2="719.77" stroke="#222" stroke-width="0.9"/>
<text x="107.80" y="722.54" font-size="7.6" text-anchor="end" fill="#222" stroke="#222" stroke-width="0.15">500</text>
<line x1="108.40" y1="692.13" x2="110.80" y2="692.13" stroke="#222" stroke-width="0.9"/>
<text x="107.80" y="694.90" font-size="7.6" text-anchor="end" fill="#222" stroke="#222" stroke-width="0.15">1000</text>
<line x1="108.40" y1="664.50" x2="110.80" y2="664.50" stroke="#222" stroke-width="0.9"/>
<text x="107.80" y="667.27" font-size="7.6" text-anchor="end" fill="#222" stroke="#222" stroke-width="0.15">1500</text>
<text x="0" y="0" font-size="7.6" text-anchor="middle" fill="#222" stroke="#222" stroke-width="0.15" transform="translate(82.9,707.0) rotate(-90)">Intersection size</text>
<rect x="114.20" y="708.71" width="7.80" height="38.69" fill="#000"/>
<text x="118.10" y="706.28" font-size="7.6" text-anchor="middle" fill="#222" stroke="#222" stroke-width="0.15">700</text>
<rect x="128.60" y="720.60" width="7.80" height="26.80" fill="#000"/>
<text x="132.50" y="718.17" font-size="7.6" text-anchor="middle" fill="#222" stroke="#222" stroke-width="0.15">485</text>
<rect x="142.90" y="715.23" width="7.80" height="32.17" fill="#000"/>
<text x="146.80" y="712.80" font-size="7.6" text-anchor="middle" fill="#222" stroke="#222" stroke-width="0.15">582</text>
<rect x="157.20" y="727.45" width="7.80" height="19.95" fill="#000"/>
<text x="161.10" y="725.02" font-size="7.6" text-anchor="middle" fill="#222" stroke="#222" stroke-width="0.15">361</text>
<rect x="171.70" y="665.49" width="7.80" height="81.91" fill="#000"/>
<text x="175.60" y="663.06" font-size="7.6" text-anchor="middle" fill="#222" stroke="#222" stroke-width="0.15">1482</text>
<rect x="186.00" y="745.80" width="7.80" height="1.60" fill="#000"/>
<text x="189.90" y="743.37" font-size="7.6" text-anchor="middle" fill="#222" stroke="#222" stroke-width="0.15">29</text>
<rect x="200.30" y="746.20" width="7.80" height="1.20" fill="#000"/>
<text x="204.20" y="743.77" font-size="7.6" text-anchor="middle" fill="#222" stroke="#222" stroke-width="0.15">16</text>
<rect x="214.90" y="712.42" width="7.80" height="34.98" fill="#000"/>
<text x="218.80" y="709.99" font-size="7.6" text-anchor="middle" fill="#222" stroke="#222" stroke-width="0.15">633</text>
<rect x="57.80" y="770.80" width="167.90" height="11.20" fill="#f0f0f0"/>
<rect x="57.80" y="797.20" width="167.90" height="11.20" fill="#f0f0f0"/>
<text x="112.60" y="766.07" font-size="7.6" text-anchor="end" fill="#222" stroke="#222" stroke-width="0.15">GGC-del_Up</text>
<text x="112.60" y="779.17" font-size="7.6" text-anchor="end" fill="#222" stroke="#222" stroke-width="0.15">NIID_Down</text>
<text x="112.60" y="792.37" font-size="7.6" text-anchor="end" fill="#222" stroke="#222" stroke-width="0.15">NIID_Up</text>
<text x="112.60" y="805.57" font-size="7.6" text-anchor="end" fill="#222" stroke="#222" stroke-width="0.15">GGC-del_Down</text>
<rect x="44.63" y="759.60" width="12.27" height="7.40" fill="#f0939b"/>
<text x="43.23" y="766.07" font-size="7.6" text-anchor="end" fill="#222" stroke="#222" stroke-width="0.15">1010</text>
<rect x="41.79" y="772.70" width="15.11" height="7.40" fill="#3b6ea6"/>
<text x="40.39" y="779.17" font-size="7.6" text-anchor="end" fill="#222" stroke="#222" stroke-width="0.15">1244</text>
<rect x="32.81" y="785.90" width="24.09" height="7.40" fill="#c8211b"/>
<text x="31.41" y="792.37" font-size="7.6" text-anchor="end" fill="#222" stroke="#222" stroke-width="0.15">1983</text>
<rect x="30.04" y="799.10" width="26.86" height="7.40" fill="#a9cdea"/>
<text x="28.64" y="805.57" font-size="7.6" text-anchor="end" fill="#222" stroke="#222" stroke-width="0.15">2211</text>
<line x1="30.00" y1="813.20" x2="56.90" y2="813.20" stroke="#222" stroke-width="0.9"/>
<line x1="32.60" y1="813.20" x2="32.60" y2="817.00" stroke="#222" stroke-width="0.9"/>
<line x1="56.90" y1="813.20" x2="56.90" y2="817.00" stroke="#222" stroke-width="0.9"/>
<text x="32.60" y="824.87" font-size="7.6" text-anchor="middle" fill="#222" stroke="#222" stroke-width="0.15">2000</text>
<text x="56.90" y="824.87" font-size="7.6" text-anchor="middle" fill="#222" stroke="#222" stroke-width="0.15">0</text>
<circle cx="118.1" cy="763.3" r="3.5" fill="#d0d0d0"/>
<circle cx="118.1" cy="776.4" r="3.5" fill="#d0d0d0"/>
<circle cx="118.1" cy="789.6" r="3.5" fill="#d0d0d0"/>
<circle cx="118.1" cy="802.8" r="3.8" fill="#000"/>
<circle cx="132.5" cy="763.3" r="3.5" fill="#d0d0d0"/>
<circle cx="132.5" cy="776.4" r="3.5" fill="#d0d0d0"/>
<circle cx="132.5" cy="802.8" r="3.5" fill="#d0d0d0"/>
<circle cx="132.5" cy="789.6" r="3.8" fill="#000"/>
<circle cx="146.8" cy="763.3" r="3.5" fill="#d0d0d0"/>
<circle cx="146.8" cy="789.6" r="3.5" fill="#d0d0d0"/>
<circle cx="146.8" cy="802.8" r="3.5" fill="#d0d0d0"/>
<circle cx="146.8" cy="776.4" r="3.8" fill="#000"/>
<circle cx="161.1" cy="776.4" r="3.5" fill="#d0d0d0"/>
<circle cx="161.1" cy="789.6" r="3.5" fill="#d0d0d0"/>
<circle cx="161.1" cy="802.8" r="3.5" fill="#d0d0d0"/>
<circle cx="161.1" cy="763.3" r="3.8" fill="#000"/>
<circle cx="175.6" cy="763.3" r="3.5" fill="#d0d0d0"/>
<circle cx="175.6" cy="776.4" r="3.5" fill="#d0d0d0"/>
<line x1="175.60" y1="789.60" x2="175.60" y2="802.80" stroke="#000" stroke-width="1.6"/>
<circle cx="175.6" cy="789.6" r="3.8" fill="#000"/>
<circle cx="175.6" cy="802.8" r="3.8" fill="#000"/>
<circle cx="189.9" cy="763.3" r="3.5" fill="#d0d0d0"/>
<circle cx="189.9" cy="789.6" r="3.5" fill="#d0d0d0"/>
<line x1="189.90" y1="776.40" x2="189.90" y2="802.80" stroke="#000" stroke-width="1.6"/>
<circle cx="189.9" cy="776.4" r="3.8" fill="#000"/>
<circle cx="189.9" cy="802.8" r="3.8" fill="#000"/>
<circle cx="204.2" cy="776.4" r="3.5" fill="#d0d0d0"/>
<circle cx="204.2" cy="802.8" r="3.5" fill="#d0d0d0"/>
<line x1="204.20" y1="763.30" x2="204.20" y2="789.60" stroke="#000" stroke-width="1.6"/>
<circle cx="204.2" cy="763.3" r="3.8" fill="#000"/>
<circle cx="204.2" cy="789.6" r="3.8" fill="#000"/>
<circle cx="218.8" cy="789.6" r="3.5" fill="#d0d0d0"/>
<circle cx="218.8" cy="802.8" r="3.5" fill="#d0d0d0"/>
<line x1="218.80" y1="763.30" x2="218.80" y2="776.40" stroke="#000" stroke-width="1.6"/>
<circle cx="218.8" cy="763.3" r="3.8" fill="#000"/>
<circle cx="218.8" cy="776.4" r="3.8" fill="#000"/>
<text x="2.60" y="846.60" font-size="15.0" font-weight="bold" fill="#000">I</text>
<line x1="110.90" y1="842.00" x2="110.90" y2="924.40" stroke="#222" stroke-width="0.9"/>
<line x1="108.50" y1="924.40" x2="110.90" y2="924.40" stroke="#222" stroke-width="0.9"/>
<text x="107.90" y="927.17" font-size="7.6" text-anchor="end" fill="#222" stroke="#222" stroke-width="0.15">0</text>
<line x1="108.50" y1="910.34" x2="110.90" y2="910.34" stroke="#222" stroke-width="0.9"/>
<text x="107.90" y="913.11" font-size="7.6" text-anchor="end" fill="#222" stroke="#222" stroke-width="0.15">250</text>
<line x1="108.50" y1="896.28" x2="110.90" y2="896.28" stroke="#222" stroke-width="0.9"/>
<text x="107.90" y="899.05" font-size="7.6" text-anchor="end" fill="#222" stroke="#222" stroke-width="0.15">500</text>
<line x1="108.50" y1="882.22" x2="110.90" y2="882.22" stroke="#222" stroke-width="0.9"/>
<text x="107.90" y="884.99" font-size="7.6" text-anchor="end" fill="#222" stroke="#222" stroke-width="0.15">750</text>
<line x1="108.50" y1="868.16" x2="110.90" y2="868.16" stroke="#222" stroke-width="0.9"/>
<text x="107.90" y="870.93" font-size="7.6" text-anchor="end" fill="#222" stroke="#222" stroke-width="0.15">1000</text>
<line x1="108.50" y1="854.10" x2="110.90" y2="854.10" stroke="#222" stroke-width="0.9"/>
<text x="107.90" y="856.87" font-size="7.6" text-anchor="end" fill="#222" stroke="#222" stroke-width="0.15">1250</text>
<text x="0" y="0" font-size="7.6" text-anchor="middle" fill="#222" stroke="#222" stroke-width="0.15" transform="translate(83.1,886.2) rotate(-90)">Intersection size</text>
<rect x="113.90" y="892.29" width="7.20" height="32.11" fill="#000"/>
<text x="117.50" y="889.86" font-size="7.6" text-anchor="middle" fill="#222" stroke="#222" stroke-width="0.15">571</text>
<rect x="127.30" y="906.23" width="7.20" height="18.17" fill="#000"/>
<text x="130.90" y="903.80" font-size="7.6" text-anchor="middle" fill="#222" stroke="#222" stroke-width="0.15">323</text>
<rect x="140.80" y="887.23" width="7.20" height="37.17" fill="#000"/>
<text x="144.40" y="884.80" font-size="7.6" text-anchor="middle" fill="#222" stroke="#222" stroke-width="0.15">661</text>
<rect x="154.30" y="905.22" width="7.20" height="19.18" fill="#000"/>
<text x="157.90" y="902.79" font-size="7.6" text-anchor="middle" fill="#222" stroke="#222" stroke-width="0.15">341</text>
<rect x="167.70" y="846.00" width="7.20" height="78.40" fill="#000"/>
<text x="171.30" y="843.57" font-size="7.6" text-anchor="middle" fill="#222" stroke="#222" stroke-width="0.15">1394</text>
<rect x="181.20" y="923.20" width="7.20" height="1.20" fill="#000"/>
<text x="184.80" y="920.77" font-size="7.6" text-anchor="middle" fill="#222" stroke="#222" stroke-width="0.15">18</text>
<rect x="194.70" y="873.62" width="7.20" height="50.78" fill="#000"/>
<text x="198.30" y="871.19" font-size="7.6" text-anchor="middle" fill="#222" stroke="#222" stroke-width="0.15">903</text>
<rect x="57.80" y="946.50" width="147.00" height="11.20" fill="#f0f0f0"/>
<rect x="57.80" y="972.00" width="147.00" height="11.20" fill="#f0f0f0"/>
<text x="112.60" y="942.17" font-size="7.6" text-anchor="end" fill="#222" stroke="#222" stroke-width="0.15">NIID_Down</text>
<text x="112.60" y="954.87" font-size="7.6" text-anchor="end" fill="#222" stroke="#222" stroke-width="0.15">GGC-rep_Up</text>
<text x="112.60" y="967.57" font-size="7.6" text-anchor="end" fill="#222" stroke="#222" stroke-width="0.15">GGC-rep_Down</text>
<text x="112.60" y="980.37" font-size="7.6" text-anchor="end" fill="#222" stroke="#222" stroke-width="0.15">NIID_Up</text>
<rect x="41.88" y="935.70" width="15.92" height="7.40" fill="#3b6ea6"/>
<text x="40.48" y="942.17" font-size="7.6" text-anchor="end" fill="#222" stroke="#222" stroke-width="0.15">1244</text>
<rect x="37.55" y="948.40" width="20.25" height="7.40" fill="#f0939b"/>
<text x="36.15" y="954.87" font-size="7.6" text-anchor="end" fill="#222" stroke="#222" stroke-width="0.15">1582</text>
<rect x="35.82" y="961.10" width="21.98" height="7.40" fill="#a9cdea"/>
<text x="34.42" y="967.57" font-size="7.6" text-anchor="end" fill="#222" stroke="#222" stroke-width="0.15">1717</text>
<rect x="32.42" y="973.90" width="25.38" height="7.40" fill="#c8211b"/>
<text x="31.02" y="980.37" font-size="7.6" text-anchor="end" fill="#222" stroke="#222" stroke-width="0.15">1983</text>
<line x1="29.60" y1="985.20" x2="57.80" y2="985.20" stroke="#222" stroke-width="0.9"/>
<line x1="32.20" y1="985.20" x2="32.20" y2="989.00" stroke="#222" stroke-width="0.9"/>
<line x1="57.80" y1="985.20" x2="57.80" y2="989.00" stroke="#222" stroke-width="0.9"/>
<text x="32.20" y="996.87" font-size="7.6" text-anchor="middle" fill="#222" stroke="#222" stroke-width="0.15">2000</text>
<text x="57.80" y="996.87" font-size="7.6" text-anchor="middle" fill="#222" stroke="#222" stroke-width="0.15">0</text>
<circle cx="117.5" cy="939.4" r="3.5" fill="#d0d0d0"/>
<circle cx="117.5" cy="952.1" r="3.5" fill="#d0d0d0"/>
<circle cx="117.5" cy="964.8" r="3.5" fill="#d0d0d0"/>
<circle cx="117.5" cy="977.6" r="3.8" fill="#000"/>
<circle cx="130.9" cy="939.4" r="3.5" fill="#d0d0d0"/>
<circle cx="130.9" cy="952.1" r="3.5" fill="#d0d0d0"/>
<circle cx="130.9" cy="977.6" r="3.5" fill="#d0d0d0"/>
<circle cx="130.9" cy="964.8" r="3.8" fill="#000"/>
<circle cx="144.4" cy="939.4" r="3.5" fill="#d0d0d0"/>
<circle cx="144.4" cy="964.8" r="3.5" fill="#d0d0d0"/>
<circle cx="144.4" cy="977.6" r="3.5" fill="#d0d0d0"/>
<circle cx="144.4" cy="952.1" r="3.8" fill="#000"/>
<circle cx="157.9" cy="952.1" r="3.5" fill="#d0d0d0"/>
<circle cx="157.9" cy="964.8" r="3.5" fill="#d0d0d0"/>
<circle cx="157.9" cy="977.6" r="3.5" fill="#d0d0d0"/>
<circle cx="157.9" cy="939.4" r="3.8" fill="#000"/>
<circle cx="171.3" cy="939.4" r="3.5" fill="#d0d0d0"/>
<circle cx="171.3" cy="952.1" r="3.5" fill="#d0d0d0"/>
<line x1="171.30" y1="964.80" x2="171.30" y2="977.60" stroke="#000" stroke-width="1.6"/>
<circle cx="171.3" cy="964.8" r="3.8" fill="#000"/>
<circle cx="171.3" cy="977.6" r="3.8" fill="#000"/>
<circle cx="184.8" cy="939.4" r="3.5" fill="#d0d0d0"/>
<circle cx="184.8" cy="964.8" r="3.5" fill="#d0d0d0"/>
<line x1="184.80" y1="952.10" x2="184.80" y2="977.60" stroke="#000" stroke-width="1.6"/>
<circle cx="184.8" cy="952.1" r="3.8" fill="#000"/>
<circle cx="184.8" cy="977.6" r="3.8" fill="#000"/>
<circle cx="198.3" cy="964.8" r="3.5" fill="#d0d0d0"/>
<circle cx="198.3" cy="977.6" r="3.5" fill="#d0d0d0"/>
<line x1="198.30" y1="939.40" x2="198.30" y2="952.10" stroke="#000" stroke-width="1.6"/>
<circle cx="198.3" cy="939.4" r="3.8" fill="#000"/>
<circle cx="198.3" cy="952.1" r="3.8" fill="#000"/>
<text x="229.60" y="658.50" font-size="15.0" font-weight="bold" fill="#000">J</text>
<text x="428.85" y="661.25" font-size="10.3" text-anchor="middle" fill="#1a1a1a" stroke="#1a1a1a" stroke-width="0.31">NIID vs WT</text>
<path d="M394.1 664.8V967.5M401.8 664.8V967.5M409.6 664.8V967.5M417.3 664.8V967.5M425.0 664.8V967.5M432.7 664.8V967.5M440.4 664.8V967.5M448.2 664.8V967.5M455.9 664.8V967.5M463.6 664.8V967.5M386.4 678.5H471.3M386.4 693.0H471.3M386.4 707.6H471.3M386.4 722.1H471.3M386.4 736.6H471.3M386.4 751.1H471.3M386.4 765.7H471.3M386.4 780.2H471.3M386.4 794.7H471.3M386.4 809.3H471.3M386.4 823.8H471.3M386.4 838.3H471.3M386.4 852.9H471.3M386.4 867.4H471.3M386.4 881.9H471.3M386.4 896.5H471.3M386.4 911.0H471.3M386.4 925.5H471.3M386.4 940.0H471.3M386.4 954.6H471.3" stroke="#ececec" stroke-width="0.6" fill="none"/>
<circle cx="403.6" cy="678.5" r="2.25" fill="#b2182b"/>
<circle cx="403.1" cy="693.0" r="1.95" fill="#b2182b"/>
<circle cx="401.3" cy="707.6" r="2.3" fill="#b2182b"/>
<circle cx="401.0" cy="722.1" r="2.35" fill="#b2182b"/>
<circle cx="409.7" cy="736.6" r="1.45" fill="#b2182b"/>
<circle cx="410.8" cy="751.1" r="1.45" fill="#b2182b"/>
<circle cx="419.3" cy="765.7" r="1.25" fill="#b2182b"/>
<circle cx="402.0" cy="780.2" r="1.75" fill="#b2182b"/>
<circle cx="432.5" cy="794.7" r="1.1" fill="#b2182b"/>
<circle cx="432.5" cy="809.3" r="1.1" fill="#b2182b"/>
<circle cx="422.2" cy="823.8" r="1.2" fill="#b2182b"/>
<circle cx="400.7" cy="838.3" r="1.7" fill="#b2182b"/>
<circle cx="400.4" cy="852.9" r="1.7" fill="#b2182b"/>
<circle cx="408.4" cy="867.4" r="1.4" fill="#b2182b"/>
<circle cx="408.4" cy="881.9" r="1.4" fill="#b2182b"/>
<circle cx="410.4" cy="896.5" r="1.4" fill="#b2182b"/>
<circle cx="400.7" cy="911.0" r="1.7" fill="#b2182b"/>
<circle cx="409.4" cy="925.5" r="1.4" fill="#b2182b"/>
<circle cx="414.7" cy="940.0" r="1.2" fill="#b2182b"/>
<circle cx="414.7" cy="954.6" r="1.2" fill="#b2182b"/>
<rect x="386.4" y="664.8" width="84.9" height="302.7" rx="1.5" fill="none" stroke="#6a6a6a" stroke-width="1.0"/>
<text x="386.40" y="976.19" font-size="7.1" text-anchor="middle" fill="#333" stroke="#333" stroke-width="0.14">0</text>
<text x="401.84" y="976.19" font-size="7.1" text-anchor="middle" fill="#333" stroke="#333" stroke-width="0.14">2</text>
<text x="417.28" y="976.19" font-size="7.1" text-anchor="middle" fill="#333" stroke="#333" stroke-width="0.14">4</text>
<text x="432.72" y="976.19" font-size="7.1" text-anchor="middle" fill="#333" stroke="#333" stroke-width="0.14">6</text>
<text x="448.16" y="976.19" font-size="7.1" text-anchor="middle" fill="#333" stroke="#333" stroke-width="0.14">8</text>
<text x="463.60" y="976.19" font-size="7.1" text-anchor="middle" fill="#333" stroke="#333" stroke-width="0.14">10</text>
<text x="520.20" y="661.25" font-size="10.3" text-anchor="middle" fill="#1a1a1a" stroke="#1a1a1a" stroke-width="0.31">GGC-del vs WT</text>
<path d="M485.5 664.8V967.5M493.2 664.8V967.5M501.0 664.8V967.5M508.7 664.8V967.5M516.4 664.8V967.5M524.1 664.8V967.5M531.8 664.8V967.5M539.6 664.8V967.5M547.3 664.8V967.5M555.0 664.8V967.5M477.8 678.5H562.6M477.8 693.0H562.6M477.8 707.6H562.6M477.8 722.1H562.6M477.8 736.6H562.6M477.8 751.1H562.6M477.8 765.7H562.6M477.8 780.2H562.6M477.8 794.7H562.6M477.8 809.3H562.6M477.8 823.8H562.6M477.8 838.3H562.6M477.8 852.9H562.6M477.8 867.4H562.6M477.8 881.9H562.6M477.8 896.5H562.6M477.8 911.0H562.6M477.8 925.5H562.6M477.8 940.0H562.6M477.8 954.6H562.6" stroke="#ececec" stroke-width="0.6" fill="none"/>
<circle cx="495.7" cy="678.5" r="1.9" fill="#b2182b"/>
<circle cx="489.5" cy="693.0" r="1.55" fill="#b2182b"/>
<circle cx="490.7" cy="707.6" r="1.75" fill="#b2182b"/>
<circle cx="489.8" cy="722.1" r="1.75" fill="#b2182b"/>
<circle cx="497.6" cy="736.6" r="1.2" fill="#b8182c"/>
<circle cx="502.3" cy="751.1" r="1.3" fill="#c01d2d"/>
<circle cx="501.4" cy="765.7" r="1.05" fill="#c8232f"/>
<circle cx="498.4" cy="780.2" r="1.7" fill="#b2182b"/>
<circle cx="494.0" cy="794.7" r="0.8" fill="#fcf6c0"/>
<circle cx="499.8" cy="823.8" r="1.15" fill="#f46d43"/>
<circle cx="492.7" cy="838.3" r="1.5" fill="#a8122a"/>
<circle cx="486.9" cy="852.9" r="1.1" fill="#f2d24e"/>
<circle cx="484.9" cy="867.4" r="1.05" fill="#5285bc"/>
<circle cx="484.9" cy="881.9" r="1.05" fill="#5285bc"/>
<circle cx="492.0" cy="896.5" r="1.15" fill="#fba15b"/>
<circle cx="489.1" cy="911.0" r="1.45" fill="#d73027"/>
<circle cx="491.3" cy="925.5" r="1.15" fill="#fdb568"/>
<circle cx="485.4" cy="940.0" r="1.05" fill="#5285bc"/>
<circle cx="492.9" cy="954.6" r="1.1" fill="#f5c05a"/>
<rect x="477.8" y="664.8" width="84.8" height="302.7" rx="1.5" fill="none" stroke="#6a6a6a" stroke-width="1.0"/>
<text x="477.80" y="976.19" font-size="7.1" text-anchor="middle" fill="#333" stroke="#333" stroke-width="0.14">0</text>
<text x="493.24" y="976.19" font-size="7.1" text-anchor="middle" fill="#333" stroke="#333" stroke-width="0.14">2</text>
<text x="508.68" y="976.19" font-size="7.1" text-anchor="middle" fill="#333" stroke="#333" stroke-width="0.14">4</text>
<text x="524.12" y="976.19" font-size="7.1" text-anchor="middle" fill="#333" stroke="#333" stroke-width="0.14">6</text>
<text x="539.56" y="976.19" font-size="7.1" text-anchor="middle" fill="#333" stroke="#333" stroke-width="0.14">8</text>
<text x="555.00" y="976.19" font-size="7.1" text-anchor="middle" fill="#333" stroke="#333" stroke-width="0.14">10</text>
<text x="611.70" y="661.25" font-size="10.3" text-anchor="middle" fill="#1a1a1a" stroke="#1a1a1a" stroke-width="0.31">GGC-rep vs WT</text>
<path d="M577.5 664.8V967.5M585.2 664.8V967.5M593.0 664.8V967.5M600.7 664.8V967.5M608.4 664.8V967.5M616.1 664.8V967.5M623.8 664.8V967.5M631.6 664.8V967.5M639.3 664.8V967.5M647.0 664.8V967.5M569.8 678.5H653.6M569.8 693.0H653.6M569.8 707.6H653.6M569.8 722.1H653.6M569.8 736.6H653.6M569.8 751.1H653.6M569.8 765.7H653.6M569.8 780.2H653.6M569.8 794.7H653.6M569.8 809.3H653.6M569.8 823.8H653.6M569.8 838.3H653.6M569.8 852.9H653.6M569.8 867.4H653.6M569.8 881.9H653.6M569.8 896.5H653.6M569.8 911.0H653.6M569.8 925.5H653.6M569.8 940.0H653.6M569.8 954.6H653.6" stroke="#ececec" stroke-width="0.6" fill="none"/>
<circle cx="586.8" cy="678.5" r="1.9" fill="#b2182b"/>
<circle cx="576.1" cy="693.0" r="1.15" fill="#4575b4"/>
<circle cx="580.8" cy="707.6" r="1.7" fill="#b2182b"/>
<circle cx="581.7" cy="722.1" r="1.7" fill="#b2182b"/>
<circle cx="589.3" cy="736.6" r="1.2" fill="#b2182b"/>
<circle cx="596.5" cy="751.1" r="1.3" fill="#c0182c"/>
<circle cx="587.1" cy="765.7" r="1.05" fill="#f46d43"/>
<circle cx="585.2" cy="780.2" r="1.5" fill="#b2182b"/>
<circle cx="611.3" cy="794.7" r="1.05" fill="#c42030"/>
<circle cx="611.0" cy="823.8" r="1.05" fill="#c01a2d"/>
<circle cx="576.3" cy="838.3" r="1.1" fill="#6095c5"/>
<circle cx="581.8" cy="852.9" r="1.35" fill="#cc2030"/>
<circle cx="583.0" cy="867.4" r="1.1" fill="#fdae61"/>
<circle cx="578.3" cy="881.9" r="1.05" fill="#98d6ec"/>
<circle cx="574.8" cy="896.5" r="1.1" fill="#333c98"/>
<circle cx="583.6" cy="911.0" r="1.35" fill="#d02a2a"/>
<circle cx="578.6" cy="940.0" r="1.05" fill="#8cc8e6"/>
<rect x="569.8" y="664.8" width="83.8" height="302.7" rx="1.5" fill="none" stroke="#6a6a6a" stroke-width="1.0"/>
<text x="569.80" y="976.19" font-size="7.1" text-anchor="middle" fill="#333" stroke="#333" stroke-width="0.14">0</text>
<text x="585.24" y="976.19" font-size="7.1" text-anchor="middle" fill="#333" stroke="#333" stroke-width="0.14">2</text>
<text x="600.68" y="976.19" font-size="7.1" text-anchor="middle" fill="#333" stroke="#333" stroke-width="0.14">4</text>
<text x="616.12" y="976.19" font-size="7.1" text-anchor="middle" fill="#333" stroke="#333" stroke-width="0.14">6</text>
<text x="631.56" y="976.19" font-size="7.1" text-anchor="middle" fill="#333" stroke="#333" stroke-width="0.14">8</text>
<text x="647.00" y="976.19" font-size="7.1" text-anchor="middle" fill="#333" stroke="#333" stroke-width="0.14">10</text>
<text x="383.60" y="680.61" font-size="7.7" text-anchor="end" fill="#1a1a1a" stroke="#1a1a1a" stroke-width="0.15">Nervous system development</text>
<line x1="384.60" y1="678.50" x2="386.40" y2="678.50" stroke="#555" stroke-width="0.7"/>
<text x="383.60" y="695.14" font-size="7.7" text-anchor="end" fill="#1a1a1a" stroke="#1a1a1a" stroke-width="0.15">Neuron projection</text>
<line x1="384.60" y1="693.03" x2="386.40" y2="693.03" stroke="#555" stroke-width="0.7"/>
<text x="383.60" y="709.67" font-size="7.7" text-anchor="end" fill="#1a1a1a" stroke="#1a1a1a" stroke-width="0.15">dendrite</text>
<line x1="384.60" y1="707.56" x2="386.40" y2="707.56" stroke="#555" stroke-width="0.7"/>
<text x="383.60" y="724.20" font-size="7.7" text-anchor="end" fill="#1a1a1a" stroke="#1a1a1a" stroke-width="0.15">synapse</text>
<line x1="384.60" y1="722.09" x2="386.40" y2="722.09" stroke="#555" stroke-width="0.7"/>
<text x="383.60" y="738.73" font-size="7.7" text-anchor="end" fill="#1a1a1a" stroke="#1a1a1a" stroke-width="0.15">GABA-ergic synapse</text>
<line x1="384.60" y1="736.62" x2="386.40" y2="736.62" stroke="#555" stroke-width="0.7"/>
<text x="383.60" y="753.26" font-size="7.7" text-anchor="end" fill="#1a1a1a" stroke="#1a1a1a" stroke-width="0.15">Synapse assembly</text>
<line x1="384.60" y1="751.15" x2="386.40" y2="751.15" stroke="#555" stroke-width="0.7"/>
<text x="383.60" y="767.79" font-size="7.7" text-anchor="end" fill="#1a1a1a" stroke="#1a1a1a" stroke-width="0.15">Regulation of neurotransmitter secretion</text>
<line x1="384.60" y1="765.68" x2="386.40" y2="765.68" stroke="#555" stroke-width="0.7"/>
<text x="383.60" y="782.32" font-size="7.7" text-anchor="end" fill="#1a1a1a" stroke="#1a1a1a" stroke-width="0.15">Neuron differentiation</text>
<line x1="384.60" y1="780.21" x2="386.40" y2="780.21" stroke="#555" stroke-width="0.7"/>
<text x="383.60" y="796.85" font-size="7.7" text-anchor="end" fill="#1a1a1a" stroke="#1a1a1a" stroke-width="0.15">Negative regulation of glutamate secretion</text>
<line x1="384.60" y1="794.74" x2="386.40" y2="794.74" stroke="#555" stroke-width="0.7"/>
<text x="383.60" y="811.38" font-size="7.7" text-anchor="end" fill="#1a1a1a" stroke="#1a1a1a" stroke-width="0.15">Axonemal central apparatus assembly</text>
<line x1="384.60" y1="809.27" x2="386.40" y2="809.27" stroke="#555" stroke-width="0.7"/>
<text x="383.60" y="825.91" font-size="7.7" text-anchor="end" fill="#1a1a1a" stroke="#1a1a1a" stroke-width="0.15">Axonogenesis involved in innervation</text>
<line x1="384.60" y1="823.80" x2="386.40" y2="823.80" stroke="#555" stroke-width="0.7"/>
<text x="383.60" y="840.44" font-size="7.7" text-anchor="end" fill="#1a1a1a" stroke="#1a1a1a" stroke-width="0.15">Neuron migration</text>
<line x1="384.60" y1="838.33" x2="386.40" y2="838.33" stroke="#555" stroke-width="0.7"/>
<text x="383.60" y="854.97" font-size="7.7" text-anchor="end" fill="#1a1a1a" stroke="#1a1a1a" stroke-width="0.15">Synaptic vesicle</text>
<line x1="384.60" y1="852.86" x2="386.40" y2="852.86" stroke="#555" stroke-width="0.7"/>
<text x="383.60" y="869.50" font-size="7.7" text-anchor="end" fill="#1a1a1a" stroke="#1a1a1a" stroke-width="0.15">Dendrite membrane</text>
<line x1="384.60" y1="867.39" x2="386.40" y2="867.39" stroke="#555" stroke-width="0.7"/>
<text x="383.60" y="884.03" font-size="7.7" text-anchor="end" fill="#1a1a1a" stroke="#1a1a1a" stroke-width="0.15">Neuron projection extension</text>
<line x1="384.60" y1="881.92" x2="386.40" y2="881.92" stroke="#555" stroke-width="0.7"/>
<text x="383.60" y="898.56" font-size="7.7" text-anchor="end" fill="#1a1a1a" stroke="#1a1a1a" stroke-width="0.15">Axon initial segment</text>
<line x1="384.60" y1="896.45" x2="386.40" y2="896.45" stroke="#555" stroke-width="0.7"/>
<text x="383.60" y="913.09" font-size="7.7" text-anchor="end" fill="#1a1a1a" stroke="#1a1a1a" stroke-width="0.15">axonogenesis</text>
<line x1="384.60" y1="910.98" x2="386.40" y2="910.98" stroke="#555" stroke-width="0.7"/>
<text x="383.60" y="927.62" font-size="7.7" text-anchor="end" fill="#1a1a1a" stroke="#1a1a1a" stroke-width="0.15">Synaptic vesicle exocytosis</text>
<line x1="384.60" y1="925.51" x2="386.40" y2="925.51" stroke="#555" stroke-width="0.7"/>
<text x="383.60" y="942.15" font-size="7.7" text-anchor="end" fill="#1a1a1a" stroke="#1a1a1a" stroke-width="0.15">Axonemal dynein complex</text>
<line x1="384.60" y1="940.04" x2="386.40" y2="940.04" stroke="#555" stroke-width="0.7"/>
<text x="383.60" y="956.68" font-size="7.7" text-anchor="end" fill="#1a1a1a" stroke="#1a1a1a" stroke-width="0.15">GABA-gated chloride ion channel activity</text>
<line x1="384.60" y1="954.57" x2="386.40" y2="954.57" stroke="#555" stroke-width="0.7"/>
<text x="519.40" y="992.28" font-size="10.1" text-anchor="middle" fill="#1a1a1a" stroke="#1a1a1a" stroke-width="0.30">Enrichment score</text>
<text x="658.30" y="693.57" font-size="7.6" fill="#1a1a1a" stroke="#1a1a1a" stroke-width="0.15">Gene</text>
<text x="658.30" y="702.57" font-size="7.6" fill="#1a1a1a" stroke="#1a1a1a" stroke-width="0.15">number</text>
<circle cx="666.2" cy="713.1" r="0.9" fill="#000"/>
<text x="671.60" y="715.95" font-size="7.0" fill="#1a1a1a" stroke="#1a1a1a" stroke-width="0.14">0</text>
<circle cx="666.2" cy="742.0" r="1.3" fill="#000"/>
<text x="671.60" y="744.85" font-size="7.0" fill="#1a1a1a" stroke="#1a1a1a" stroke-width="0.14">30</text>
<circle cx="666.2" cy="771.8" r="2.4" fill="#000"/>
<text x="671.60" y="774.65" font-size="7.0" fill="#1a1a1a" stroke="#1a1a1a" stroke-width="0.14">143</text>
<text x="658.00" y="790.27" font-size="7.6" fill="#1a1a1a" stroke="#1a1a1a" stroke-width="0.15">P-value</text>
<defs><linearGradient id="pcb" x1="0" y1="0" x2="0" y2="1"><stop offset="0.000" stop-color="#323997"/><stop offset="0.133" stop-color="#4575b4"/><stop offset="0.231" stop-color="#74add1"/><stop offset="0.329" stop-color="#abd9e9"/><stop offset="0.413" stop-color="#e0f3f8"/><stop offset="0.497" stop-color="#ffffbf"/><stop offset="0.552" stop-color="#fee090"/><stop offset="0.650" stop-color="#fdae61"/><stop offset="0.720" stop-color="#f46d43"/><stop offset="0.860" stop-color="#d73027"/><stop offset="1.000" stop-color="#a50026"/></linearGradient></defs>
<rect x="657.70" y="796.30" width="14.10" height="77.50" fill="url(#pcb)"/>
<text x="673.60" y="811.35" font-size="7.0" fill="#1a1a1a" stroke="#1a1a1a" stroke-width="0.14">0.6</text>
<text x="673.60" y="832.95" font-size="7.0" fill="#1a1a1a" stroke="#1a1a1a" stroke-width="0.14">0.4</text>
<text x="673.60" y="854.35" font-size="7.0" fill="#1a1a1a" stroke="#1a1a1a" stroke-width="0.14">0.2</text>
<text x="673.60" y="876.35" font-size="7.0" fill="#1a1a1a" stroke="#1a1a1a" stroke-width="0.14">0</text>
</svg></body></html>
